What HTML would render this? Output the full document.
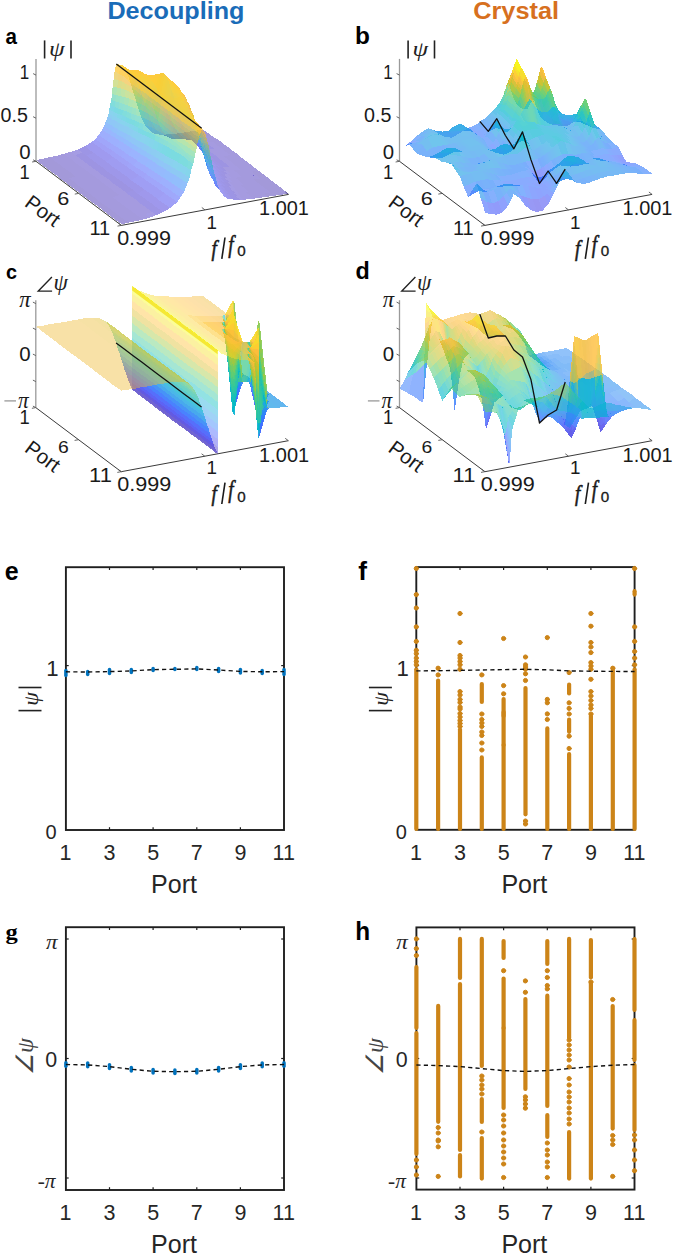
<!DOCTYPE html>
<html><head><meta charset="utf-8"><style>
html,body{margin:0;padding:0;background:#fff;}
svg{display:block;}
.c0{fill:#3e26a8}
.c1{fill:#3f29b0}
.c2{fill:#402bb8}
.c3{fill:#422ebf}
.c4{fill:#4331c7}
.c5{fill:#4434ce}
.c6{fill:#4537d5}
.c7{fill:#463adb}
.c8{fill:#463de0}
.c9{fill:#4741e5}
.c10{fill:#4745e9}
.c11{fill:#4849ed}
.c12{fill:#484cf0}
.c13{fill:#4850f3}
.c14{fill:#4854f5}
.c15{fill:#4758f8}
.c16{fill:#475bfa}
.c17{fill:#465ffb}
.c18{fill:#4563fc}
.c19{fill:#4367fd}
.c20{fill:#416bfe}
.c21{fill:#3f6fff}
.c22{fill:#3b73fe}
.c23{fill:#3777fe}
.c24{fill:#337bfc}
.c25{fill:#307ffb}
.c26{fill:#2e83f9}
.c27{fill:#2e86f7}
.c28{fill:#2d8af5}
.c29{fill:#2d8df2}
.c30{fill:#2b91ef}
.c31{fill:#2994ed}
.c32{fill:#2798ea}
.c33{fill:#259be8}
.c34{fill:#249ee6}
.c35{fill:#22a1e4}
.c36{fill:#20a4e3}
.c37{fill:#1ea7e1}
.c38{fill:#1caadf}
.c39{fill:#19addc}
.c40{fill:#15afd9}
.c41{fill:#10b2d5}
.c42{fill:#09b4d1}
.c43{fill:#04b6cd}
.c44{fill:#01b8c9}
.c45{fill:#02bac4}
.c46{fill:#06bcc0}
.c47{fill:#0dbdbb}
.c48{fill:#16bfb7}
.c49{fill:#1ec0b2}
.c50{fill:#25c2ad}
.c51{fill:#2ac3a8}
.c52{fill:#2fc5a3}
.c53{fill:#32c69e}
.c54{fill:#36c899}
.c55{fill:#3bc993}
.c56{fill:#41ca8d}
.c57{fill:#48cb86}
.c58{fill:#50cc80}
.c59{fill:#58cc79}
.c60{fill:#61cd71}
.c61{fill:#6acd6a}
.c62{fill:#73cd62}
.c63{fill:#7dcc5b}
.c64{fill:#87cb54}
.c65{fill:#91ca4c}
.c66{fill:#9ac945}
.c67{fill:#a3c83e}
.c68{fill:#adc638}
.c69{fill:#b5c533}
.c70{fill:#bec32e}
.c71{fill:#c6c22a}
.c72{fill:#cec028}
.c73{fill:#d6be28}
.c74{fill:#ddbd29}
.c75{fill:#e4bb2c}
.c76{fill:#eaba31}
.c77{fill:#f0ba36}
.c78{fill:#f6ba3b}
.c79{fill:#fabb3d}
.c80{fill:#febe3c}
.c81{fill:#fec239}
.c82{fill:#fec636}
.c83{fill:#feca34}
.c84{fill:#fdce31}
.c85{fill:#fbd22f}
.c86{fill:#f9d62d}
.c87{fill:#f8da2b}
.c88{fill:#f6df29}
.c89{fill:#f5e327}
.c90{fill:#f5e725}
.c91{fill:#f5eb23}
.c92{fill:#f6ef20}
.c93{fill:#f7f31d}
.c94{fill:#f8f719}
.c95{fill:#f9fb15}
.a11{fill-opacity:0.44}
.a12{fill-opacity:0.48}
.a13{fill-opacity:0.52}
.a14{fill-opacity:0.56}
.a15{fill-opacity:0.60}
.a16{fill-opacity:0.64}
.a17{fill-opacity:0.68}
.a18{fill-opacity:0.72}
.a19{fill-opacity:0.76}
.a20{fill-opacity:0.80}
.a21{fill-opacity:0.84}
.a22{fill-opacity:0.88}
</style></head><body>
<svg width="675" height="1255" viewBox="0 0 675 1255">
<rect width="675" height="1255" fill="#fff"/>
<text transform="translate(109.00,19.03) scale(1.085,1)" x="-1.51" y="0" style="font-family:'Liberation Sans';font-weight:bold;font-size:23.21px;fill:#1a6cb8;">Decoupling</text>
<text transform="translate(474.20,19.21) scale(1.067,1)" x="-0.95" y="0" style="font-family:'Liberation Sans';font-weight:bold;font-size:23.74px;fill:#d7701e;">Crystal</text>
<text transform="translate(6.20,43.77) scale(0.912,1)" x="-0.68" y="0" style="font-family:'Liberation Sans';font-weight:bold;font-size:22.55px;fill:#000;">a</text>
<text transform="translate(356.60,44.16) scale(1.011,1)" x="-1.57" y="0" style="font-family:'Liberation Sans';font-weight:bold;font-size:24.08px;fill:#000;">b</text>
<text transform="translate(6.70,279.20) scale(0.981,1)" x="-0.81" y="0" style="font-family:'Liberation Sans';font-weight:bold;font-size:20.18px;fill:#000;">c</text>
<text transform="translate(356.30,279.16) scale(0.970,1)" x="-0.96" y="0" style="font-family:'Liberation Sans';font-weight:bold;font-size:24.08px;fill:#000;">d</text>
<text transform="translate(5.80,580.05) scale(1.004,1)" x="-1.00" y="0" style="font-family:'Liberation Sans';font-weight:bold;font-size:24.91px;fill:#000;">e</text>
<text transform="translate(358.70,580.00) scale(1.023,1)" x="-0.38" y="0" style="font-family:'Liberation Sans';font-weight:bold;font-size:25.66px;fill:#000;">f</text>
<text transform="translate(6.20,939.20) scale(1.147,1)" x="-0.53" y="0" style="font-family:'Liberation Serif';font-weight:bold;font-size:21.37px;fill:#000;">g</text>
<text transform="translate(356.90,939.90) scale(0.971,1)" x="-1.76" y="0" style="font-family:'Liberation Sans';font-weight:bold;font-size:25.10px;fill:#000;">h</text>
<rect x="65.9" y="567.2" width="218.1" height="262.8" fill="none" stroke="#1f1f1f" stroke-width="1.9"/>
<line x1="109.5" y1="567.2" x2="109.5" y2="570.0" stroke="#1f1f1f" stroke-width="1.2"/>
<line x1="109.5" y1="830.0" x2="109.5" y2="827.2" stroke="#1f1f1f" stroke-width="1.2"/>
<line x1="153.1" y1="567.2" x2="153.1" y2="570.0" stroke="#1f1f1f" stroke-width="1.2"/>
<line x1="153.1" y1="830.0" x2="153.1" y2="827.2" stroke="#1f1f1f" stroke-width="1.2"/>
<line x1="196.8" y1="567.2" x2="196.8" y2="570.0" stroke="#1f1f1f" stroke-width="1.2"/>
<line x1="196.8" y1="830.0" x2="196.8" y2="827.2" stroke="#1f1f1f" stroke-width="1.2"/>
<line x1="240.4" y1="567.2" x2="240.4" y2="570.0" stroke="#1f1f1f" stroke-width="1.2"/>
<line x1="240.4" y1="830.0" x2="240.4" y2="827.2" stroke="#1f1f1f" stroke-width="1.2"/>
<line x1="65.9" y1="665.6" x2="68.7" y2="665.6" stroke="#1f1f1f" stroke-width="1.2"/>
<line x1="284.0" y1="665.6" x2="281.2" y2="665.6" stroke="#1f1f1f" stroke-width="1.2"/>
<g fill="#0072bd" stroke="#0072bd" stroke-linecap="round">
<line x1="65.9" y1="670.6" x2="65.9" y2="675.4" stroke-width="3.5"/>
<line x1="87.7" y1="671.6" x2="87.7" y2="674.4" stroke-width="3.5"/>
<line x1="109.5" y1="669.6" x2="109.5" y2="673.4" stroke-width="3.5"/>
<line x1="131.3" y1="669.6" x2="131.3" y2="672.4" stroke-width="3.5"/>
<line x1="153.1" y1="668.6" x2="153.1" y2="670.4" stroke-width="3.5"/>
<line x1="174.9" y1="668.6" x2="174.9" y2="669.4" stroke-width="3.5"/>
<line x1="196.8" y1="667.6" x2="196.8" y2="669.4" stroke-width="3.5"/>
<line x1="218.6" y1="668.6" x2="218.6" y2="671.4" stroke-width="3.5"/>
<line x1="240.4" y1="669.6" x2="240.4" y2="672.9" stroke-width="3.5"/>
<line x1="262.2" y1="670.6" x2="262.2" y2="673.4" stroke-width="3.5"/>
<line x1="284.0" y1="669.6" x2="284.0" y2="674.4" stroke-width="3.5"/>
</g>
<polyline points="65.9,671.8 87.7,672.0 109.5,671.6 131.3,670.9 153.1,669.6 174.9,669.3 196.8,668.9 218.6,670.0 240.4,671.4 262.2,671.8 284.0,671.6" fill="none" stroke="#111" stroke-width="1.4" stroke-dasharray="4.2,3.2"/>
<rect x="65.9" y="927.2" width="218.1" height="262.8" fill="none" stroke="#1f1f1f" stroke-width="1.9"/>
<line x1="109.5" y1="927.2" x2="109.5" y2="930.0" stroke="#1f1f1f" stroke-width="1.2"/>
<line x1="109.5" y1="1190.0" x2="109.5" y2="1187.2" stroke="#1f1f1f" stroke-width="1.2"/>
<line x1="153.1" y1="927.2" x2="153.1" y2="930.0" stroke="#1f1f1f" stroke-width="1.2"/>
<line x1="153.1" y1="1190.0" x2="153.1" y2="1187.2" stroke="#1f1f1f" stroke-width="1.2"/>
<line x1="196.8" y1="927.2" x2="196.8" y2="930.0" stroke="#1f1f1f" stroke-width="1.2"/>
<line x1="196.8" y1="1190.0" x2="196.8" y2="1187.2" stroke="#1f1f1f" stroke-width="1.2"/>
<line x1="240.4" y1="927.2" x2="240.4" y2="930.0" stroke="#1f1f1f" stroke-width="1.2"/>
<line x1="240.4" y1="1190.0" x2="240.4" y2="1187.2" stroke="#1f1f1f" stroke-width="1.2"/>
<line x1="65.9" y1="939.0" x2="68.7" y2="939.0" stroke="#1f1f1f" stroke-width="1.2"/>
<line x1="284.0" y1="939.0" x2="281.2" y2="939.0" stroke="#1f1f1f" stroke-width="1.2"/>
<line x1="65.9" y1="1058.5" x2="68.7" y2="1058.5" stroke="#1f1f1f" stroke-width="1.2"/>
<line x1="284.0" y1="1058.5" x2="281.2" y2="1058.5" stroke="#1f1f1f" stroke-width="1.2"/>
<line x1="65.9" y1="1178.0" x2="68.7" y2="1178.0" stroke="#1f1f1f" stroke-width="1.2"/>
<line x1="284.0" y1="1178.0" x2="281.2" y2="1178.0" stroke="#1f1f1f" stroke-width="1.2"/>
<g fill="#0072bd" stroke="#0072bd" stroke-linecap="round">
<line x1="65.9" y1="1062.7" x2="65.9" y2="1066.3" stroke-width="3.5"/>
<line x1="87.7" y1="1063.1" x2="87.7" y2="1066.7" stroke-width="3.5"/>
<line x1="109.5" y1="1064.8" x2="109.5" y2="1068.4" stroke-width="3.5"/>
<line x1="131.3" y1="1067.5" x2="131.3" y2="1071.1" stroke-width="3.5"/>
<line x1="153.1" y1="1069.5" x2="153.1" y2="1073.1" stroke-width="3.5"/>
<line x1="174.9" y1="1069.9" x2="174.9" y2="1073.5" stroke-width="3.5"/>
<line x1="196.8" y1="1069.5" x2="196.8" y2="1073.1" stroke-width="3.5"/>
<line x1="218.6" y1="1067.5" x2="218.6" y2="1071.1" stroke-width="3.5"/>
<line x1="240.4" y1="1064.8" x2="240.4" y2="1068.4" stroke-width="3.5"/>
<line x1="262.2" y1="1063.1" x2="262.2" y2="1066.7" stroke-width="3.5"/>
<line x1="284.0" y1="1062.7" x2="284.0" y2="1066.3" stroke-width="3.5"/>
</g>
<polyline points="65.9,1064.5 87.7,1064.9 109.5,1066.6 131.3,1069.3 153.1,1071.3 174.9,1071.7 196.8,1071.3 218.6,1069.3 240.4,1066.6 262.2,1064.9 284.0,1064.5" fill="none" stroke="#111" stroke-width="1.4" stroke-dasharray="4.2,3.2"/>
<rect x="416.3" y="567.1" width="218.3" height="262.7" fill="none" stroke="#1f1f1f" stroke-width="1.9"/>
<line x1="460.0" y1="567.1" x2="460.0" y2="569.9" stroke="#1f1f1f" stroke-width="1.2"/>
<line x1="460.0" y1="829.8" x2="460.0" y2="827.0" stroke="#1f1f1f" stroke-width="1.2"/>
<line x1="503.6" y1="567.1" x2="503.6" y2="569.9" stroke="#1f1f1f" stroke-width="1.2"/>
<line x1="503.6" y1="829.8" x2="503.6" y2="827.0" stroke="#1f1f1f" stroke-width="1.2"/>
<line x1="547.3" y1="567.1" x2="547.3" y2="569.9" stroke="#1f1f1f" stroke-width="1.2"/>
<line x1="547.3" y1="829.8" x2="547.3" y2="827.0" stroke="#1f1f1f" stroke-width="1.2"/>
<line x1="590.9" y1="567.1" x2="590.9" y2="569.9" stroke="#1f1f1f" stroke-width="1.2"/>
<line x1="590.9" y1="829.8" x2="590.9" y2="827.0" stroke="#1f1f1f" stroke-width="1.2"/>
<line x1="416.3" y1="665.6" x2="419.1" y2="665.6" stroke="#1f1f1f" stroke-width="1.2"/>
<line x1="634.6" y1="665.6" x2="631.8" y2="665.6" stroke="#1f1f1f" stroke-width="1.2"/>
<g fill="#cc8418" stroke="#cc8418" stroke-linecap="round">
<circle cx="416.3" cy="568.5" r="2.1"/>
<circle cx="416.3" cy="594.6" r="2.1"/>
<circle cx="416.3" cy="608.0" r="2.1"/>
<circle cx="416.3" cy="626.9" r="2.1"/>
<circle cx="416.3" cy="641.4" r="2.1"/>
<circle cx="416.3" cy="650.3" r="2.1"/>
<circle cx="416.3" cy="653.7" r="2.1"/>
<circle cx="416.3" cy="658.1" r="2.1"/>
<circle cx="416.3" cy="661.5" r="2.1"/>
<circle cx="416.3" cy="664.8" r="2.1"/>
<line x1="416.3" y1="669.3" x2="416.3" y2="829.0" stroke-width="4.2"/>
<circle cx="438.1" cy="668.2" r="2.1"/>
<circle cx="438.1" cy="674.9" r="2.1"/>
<line x1="438.1" y1="680.5" x2="438.1" y2="829.0" stroke-width="4.2"/>
<circle cx="460.0" cy="613.5" r="2.1"/>
<circle cx="460.0" cy="642.5" r="2.1"/>
<circle cx="460.0" cy="655.5" r="2.1"/>
<circle cx="460.0" cy="658.1" r="2.1"/>
<circle cx="460.0" cy="661.5" r="2.1"/>
<circle cx="460.0" cy="664.8" r="2.1"/>
<circle cx="460.0" cy="669.3" r="2.1"/>
<circle cx="460.0" cy="691.6" r="2.1"/>
<circle cx="460.0" cy="695.0" r="2.1"/>
<circle cx="460.0" cy="699.4" r="2.1"/>
<circle cx="460.0" cy="702.5" r="2.1"/>
<circle cx="460.0" cy="707.0" r="2.1"/>
<circle cx="460.0" cy="709.0" r="2.1"/>
<circle cx="460.0" cy="713.5" r="2.1"/>
<circle cx="460.0" cy="717.0" r="2.1"/>
<circle cx="460.0" cy="720.5" r="2.1"/>
<circle cx="460.0" cy="723.5" r="2.1"/>
<circle cx="460.0" cy="726.5" r="2.1"/>
<line x1="460.0" y1="729.5" x2="460.0" y2="829.0" stroke-width="4.2"/>
<circle cx="481.8" cy="674.9" r="2.1"/>
<line x1="481.8" y1="684.0" x2="481.8" y2="702.0" stroke-width="4.2"/>
<circle cx="481.8" cy="714.0" r="2.1"/>
<circle cx="481.8" cy="719.5" r="2.1"/>
<circle cx="481.8" cy="723.0" r="2.1"/>
<circle cx="481.8" cy="726.5" r="2.1"/>
<circle cx="481.8" cy="732.0" r="2.1"/>
<circle cx="481.8" cy="735.5" r="2.1"/>
<circle cx="481.8" cy="743.0" r="2.1"/>
<circle cx="481.8" cy="750.0" r="2.1"/>
<line x1="481.8" y1="757.4" x2="481.8" y2="829.0" stroke-width="4.2"/>
<circle cx="503.6" cy="638.5" r="2.1"/>
<circle cx="503.6" cy="685.6" r="2.1"/>
<circle cx="503.6" cy="693.8" r="2.1"/>
<line x1="503.6" y1="699.0" x2="503.6" y2="716.0" stroke-width="4.2"/>
<line x1="503.6" y1="712.0" x2="503.6" y2="745.0" stroke-width="4.2"/>
<line x1="503.6" y1="745.0" x2="503.6" y2="829.0" stroke-width="4.2"/>
<circle cx="525.5" cy="657.0" r="2.1"/>
<circle cx="525.5" cy="664.8" r="2.1"/>
<circle cx="525.5" cy="667.0" r="2.1"/>
<circle cx="525.5" cy="669.3" r="2.1"/>
<circle cx="525.5" cy="673.8" r="2.1"/>
<circle cx="525.5" cy="680.5" r="2.1"/>
<line x1="525.5" y1="688.0" x2="525.5" y2="814.3" stroke-width="4.2"/>
<circle cx="525.5" cy="821.0" r="2.1"/>
<circle cx="525.5" cy="824.0" r="2.1"/>
<circle cx="547.3" cy="637.6" r="2.1"/>
<circle cx="547.3" cy="699.4" r="2.1"/>
<circle cx="547.3" cy="702.8" r="2.1"/>
<circle cx="547.3" cy="713.9" r="2.1"/>
<circle cx="547.3" cy="719.5" r="2.1"/>
<line x1="547.3" y1="728.4" x2="547.3" y2="829.0" stroke-width="4.2"/>
<circle cx="569.1" cy="672.6" r="2.1"/>
<line x1="569.1" y1="684.5" x2="569.1" y2="693.5" stroke-width="4.2"/>
<circle cx="569.1" cy="702.8" r="2.1"/>
<circle cx="569.1" cy="708.4" r="2.1"/>
<circle cx="569.1" cy="714.0" r="2.1"/>
<line x1="569.1" y1="719.5" x2="569.1" y2="731.8" stroke-width="4.2"/>
<circle cx="569.1" cy="736.2" r="2.1"/>
<circle cx="569.1" cy="748.5" r="2.1"/>
<line x1="569.1" y1="754.0" x2="569.1" y2="829.0" stroke-width="4.2"/>
<circle cx="590.9" cy="613.5" r="2.1"/>
<circle cx="590.9" cy="626.2" r="2.1"/>
<circle cx="590.9" cy="642.5" r="2.1"/>
<circle cx="590.9" cy="647.0" r="2.1"/>
<circle cx="590.9" cy="652.6" r="2.1"/>
<circle cx="590.9" cy="662.6" r="2.1"/>
<circle cx="590.9" cy="666.0" r="2.1"/>
<circle cx="590.9" cy="669.3" r="2.1"/>
<circle cx="590.9" cy="679.3" r="2.1"/>
<circle cx="590.9" cy="691.6" r="2.1"/>
<circle cx="590.9" cy="696.0" r="2.1"/>
<circle cx="590.9" cy="700.5" r="2.1"/>
<circle cx="590.9" cy="705.0" r="2.1"/>
<circle cx="590.9" cy="708.4" r="2.1"/>
<circle cx="590.9" cy="714.0" r="2.1"/>
<line x1="590.9" y1="716.0" x2="590.9" y2="829.0" stroke-width="4.2"/>
<circle cx="612.8" cy="668.2" r="2.1"/>
<line x1="612.8" y1="670.4" x2="612.8" y2="829.0" stroke-width="4.2"/>
<circle cx="634.6" cy="568.5" r="2.1"/>
<line x1="634.6" y1="591.2" x2="634.6" y2="594.6" stroke-width="4.2"/>
<circle cx="634.6" cy="626.9" r="2.1"/>
<circle cx="634.6" cy="641.4" r="2.1"/>
<circle cx="634.6" cy="651.5" r="2.1"/>
<circle cx="634.6" cy="658.1" r="2.1"/>
<circle cx="634.6" cy="664.8" r="2.1"/>
<line x1="634.6" y1="669.3" x2="634.6" y2="829.0" stroke-width="4.2"/>
</g>
<polyline points="416.3,670.9 438.1,670.7 460.0,670.4 481.8,670.0 503.6,669.6 525.5,669.3 547.3,669.8 569.1,670.9 590.9,671.2 612.8,671.4 634.6,671.5" fill="none" stroke="#111" stroke-width="1.4" stroke-dasharray="4.2,3.2"/>
<rect x="416.4" y="927.4" width="218.1" height="262.2" fill="none" stroke="#1f1f1f" stroke-width="1.9"/>
<line x1="460.0" y1="927.4" x2="460.0" y2="930.2" stroke="#1f1f1f" stroke-width="1.2"/>
<line x1="460.0" y1="1189.6" x2="460.0" y2="1186.8" stroke="#1f1f1f" stroke-width="1.2"/>
<line x1="503.6" y1="927.4" x2="503.6" y2="930.2" stroke="#1f1f1f" stroke-width="1.2"/>
<line x1="503.6" y1="1189.6" x2="503.6" y2="1186.8" stroke="#1f1f1f" stroke-width="1.2"/>
<line x1="547.3" y1="927.4" x2="547.3" y2="930.2" stroke="#1f1f1f" stroke-width="1.2"/>
<line x1="547.3" y1="1189.6" x2="547.3" y2="1186.8" stroke="#1f1f1f" stroke-width="1.2"/>
<line x1="590.9" y1="927.4" x2="590.9" y2="930.2" stroke="#1f1f1f" stroke-width="1.2"/>
<line x1="590.9" y1="1189.6" x2="590.9" y2="1186.8" stroke="#1f1f1f" stroke-width="1.2"/>
<line x1="416.4" y1="939.0" x2="419.2" y2="939.0" stroke="#1f1f1f" stroke-width="1.2"/>
<line x1="634.5" y1="939.0" x2="631.7" y2="939.0" stroke="#1f1f1f" stroke-width="1.2"/>
<line x1="416.4" y1="1058.5" x2="419.2" y2="1058.5" stroke="#1f1f1f" stroke-width="1.2"/>
<line x1="634.5" y1="1058.5" x2="631.7" y2="1058.5" stroke="#1f1f1f" stroke-width="1.2"/>
<line x1="416.4" y1="1178.0" x2="419.2" y2="1178.0" stroke="#1f1f1f" stroke-width="1.2"/>
<line x1="634.5" y1="1178.0" x2="631.7" y2="1178.0" stroke="#1f1f1f" stroke-width="1.2"/>
<g fill="#cc8418" stroke="#cc8418" stroke-linecap="round">
<circle cx="416.4" cy="938.9" r="2.1"/>
<circle cx="416.4" cy="948.6" r="2.1"/>
<circle cx="416.4" cy="955.5" r="2.1"/>
<line x1="416.4" y1="967.0" x2="416.4" y2="1028.0" stroke-width="4.2"/>
<line x1="416.4" y1="1033.0" x2="416.4" y2="1154.0" stroke-width="4.2"/>
<circle cx="416.4" cy="1160.0" r="2.1"/>
<circle cx="416.4" cy="1167.0" r="2.1"/>
<circle cx="416.4" cy="1175.0" r="2.1"/>
<line x1="438.2" y1="1005.9" x2="438.2" y2="1121.8" stroke-width="4.2"/>
<circle cx="438.2" cy="1127.5" r="2.1"/>
<circle cx="438.2" cy="1133.0" r="2.1"/>
<circle cx="438.2" cy="1140.0" r="2.1"/>
<circle cx="438.2" cy="1141.0" r="2.1"/>
<circle cx="438.2" cy="1146.8" r="2.1"/>
<circle cx="438.2" cy="1176.4" r="2.1"/>
<line x1="460.0" y1="938.9" x2="460.0" y2="978.0" stroke-width="4.2"/>
<line x1="460.0" y1="984.0" x2="460.0" y2="1150.0" stroke-width="4.2"/>
<line x1="460.0" y1="1155.0" x2="460.0" y2="1176.4" stroke-width="4.2"/>
<line x1="481.8" y1="938.9" x2="481.8" y2="1066.0" stroke-width="4.2"/>
<circle cx="481.8" cy="1076.0" r="2.1"/>
<circle cx="481.8" cy="1080.0" r="2.1"/>
<circle cx="481.8" cy="1085.0" r="2.1"/>
<circle cx="481.8" cy="1089.0" r="2.1"/>
<circle cx="481.8" cy="1094.0" r="2.1"/>
<line x1="481.8" y1="1099.0" x2="481.8" y2="1122.0" stroke-width="4.2"/>
<circle cx="481.8" cy="1132.0" r="2.1"/>
<line x1="481.8" y1="1138.0" x2="481.8" y2="1178.6" stroke-width="4.2"/>
<line x1="503.6" y1="941.0" x2="503.6" y2="958.0" stroke-width="4.2"/>
<circle cx="503.6" cy="970.7" r="2.1"/>
<line x1="503.6" y1="978.6" x2="503.6" y2="1028.0" stroke-width="4.2"/>
<line x1="503.6" y1="1028.0" x2="503.6" y2="1108.0" stroke-width="4.2"/>
<circle cx="503.6" cy="1115.0" r="2.1"/>
<circle cx="503.6" cy="1120.0" r="2.1"/>
<circle cx="503.6" cy="1126.0" r="2.1"/>
<circle cx="503.6" cy="1133.0" r="2.1"/>
<circle cx="503.6" cy="1140.0" r="2.1"/>
<circle cx="503.6" cy="1146.0" r="2.1"/>
<circle cx="503.6" cy="1152.0" r="2.1"/>
<circle cx="503.6" cy="1158.0" r="2.1"/>
<circle cx="503.6" cy="1164.0" r="2.1"/>
<circle cx="503.6" cy="1177.5" r="2.1"/>
<circle cx="525.4" cy="980.9" r="2.1"/>
<circle cx="525.4" cy="992.3" r="2.1"/>
<line x1="525.4" y1="999.0" x2="525.4" y2="1088.9" stroke-width="4.2"/>
<circle cx="525.4" cy="1096.8" r="2.1"/>
<circle cx="525.4" cy="1100.0" r="2.1"/>
<circle cx="525.4" cy="1104.0" r="2.1"/>
<circle cx="525.4" cy="1108.2" r="2.1"/>
<line x1="547.3" y1="941.0" x2="547.3" y2="964.0" stroke-width="4.2"/>
<circle cx="547.3" cy="970.7" r="2.1"/>
<circle cx="547.3" cy="977.5" r="2.1"/>
<circle cx="547.3" cy="985.5" r="2.1"/>
<circle cx="547.3" cy="988.9" r="2.1"/>
<line x1="547.3" y1="995.7" x2="547.3" y2="1105.9" stroke-width="4.2"/>
<line x1="547.3" y1="1115.0" x2="547.3" y2="1137.0" stroke-width="4.2"/>
<circle cx="547.3" cy="1143.0" r="2.1"/>
<circle cx="547.3" cy="1150.0" r="2.1"/>
<circle cx="547.3" cy="1155.0" r="2.1"/>
<circle cx="547.3" cy="1162.0" r="2.1"/>
<circle cx="547.3" cy="1167.0" r="2.1"/>
<circle cx="547.3" cy="1177.5" r="2.1"/>
<line x1="569.1" y1="938.9" x2="569.1" y2="1037.7" stroke-width="4.2"/>
<circle cx="569.1" cy="1040.0" r="2.1"/>
<circle cx="569.1" cy="1045.0" r="2.1"/>
<circle cx="569.1" cy="1050.0" r="2.1"/>
<circle cx="569.1" cy="1055.0" r="2.1"/>
<circle cx="569.1" cy="1060.0" r="2.1"/>
<circle cx="569.1" cy="1067.0" r="2.1"/>
<circle cx="569.1" cy="1078.6" r="2.1"/>
<circle cx="569.1" cy="1085.0" r="2.1"/>
<circle cx="569.1" cy="1092.0" r="2.1"/>
<circle cx="569.1" cy="1097.0" r="2.1"/>
<circle cx="569.1" cy="1102.0" r="2.1"/>
<circle cx="569.1" cy="1108.0" r="2.1"/>
<circle cx="569.1" cy="1113.0" r="2.1"/>
<circle cx="569.1" cy="1119.0" r="2.1"/>
<circle cx="569.1" cy="1124.0" r="2.1"/>
<line x1="569.1" y1="1132.0" x2="569.1" y2="1178.6" stroke-width="4.2"/>
<line x1="590.9" y1="940.0" x2="590.9" y2="977.5" stroke-width="4.2"/>
<circle cx="590.9" cy="982.0" r="2.1"/>
<line x1="590.9" y1="983.0" x2="590.9" y2="1178.6" stroke-width="4.2"/>
<circle cx="612.7" cy="999.5" r="2.1"/>
<line x1="612.7" y1="1006.0" x2="612.7" y2="1128.6" stroke-width="4.2"/>
<circle cx="612.7" cy="1135.5" r="2.1"/>
<circle cx="612.7" cy="1140.0" r="2.1"/>
<circle cx="612.7" cy="1144.5" r="2.1"/>
<circle cx="612.7" cy="1176.4" r="2.1"/>
<line x1="634.5" y1="939.0" x2="634.5" y2="1010.0" stroke-width="4.2"/>
<line x1="634.5" y1="1020.0" x2="634.5" y2="1060.0" stroke-width="4.2"/>
<line x1="634.5" y1="1065.0" x2="634.5" y2="1130.0" stroke-width="4.2"/>
<circle cx="634.5" cy="1135.0" r="2.1"/>
<circle cx="634.5" cy="1140.0" r="2.1"/>
<circle cx="634.5" cy="1150.0" r="2.1"/>
<circle cx="634.5" cy="1160.0" r="2.1"/>
<circle cx="634.5" cy="1170.7" r="2.1"/>
</g>
<polyline points="416.4,1065.0 438.2,1065.6 460.0,1066.6 481.8,1068.6 503.6,1070.6 525.4,1071.4 547.3,1070.6 569.1,1068.6 590.9,1066.6 612.7,1065.2 634.5,1064.5" fill="none" stroke="#111" stroke-width="1.4" stroke-dasharray="4.2,3.2"/>
<text x="59.61" y="860.04" style="font-family:'Liberation Sans';font-size:21.5px;fill:#262626;">1</text>
<text x="103.55" y="860.25" style="font-family:'Liberation Sans';font-size:21.5px;fill:#262626;">3</text>
<text x="147.17" y="860.04" style="font-family:'Liberation Sans';font-size:21.5px;fill:#262626;">5</text>
<text x="190.79" y="860.04" style="font-family:'Liberation Sans';font-size:21.5px;fill:#262626;">7</text>
<text x="234.41" y="860.25" style="font-family:'Liberation Sans';font-size:21.5px;fill:#262626;">9</text>
<text x="272.55" y="860.04" style="font-family:'Liberation Sans';font-size:21.5px;fill:#262626;">11</text>
<text x="410.01" y="860.04" style="font-family:'Liberation Sans';font-size:21.5px;fill:#262626;">1</text>
<text x="453.99" y="860.25" style="font-family:'Liberation Sans';font-size:21.5px;fill:#262626;">3</text>
<text x="497.65" y="860.04" style="font-family:'Liberation Sans';font-size:21.5px;fill:#262626;">5</text>
<text x="541.31" y="860.04" style="font-family:'Liberation Sans';font-size:21.5px;fill:#262626;">7</text>
<text x="584.97" y="860.25" style="font-family:'Liberation Sans';font-size:21.5px;fill:#262626;">9</text>
<text x="623.15" y="860.04" style="font-family:'Liberation Sans';font-size:21.5px;fill:#262626;">11</text>
<text x="59.61" y="1219.84" style="font-family:'Liberation Sans';font-size:21.5px;fill:#262626;">1</text>
<text x="103.55" y="1220.05" style="font-family:'Liberation Sans';font-size:21.5px;fill:#262626;">3</text>
<text x="147.17" y="1219.84" style="font-family:'Liberation Sans';font-size:21.5px;fill:#262626;">5</text>
<text x="190.79" y="1219.84" style="font-family:'Liberation Sans';font-size:21.5px;fill:#262626;">7</text>
<text x="234.41" y="1220.05" style="font-family:'Liberation Sans';font-size:21.5px;fill:#262626;">9</text>
<text x="272.55" y="1219.84" style="font-family:'Liberation Sans';font-size:21.5px;fill:#262626;">11</text>
<text x="410.11" y="1219.84" style="font-family:'Liberation Sans';font-size:21.5px;fill:#262626;">1</text>
<text x="454.05" y="1220.05" style="font-family:'Liberation Sans';font-size:21.5px;fill:#262626;">3</text>
<text x="497.67" y="1219.84" style="font-family:'Liberation Sans';font-size:21.5px;fill:#262626;">5</text>
<text x="541.29" y="1219.84" style="font-family:'Liberation Sans';font-size:21.5px;fill:#262626;">7</text>
<text x="584.91" y="1220.05" style="font-family:'Liberation Sans';font-size:21.5px;fill:#262626;">9</text>
<text x="623.05" y="1219.84" style="font-family:'Liberation Sans';font-size:21.5px;fill:#262626;">11</text>
<text transform="translate(153.00,892.55) scale(0.985,1)" x="-2.03" y="0" style="font-family:'Liberation Sans';font-size:25.43px;fill:#262626;">Port</text>
<text transform="translate(503.40,892.55) scale(0.985,1)" x="-2.03" y="0" style="font-family:'Liberation Sans';font-size:25.43px;fill:#262626;">Port</text>
<text transform="translate(153.00,1253.05) scale(0.985,1)" x="-2.03" y="0" style="font-family:'Liberation Sans';font-size:25.43px;fill:#262626;">Port</text>
<text transform="translate(503.40,1253.05) scale(0.985,1)" x="-2.03" y="0" style="font-family:'Liberation Sans';font-size:25.43px;fill:#262626;">Port</text>
<text x="46.14" y="675.60" style="font-family:'Liberation Sans';font-size:22.17px;fill:#262626;">1</text>
<text x="45.40" y="838.90" style="font-family:'Liberation Sans';font-size:20.00px;fill:#262626;">0</text>
<text transform="translate(46.00,948.68) scale(1.063,1)" x="-0.11" y="0" style="font-family:'Liberation Serif';font-style:italic;font-size:21.70px;fill:#262626;">π</text>
<text x="45.34" y="1067.39" style="font-family:'Liberation Sans';font-size:21.41px;fill:#262626;">0</text>
<text transform="translate(38.40,1187.59) scale(1.023,1)" x="-0.73" y="0" style="font-family:'Liberation Serif';font-style:italic;font-size:20.85px;fill:#262626;">-π</text>
<text x="396.54" y="675.60" style="font-family:'Liberation Sans';font-size:22.17px;fill:#262626;">1</text>
<text x="395.80" y="838.90" style="font-family:'Liberation Sans';font-size:20.00px;fill:#262626;">0</text>
<text transform="translate(396.40,948.68) scale(1.063,1)" x="-0.11" y="0" style="font-family:'Liberation Serif';font-style:italic;font-size:21.70px;fill:#262626;">π</text>
<text x="395.74" y="1067.39" style="font-family:'Liberation Sans';font-size:21.41px;fill:#262626;">0</text>
<text transform="translate(388.80,1187.59) scale(1.023,1)" x="-0.73" y="0" style="font-family:'Liberation Serif';font-style:italic;font-size:20.85px;fill:#262626;">-π</text>
<g transform="translate(0,0)"><line x1="18.5" y1="687.5" x2="41.5" y2="687.5" stroke="#222" stroke-width="1.6"/><line x1="18.5" y1="710.6" x2="41.5" y2="710.6" stroke="#222" stroke-width="1.6"/><text transform="translate(37.5,699.0) rotate(-90)" text-anchor="middle" style="font-family:'Liberation Serif';font-style:italic;font-size:22px;fill:#222;">ψ</text></g>
<g transform="translate(0,0)"><text transform="translate(33.0,1056.5) rotate(-90)" text-anchor="middle" style="font-family:'Liberation Serif';font-style:italic;font-size:24px;fill:#444;">∠ψ</text></g>
<g transform="translate(350.4,0)"><line x1="18.5" y1="687.5" x2="41.5" y2="687.5" stroke="#222" stroke-width="1.6"/><line x1="18.5" y1="710.6" x2="41.5" y2="710.6" stroke="#222" stroke-width="1.6"/><text transform="translate(37.5,699.0) rotate(-90)" text-anchor="middle" style="font-family:'Liberation Serif';font-style:italic;font-size:22px;fill:#222;">ψ</text></g>
<g transform="translate(350.4,0)"><text transform="translate(33.0,1056.5) rotate(-90)" text-anchor="middle" style="font-family:'Liberation Serif';font-style:italic;font-size:24px;fill:#444;">∠ψ</text></g>
<line x1="44.6" y1="40.4" x2="44.6" y2="58.5" stroke="#222" stroke-width="1.6"/><line x1="71.0" y1="40.4" x2="71.0" y2="58.5" stroke="#222" stroke-width="1.6"/><text transform="translate(50.60,55.54) scale(1.208,1)" x="-1.24" y="0" style="font-family:'Liberation Serif';font-style:italic;font-size:20.74px;fill:#222;">ψ</text>
<text transform="translate(21.00,78.70) scale(0.876,1)" x="-1.46" y="0" style="font-family:'Liberation Sans';font-size:19.42px;fill:#1a1a1a;">1</text>
<text transform="translate(1.30,121.60) scale(0.999,1)" x="-0.79" y="0" style="font-family:'Liberation Sans';font-size:19.72px;fill:#1a1a1a;">0.5</text>
<text transform="translate(20.00,159.41) scale(1.050,1)" x="-0.78" y="0" style="font-family:'Liberation Sans';font-size:19.44px;fill:#1a1a1a;">0</text>
<text transform="translate(20.90,178.70) scale(0.947,1)" x="-1.46" y="0" style="font-family:'Liberation Sans';font-size:19.42px;fill:#1a1a1a;">1</text>
<text transform="translate(58.30,205.31) scale(1.134,1)" x="-0.96" y="0" style="font-family:'Liberation Sans';font-size:19.15px;fill:#1a1a1a;">6</text>
<text transform="translate(90.90,234.50) scale(1.015,1)" x="-1.48" y="0" style="font-family:'Liberation Sans';font-size:19.71px;fill:#1a1a1a;">11</text>
<text transform="translate(118.00,244.79) scale(1.019,1)" x="-0.85" y="0" style="font-family:'Liberation Sans';font-size:21.13px;fill:#1a1a1a;">0.999</text>
<text transform="translate(207.80,228.70) scale(0.993,1)" x="-1.42" y="0" style="font-family:'Liberation Sans';font-size:18.99px;fill:#1a1a1a;">1</text>
<text transform="translate(260.60,215.39) scale(0.969,1)" x="-1.54" y="0" style="font-family:'Liberation Sans';font-size:20.56px;fill:#1a1a1a;">1.001</text>
<text transform="translate(211.80,256.26) scale(0.804,1)" x="-0.24" y="0" style="font-family:'Liberation Serif';font-style:italic;font-size:23.91px;fill:#1a1a1a;stroke:#1a1a1a;stroke-width:0.6px;">f</text><line x1="225.0" y1="237.5" x2="221.8" y2="258.8" stroke="#1a1a1a" stroke-width="1.6"/><text transform="translate(228.50,253.15) scale(0.759,1)" x="-0.25" y="0" style="font-family:'Liberation Serif';font-style:italic;font-size:25.33px;fill:#1a1a1a;stroke:#1a1a1a;stroke-width:0.6px;">f</text><text transform="translate(237.90,256.36) scale(1.102,1)" x="-0.55" y="0" style="font-family:'Liberation Sans';font-size:13.80px;fill:#1a1a1a;stroke:#1a1a1a;stroke-width:0.3px;">0</text>
<text transform="translate(23.6,205.3) rotate(36.5)" style="font-family:'Liberation Sans';font-size:20.5px;fill:#1a1a1a;">Port</text>
<polyline points="51.9,277.0 38.3,291.1 52.1,291.1" fill="none" stroke="#222" stroke-width="1.4"/><text transform="translate(54.80,290.12) scale(1.019,1)" x="-1.36" y="0" style="font-family:'Liberation Serif';font-style:italic;font-size:22.70px;fill:#222;">ψ</text>
<text transform="translate(19.30,307.36) scale(0.961,1)" x="-0.12" y="0" style="font-family:'Liberation Serif';font-style:italic;font-size:23.62px;fill:#1a1a1a;">π</text>
<text transform="translate(20.00,361.10) scale(1.014,1)" x="-0.81" y="0" style="font-family:'Liberation Sans';font-size:20.14px;fill:#1a1a1a;">0</text>
<line x1="4.4" y1="400.9" x2="16.0" y2="400.9" stroke="#999" stroke-width="1.3"/>
<text transform="translate(18.20,408.17) scale(0.946,1)" x="-0.11" y="0" style="font-family:'Liberation Serif';font-style:italic;font-size:22.55px;fill:#1a1a1a;">π</text>
<text transform="translate(20.90,424.40) scale(0.947,1)" x="-1.46" y="0" style="font-family:'Liberation Sans';font-size:19.42px;fill:#1a1a1a;">1</text>
<text transform="translate(59.00,452.83) scale(1.117,1)" x="-0.87" y="0" style="font-family:'Liberation Sans';font-size:17.32px;fill:#1a1a1a;">6</text>
<text transform="translate(90.70,481.50) scale(1.098,1)" x="-1.50" y="0" style="font-family:'Liberation Sans';font-size:20.00px;fill:#1a1a1a;">11</text>
<text transform="translate(118.10,491.49) scale(1.044,1)" x="-0.83" y="0" style="font-family:'Liberation Sans';font-size:20.70px;fill:#1a1a1a;">0.999</text>
<text transform="translate(207.80,473.80) scale(0.993,1)" x="-1.42" y="0" style="font-family:'Liberation Sans';font-size:18.99px;fill:#1a1a1a;">1</text>
<text transform="translate(260.60,462.19) scale(0.966,1)" x="-1.55" y="0" style="font-family:'Liberation Sans';font-size:20.70px;fill:#1a1a1a;">1.001</text>
<text transform="translate(211.80,501.46) scale(0.804,1)" x="-0.24" y="0" style="font-family:'Liberation Serif';font-style:italic;font-size:23.91px;fill:#1a1a1a;stroke:#1a1a1a;stroke-width:0.6px;">f</text><line x1="225.0" y1="482.7" x2="221.8" y2="504.0" stroke="#1a1a1a" stroke-width="1.6"/><text transform="translate(228.50,498.35) scale(0.759,1)" x="-0.25" y="0" style="font-family:'Liberation Serif';font-style:italic;font-size:25.33px;fill:#1a1a1a;stroke:#1a1a1a;stroke-width:0.6px;">f</text><text transform="translate(237.90,501.56) scale(1.102,1)" x="-0.55" y="0" style="font-family:'Liberation Sans';font-size:13.80px;fill:#1a1a1a;stroke:#1a1a1a;stroke-width:0.3px;">0</text>
<text transform="translate(23.6,450.8) rotate(36.5)" style="font-family:'Liberation Sans';font-size:20.5px;fill:#1a1a1a;">Port</text>
<line x1="408.1" y1="40.4" x2="408.1" y2="58.5" stroke="#222" stroke-width="1.6"/><line x1="434.5" y1="40.4" x2="434.5" y2="58.5" stroke="#222" stroke-width="1.6"/><text transform="translate(414.10,55.54) scale(1.208,1)" x="-1.24" y="0" style="font-family:'Liberation Serif';font-style:italic;font-size:20.74px;fill:#222;">ψ</text>
<text transform="translate(384.50,78.70) scale(0.876,1)" x="-1.46" y="0" style="font-family:'Liberation Sans';font-size:19.42px;fill:#1a1a1a;">1</text>
<text transform="translate(364.80,121.60) scale(0.999,1)" x="-0.79" y="0" style="font-family:'Liberation Sans';font-size:19.72px;fill:#1a1a1a;">0.5</text>
<text transform="translate(383.50,159.41) scale(1.050,1)" x="-0.78" y="0" style="font-family:'Liberation Sans';font-size:19.44px;fill:#1a1a1a;">0</text>
<text transform="translate(384.40,178.70) scale(0.947,1)" x="-1.46" y="0" style="font-family:'Liberation Sans';font-size:19.42px;fill:#1a1a1a;">1</text>
<text transform="translate(421.80,205.31) scale(1.134,1)" x="-0.96" y="0" style="font-family:'Liberation Sans';font-size:19.15px;fill:#1a1a1a;">6</text>
<text transform="translate(454.40,234.50) scale(1.015,1)" x="-1.48" y="0" style="font-family:'Liberation Sans';font-size:19.71px;fill:#1a1a1a;">11</text>
<text transform="translate(481.50,244.79) scale(1.019,1)" x="-0.85" y="0" style="font-family:'Liberation Sans';font-size:21.13px;fill:#1a1a1a;">0.999</text>
<text transform="translate(571.30,228.70) scale(0.993,1)" x="-1.42" y="0" style="font-family:'Liberation Sans';font-size:18.99px;fill:#1a1a1a;">1</text>
<text transform="translate(624.10,215.39) scale(0.969,1)" x="-1.54" y="0" style="font-family:'Liberation Sans';font-size:20.56px;fill:#1a1a1a;">1.001</text>
<text transform="translate(575.30,256.26) scale(0.804,1)" x="-0.24" y="0" style="font-family:'Liberation Serif';font-style:italic;font-size:23.91px;fill:#1a1a1a;stroke:#1a1a1a;stroke-width:0.6px;">f</text><line x1="588.5" y1="237.5" x2="585.3" y2="258.8" stroke="#1a1a1a" stroke-width="1.6"/><text transform="translate(592.00,253.15) scale(0.759,1)" x="-0.25" y="0" style="font-family:'Liberation Serif';font-style:italic;font-size:25.33px;fill:#1a1a1a;stroke:#1a1a1a;stroke-width:0.6px;">f</text><text transform="translate(601.40,256.36) scale(1.102,1)" x="-0.55" y="0" style="font-family:'Liberation Sans';font-size:13.80px;fill:#1a1a1a;stroke:#1a1a1a;stroke-width:0.3px;">0</text>
<text transform="translate(387.1,205.3) rotate(36.5)" style="font-family:'Liberation Sans';font-size:20.5px;fill:#1a1a1a;">Port</text>
<polyline points="415.4,277.0 401.8,291.1 415.6,291.1" fill="none" stroke="#222" stroke-width="1.4"/><text transform="translate(418.30,290.12) scale(1.019,1)" x="-1.36" y="0" style="font-family:'Liberation Serif';font-style:italic;font-size:22.70px;fill:#222;">ψ</text>
<text transform="translate(382.80,307.36) scale(0.961,1)" x="-0.12" y="0" style="font-family:'Liberation Serif';font-style:italic;font-size:23.62px;fill:#1a1a1a;">π</text>
<text transform="translate(383.50,361.10) scale(1.014,1)" x="-0.81" y="0" style="font-family:'Liberation Sans';font-size:20.14px;fill:#1a1a1a;">0</text>
<line x1="367.9" y1="400.9" x2="379.5" y2="400.9" stroke="#999" stroke-width="1.3"/>
<text transform="translate(381.70,408.17) scale(0.946,1)" x="-0.11" y="0" style="font-family:'Liberation Serif';font-style:italic;font-size:22.55px;fill:#1a1a1a;">π</text>
<text transform="translate(384.40,424.40) scale(0.947,1)" x="-1.46" y="0" style="font-family:'Liberation Sans';font-size:19.42px;fill:#1a1a1a;">1</text>
<text transform="translate(422.50,452.83) scale(1.117,1)" x="-0.87" y="0" style="font-family:'Liberation Sans';font-size:17.32px;fill:#1a1a1a;">6</text>
<text transform="translate(454.20,481.50) scale(1.098,1)" x="-1.50" y="0" style="font-family:'Liberation Sans';font-size:20.00px;fill:#1a1a1a;">11</text>
<text transform="translate(481.60,491.49) scale(1.044,1)" x="-0.83" y="0" style="font-family:'Liberation Sans';font-size:20.70px;fill:#1a1a1a;">0.999</text>
<text transform="translate(571.30,473.80) scale(0.993,1)" x="-1.42" y="0" style="font-family:'Liberation Sans';font-size:18.99px;fill:#1a1a1a;">1</text>
<text transform="translate(624.10,462.19) scale(0.966,1)" x="-1.55" y="0" style="font-family:'Liberation Sans';font-size:20.70px;fill:#1a1a1a;">1.001</text>
<text transform="translate(575.30,501.46) scale(0.804,1)" x="-0.24" y="0" style="font-family:'Liberation Serif';font-style:italic;font-size:23.91px;fill:#1a1a1a;stroke:#1a1a1a;stroke-width:0.6px;">f</text><line x1="588.5" y1="482.7" x2="585.3" y2="504.0" stroke="#1a1a1a" stroke-width="1.6"/><text transform="translate(592.00,498.35) scale(0.759,1)" x="-0.25" y="0" style="font-family:'Liberation Serif';font-style:italic;font-size:25.33px;fill:#1a1a1a;stroke:#1a1a1a;stroke-width:0.6px;">f</text><text transform="translate(601.40,501.56) scale(1.102,1)" x="-0.55" y="0" style="font-family:'Liberation Sans';font-size:13.80px;fill:#1a1a1a;stroke:#1a1a1a;stroke-width:0.3px;">0</text>
<text transform="translate(387.1,450.8) rotate(36.5)" style="font-family:'Liberation Sans';font-size:20.5px;fill:#1a1a1a;">Port</text>
<line x1="36.0" y1="161.3" x2="36.0" y2="58.9" stroke="#9a9a9a" stroke-width="1.3"/>
<line x1="33.1" y1="159.8" x2="36.0" y2="161.3" stroke="#555" stroke-width="0.9"/>
<line x1="33.1" y1="116.7" x2="36.0" y2="118.2" stroke="#555" stroke-width="0.9"/>
<line x1="33.1" y1="73.6" x2="36.0" y2="75.1" stroke="#555" stroke-width="0.9"/>
<line x1="36.0" y1="161.3" x2="121.4" y2="225.4" stroke="#3a3a3a" stroke-width="1"/>
<line x1="121.4" y1="225.4" x2="288.6" y2="194.4" stroke="#3a3a3a" stroke-width="1"/>
<line x1="36.0" y1="161.3" x2="32.1" y2="162.0" stroke="#555" stroke-width="0.9"/>
<line x1="78.7" y1="193.4" x2="74.8" y2="194.1" stroke="#555" stroke-width="0.9"/>
<line x1="121.4" y1="225.4" x2="117.5" y2="226.1" stroke="#555" stroke-width="0.9"/>
<line x1="121.4" y1="225.4" x2="118.2" y2="223.0" stroke="#555" stroke-width="0.9"/>
<line x1="205.0" y1="209.9" x2="201.8" y2="207.5" stroke="#555" stroke-width="0.9"/>
<line x1="288.6" y1="194.4" x2="285.4" y2="192.0" stroke="#555" stroke-width="0.9"/>
<g shape-rendering="crispEdges" transform="matrix(.5 0 0 .5 .13 .13)"><path d="M379 263l13-2 14-2 9 6-14 2-14 2z" class="c1 a12"/><path d="M401 267l14-2 8 6-13 2z" class="c1 a12"/><path d="M344 268l7-1 14-2 14-2 8 6-14 2-14 1-7 1z" class="c2 a12"/><path d="M359 272l14-1 14-2 14-2 9 6-14 2-14 2-14 1z" class="c2 a12"/><path d="M337 268l7 0 8 5-7 0z" class="c3 a12"/><path d="M330 269l7-1 8 5-7 0z" class="c3 a13"/><path d="M382 277l14-2 14-2 13-2 9 6-14 2-14 1-14 1z" class="c2 a12"/><path d="M326 269l4 0 8 4-3 0z" class="c4 a13"/><path d="M323 269l3 0 9 4-4-1z" class="c4 a13"/><path d="M345 273l7 0 7-1 9 6-7 0-7 0z" class="c3 a12"/><path d="M319 269l4 0 8 3-3-1z" class="c5 a13"/><path d="M316 268l3 1 9 2-4-1z" class="c6 a13"/><path d="M404 280l14-1 14-2 9 5-14 2-14 1z" class="c2 a12"/><path d="M338 273l7 0 9 5-7 0z" class="c4 a13"/><path d="M312 268l4 0 8 2-3-3z" class="c7 a13"/><path d="M368 278l14-1 8 4-14-1z" class="c3 a13"/><path d="M335 273l3 0 9 5-4-1z" class="c5 a13"/><path d="M309 267l3 1 9-1-4-2z" class="c8 a13"/><path d="M427 284l14-2 8 7-14 2z" class="c2 a12"/><path d="M331 272l4 1 8 4-3-2z" class="c6 a13"/><path d="M390 281l14-1 9 5-14 0z" class="c3 a12"/><path d="M361 278l7 0 8 2-7-3z" class="c5 a13"/><path d="M305 265l4 2 8-2-3-4z" class="c9 a13"/><path d="M328 271l3 1 9 3-4-2z" class="c7 a13"/><path d="M413 285l14-1 8 7-14 1z" class="c3 a12"/><path d="M354 278l7 0 8-1-7-5z" class="c6 a13"/><path d="M324 270l4 1 8 2-3-2z" class="c8 a13"/><path d="M302 263l3 2 9-4-4-4z" class="c11 a13"/><path d="M376 280l14 1 9 4-14-4z" class="c5 a13"/><path d="M435 291l14-2 9 6-14 2z" class="c2 a12"/><path d="M321 267l3 3 9 1-4-4z" class="c10 a13"/><path d="M399 285l14 0 8 7-14 0z" class="c4 a13"/><path d="M298 260l4 3 8-6-3-6z" class="c13 a13"/><path d="M347 278l7 0 8-6-7-8z" class="c9 a13"/><path d="M421 292l14-1 9 6-14 1z" class="c3 a12"/><path d="M317 265l4 2 8 0-3-4z" class="c12 a13"/><path d="M369 277l7 3 9 1-7-6z" class="c8 a13"/><path d="M444 297l14-2 8 7-14 2z" class="c2 a12"/><path d="M295 256l3 4 9-9-4-7z" class="c16 a13"/><path d="M385 281l14 4 8 7-14-3z" class="c6 a13"/><path d="M343 277l4 1 8-14-3-5z" class="c11 a13"/><path d="M407 292l14 0 9 6-14 1z" class="c4 a13"/><path d="M314 261l3 4 9-2-4-6z" class="c14 a13"/><path d="M340 275l3 2 9-18-4-6z" class="c13 a13"/><path d="M416 299l14-1 14-1 8 7-14 1-14 1z" class="c3 a12"/><path d="M291 252l4 4 8-12-3-7z" class="c19 a13"/><path d="M362 272l7 5 9-2-7-10z" class="c12 a13"/><path d="M452 304l14-2 9 6-14 2z" class="c2 a12"/><path d="M393 289l14 3 9 7-14-2z" class="c6 a13"/><path d="M310 257l4 4 8-4-3-7z" class="c17 a13"/><path d="M378 275l7 6 8 8-7-5z" class="c9 a13"/><path d="M336 273l4 2 8-22-3-7z" class="c16 a13"/><path d="M288 246l3 6 9-15-3-9z" class="c23 a13"/><path d="M424 306l14-1 14-1 9 6-14 2-14 0z" class="c3 a12"/><path d="M307 251l3 6 9-7-4-8z" class="c21 a13"/><path d="M156 299l14-7 8 7-14 6z" class="c5 a13"/><path d="M386 284l7 5 9 8-7-4z" class="c8 a13"/><path d="M402 297l14 2 8 7-14-2z" class="c5 a13"/><path d="M333 271l3 2 9-27-4-8z" class="c19 a13"/><path d="M170 292l13-8 9 6-14 9z" class="c8 a13"/><path d="M142 303l14-4 8 6-14 5z" class="c4 a12"/><path d="M355 264l7 8 9-7-7-15z" class="c17 a13"/><path d="M447 312l14-2 14-2 8 7-14 2-14 1z" class="c2 a12"/><path d="M371 265l7 10 8 9-7-9z" class="c14 a13"/><path d="M128 307l14-4 8 7-14 4z" class="c3 a12"/><path d="M183 284l7-6 9 6-7 6z" class="c11 a13"/><path d="M190 278l7-8 9 6-7 8z" class="c14 a13"/><path d="M329 267l4 4 8-33-3-8z" class="c22 a13"/><path d="M100 314l14-3 14-4 8 7-14 3-14 4z" class="c2 a12"/><path d="M395 293l7 4 8 7-7-3z" class="c8 a13"/><path d="M284 239l4 7 9-18-4-9z" class="c27 a13"/><path d="M410 304l14 2 9 6-14-1z" class="c5 a13"/><path d="M303 244l4 7 8-9-3-9z" class="c25 a13"/><path d="M164 305l14-6 9 6-14 6z" class="c5 a13"/><path d="M379 275l7 9 9 9-7-8z" class="c12 a13"/><path d="M150 310l14-5 9 6-14 5z" class="c4 a13"/><path d="M178 299l14-9 9 6-14 9z" class="c8 a13"/><path d="M433 312l14 0 8 6-14 1z" class="c3 a12"/><path d="M455 318l14-1 14-2 9 7-14 1-14 2z" class="c2 a12"/><path d="M136 314l14-4 9 6-14 4z" class="c3 a12"/><path d="M192 290l7-6 9 6-7 6z" class="c11 a13"/><path d="M197 270l7-11 9 6-7 11z" class="c18 a13"/><path d="M72 320l14-3 14-3 8 7-14 3-13 3z" class="c1 a12"/><path d="M352 259l3 5 9-14-4-9z" class="c23 a13"/><path d="M326 263l3 4 9-37-4-8z" class="c25 a13"/><path d="M403 301l7 3 9 7-7-2z" class="c7 a13"/><path d="M388 285l7 8 8 8-6-6z" class="c11 a13"/><path d="M108 321l14-4 14-3 9 6-14 4-14 3z" class="c2 a12"/><path d="M199 284l7-8 8 5-6 9z" class="c14 a13"/><path d="M419 311l14 1 8 7-13 0z" class="c4 a13"/><path d="M281 230l3 9 9-20-3-11z" class="c32 a13"/><path d="M364 250l7 15 8 10-7-13z" class="c21 a13"/><path d="M173 311l14-6 8 6-14 6z" class="c6 a13"/><path d="M300 237l3 7 9-11-3-11z" class="c29 a13"/><path d="M441 319l14-1 9 7-14 1z" class="c3 a12"/><path d="M159 316l14-5 8 6-14 5z" class="c4 a13"/><path d="M204 259l4-7 8 5-3 8z" class="c22 a13"/><path d="M187 305l14-9 8 6-14 9z" class="c8 a13"/><path d="M464 325l14-2 14-1 8 6-14 2-14 2z" class="c2 a12"/><path d="M145 320l14-4 8 6-14 5z" class="c3 a12"/><path d="M201 296l7-6 8 6-7 6z" class="c11 a13"/><path d="M372 262l7 13 9 10-7-12z" class="c18 a13"/><path d="M397 295l6 6 9 8-7-5z" class="c10 a13"/><path d="M322 257l4 6 8-41-3-8z" class="c29 a13"/><path d="M81 327l13-3 14-3 9 6-14 3-14 3z" class="c1 a12"/><path d="M206 276l7-11 8 5-7 11z" class="c18 a13"/><path d="M412 309l7 2 9 8-7-2z" class="c6 a13"/><path d="M348 253l4 6 8-18-3-11z" class="c27 a13"/><path d="M428 319l13 0 9 7-14 0z" class="c4 a13"/><path d="M208 252l3-8 9 5-4 8z" class="c26 a13"/><path d="M117 327l14-3 14-4 8 7-14 3-14 4z" class="c2 a12"/><path d="M208 290l6-9 9 6-7 9z" class="c14 a13"/><path d="M181 317l14-6 9 6-14 7z" class="c6 a13"/><path d="M381 273l7 12 9 10-7-11z" class="c16 a13"/><path d="M450 326l14-1 8 7-13 1z" class="c3 a12"/><path d="M167 322l14-5 9 7-14 5z" class="c4 a13"/><path d="M278 221l3 9 9-22-4-10z" class="c38 a13"/><path d="M195 311l14-9 9 6-14 9z" class="c8 a13"/><path d="M405 304l7 5 9 8-7-3z" class="c8 a13"/><path d="M472 332l14-2 14-2 9 7-14 2-14 2z" class="c2 a12"/><path d="M213 265l3-8 9 6-4 7z" class="c22 a13"/><path d="M297 228l3 9 9-15-4-11z" class="c35 a13"/><path d="M153 327l14-5 9 7-14 4z" class="c3 a12"/><path d="M421 317l7 2 8 7-7 0z" class="c5 a13"/><path d="M319 250l3 7 9-43-3-8z" class="c33 a13"/><path d="M360 241l4 9 8 12-3-9z" class="c27 a13"/><path d="M89 333l14-3 14-3 8 7-13 3-14 3z" class="c1 a12"/><path d="M209 302l7-6 9 5-7 7z" class="c11 a13"/><path d="M214 281l7-11 9 5-7 12z" class="c19 a13"/><path d="M211 244l4-11 8 5-3 11z" class="c30 a13"/><path d="M436 326l14 0 9 7-14 1z" class="c4 a13"/><path d="M390 284l7 11 8 9-7-9z" class="c14 a13"/><path d="M345 246l3 7 9-23-4-12z" class="c32 a13"/><path d="M125 334l14-4 14-3 9 6-14 4-14 3z" class="c2 a12"/><path d="M369 253l3 9 9 11-3-8z" class="c24 a13"/><path d="M414 314l7 3 8 9-7-2z" class="c7 a13"/><path d="M216 257l4-8 8 5-3 9z" class="c26 a13"/><path d="M216 296l7-9 9 6-7 8z" class="c15 a13"/><path d="M190 324l14-7 8 6-14 7z" class="c6 a13"/><path d="M176 329l14-5 8 6-14 5z" class="c4 a13"/><path d="M204 317l14-9 8 6-14 9z" class="c8 a13"/><path d="M429 326l7 0 9 8-7-1z" class="c5 a13"/><path d="M398 295l7 9 9 10-7-7z" class="c12 a13"/><path d="M445 334l14-1 13-1 9 7-14 1-14 1z" class="c3 a12"/><path d="M162 333l14-4 8 6-14 4z" class="c3 a12"/><path d="M221 270l4-7 8 5-3 7z" class="c23 a13"/><path d="M378 265l3 8 9 11-4-8z" class="c22 a13"/><path d="M274 210l4 11 8-23-3-11z" class="c43 a13"/><path d="M315 242l4 8 9-44-4-8z" class="c37 a13"/><path d="M467 340l14-1 14-2 14-2 8 6-14 2-13 2-14 2z" class="c2 a12"/><path d="M215 233l2-6 8 4-2 7z" class="c35 a13"/><path d="M98 340l14-3 13-3 9 6-14 3-14 3z" class="c1 a12"/><path d="M293 219l4 9 8-17-3-12z" class="c40 a13"/><path d="M218 308l7-7 8 6-7 7z" class="c12 a13"/><path d="M422 324l7 2 9 7-7-1z" class="c6 a13"/><path d="M223 287l7-12 9 6-7 12z" class="c19 a13"/><path d="M357 230l3 11 9 12-4-10z" class="c33 a13"/><path d="M407 307l7 7 8 10-7-5z" class="c10 a13"/><path d="M134 340l14-3 14-4 8 6-14 4-13 3z" class="c2 a12"/><path d="M220 249l3-11 9 4-4 12z" class="c31 a13"/><path d="M386 276l4 8 8 11-3-7z" class="c19 a13"/><path d="M341 238l4 8 8-28-3-12z" class="c37 a13"/><path d="M503 343l14-2 9 7-14 2z" class="c1 a12"/><path d="M225 301l7-8 8 5-7 9z" class="c15 a13"/><path d="M225 263l3-9 9 5-4 9z" class="c27 a13"/><path d="M365 243l4 10 9 12-4-10z" class="c29 a13"/><path d="M198 330l14-7 9 7-14 6z" class="c6 a13"/><path d="M438 333l7 1 8 7-7 0z" class="c4 a13"/><path d="M184 335l14-5 9 6-14 5z" class="c4 a13"/><path d="M217 227l1-8 9 4-2 8z" class="c38 a13"/><path d="M212 323l14-9 9 6-14 10z" class="c9 a13"/><path d="M395 288l3 7 9 12-4-5z" class="c16 a13"/><path d="M415 319l7 5 9 8-7-3z" class="c8 a13"/><path d="M170 339l14-4 9 6-14 5z" class="c3 a12"/><path d="M374 255l4 10 8 11-3-9z" class="c27 a13"/><path d="M230 275l3-7 9 5-3 8z" class="c24 a13"/><path d="M431 332l7 1 8 8-7 0z" class="c5 a13"/><path d="M106 346l14-3 14-3 9 6-14 3-14 3z" class="c1 a12"/><path d="M312 233l3 9 9-44-3-7z" class="c42 a14"/><path d="M453 341l14-1 9 7-14 1z" class="c3 a12"/><path d="M403 302l4 5 8 12-3-4z" class="c13 a13"/><path d="M226 314l7-7 9 6-7 7z" class="c12 a13"/><path d="M476 347l14-2 13-2 9 7-14 2-14 2z" class="c2 a12"/><path d="M223 238l2-7 9 4-2 7z" class="c36 a13"/><path d="M271 199l3 11 9-23-4-10z" class="c49 a13"/><path d="M232 293l7-12 8 5-7 12z" class="c20 a13"/><path d="M143 346l13-3 14-4 9 7-14 3-14 4z" class="c2 a12"/><path d="M383 267l3 9 9 12-4-8z" class="c24 a13"/><path d="M290 208l3 11 9-20-4-12z" class="c46 a13"/><path d="M512 350l14-2 8 6-13 3z" class="c1 a12"/><path d="M412 315l3 4 9 10-4-2z" class="c10 a13"/><path d="M424 329l7 3 8 9-7-1z" class="c6 a13"/><path d="M218 219l2-9 9 4-2 9z" class="c42 a13"/><path d="M446 341l7 0 9 7-7 0z" class="c4 a12"/><path d="M228 254l4-12 8 5-3 12z" class="c32 a13"/><path d="M353 218l4 12 8 13-3-12z" class="c39 a13"/><path d="M233 307l7-9 9 6-7 9z" class="c15 a13"/><path d="M207 336l14-6 8 6-14 7z" class="c6 a13"/><path d="M391 280l4 8 8 14-3-7z" class="c20 a13"/><path d="M193 341l14-5 8 7-14 5z" class="c4 a13"/><path d="M338 230l3 8 9-32-3-13z" class="c43 a13"/><path d="M233 268l4-9 8 4-3 10z" class="c28 a13"/><path d="M221 330l14-10 8 6-14 10z" class="c9 a13"/><path d="M400 295l3 7 9 13-4-5z" class="c16 a13"/><path d="M439 341l7 0 9 7-7 1z" class="c4 a13"/><path d="M179 346l14-5 8 7-13 4z" class="c3 a12"/><path d="M362 231l3 12 9 12-3-11z" class="c35 a13"/><path d="M225 231l2-8 8 4-1 8z" class="c39 a13"/><path d="M420 327l4 2 8 11-3-1z" class="c8 a13"/><path d="M115 352l14-3 14-3 8 7-14 3-14 3z" class="c1 a12"/><path d="M408 310l4 5 8 12-3-3z" class="c12 a13"/><path d="M239 281l3-8 9 5-4 8z" class="c24 a13"/><path d="M309 222l3 11 9-42-4-7z" class="c46 a14"/><path d="M235 320l7-7 8 6-7 7z" class="c12 a13"/><path d="M455 348l7 0 14-1 8 7-14 1-7 1z" class="c3 a12"/><path d="M371 244l3 11 9 12-4-10z" class="c32 a13"/><path d="M432 340l7 1 9 8-7-1z" class="c5 a13"/><path d="M417 324l3 3 9 12-4-2z" class="c9 a13"/><path d="M240 298l7-12 9 6-7 12z" class="c20 a13"/><path d="M470 355l14-1 14-2 14-2 9 7-14 2-14 2-14 1z" class="c2 a12"/><path d="M232 242l2-7 8 4-2 8z" class="c37 a13"/><path d="M220 210l2-10 8 2-1 12z" class="c47 a13"/><path d="M137 356l14-3 14-4 14-3 9 6-14 4-14 3-14 3z" class="c2 a12"/><path d="M379 257l4 10 8 13-3-10z" class="c29 a13"/><path d="M429 339l3 1 9 8-4 0z" class="c6 a13"/><path d="M267 187l4 12 8-22-3-9z" class="c55 a13"/><path d="M215 343l14-7 9 6-14 7z" class="c6 a13"/><path d="M507 359l14-2 13-3 9 7-14 2-14 2z" class="c1 a12"/><path d="M242 313l7-9 8 6-7 9z" class="c16 a13"/><path d="M396 287l4 8 8 15-3-6z" class="c20 a13"/><path d="M201 348l14-5 9 6-14 5z" class="c4 a13"/><path d="M405 304l3 6 9 14-4-5z" class="c15 a13"/><path d="M388 270l3 10 9 15-4-8z" class="c25 a13"/><path d="M237 259l3-12 9 4-4 12z" class="c33 a13"/><path d="M448 349l7-1 8 8-7 0z" class="c4 a12"/><path d="M286 198l4 10 8-21-3-12z" class="c52 a13"/><path d="M227 223l2-9 8 3-2 10z" class="c44 a13"/><path d="M229 336l14-10 9 6-14 10z" class="c9 a13"/><path d="M413 319l4 5 8 13-3-2z" class="c11 a13"/><path d="M425 337l4 2 8 9-3-1z" class="c7 a13"/><path d="M242 273l3-10 9 5-3 10z" class="c28 a13"/><path d="M188 352l13-4 9 6-14 4z" class="c3 a12"/><path d="M334 222l4 8 9-37-4-12z" class="c48 a13"/><path d="M350 206l3 12 9 13-3-12z" class="c45 a13"/><path d="M441 348l7 1 8 7-7 0z" class="c4 a13"/><path d="M234 235l1-8 9 3-2 9z" class="c41 a13"/><path d="M305 211l4 11 8-38-3-6z" class="c51 a15"/><path d="M123 359l14-3 9 6-14 3z" class="c1 a12"/><path d="M243 326l7-7 9 6-7 7z" class="c12 a13"/><path d="M422 335l3 2 9 10-4-2z" class="c8 a13"/><path d="M247 286l4-8 8 5-3 9z" class="c25 a13"/><path d="M359 219l3 12 9 13-4-12z" class="c42 a13"/><path d="M437 348l4 0 8 8-3 0z" class="c5 a13"/><path d="M410 314l3 5 9 16-4-3z" class="c13 a13"/><path d="M249 304l7-12 8 5-7 13z" class="c20 a13"/><path d="M146 362l14-3 14-3 14-4 8 6-14 4-14 3-14 4z" class="c2 a12"/><path d="M456 356l7 0 7-1 9 7-7 1-7 0z" class="c3 a12"/><path d="M401 296l4 8 8 15-3-5z" class="c19 a13"/><path d="M434 347l3 1 9 8-4 0z" class="c6 a13"/><path d="M367 232l4 12 8 13-3-12z" class="c38 a13"/><path d="M515 365l14-2 14-2 9 7-14 2-14 2z" class="c1 a12"/><path d="M479 362l14-1 14-2 8 6-14 2-14 2z" class="c2 a12"/><path d="M418 332l4 3 8 10-3-2z" class="c9 a13"/><path d="M224 349l14-7 8 6-14 7z" class="c6 a13"/><path d="M222 200l2-13 8 3-2 12z" class="c53 a13"/><path d="M240 247l2-8 9 4-2 8z" class="c38 a13"/><path d="M210 354l14-5 8 6-13 5z" class="c4 a13"/><path d="M393 277l3 10 9 17-4-8z" class="c24 a13"/><path d="M250 319l7-9 9 5-7 10z" class="c16 a13"/><path d="M229 214l1-12 9 3-2 12z" class="c49 a13"/><path d="M238 342l14-10 8 6-14 10z" class="c9 a13"/><path d="M430 345l4 2 8 9-3-1z" class="c6 a13"/><path d="M264 176l3 11 9-19-4-9z" class="c61 a14"/><path d="M196 358l14-4 9 6-14 5z" class="c3 a12"/><path d="M376 245l3 12 9 13-4-11z" class="c35 a13"/><path d="M245 263l4-12 9 4-4 13z" class="c34 a13"/><path d="M384 259l4 11 8 17-3-10z" class="c30 a13"/><path d="M449 356l7 0 9 7-7 0z" class="c4 a12"/><path d="M251 278l3-10 9 5-4 10z" class="c29 a13"/><path d="M235 227l2-10 9 3-2 10z" class="c45 a13"/><path d="M283 187l3 11 9-23-4-11z" class="c58 a13"/><path d="M415 327l3 5 9 11-4-3z" class="c11 a13"/><path d="M427 343l3 2 9 10-4 0z" class="c7 a13"/><path d="M406 307l4 7 8 18-3-5z" class="c16 a13"/><path d="M132 365l14-3 8 7-14 3z" class="c1 a12"/><path d="M331 214l3 8 9-41-3-11z" class="c54 a13"/><path d="M446 356l3 0 9 7-4 1z" class="c4 a13"/><path d="M252 332l7-7 8 6-7 7z" class="c13 a13"/><path d="M302 199l3 12 9-33-4-5z" class="c56 a15"/><path d="M256 292l3-9 9 6-4 8z" class="c25 a13"/><path d="M242 239l2-9 8 4-1 9z" class="c42 a13"/><path d="M154 369l14-4 14-3 14-4 9 7-14 3-14 4-14 3z" class="c2 a12"/><path d="M439 355l3 1 4 0 8 8-3-1-4 0z" class="c5 a13"/><path d="M423 340l4 3 8 12-3-2z" class="c8 a13"/><path d="M398 286l3 10 9 18-4-7z" class="c23 a13"/><path d="M347 193l3 13 9 13-4-13z" class="c52 a13"/><path d="M458 363l7 0 7 0 7-1 8 7-7 1-7 0-7 1z" class="c3 a12"/><path d="M257 310l7-13 9 5-7 13z" class="c21 a13"/><path d="M524 372l14-2 14-2 8 6-14 2-14 2z" class="c1 a12"/><path d="M232 355l14-7 9 6-14 7z" class="c6 a13"/><path d="M219 360l13-5 9 6-14 6z" class="c4 a13"/><path d="M411 321l4 6 8 13-3-4z" class="c14 a13"/><path d="M259 325l7-10 8 6-7 10z" class="c16 a13"/><path d="M480 370l7-1 14-2 14-2 9 7-14 2-14 2-7 0z" class="c2 a12"/><path d="M355 206l4 13 8 13-3-13z" class="c48 a13"/><path d="M246 348l14-10 9 6-14 10z" class="c9 a13"/><path d="M205 365l14-5 8 7-14 4z" class="c3 a12"/><path d="M249 251l2-8 8 4-1 8z" class="c39 a13"/><path d="M389 266l4 11 8 19-3-10z" class="c30 a13"/><path d="M420 336l3 4 9 13-4-1z" class="c10 a13"/><path d="M432 353l3 2 4 0 8 8-3 0-4-1z" class="c6 a13"/><path d="M224 187l1-14 9 2-2 15z" class="c60 a13"/><path d="M403 298l3 9 9 20-4-6z" class="c20 a13"/><path d="M230 202l2-12 9 2-2 13z" class="c55 a13"/><path d="M260 164l4 12 8-17-3-7z" class="c66 a14"/><path d="M364 219l3 13 9 13-4-12z" class="c45 a13"/><path d="M254 268l4-13 8 5-3 13z" class="c35 a13"/><path d="M454 364l4-1 8 8-3 0z" class="c4 a12"/><path d="M237 217l2-12 8 3-1 12z" class="c51 a13"/><path d="M259 283l4-10 8 5-3 11z" class="c30 a13"/><path d="M140 372l14-3 9 6-14 3z" class="c1 a12"/><path d="M260 338l7-7 9 6-7 7z" class="c13 a13"/><path d="M381 246l3 13 9 18-4-11z" class="c36 a13"/><path d="M372 233l4 12 8 14-3-13z" class="c41 a13"/><path d="M447 363l4 0 3 1 9 7-4 0-3 0z" class="c4 a13"/><path d="M328 206l3 8 9-44-4-9z" class="c59 a14"/><path d="M279 177l4 10 8-23-3-9z" class="c64 a14"/><path d="M428 352l4 1 8 9-3-1z" class="c7 a13"/><path d="M244 230l2-10 8 3-2 11z" class="c47 a13"/><path d="M298 187l4 12 8-26-3-6z" class="c61 a15"/><path d="M264 297l4-8 8 5-3 8z" class="c26 a13"/><path d="M163 375l14-3 14-4 14-3 8 6-14 4-14 3-14 3z" class="c2 a12"/><path d="M416 331l4 5 8 16-3-3z" class="c12 a13"/><path d="M408 313l3 8 9 15-4-5z" class="c17 a13"/><path d="M532 378l14-2 14-2 9 7-14 2-14 2z" class="c1 a12"/><path d="M241 361l14-7 8 7-13 7z" class="c6 a13"/><path d="M266 315l7-13 8 6-7 13z" class="c21 a13"/><path d="M394 275l4 11 8 21-3-9z" class="c28 a13"/><path d="M227 367l14-6 9 7-14 5z" class="c4 a13"/><path d="M251 243l1-9 9 4-2 9z" class="c43 a13"/><path d="M440 362l4 1 3 0 9 8-4 0-3 0z" class="c5 a13"/><path d="M425 349l3 3 9 9-4-1z" class="c9 a13"/><path d="M489 376l7 0 14-2 14-2 8 6-14 2-14 2-7 1z" class="c2 a12"/><path d="M463 371l3 0 7-1 7 0 9 6-7 1-7 1-4 0z" class="c3 a12"/><path d="M267 331l7-10 9 6-7 10z" class="c17 a13"/><path d="M213 371l14-4 9 6-14 4z" class="c3 a12"/><path d="M255 354l14-10 8 6-14 11z" class="c9 a13"/><path d="M343 181l4 12 8 13-3-12z" class="c58 a13"/><path d="M437 361l3 1 9 9-3 0z" class="c6 a13"/><path d="M399 288l4 10 8 23-3-8z" class="c25 a13"/><path d="M258 255l1-8 9 4-2 9z" class="c40 a13"/><path d="M413 324l3 7 9 18-4-4z" class="c15 a13"/><path d="M257 154l3 10 9-12-4-5z" class="c71 a15"/><path d="M149 378l14-3 8 6-14 3z" class="c1 a12"/><path d="M421 345l4 4 8 11-3-3z" class="c10 a13"/><path d="M456 371l3 0 4 0 8 7-3 0-4 0z" class="c4 a12"/><path d="M386 254l3 12 9 20-4-11z" class="c36 a13"/><path d="M263 273l3-13 9 4-4 14z" class="c36 a13"/><path d="M268 289l3-11 9 5-4 11z" class="c31 a13"/><path d="M269 344l7-7 8 5-7 8z" class="c13 a13"/><path d="M433 360l4 1 9 10-4-1z" class="c7 a13"/><path d="M352 194l3 12 9 13-4-12z" class="c55 a13"/><path d="M324 198l4 8 8-45-3-7z" class="c63 a15"/><path d="M239 205l2-13 8 2-2 14z" class="c57 a13"/><path d="M232 190l2-15 8 2-1 15z" class="c62 a13"/><path d="M171 381l14-3 14-3 14-4 9 6-14 4-14 4-14 3z" class="c2 a12"/><path d="M452 371l4 0 8 7-3 0z" class="c4 a13"/><path d="M276 168l3 9 9-22-4-7z" class="c69 a15"/><path d="M404 304l4 9 8 18-3-7z" class="c21 a13"/><path d="M295 175l3 12 9-20-4-5z" class="c66 a15"/><path d="M225 173l2-16 9 3-2 15z" class="c68 a13"/><path d="M246 220l1-12 9 3-2 12z" class="c52 a13"/><path d="M273 302l3-8 9 5-4 9z" class="c27 a13"/><path d="M360 207l4 12 8 14-3-13z" class="c52 a13"/><path d="M430 357l3 3 9 10-3-1z" class="c8 a13"/><path d="M250 368l13-7 9 6-14 7z" class="c6 a13"/><path d="M236 373l14-5 8 6-14 5z" class="c4 a13"/><path d="M252 234l2-11 9 4-2 11z" class="c48 a13"/><path d="M418 340l3 5 9 12-3-3z" class="c12 a13"/><path d="M274 321l7-13 9 5-7 14z" class="c22 a13"/><path d="M377 233l4 13 8 20-3-12z" class="c43 a13"/><path d="M527 387l14-2 14-2 14-2 8 6-14 2-14 2-14 2z" class="c1 a12"/><path d="M468 378l3 0 4 0 7-1 7-1 8 7-7 1-7 0-3 1-3 0z" class="c3 a12"/><path d="M442 370l4 1 3 0 3 0 9 7-3 0-4 0-3 0z" class="c5 a13"/><path d="M222 377l14-4 8 6-14 5z" class="c3 a12"/><path d="M369 220l3 13 9 13-4-13z" class="c48 a13"/><path d="M490 384l7-1 7-1 14-2 14-2 9 7-14 2-14 2-7 1-7 0z" class="c2 a12"/><path d="M276 337l7-10 8 5-7 10z" class="c17 a13"/><path d="M263 361l14-11 9 6-14 11z" class="c10 a13"/><path d="M409 316l4 8 8 21-3-5z" class="c18 a13"/><path d="M259 247l2-9 9 3-2 10z" class="c45 a13"/><path d="M391 262l3 13 9 23-4-10z" class="c34 a13"/><path d="M427 354l3 3 9 12-4-1z" class="c9 a13"/><path d="M253 145l4 9 8-7-3-5z" class="c75 a16"/><path d="M157 384l14-3 9 7-14 3z" class="c1 a12"/><path d="M396 276l3 12 9 25-4-9z" class="c30 a13"/><path d="M439 369l3 1 9 8-4-1z" class="c6 a13"/><path d="M321 191l3 7 9-44-4-5z" class="c67 a16"/><path d="M461 378l3 0 4 0 9 7-4 0-3 0z" class="c4 a12"/><path d="M266 260l2-9 8 4-1 9z" class="c41 a13"/><path d="M277 350l7-8 9 6-7 8z" class="c13 a13"/><path d="M414 333l4 7 9 14-4-4z" class="c15 a13"/><path d="M340 170l3 11 9 13-4-12z" class="c65 a13"/><path d="M180 388l14-3 14-4 14-4 8 7-14 4-14 3-14 3z" class="c2 a12"/><path d="M276 294l4-11 8 4-3 12z" class="c31 a13"/><path d="M271 278l4-14 8 4-3 15z" class="c37 a13"/><path d="M423 350l4 4 8 14-3-2z" class="c11 a13"/><path d="M272 159l4 9 8-20-3-6z" class="c73 a16"/><path d="M291 164l4 11 8-13-3-5z" class="c70 a15"/><path d="M435 368l4 1 8 8-3-1z" class="c7 a13"/><path d="M458 378l3 0 9 7-4 0z" class="c4 a13"/><path d="M401 293l3 11 9 20-4-8z" class="c26 a13"/><path d="M258 374l14-7 9 6-14 7z" class="c6 a13"/><path d="M244 379l14-5 9 6-14 6z" class="c4 a13"/><path d="M281 308l4-9 8 5-3 9z" class="c27 a13"/><path d="M382 241l4 13 8 21-3-13z" class="c42 a13"/><path d="M251 141l2 4 9-3-2-1z" class="c77 a16"/><path d="M247 208l2-14 9 3-2 14z" class="c59 a13"/><path d="M348 182l4 12 8 13-3-13z" class="c62 a13"/><path d="M241 192l1-15 9 3-2 14z" class="c64 a13"/><path d="M283 327l7-14 8 5-7 14z" class="c22 a13"/><path d="M230 384l14-5 9 7-14 4z" class="c3 a12"/><path d="M254 223l2-12 8 3-1 13z" class="c54 a13"/><path d="M432 366l3 2 9 8-4-1z" class="c8 a13"/><path d="M234 175l2-15 8 3-2 14z" class="c70 a14"/><path d="M406 306l3 10 9 24-4-7z" class="c22 a13"/><path d="M272 367l14-11 8 6-13 11z" class="c10 a13"/><path d="M447 377l4 1 3 0 4 0 8 7-3 0-4 0-3 0z" class="c5 a13"/><path d="M473 385l4 0 3 0 3-1 7 0 9 6-7 1-3 0-4 1-3 0z" class="c3 a12"/><path d="M284 342l7-10 9 6-7 10z" class="c17 a13"/><path d="M227 157l2-15 8 5-1 13z" class="c75 a15"/><path d="M261 238l2-11 8 3-1 11z" class="c50 a13"/><path d="M317 184l4 7 8-42-3-3z" class="c70 a18"/><path d="M420 344l3 6 9 16-4-3z" class="c13 a13"/><path d="M499 390l7 0 7-1 14-2 8 6-14 2-7 1-6 1z" class="c2 a12"/><path d="M250 138l1 3 9 0-2-2z" class="c79 a17"/><path d="M166 391l14-3 8 6-14 3z" class="c1 a12"/><path d="M357 194l3 13 9 13-4-13z" class="c59 a13"/><path d="M268 251l2-10 8 4-2 10z" class="c46 a13"/><path d="M428 363l4 3 8 9-3-2z" class="c9 a13"/><path d="M269 152l3 7 9-17-4-2z" class="c77 a18"/><path d="M411 324l3 9 9 17-3-6z" class="c19 a13"/><path d="M374 220l3 13 9 21-4-13z" class="c50 a13"/><path d="M444 376l3 1 9 8-4 0z" class="c6 a13"/><path d="M286 356l7-8 8 6-7 8z" class="c14 a13"/><path d="M466 385l4 0 3 0 9 7-4 0-3 0z" class="c4 a12"/><path d="M188 394l14-3 14-3 14-4 9 6-14 4-14 3-14 4z" class="c2 a12"/><path d="M365 207l4 13 8 13-3-13z" class="c55 a13"/><path d="M387 248l4 14 8 26-3-12z" class="c40 a13"/><path d="M248 135l2 3 8 1-2-1z" class="c80 a18"/><path d="M288 155l3 9 9-7-4-5z" class="c74 a16"/><path d="M275 264l1-9 9 4-2 9z" class="c43 a13"/><path d="M314 178l3 6 9-38-4 0z" class="c73 a19"/><path d="M285 299l3-12 9 5-4 12z" class="c32 a13"/><path d="M440 375l4 1 8 9-3-1z" class="c7 a13"/><path d="M392 264l4 12 8 28-3-11z" class="c36 a13"/><path d="M463 385l3 0 9 7-4 0z" class="c4 a13"/><path d="M267 380l14-7 8 6-14 8z" class="c6 a13"/><path d="M280 283l3-15 9 4-4 15z" class="c38 a13"/><path d="M253 386l14-6 8 7-14 5z" class="c5 a13"/><path d="M246 132l2 3 8 3-1-1z" class="c81 a19"/><path d="M336 161l4 9 8 12-3-10z" class="c71 a14"/><path d="M425 359l3 4 9 10-4-3z" class="c11 a13"/><path d="M416 336l4 8 8 19-3-4z" class="c16 a13"/><path d="M290 313l3-9 9 5-4 9z" class="c28 a13"/><path d="M265 147l4 5 8-12-3-1z" class="c79 a19"/><path d="M437 373l3 2 9 9-4-1z" class="c8 a13"/><path d="M397 280l4 13 8 23-3-10z" class="c32 a13"/><path d="M291 332l7-14 9 5-7 15z" class="c23 a13"/><path d="M281 373l13-11 9 6-14 11z" class="c10 a13"/><path d="M225 394l14-4 14-4 8 6-14 5-14 3z" class="c3 a12"/><path d="M478 392l4 0 3 0 4-1 3 0 7-1 9 7-7 1-4 0-3 0-4 1-3 0z" class="c3 a12"/><path d="M452 385l4 0 3 0 4 0 8 7-3 0-4 0-3 0z" class="c5 a13"/><path d="M293 348l7-10 8 5-7 11z" class="c18 a13"/><path d="M310 173l4 5 8-32-3 1z" class="c74 a19"/><path d="M402 295l4 11 8 27-3-9z" class="c27 a13"/><path d="M243 129l3 3 9 5-4-2z" class="c83 a20"/><path d="M174 397l14-3 9 7-14 3z" class="c1 a12"/><path d="M256 211l2-14 8 3-2 14z" class="c61 a13"/><path d="M249 194l2-14 8 3-1 14z" class="c66 a13"/><path d="M263 227l1-13 9 3-2 13z" class="c56 a13"/><path d="M345 172l3 10 9 12-4-11z" class="c68 a13"/><path d="M242 177l2-14 9 5-2 12z" class="c71 a14"/><path d="M236 160l1-13 9 5-2 11z" class="c76 a16"/><path d="M229 142l3-14 9 7-4 12z" class="c82 a19"/><path d="M433 370l4 3 8 10-3-1z" class="c9 a13"/><path d="M262 142l3 5 9-8-4 1z" class="c80 a19"/><path d="M379 228l3 13 9 21-4-14z" class="c49 a13"/><path d="M270 241l1-11 9 3-2 12z" class="c51 a13"/><path d="M284 148l4 7 8-3-3-3z" class="c78 a17"/><path d="M408 314l3 10 9 20-4-8z" class="c24 a13"/><path d="M421 353l4 6 8 11-3-4z" class="c14 a13"/><path d="M239 129l4 0 8 6-3 0z" class="c84 a21"/><path d="M449 384l3 1 9 7-4-1z" class="c6 a13"/><path d="M294 362l7-8 9 6-7 8z" class="c14 a13"/><path d="M307 167l3 6 9-26-4 1z" class="c76 a19"/><path d="M276 255l2-10 9 3-2 11z" class="c47 a13"/><path d="M471 392l4 0 3 0 9 7-4 0-3 0z" class="c4 a12"/><path d="M260 141l2 1 8-2-2 0z" class="c81 a19"/><path d="M197 401l14-4 14-3 8 6-14 4-14 3z" class="c2 a12"/><path d="M353 183l4 11 8 13-3-12z" class="c65 a13"/><path d="M413 327l3 9 9 23-4-6z" class="c20 a13"/><path d="M232 128l7 1 9 6-7 0z" class="c84 a22"/><path d="M275 387l14-8 9 6-14 8z" class="c7 a13"/><path d="M261 392l14-5 9 6-14 5z" class="c5 a13"/><path d="M258 139l2 2 8-1-1 0z" class="c82 a20"/><path d="M430 366l3 4 9 12-4-2z" class="c11 a13"/><path d="M293 304l4-12 8 5-3 12z" class="c33 a13"/><path d="M468 392l3 0 9 7-4 0z" class="c4 a13"/><path d="M442 382l3 1 4 1 8 7-3 0-4-1z" class="c7 a13"/><path d="M283 268l2-9 8 4-1 9z" class="c44 a13"/><path d="M370 207l4 13 8 21-3-13z" class="c57 a13"/><path d="M333 154l3 7 9 11-4-9z" class="c76 a15"/><path d="M288 287l4-15 8 4-3 16z" class="c39 a13"/><path d="M256 138l2 1 9 1-2 1z" class="c82 a20"/><path d="M303 162l4 5 8-19-3 0z" class="c77 a19"/><path d="M298 318l4-9 8 5-3 9z" class="c29 a13"/><path d="M362 195l3 12 9 13-4-13z" class="c62 a13"/><path d="M233 400l14-3 14-5 9 6-14 5-14 4z" class="c3 a12"/><path d="M384 235l3 13 9 28-4-12z" class="c47 a13"/><path d="M289 379l14-11 9 6-14 11z" class="c10 a13"/><path d="M281 142l3 6 9 1-4-2z" class="c81 a18"/><path d="M300 338l7-15 8 6-7 14z" class="c23 a13"/><path d="M255 137l1 1 9 3-2 0z" class="c83 a20"/><path d="M301 354l7-11 9 6-7 11z" class="c18 a13"/><path d="M183 404l14-3 8 6-13 3z" class="c1 a12"/><path d="M389 251l3 13 9 29-4-13z" class="c43 a13"/><path d="M457 391l4 1 3 0 4 0 8 7-3 0-4 0-3 0z" class="c5 a13"/><path d="M418 345l3 8 9 13-4-5z" class="c17 a13"/><path d="M251 135l4 2 8 4-3 0z" class="c83 a21"/><path d="M426 361l4 5 8 14-3-4z" class="c13 a13"/><path d="M438 380l4 2 8 8-3-2z" class="c9 a13"/><path d="M237 147l4-12 8 6-3 11z" class="c82 a20"/><path d="M300 157l3 5 9-14-4 1z" class="c79 a19"/><path d="M244 163l2-11 8 8-1 8z" class="c77 a16"/><path d="M394 266l3 14 9 26-4-11z" class="c39 a13"/><path d="M399 283l3 12 9 29-3-10z" class="c33 a13"/><path d="M248 135l3 0 9 6-4 0z" class="c84 a21"/><path d="M341 163l4 9 8 11-3-10z" class="c74 a15"/><path d="M277 140l4 2 8 5-3-2z" class="c82 a20"/><path d="M251 180l2-12 8 4-2 11z" class="c72 a14"/><path d="M303 368l7-8 9 6-7 8z" class="c14 a13"/><path d="M258 197l1-14 9 5-2 12z" class="c67 a13"/><path d="M264 214l2-14 9 4-2 13z" class="c62 a13"/><path d="M271 230l2-13 9 3-2 13z" class="c58 a13"/><path d="M454 391l3 0 9 8-4-1z" class="c6 a13"/><path d="M404 301l4 13 8 22-3-9z" class="c29 a13"/><path d="M205 407l14-3 14-4 9 7-14 3-14 3z" class="c2 a12"/><path d="M278 245l2-12 8 3-1 12z" class="c53 a13"/><path d="M241 135l7 0 8 6-7 0z" class="c84 a22"/><path d="M270 398l14-5 8 6-14 6z" class="c5 a13"/><path d="M284 393l14-8 8 6-14 8z" class="c7 a13"/><path d="M409 316l4 11 8 26-3-8z" class="c24 a13"/><path d="M435 376l3 4 9 8-4-2z" class="c10 a13"/><path d="M296 152l4 5 8-8-3 0z" class="c80 a19"/><path d="M274 139l3 1 9 5-4 1z" class="c83 a20"/><path d="M329 149l4 5 8 9-3-6z" class="c79 a17"/><path d="M285 259l2-11 8 4-2 11z" class="c49 a13"/><path d="M450 390l4 1 8 7-3 0z" class="c7 a13"/><path d="M375 215l4 13 8 20-3-13z" class="c57 a13"/><path d="M302 309l3-12 9 4-4 13z" class="c34 a13"/><path d="M350 173l3 10 9 12-4-11z" class="c71 a14"/><path d="M267 140l1 0 2 0 4-1 8 7-3 0-2 0-2 1z" class="c83 a21"/><path d="M242 407l14-4 14-5 8 7-14 4-14 4z" class="c3 a12"/><path d="M298 385l14-11 8 6-14 11z" class="c10 a13"/><path d="M423 354l3 7 9 15-4-4z" class="c16 a13"/><path d="M307 323l3-9 9 5-4 10z" class="c29 a13"/><path d="M293 149l3 3 9-3-4 1z" class="c82 a19"/><path d="M297 292l3-16 9 4-4 17z" class="c40 a13"/><path d="M292 272l1-9 9 3-2 10z" class="c45 a13"/><path d="M447 388l3 2 9 8-4-1z" class="c8 a13"/><path d="M308 343l7-14 9 5-7 15z" class="c24 a13"/><path d="M192 410l13-3 9 6-14 3z" class="c1 a12"/><path d="M414 336l4 9 8 16-3-7z" class="c21 a13"/><path d="M310 360l7-11 9 6-7 11z" class="c18 a13"/><path d="M256 141l4 0 3 0 2 0 2-1 8 7-1 0-2 0-4 0-3 1z" class="c84 a21"/><path d="M431 372l4 4 8 10-3-4z" class="c12 a13"/><path d="M246 152l3-11 9 7-4 12z" class="c82 a20"/><path d="M253 168l1-8 9 8-2 4z" class="c77 a16"/><path d="M289 147l4 2 8 1-3 1z" class="c82 a20"/><path d="M367 195l3 12 9 21-4-13z" class="c64 a13"/><path d="M358 184l4 11 8 12-3-12z" class="c69 a13"/><path d="M326 146l3 3 9 8-4-3z" class="c82 a19"/><path d="M443 386l4 2 8 9-3-2z" class="c9 a13"/><path d="M338 157l3 6 9 10-4-7z" class="c78 a16"/><path d="M312 374l7-8 8 5-7 9z" class="c14 a13"/><path d="M380 221l4 14 8 29-3-13z" class="c54 a13"/><path d="M214 413l14-3 14-3 8 6-13 4-14 3z" class="c2 a12"/><path d="M286 145l3 2 9 4-4 0z" class="c83 a20"/><path d="M259 183l2-11 9 8-2 8z" class="c73 a14"/><path d="M249 141l7 0 9 7-7 0z" class="c84 a22"/><path d="M278 405l14-6 9 6-14 6z" class="c5 a13"/><path d="M292 399l14-8 9 7-14 7z" class="c7 a13"/><path d="M385 237l4 14 8 29-3-14z" class="c50 a13"/><path d="M266 200l2-12 9 5-2 11z" class="c69 a13"/><path d="M322 146l4 0 8 8-3-1z" class="c83 a20"/><path d="M273 217l2-13 8 4-1 12z" class="c64 a13"/><path d="M279 146l3 0 4-1 8 6-3 1-4 0z" class="c83 a21"/><path d="M280 233l2-13 8 4-2 12z" class="c59 a13"/><path d="M396 269l3 14 9 31-4-13z" class="c40 a13"/><path d="M440 382l3 4 9 9-4-2z" class="c10 a13"/><path d="M419 345l4 9 8 18-3-7z" class="c20 a13"/><path d="M390 252l4 14 8 29-3-12z" class="c46 a13"/><path d="M287 248l1-12 9 4-2 12z" class="c54 a13"/><path d="M428 365l3 7 9 10-4-5z" class="c15 a13"/><path d="M250 413l14-4 14-4 9 6-14 5-14 3z" class="c3 a12"/><path d="M406 304l3 12 9 29-4-9z" class="c30 a13"/><path d="M401 287l3 14 9 26-4-11z" class="c35 a13"/><path d="M306 391l14-11 9 6-14 12z" class="c10 a13"/><path d="M310 314l4-13 8 5-3 13z" class="c35 a13"/><path d="M293 263l2-11 9 3-2 11z" class="c50 a13"/><path d="M346 166l4 7 8 11-3-8z" class="c76 a16"/><path d="M200 416l14-3 9 7-14 3z" class="c1 a12"/><path d="M265 148l3-1 4 0 2 0 1 0 2-1 2 0 8 6-1 1-2 0-2 0-2 0-3 1-4 0z" class="c84 a21"/><path d="M315 329l4-10 8 5-3 10z" class="c30 a13"/><path d="M317 349l7-15 8 5-6 16z" class="c24 a13"/><path d="M334 154l4 3 8 9-3-5z" class="c81 a18"/><path d="M319 366l7-11 8 5-7 11z" class="c19 a13"/><path d="M254 160l4-12 8 6-3 14z" class="c82 a19"/><path d="M305 297l4-17 8 4-3 17z" class="c41 a13"/><path d="M294 151l4 0 3-1 4-1 3 0 4-1 3 0 4-1 3-1 9 7-4 0-3 1-4 0-3 1-4 1-3 0-4 1-3 1z" class="c83 a21"/><path d="M411 324l3 12 9 18-4-9z" class="c26 a13"/><path d="M300 276l2-10 8 4-1 10z" class="c46 a13"/><path d="M261 172l2-4 8 5-1 7z" class="c77 a16"/><path d="M372 203l3 12 9 20-4-14z" class="c64 a13"/><path d="M436 377l4 5 8 11-3-4z" class="c13 a13"/><path d="M223 420l14-3 13-4 9 6-14 4-14 3z" class="c2 a12"/><path d="M320 380l7-9 9 6-7 9z" class="c15 a13"/><path d="M268 188l2-8 8 7-1 6z" class="c73 a14"/><path d="M258 148l7 0 8 6-7 0z" class="c84 a22"/><path d="M355 176l3 8 9 11-4-10z" class="c74 a15"/><path d="M287 411l14-6 8 7-14 5z" class="c5 a13"/><path d="M331 153l3 1 9 7-4-2z" class="c83 a20"/><path d="M301 405l14-7 8 6-14 8z" class="c7 a13"/><path d="M363 185l4 10 8 20-3-12z" class="c70 a14"/><path d="M424 357l4 8 8 12-3-7z" class="c19 a13"/><path d="M275 204l2-11 8 7-2 8z" class="c69 a13"/><path d="M327 153l4 0 8 6-3 0z" class="c83 a21"/><path d="M259 419l14-3 14-5 8 6-14 5-13 4z" class="c3 a12"/><path d="M343 161l3 5 9 10-4-7z" class="c80 a18"/><path d="M282 220l1-12 9 5-2 11z" class="c65 a13"/><path d="M416 334l3 11 9 20-4-8z" class="c24 a13"/><path d="M315 398l14-12 8 6-14 12z" class="c11 a13"/><path d="M273 154l4 0 3-1 2 0 2 0 2 0 1-1 4 0 3-1 9 7-4 0-3 1-2 0-2 0-1 0-2 1-4 0-3 0z" class="c84 a21"/><path d="M209 423l14-3 8 6-14 3z" class="c1 a12"/><path d="M288 236l2-12 9 5-2 11z" class="c60 a13"/><path d="M377 209l3 12 9 30-4-14z" class="c61 a13"/><path d="M433 370l3 7 9 12-4-5z" class="c16 a13"/><path d="M295 252l2-12 8 4-1 11z" class="c56 a13"/><path d="M263 168l3-14 9 6-4 13z" class="c81 a19"/><path d="M319 319l3-13 9 5-4 13z" class="c35 a13"/><path d="M270 180l1-7 9 6-2 8z" class="c77 a16"/><path d="M326 355l6-16 9 6-7 15z" class="c25 a13"/><path d="M327 371l7-11 9 6-7 11z" class="c19 a13"/><path d="M324 334l3-10 9 5-4 10z" class="c30 a13"/><path d="M382 225l3 12 9 29-4-14z" class="c57 a13"/><path d="M302 266l2-11 8 5-2 10z" class="c52 a13"/><path d="M402 291l4 13 8 32-3-12z" class="c36 a13"/><path d="M392 256l4 13 8 32-3-14z" class="c47 a13"/><path d="M314 301l3-17 9 5-4 17z" class="c42 a13"/><path d="M397 272l4 15 8 29-3-12z" class="c42 a13"/><path d="M387 237l3 15 9 31-3-14z" class="c53 a13"/><path d="M231 426l14-3 14-4 9 7-14 3-14 4z" class="c2 a12"/><path d="M309 280l1-10 9 4-2 10z" class="c48 a13"/><path d="M339 159l4 2 8 8-3-3z" class="c82 a20"/><path d="M277 193l1-6 9 7-2 6z" class="c73 a14"/><path d="M329 386l7-9 8 6-7 9z" class="c15 a13"/><path d="M266 154l7 0 9 6-7 0z" class="c84 a22"/><path d="M351 169l4 7 8 9-3-7z" class="c79 a17"/><path d="M295 417l14-5 9 6-14 6z" class="c5 a13"/><path d="M407 310l4 14 8 21-3-11z" class="c32 a13"/><path d="M309 412l14-8 9 6-14 8z" class="c7 a13"/><path d="M282 160l3 0 4 0 2-1 1 0 2 0 2 0 3-1 4 0 3-1 4-1 3 0 4-1 3-1 4 0 3-1 9 6-4 1-3 1-4 0-3 1-4 1-3 0-4 1-3 0-4 1-1 0-2 0-2 1-2 0-3 0-4 1z" class="c84 a21"/><path d="M368 193l4 10 8 18-3-12z" class="c70 a14"/><path d="M283 208l2-8 9 7-2 6z" class="c70 a13"/><path d="M336 159l3 0 9 7-4 0z" class="c83 a21"/><path d="M421 346l3 11 9 13-4-9z" class="c24 a13"/><path d="M268 426l13-4 14-5 9 7-14 4-14 4z" class="c3 a12"/><path d="M360 178l3 7 9 18-4-10z" class="c75 a16"/><path d="M217 429l14-3 9 7-14 3z" class="c1 a12"/><path d="M429 361l4 9 8 14-3-7z" class="c20 a13"/><path d="M323 404l14-12 9 6-14 12z" class="c11 a13"/><path d="M290 224l2-11 8 7-1 9z" class="c66 a13"/><path d="M271 173l4-13 8 7-3 12z" class="c82 a19"/><path d="M278 187l2-8 9 6-2 9z" class="c77 a16"/><path d="M297 240l2-11 8 5-2 10z" class="c61 a13"/><path d="M412 321l4 13 8 23-3-11z" class="c30 a13"/><path d="M336 377l7-11 8 5-7 12z" class="c19 a13"/><path d="M334 360l7-15 9 5-7 16z" class="c25 a13"/><path d="M327 324l4-13 8 4-3 14z" class="c36 a13"/><path d="M332 339l4-10 8 5-3 11z" class="c31 a13"/><path d="M348 166l3 3 9 9-4-5z" class="c82 a19"/><path d="M304 255l1-11 9 5-2 11z" class="c57 a13"/><path d="M240 433l14-4 14-3 8 6-14 4-14 3z" class="c2 a12"/><path d="M373 199l4 10 8 28-3-12z" class="c68 a14"/><path d="M285 200l2-6 8 6-1 7z" class="c73 a14"/><path d="M310 270l2-10 9 4-2 10z" class="c53 a13"/><path d="M275 160l7 0 8 7-7 0z" class="c84 a22"/><path d="M322 306l4-17 8 4-3 18z" class="c43 a13"/><path d="M337 392l7-9 9 6-7 9z" class="c15 a13"/><path d="M304 424l14-6 8 6-14 6z" class="c5 a13"/><path d="M294 166l3 0 2 0 2-1 2 0 1 0 4-1 3 0 4-1 3 0 4-1 3-1 4 0 3-1 4-1 8 7-3 0-4 1-3 1-4 0-3 1-4 0-3 1-4 1-3 0-2 0-2 1-1 0-2 0-4 1z" class="c84 a21"/><path d="M318 418l14-8 8 6-14 8z" class="c7 a13"/><path d="M317 284l2-10 9 5-2 10z" class="c49 a13"/><path d="M290 428l14-4 8 6-13 5z" class="c4 a12"/><path d="M378 214l4 11 8 27-3-15z" class="c64 a14"/><path d="M344 166l4 0 8 7-3-1z" class="c83 a21"/><path d="M292 213l2-6 8 7-2 6z" class="c70 a13"/><path d="M356 173l4 5 8 15-3-7z" class="c79 a18"/><path d="M399 277l3 14 9 33-4-14z" class="c43 a13"/><path d="M276 432l14-4 9 7-14 4z" class="c3 a12"/><path d="M226 436l14-3 8 6-14 3z" class="c1 a12"/><path d="M389 243l3 13 9 31-4-15z" class="c55 a13"/><path d="M365 186l3 7 9 16-4-10z" class="c75 a15"/><path d="M332 410l14-12 8 6-14 12z" class="c11 a13"/><path d="M383 225l4 12 9 32-4-13z" class="c60 a13"/><path d="M394 257l3 15 9 32-4-13z" class="c50 a13"/><path d="M299 229l1-9 9 7-2 7z" class="c66 a13"/><path d="M426 350l3 11 9 16-4-10z" class="c25 a13"/><path d="M280 179l3-12 9 6-3 12z" class="c82 a20"/><path d="M404 295l3 15 9 24-4-13z" class="c40 a13"/><path d="M417 333l4 13 8 15-3-11z" class="c30 a13"/><path d="M287 194l2-9 8 7-2 8z" class="c77 a16"/><path d="M305 244l2-10 9 7-2 8z" class="c62 a13"/><path d="M344 383l7-12 9 6-7 12z" class="c20 a13"/><path d="M343 366l7-16 8 5-7 16z" class="c26 a13"/><path d="M283 167l7 0 4-1 8 7-3 0-7 0z" class="c84 a22"/><path d="M248 439l14-3 14-4 9 7-14 3-14 3z" class="c2 a12"/><path d="M341 345l3-11 9 5-3 11z" class="c32 a13"/><path d="M336 329l3-14 9 5-4 14z" class="c37 a13"/><path d="M294 207l1-7 9 6-2 8z" class="c73 a14"/><path d="M353 172l3 1 9 13-4-4z" class="c82 a19"/><path d="M312 260l2-11 9 5-2 10z" class="c58 a13"/><path d="M302 173l4-1 2 0 1 0 2-1 2 0 3 0 4-1 3-1 4 0 3-1 4 0 3-1 4-1 3 0 9 6-4 1-3 0-4 1-3 0-4 1-3 1-4 0-3 1-4 0-1 1-2 0-2 0-2 1-3 0z" class="c84 a21"/><path d="M346 398l7-9 8 5-7 10z" class="c16 a13"/><path d="M319 274l2-10 8 5-1 10z" class="c54 a13"/><path d="M370 191l3 8 9 26-4-11z" class="c74 a16"/><path d="M300 220l2-6 9 6-2 7z" class="c69 a13"/><path d="M331 311l3-18 9 5-4 17z" class="c44 a13"/><path d="M409 306l3 15 9 25-4-13z" class="c37 a13"/><path d="M349 173l4-1 8 10-3-2z" class="c83 a21"/><path d="M326 289l2-10 8 4-2 10z" class="c50 a13"/><path d="M361 182l4 4 8 13-3-8z" class="c79 a18"/><path d="M234 442l14-3 9 6-14 3z" class="c1 a12"/><path d="M307 234l2-7 8 7-1 7z" class="c66 a13"/><path d="M289 185l3-12 9 7-4 12z" class="c82 a20"/><path d="M375 206l3 8 9 23-4-12z" class="c70 a15"/><path d="M295 200l2-8 9 6-2 8z" class="c77 a16"/><path d="M314 249l2-8 8 6-1 7z" class="c62 a13"/><path d="M353 389l7-12 8 6-7 11z" class="c20 a13"/><path d="M292 173l7 0 3 0 9 6-3 0-7 1z" class="c84 a22"/><path d="M351 371l7-16 9 6-7 16z" class="c26 a13"/><path d="M302 214l2-8 8 6-1 8z" class="c73 a14"/><path d="M395 263l4 14 8 33-3-15z" class="c51 a13"/><path d="M422 337l4 13 8 17-3-12z" class="c31 a13"/><path d="M380 214l3 11 9 31-3-13z" class="c67 a14"/><path d="M350 350l3-11 9 5-4 11z" class="c32 a13"/><path d="M344 334l4-14 9 5-4 14z" class="c38 a13"/><path d="M385 232l4 11 8 29-3-15z" class="c62 a14"/><path d="M321 264l2-10 8 7-2 8z" class="c59 a13"/><path d="M314 179l2-1 2 0 2 0 1-1 4 0 3-1 4 0 3-1 4-1 3 0 4-1 3 0 9 7-4-1-3 1-4 1-3 0-4 1-3 1-4 0-3 1-2 0-1 0-2 1-2 0z" class="c84 a21"/><path d="M358 180l3 2 9 9-4-4z" class="c82 a20"/><path d="M309 227l2-7 8 6-2 8z" class="c69 a13"/><path d="M366 187l4 4 8 23-3-8z" class="c78 a18"/><path d="M390 243l4 14 8 34-3-14z" class="c57 a13"/><path d="M414 318l3 15 9 17-4-13z" class="c37 a13"/><path d="M328 279l1-10 9 5-2 9z" class="c55 a13"/><path d="M400 280l4 15 8 26-3-15z" class="c47 a13"/><path d="M339 315l4-17 8 5-3 17z" class="c45 a13"/><path d="M316 241l1-7 9 7-2 6z" class="c66 a13"/><path d="M334 293l2-10 9 6-2 9z" class="c51 a13"/><path d="M297 192l4-12 8 6-3 12z" class="c82 a20"/><path d="M304 206l2-8 8 6-2 8z" class="c77 a16"/><path d="M308 179l3 0 3 0 9 6-3 0-4 1z" class="c84 a22"/><path d="M323 254l1-7 9 8-2 6z" class="c62 a13"/><path d="M371 200l4 6 8 19-3-11z" class="c76 a16"/><path d="M363 186l3 1 9 19-4-6z" class="c81 a19"/><path d="M405 291l4 15 8 27-3-15z" class="c45 a13"/><path d="M311 220l1-8 9 6-2 8z" class="c73 a14"/><path d="M301 180l7-1 8 7-7 0z" class="c85 a22"/><path d="M360 377l7-16 8 5-7 17z" class="c27 a13"/><path d="M325 185l2-1 1 0 2 0 3-1 4 0 3-1 4-1 3 0 4-1 3-1 4 1 8 7-3-1-4 0-3 1-4 1-3 0-3 1-4 0-3 1-2 0-2 1-2 0z" class="c84 a21"/><path d="M329 269l2-8 9 7-2 6z" class="c59 a13"/><path d="M358 355l4-11 8 5-3 12z" class="c33 a13"/><path d="M353 339l4-14 8 5-3 14z" class="c39 a13"/><path d="M317 234l2-8 9 6-2 9z" class="c69 a13"/><path d="M377 206l3 8 9 29-4-11z" class="c73 a16"/><path d="M359 186l4 0 8 14-3-4z" class="c83 a20"/><path d="M336 283l2-9 8 7-1 8z" class="c55 a13"/><path d="M324 247l2-6 9 6-2 8z" class="c66 a13"/><path d="M348 320l3-17 9 5-3 17z" class="c45 a13"/><path d="M382 222l3 10 9 25-4-14z" class="c69 a15"/><path d="M306 198l3-12 9 6-4 12z" class="c82 a20"/><path d="M419 322l3 15 9 18-4-14z" class="c38 a13"/><path d="M356 187l3-1 9 10-4-2z" class="c83 a21"/><path d="M316 186l4-1 3 0 2 0 8 6-1 0-4 1-3 0z" class="c84 a22"/><path d="M343 298l2-9 8 5-2 9z" class="c51 a13"/><path d="M392 251l3 12 9 32-4-15z" class="c59 a13"/><path d="M312 212l2-8 9 7-2 7z" class="c77 a16"/><path d="M331 261l2-6 8 7-1 6z" class="c62 a13"/><path d="M368 196l3 4 9 14-3-8z" class="c80 a18"/><path d="M387 231l3 12 9 34-4-14z" class="c65 a14"/><path d="M319 226l2-8 8 6-1 8z" class="c74 a14"/><path d="M410 302l4 16 8 19-3-15z" class="c45 a13"/><path d="M309 186l7 0 9 6-7 0z" class="c85 a22"/><path d="M339 190l3-1 4 0 3-1 3 0 4-1 8 7-3 0-3 0-4 1-3 1-4 0z" class="c84 a21"/><path d="M338 274l2-6 8 7-2 6z" class="c59 a13"/><path d="M397 264l3 16 9 26-4-15z" class="c55 a13"/><path d="M326 241l2-9 8 6-1 9z" class="c70 a13"/><path d="M367 361l3-12 9 6-4 11z" class="c34 a13"/><path d="M362 344l3-14 9 5-4 14z" class="c39 a13"/><path d="M373 201l4 5 8 26-3-10z" class="c77 a18"/><path d="M345 289l1-8 9 7-2 6z" class="c55 a13"/><path d="M333 255l2-8 8 5-2 10z" class="c66 a13"/><path d="M364 194l4 2 9 10-4-5z" class="c82 a20"/><path d="M325 192l3 0 4-1 1 0 2 0 2-1 2 0 8 6-2 1-1 0-2 0-2 0-3 1-4 0z" class="c84 a22"/><path d="M314 204l4-12 8 7-3 12z" class="c82 a20"/><path d="M357 325l3-17 9 6-4 16z" class="c46 a13"/><path d="M340 268l1-6 9 5-2 8z" class="c62 a13"/><path d="M321 218l2-7 8 6-2 7z" class="c77 a16"/><path d="M351 303l2-9 9 7-2 7z" class="c52 a13"/><path d="M402 277l3 14 9 27-4-16z" class="c53 a13"/><path d="M361 194l3 0 9 7-3-1z" class="c84 a21"/><path d="M378 216l4 6 8 21-3-12z" class="c74 a16"/><path d="M346 281l2-6 9 8-2 5z" class="c58 a13"/><path d="M318 192l7 0 8 6-7 1z" class="c85 a22"/><path d="M328 232l1-8 9 6-2 8z" class="c74 a14"/><path d="M370 200l3 1 9 21-4-6z" class="c81 a19"/><path d="M383 222l4 9 8 32-3-12z" class="c71 a15"/><path d="M335 247l1-9 9 6-2 8z" class="c70 a14"/><path d="M388 240l4 11 8 29-3-16z" class="c66 a14"/><path d="M353 294l2-6 8 8-1 5z" class="c55 a13"/><path d="M333 198l4 0 3-1 2 0 2 0 1 0 2-1 4 0 3-1 4-1 3 0 9 6-4 1-3 0-4 1-3 1-2 0-2 0-2 0-1 1-4 0-3 1z" class="c84 a22"/><path d="M370 349l4-14 8 6-3 14z" class="c40 a13"/><path d="M341 262l2-10 9 6-2 9z" class="c66 a13"/><path d="M415 305l4 17 8 19-3-16z" class="c47 a13"/><path d="M323 211l3-12 9 6-4 12z" class="c82 a20"/><path d="M366 201l4-1 8 16-3-5z" class="c82 a20"/><path d="M348 275l2-8 8 6-1 10z" class="c62 a13"/><path d="M329 224l2-7 9 6-2 7z" class="c77 a16"/><path d="M365 330l4-16 8 7-3 14z" class="c46 a13"/><path d="M360 308l2-7 8 7-1 6z" class="c52 a13"/><path d="M393 251l4 13 8 27-3-14z" class="c63 a13"/><path d="M407 286l3 16 9 20-4-17z" class="c53 a13"/><path d="M355 288l2-5 8 5-2 8z" class="c58 a13"/><path d="M375 211l3 5 9 15-4-9z" class="c79 a17"/><path d="M363 201l3 0 9 10-4-2z" class="c83 a21"/><path d="M326 199l7-1 9 7-7 0z" class="c85 a22"/><path d="M336 238l2-8 9 7-2 7z" class="c74 a14"/><path d="M359 202l4-1 8 8-3-1z" class="c84 a21"/><path d="M362 301l1-5 9 9-2 3z" class="c54 a13"/><path d="M343 252l2-8 8 6-1 8z" class="c70 a14"/><path d="M380 216l3 6 9 29-4-11z" class="c76 a17"/><path d="M350 267l2-9 8 6-2 9z" class="c66 a13"/><path d="M398 263l4 14 8 25-3-16z" class="c61 a13"/><path d="M342 205l3-1 4 0 1-1 2 0 2 0 2 0 3-1 9 6-4 1-2 0-1 0-2 1-2 0-3 0-4 1z" class="c84 a22"/><path d="M331 217l4-12 8 7-3 11z" class="c82 a20"/><path d="M371 209l4 2 8 11-3-6z" class="c82 a19"/><path d="M369 314l1-6 9 8-2 5z" class="c51 a13"/><path d="M357 283l1-10 9 6-2 9z" class="c62 a13"/><path d="M338 230l2-7 8 7-1 7z" class="c77 a16"/><path d="M385 233l3 7 9 24-4-13z" class="c72 a15"/><path d="M374 335l3-14 9 7-4 13z" class="c47 a13"/><path d="M363 296l2-8 9 5-2 12z" class="c58 a13"/><path d="M414 297l1 8 9 20-2-8z" class="c53 a13"/><path d="M335 205l7 0 8 6-7 1z" class="c85 a22"/><path d="M345 244l2-7 8 6-2 7z" class="c74 a14"/><path d="M370 308l2-3 9 5-2 6z" class="c54 a13"/><path d="M368 208l3 1 9 7-4-2z" class="c84 a21"/><path d="M405 278l2 8 8 19-1-8z" class="c60 a13"/><path d="M376 214l4 2 8 24-3-7z" class="c80 a19"/><path d="M352 258l1-8 9 7-2 7z" class="c70 a14"/><path d="M390 240l3 11 9 26-4-14z" class="c71 a14"/><path d="M377 321l2-5 8 9-1 3z" class="c51 a13"/><path d="M350 211l4-1 3 0 2 0 2-1 1 0 2 0 4-1 8 6-3 1-2 0-2 1-2 0-1 0-4 1-3 0z" class="c84 a22"/><path d="M358 273l2-9 9 7-2 8z" class="c66 a13"/><path d="M340 223l3-11 9 6-4 12z" class="c82 a20"/><path d="M347 237l1-7 9 6-2 7z" class="c77 a16"/><path d="M365 288l2-9 9 6-2 8z" class="c62 a13"/><path d="M397 257l1 6 9 23-2-8z" class="c67 a14"/><path d="M373 215l3-1 9 19-4-6z" class="c82 a20"/><path d="M372 305l2-12 8 6-1 11z" class="c58 a13"/><path d="M412 289l2 8 8 20-2-9z" class="c58 a13"/><path d="M381 227l4 6 8 18-3-11z" class="c77 a17"/><path d="M343 212l7-1 9 6-7 1z" class="c85 a22"/><path d="M353 250l2-7 9 6-2 8z" class="c74 a14"/><path d="M379 316l2-6 8 4-2 11z" class="c54 a13"/><path d="M371 215l2 0 8 12-2-2z" class="c83 a21"/><path d="M403 271l2 7 9 19-2-8z" class="c64 a13"/><path d="M369 216l2-1 8 10-1-1z" class="c84 a21"/><path d="M360 264l2-7 8 6-1 8z" class="c70 a14"/><path d="M367 216l2 0 9 8-2-1z" class="c84 a21"/><path d="M388 236l2 4 8 23-1-6z" class="c75 a16"/><path d="M348 230l4-12 8 6-3 12z" class="c82 a20"/><path d="M367 279l2-8 8 6-1 8z" class="c67 a13"/><path d="M362 217l4-1 1 0 9 7-2 0-3 0z" class="c84 a22"/><path d="M395 252l2 5 8 21-2-7z" class="c71 a15"/><path d="M379 225l2 2 9 13-2-4z" class="c81 a18"/><path d="M355 243l2-7 8 7-1 6z" class="c77 a16"/><path d="M410 282l2 7 8 19-1-8z" class="c62 a13"/><path d="M374 293l2-8 8 6-2 8z" class="c63 a13"/><path d="M352 218l7-1 3 0 9 6-4 1-7 0z" class="c85 a22"/><path d="M381 310l1-11 9 6-2 9z" class="c58 a13"/><path d="M378 224l1 1 9 11-2-4z" class="c82 a20"/><path d="M362 257l2-8 8 7-2 7z" class="c74 a15"/><path d="M402 264l1 7 9 18-2-7z" class="c68 a13"/><path d="M386 232l2 4 9 21-2-5z" class="c78 a17"/><path d="M376 223l2 1 8 8-1-2z" class="c83 a21"/><path d="M369 271l1-8 9 6-2 8z" class="c70 a14"/><path d="M393 247l2 5 8 19-1-7z" class="c74 a15"/><path d="M357 236l3-12 9 7-4 12z" class="c82 a20"/><path d="M371 223l3 0 2 0 9 7-2-1-4 0z" class="c84 a22"/><path d="M385 230l1 2 9 20-2-5z" class="c80 a19"/><path d="M376 285l1-8 9 6-2 8z" class="c67 a13"/><path d="M364 249l1-6 9 6-2 7z" class="c77 a16"/><path d="M408 275l2 7 9 18-2-9z" class="c66 a13"/><path d="M382 299l2-8 9 6-2 8z" class="c63 a13"/><path d="M360 224l7 0 4-1 8 6-3 1-7 1z" class="c85 a22"/><path d="M400 258l2 6 8 18-2-7z" class="c72 a14"/><path d="M383 229l2 1 8 17-2-4z" class="c82 a20"/><path d="M391 243l2 4 9 17-2-6z" class="c77 a16"/><path d="M370 263l2-7 9 6-2 7z" class="c74 a15"/><path d="M377 277l2-8 9 7-2 7z" class="c70 a14"/><path d="M379 229l4 0 8 14-3-4z" class="c83 a21"/><path d="M365 243l4-12 8 6-3 12z" class="c82 a20"/><path d="M384 291l2-8 8 6-1 8z" class="c67 a13"/><path d="M372 256l2-7 8 6-1 7z" class="c77 a16"/><path d="M376 230l3-1 9 10-4-2z" class="c84 a22"/><path d="M388 239l3 4 9 15-4-10z" class="c80 a18"/><path d="M369 231l7-1 8 7-7 0z" class="c85 a22"/><path d="M396 248l4 10 8 17-3-12z" class="c76 a16"/><path d="M405 263l3 12 9 16-4-14z" class="c72 a14"/><path d="M379 269l2-7 8 7-1 7z" class="c74 a15"/><path d="M386 283l2-7 8 6-2 7z" class="c71 a14"/><path d="M384 237l4 2 8 9-3-4z" class="c83 a21"/><path d="M374 249l3-12 9 7-4 11z" class="c82 a20"/><path d="M381 262l1-7 9 7-2 7z" class="c77 a16"/><path d="M377 237l7 0 9 7-7 0z" class="c85 a22"/><path d="M388 276l1-7 9 6-2 7z" class="c74 a15"/><path d="M393 244l3 4 9 15-4-9z" class="c81 a19"/><path d="M401 254l4 9 8 14-3-12z" class="c78 a17"/><path d="M382 255l4-11 8 6-3 12z" class="c82 a20"/><path d="M389 269l2-7 9 6-2 7z" class="c77 a16"/><path d="M386 244l7 0 8 10-7-4z" class="c84 a22"/><path d="M391 262l3-12 9 6-3 12z" class="c82 a20"/><path d="M394 250l7 4 9 11-7-9z" class="c83 a20"/></g>
<polyline points="116.3,64.1 201.7,128.2" fill="none" stroke="#111" stroke-width="1.3" stroke-linejoin="round"/>
<line x1="35.8" y1="407.6" x2="35.8" y2="300.2" stroke="#9a9a9a" stroke-width="1.3"/>
<line x1="32.9" y1="406.1" x2="35.8" y2="407.6" stroke="#555" stroke-width="0.9"/>
<line x1="32.9" y1="380.1" x2="35.8" y2="381.6" stroke="#555" stroke-width="0.9"/>
<line x1="32.9" y1="354.1" x2="35.8" y2="355.6" stroke="#555" stroke-width="0.9"/>
<line x1="32.9" y1="328.1" x2="35.8" y2="329.6" stroke="#555" stroke-width="0.9"/>
<line x1="32.9" y1="302.1" x2="35.8" y2="303.6" stroke="#555" stroke-width="0.9"/>
<line x1="35.8" y1="407.6" x2="121.2" y2="471.7" stroke="#3a3a3a" stroke-width="1"/>
<line x1="121.2" y1="471.7" x2="288.4" y2="440.7" stroke="#3a3a3a" stroke-width="1"/>
<line x1="35.8" y1="407.6" x2="31.9" y2="408.3" stroke="#555" stroke-width="0.9"/>
<line x1="78.5" y1="439.7" x2="74.6" y2="440.4" stroke="#555" stroke-width="0.9"/>
<line x1="121.2" y1="471.7" x2="117.3" y2="472.4" stroke="#555" stroke-width="0.9"/>
<line x1="121.2" y1="471.7" x2="118.0" y2="469.3" stroke="#555" stroke-width="0.9"/>
<line x1="204.8" y1="456.2" x2="201.6" y2="453.8" stroke="#555" stroke-width="0.9"/>
<line x1="288.4" y1="440.7" x2="285.2" y2="438.3" stroke="#555" stroke-width="0.9"/>
<g shape-rendering="crispEdges" transform="matrix(.5 0 0 .5 .13 .13)"><path d="M264 779l17 13 0-1z" class="c0 a11"/><path d="M281 791l0 1 17 13 0-1z" class="c0 a11"/><path d="M263 777l0 1 1 1 17 12-1-1z" class="c1 a11"/><path d="M298 804l0 1 17 13 0-1z" class="c0 a11"/><path d="M280 790l1 1 17 13-1-1z" class="c1 a11"/><path d="M315 817l0 1 17 13 0-1z" class="c0 a11"/><path d="M297 803l1 1 17 13-1-1 0-1z" class="c1 a11"/><path d="M332 830l0 1 17 13 0-1z" class="c0 a11"/><path d="M314 815l0 1 1 1 17 13 0-1-1-1z" class="c1 a11"/><path d="M349 843l0 1 17 12z" class="c0 a11"/><path d="M331 828l1 1 0 1 17 13 0-1-1-1z" class="c1 a11"/><path d="M366 856l17 13 0-1z" class="c0 a11"/><path d="M348 841l1 1 0 1 17 13 0-1-1-1z" class="c1 a11"/><path d="M383 868l0 1 18 13-1 0 0-1z" class="c0 a11"/><path d="M365 854l1 1 0 1 17 12 0-1-1 0z" class="c1 a11"/><path d="M400 881l0 1 1 0 17 13-1-1z" class="c0 a11"/><path d="M382 867l1 0 0 1 17 13 0-1 0-1z" class="c1 a11"/><path d="M417 894l1 1 17 13 0-1-1 0z" class="c0 a11"/><path d="M260 769l3 8 17 13-3-9z" class="c3 a14"/><path d="M400 879l0 1 0 1 17 13 0-1 0-1z" class="c1 a11"/><path d="M264 779l0-14 17 12 0 15z" class="c4 a11"/><path d="M277 781l3 9 17 13-3-9z" class="c3 a14"/><path d="M417 892l0 1 0 1 17 13 0-1 0-1z" class="c1 a11"/><path d="M281 792l0-15 17 13 0 15z" class="c4 a11"/><path d="M294 794l3 9 17 12-3-8z" class="c3 a14"/><path d="M298 805l0-15 17 13 0 15z" class="c4 a11"/><path d="M311 807l3 8 17 13-3-8z" class="c3 a14"/><path d="M315 818l0-15 17 13 0 15z" class="c4 a11"/><path d="M328 820l3 8 17 13-3-8z" class="c3 a14"/><path d="M332 831l0-15 17 13 0 15z" class="c4 a11"/><path d="M345 833l3 8 17 13-3-9z" class="c3 a14"/><path d="M349 844l0-15 17 13 0 14z" class="c4 a11"/><path d="M362 845l3 9 17 13-3-9z" class="c3 a14"/><path d="M366 856l0-14 17 12 0 15z" class="c4 a11"/><path d="M379 858l3 9 18 12-4-8z" class="c3 a14"/><path d="M383 869l0-15 18 13 0 15z" class="c4 a11"/><path d="M396 871l4 8 17 13-4-8z" class="c3 a14"/><path d="M401 882l0-15 17 13 0 15z" class="c4 a11"/><path d="M413 884l4 8 17 13-4-8z" class="c3 a14"/><path d="M418 895l0-15 17 13 0 15z" class="c4 a11"/><path d="M256 759l4 10 17 12-4-9z" class="c8 a18"/><path d="M273 772l4 9 17 13-4-9z" class="c8 a18"/><path d="M290 785l4 9 17 13-4-9z" class="c8 a18"/><path d="M307 798l4 9 17 13-3-9z" class="c8 a18"/><path d="M325 811l3 9 17 13-3-9z" class="c8 a18"/><path d="M342 824l3 9 17 12-3-9z" class="c8 a18"/><path d="M359 836l3 9 17 13-3-9z" class="c8 a18"/><path d="M376 849l3 9 17 13-3-9z" class="c8 a18"/><path d="M393 862l3 9 17 13-3-9z" class="c8 a18"/><path d="M264 765l0-15 17 13 0 14z" class="c11 a11"/><path d="M410 875l3 9 17 13-3-9z" class="c8 a18"/><path d="M281 777l0-14 17 12 0 15z" class="c11 a11"/><path d="M298 790l0-15 17 13 0 15z" class="c11 a11"/><path d="M315 803l0-15 17 13 0 15z" class="c11 a11"/><path d="M332 816l0-15 17 13 0 15z" class="c11 a11"/><path d="M349 829l0-15 17 13 0 15z" class="c11 a11"/><path d="M366 842l0-15 17 13 0 14z" class="c11 a11"/><path d="M253 750l3 9 17 13-3-9z" class="c13 a20"/><path d="M383 854l0-14 18 12 0 15z" class="c11 a11"/><path d="M270 763l3 9 17 13-3-9z" class="c13 a20"/><path d="M401 867l0-15 17 13 0 15z" class="c11 a11"/><path d="M287 776l3 9 17 13-3-9z" class="c13 a20"/><path d="M418 880l0-15 17 13 0 15z" class="c11 a11"/><path d="M304 789l3 9 18 13-4-9z" class="c13 a20"/><path d="M321 802l4 9 17 13-4-10z" class="c13 a20"/><path d="M338 814l4 10 17 12-4-9z" class="c13 a20"/><path d="M355 827l4 9 17 13-4-9z" class="c13 a20"/><path d="M372 840l4 9 17 13-4-9z" class="c13 a20"/><path d="M389 853l4 9 17 13-4-9z" class="c13 a20"/><path d="M406 866l4 9 17 13-3-9z" class="c13 a20"/><path d="M249 740l4 10 17 13-4-10z" class="c18 a21"/><path d="M264 750l0-15 17 13 0 15z" class="c18 a11"/><path d="M266 753l4 10 17 13-4-11z" class="c18 a21"/><path d="M281 763l0-15 17 13 0 14z" class="c18 a11"/><path d="M283 765l4 11 17 13-4-11z" class="c18 a21"/><path d="M298 775l0-14 17 12 0 15z" class="c18 a11"/><path d="M469 802l0-6 17-46z" class="c18 a18"/><path d="M498 763l1 0 17 81 0-6z" class="c17 a18"/><path d="M300 778l4 11 17 13-3-11z" class="c18 a21"/><path d="M315 788l0-15 17 13 0 15z" class="c18 a11"/><path d="M516 838l0 6 17-55z" class="c17 a18"/><path d="M318 791l3 11 17 12-3-10z" class="c18 a21"/><path d="M332 801l0-15 17 13 0 15z" class="c18 a11"/><path d="M468 819l1-5 17-51-1 1z" class="c18 a18"/><path d="M465 793l1 8 17-51-1 0z" class="c19 a18"/><path d="M335 804l3 10 17 13-3-10z" class="c18 a21"/><path d="M349 814l0-15 17 13 0 15z" class="c18 a11"/><path d="M469 787l0 15 17-52z" class="c19 a18"/><path d="M499 763l17 67 0 14z" class="c18 a18"/><path d="M352 817l3 10 17 13-3-10z" class="c18 a21"/><path d="M366 827l0-15 17 13 0 15z" class="c18 a11"/><path d="M465 809l1 12 17-57-1 0z" class="c19 a18"/><path d="M502 763l17 66 0 12z" class="c18 a18"/><path d="M516 844l0-14 17-41z" class="c18 a18"/><path d="M369 830l3 10 17 13-3-11z" class="c18 a21"/><path d="M466 821l0-14 17-43z" class="c19 a18"/><path d="M383 840l0-15 18 13 0 14z" class="c18 a11"/><path d="M466 801l0-15 17-36z" class="c19 a18"/><path d="M519 841l0-12 18-41-1 0z" class="c18 a18"/><path d="M501 763l1 0 17 78 0-14z" class="c19 a18"/><path d="M516 853l0 6 17-57z" class="c18 a18"/><path d="M468 805l0 14 17-55z" class="c19 a18"/><path d="M386 842l3 11 17 13-3-11z" class="c18 a21"/><path d="M465 792l0 1 17-43z" class="c20 a18"/><path d="M498 763l18 75-1-8z" class="c19 a18"/><path d="M401 852l0-14 17 12 0 15z" class="c18 a11"/><path d="M465 792l17-42z" class="c20 a18"/><path d="M519 827l0 14 17-53z" class="c19 a18"/><path d="M403 855l3 11 18 13-4-11z" class="c18 a21"/><path d="M516 873l1 3 17-61-1 0z" class="c18 a18"/><path d="M465 791l0 1 17-42z" class="c20 a18"/><path d="M515 830l1 8 17-49-1 0z" class="c19 a18"/><path d="M418 865l0-15 17 13 0 15z" class="c18 a11"/><path d="M518 858l1-10 17-46-1 0z" class="c19 a18"/><path d="M469 796l1-13 17-33-1 0z" class="c20 a18"/><path d="M465 790l0 1 17-41z" class="c20 a18"/><path d="M465 790l17-40z" class="c20 a18"/><path d="M465 789l0 1 17-40z" class="c20 a18"/><path d="M469 814l1-12 17-39-1 0z" class="c20 a18"/><path d="M518 844l0 14 17-56z" class="c19 a18"/><path d="M516 859l0-15 17-42z" class="c19 a18"/><path d="M465 788l0 1 17-39z" class="c21 a18"/><path d="M502 763l17 66z" class="c20 a18"/><path d="M502 763l18 65-1 1z" class="c20 a18"/><path d="M465 808l0 1 17-45z" class="c20 a18"/><path d="M465 788l17-38z" class="c21 a18"/><path d="M502 763l18 65z" class="c20 a18"/><path d="M465 807l0 1 17-44z" class="c20 a18"/><path d="M518 875l1-10 17-50-1 0z" class="c19 a18"/><path d="M465 787l0 1 17-38z" class="c21 a18"/><path d="M519 829l18-41z" class="c20 a18"/><path d="M502 763l1 0 17 64 0 1z" class="c20 a18"/><path d="M516 868l0 5 17-58z" class="c19 a18"/><path d="M465 807l17-43z" class="c21 a18"/><path d="M519 829l1-1 17-40z" class="c20 a18"/><path d="M503 763l17 64z" class="c20 a18"/><path d="M465 787l17-37z" class="c21 a18"/><path d="M515 846l1 7 17-51-1 0z" class="c20 a18"/><path d="M520 828l17-40z" class="c20 a18"/><path d="M503 763l17 63 0 1z" class="c20 a18"/><path d="M465 806l0 1 17-43z" class="c21 a18"/><path d="M465 786l0 1 17-37z" class="c21 a18"/><path d="M520 828l0-1 17-39z" class="c20 a18"/><path d="M503 763l17 63z" class="c21 a18"/><path d="M517 876l0-14 17-47z" class="c19 a18"/><path d="M519 848l0-1 17-45z" class="c20 a18"/><path d="M465 805l0 1 17-42z" class="c21 a18"/><path d="M520 827l17-39z" class="c20 a18"/><path d="M503 763l17 62 0 1z" class="c21 a18"/><path d="M465 785l0 1 17-36z" class="c21 a18"/><path d="M519 847l17-45z" class="c20 a18"/><path d="M520 827l0-1 17-38z" class="c20 a18"/><path d="M503 763l17 62z" class="c21 a18"/><path d="M465 805l17-41z" class="c21 a18"/><path d="M519 847l0-1 17-44z" class="c20 a18"/><path d="M465 785l17-35z" class="c21 a18"/><path d="M520 826l17-38z" class="c21 a18"/><path d="M503 763l17 61 0 1z" class="c21 a18"/><path d="M518 860l0 15 17-60z" class="c20 a18"/><path d="M519 846l17-44z" class="c20 a18"/><path d="M465 804l0 1 17-41z" class="c21 a18"/><path d="M520 826l0-1 17-37z" class="c21 a18"/><path d="M503 763l17 61z" class="c21 a18"/><path d="M465 784l0 1 17-35z" class="c22 a18"/><path d="M519 846l0-1 17-43z" class="c20 a18"/><path d="M498 763l17 67 0-9z" class="c21 a18"/><path d="M465 804l17-40z" class="c21 a18"/><path d="M520 825l17-37z" class="c21 a18"/><path d="M503 763l17 60 0 1z" class="c21 a18"/><path d="M519 845l17-43z" class="c20 a18"/><path d="M520 825l0-1 17-36z" class="c21 a18"/><path d="M503 763l17 60z" class="c21 a18"/><path d="M465 803l0 1 17-40z" class="c21 a18"/><path d="M519 845l0-1 17-42z" class="c21 a18"/><path d="M519 865l17-50z" class="c20 a18"/><path d="M520 824l17-36z" class="c21 a18"/><path d="M503 763l17 59 0 1z" class="c21 a18"/><path d="M519 844l17-42z" class="c21 a18"/><path d="M515 821l0 9 17-41z" class="c21 a18"/><path d="M519 865l17-50z" class="c20 a18"/><path d="M465 802l0 1 17-39z" class="c22 a18"/><path d="M520 824l0-1 17-35z" class="c21 a18"/><path d="M519 844l17-42z" class="c21 a18"/><path d="M519 865l0-1 17-49z" class="c20 a18"/><path d="M520 823l17-35z" class="c21 a18"/><path d="M465 802l17-38z" class="c22 a18"/><path d="M519 844l0-1 18-41-1 0z" class="c21 a18"/><path d="M519 864l17-49z" class="c20 a18"/><path d="M520 823l0-1 17-34z" class="c21 a18"/><path d="M519 843l18-41z" class="c21 a18"/><path d="M469 773l0 14 17-37z" class="c22 a18"/><path d="M519 864l0-1 17-48z" class="c21 a18"/><path d="M499 763l17 52 0 15z" class="c22 a18"/><path d="M465 801l0 1 17-38z" class="c22 a18"/><path d="M246 729l3 11 17 13-3-11z" class="c23 a21"/><path d="M519 863l17-48z" class="c21 a18"/><path d="M519 843l1-1 17-40z" class="c21 a18"/><path d="M515 861l1 7 17-53-1 0z" class="c21 a18"/><path d="M465 800l0 1 17-37z" class="c22 a18"/><path d="M519 863l0-1 17-47z" class="c21 a18"/><path d="M520 842l17-40z" class="c21 a18"/><path d="M519 862l17-47z" class="c21 a18"/><path d="M520 842l0-1 17-39z" class="c21 a18"/><path d="M465 800l17-36z" class="c22 a18"/><path d="M516 830l0-15 17-26z" class="c22 a18"/><path d="M263 742l3 11 17 12-3-10z" class="c23 a21"/><path d="M466 807l0-15 17-28z" class="c22 a18"/><path d="M519 862l17-47z" class="c21 a18"/><path d="M466 786l0-14 17-22z" class="c23 a18"/><path d="M503 763l17 53 0 6z" class="c22 a18"/><path d="M519 862l0-1 17-46z" class="c21 a18"/><path d="M501 763l18 64 0-15z" class="c22 a18"/><path d="M519 861l17-46z" class="c21 a18"/><path d="M464 773l1 11 17-34-1 0z" class="c23 a18"/><path d="M468 790l0 15 17-41z" class="c23 a18"/><path d="M280 755l3 10 17 13-3-11z" class="c23 a21"/><path d="M519 861l0-1 17-45z" class="c21 a18"/><path d="M470 783l1-13 17-20-1 0z" class="c23 a18"/><path d="M515 837l0 9 17-44z" class="c22 a18"/><path d="M519 860l17-45z" class="c21 a18"/><path d="M520 822l0-6 17-28z" class="c22 a18"/><path d="M519 812l0 15 17-39z" class="c22 a18"/><path d="M519 860l0-1 17-44z" class="c21 a18"/><path d="M297 767l3 11 18 13-4-11z" class="c23 a21"/><path d="M470 802l0-14 18-25-1 0z" class="c23 a18"/><path d="M520 841l0-6 17-33z" class="c22 a18"/><path d="M314 780l4 11 17 13-4-11z" class="c23 a21"/><path d="M518 829l0 15 17-42z" class="c23 a18"/><path d="M516 844l0-14 17-28z" class="c23 a18"/><path d="M464 789l1 11 17-36-1 0z" class="c24 a18"/><path d="M331 793l4 11 17 13-4-11z" class="c23 a21"/><path d="M519 859l1-6 17-38-1 0z" class="c22 a18"/><path d="M264 735l0-15 17 13 0 15z" class="c25 a11"/><path d="M497 763l1 0 17 58-1-11z" class="c23 a18"/><path d="M348 806l4 11 17 13-4-11z" class="c23 a21"/><path d="M281 748l0-15 17 13 0 15z" class="c25 a11"/><path d="M515 852l0 9 17-46z" class="c23 a18"/><path d="M514 810l1 11 17-32-1 0z" class="c23 a18"/><path d="M365 819l4 11 17 12-4-11z" class="c23 a21"/><path d="M298 761l0-15 17 13 0 14z" class="c25 a11"/><path d="M517 862l0-15 17-32z" class="c23 a18"/><path d="M382 831l4 11 17 13-4-11z" class="c23 a21"/><path d="M503 763l1 0 17 40-1 13z" class="c24 a18"/><path d="M518 845l0 15 17-45z" class="c23 a18"/><path d="M315 773l0-14 17 12 0 15z" class="c25 a11"/><path d="M399 844l4 11 17 13-3-11z" class="c23 a21"/><path d="M520 816l1-13 17-15-1 0z" class="c24 a18"/><path d="M332 786l0-15 17 13 0 15z" class="c25 a11"/><path d="M514 826l1 11 17-35-1 0z" class="c24 a18"/><path d="M464 762l0 11 17-23z" class="c26 a18"/><path d="M349 799l0-15 17 13 0 15z" class="c25 a11"/><path d="M520 835l1-13 17-20-1 0z" class="c24 a18"/><path d="M469 758l0 15 17-23z" class="c26 a18"/><path d="M499 763l17 38 0 14z" class="c25 a18"/><path d="M471 770l1-11 17-9-1 0z" class="c26 a18"/><path d="M366 812l0-15 17 13 0 15z" class="c25 a11"/><path d="M516 815l0-14 17-12z" class="c25 a18"/><path d="M466 792l0-15 17-13z" class="c26 a18"/><path d="M466 772l0-15 17-7z" class="c26 a18"/><path d="M520 853l1-13 17-25-1 0z" class="c24 a18"/><path d="M501 763l18 49 0-14z" class="c26 a18"/><path d="M470 788l1-12 17-13z" class="c26 a18"/><path d="M383 825l0-15 18 13 0 15z" class="c25 a11"/><path d="M468 776l0 14 17-26z" class="c26 a18"/><path d="M464 778l0 11 17-25z" class="c26 a18"/><path d="M519 798l0 14 17-24z" class="c26 a18"/><path d="M401 838l0-15 17 12 0 15z" class="c25 a11"/><path d="M514 842l1 10 17-37z" class="c25 a18"/><path d="M497 763l17 47 0-11z" class="c26 a18"/><path d="M418 850l0-15 17 13 0 15z" class="c25 a11"/><path d="M514 799l0 11 17-21z" class="c26 a18"/><path d="M518 815l0 14 17-27z" class="c26 a18"/><path d="M516 830l0-15 17-13z" class="c26 a18"/><path d="M504 763l1 0 17 30-1 10z" class="c27 a18"/><path d="M242 718l4 11 17 13-4-11z" class="c28 a20"/><path d="M521 803l1-10 17-5-1 0z" class="c27 a18"/><path d="M514 815l0 11 17-24z" class="c27 a18"/><path d="M472 759l1-9 17 0-1 0z" class="c28 a18"/><path d="M259 731l4 11 17 13-4-11z" class="c28 a20"/><path d="M517 847l0-15 17-17z" class="c26 a18"/><path d="M463 750l1 12 17-12z" class="c28 a18"/><path d="M276 744l4 11 17 12-3-10z" class="c28 a20"/><path d="M521 822l1-11 17-9-1 0z" class="c27 a18"/><path d="M518 830l0 15 17-30z" class="c27 a18"/><path d="M294 757l3 10 17 13-3-11z" class="c28 a20"/><path d="M471 776l1-9 17-4-1 0z" class="c28 a18"/><path d="M311 769l3 11 17 13-3-11z" class="c28 a20"/><path d="M521 840l0-12 17-13z" class="c27 a18"/><path d="M469 744l0 14 17-8z" class="c29 a18"/><path d="M499 763l17 23 0 15z" class="c29 a18"/><path d="M514 831l0 11 18-27-1 0z" class="c27 a18"/><path d="M464 766l0 12 17-14z" class="c29 a18"/><path d="M328 782l3 11 17 13-3-11z" class="c28 a20"/><path d="M516 801l0-15 17 3z" class="c29 a18"/><path d="M496 763l1 0 17 36-1-12z" class="c29 a18"/><path d="M505 763l1 0 17 23-1 7z" class="c29 a18"/><path d="M466 777l0-14 17 1z" class="c29 a18"/><path d="M466 757l0-14 17 7z" class="c30 a18"/><path d="M501 763l18 35-1-15z" class="c29 a18"/><path d="M345 795l3 11 17 13-3-11z" class="c28 a20"/><path d="M468 761l0 15 17-12z" class="c30 a18"/><path d="M513 787l1 12 17-10-1 0z" class="c29 a18"/><path d="M522 793l1-7 17 2-1 0z" class="c29 a18"/><path d="M518 783l1 15 17-10z" class="c29 a18"/><path d="M362 808l3 11 17 12-3-10z" class="c28 a20"/><path d="M473 750l1-9 17 9-1 0z" class="c30 a18"/><path d="M379 821l3 10 17 13-3-11z" class="c28 a20"/><path d="M396 833l3 11 18 13-4-11z" class="c28 a20"/><path d="M522 811l1-9 17 0-1 0z" class="c29 a18"/><path d="M513 803l1 12 17-13z" class="c29 a18"/><path d="M518 800l0 15 17-13z" class="c29 a18"/><path d="M516 815l0-14 17 1z" class="c29 a18"/><path d="M506 763l1 0 17 18-1 5z" class="c30 a18"/><path d="M264 720l0-15 17 13 0 15z" class="c32 a11"/><path d="M472 767l2-12 17 8-2 0z" class="c31 a18"/><path d="M463 738l0 12 18 0-1 0z" class="c31 a18"/><path d="M523 786l1-5 17 7-1 0z" class="c30 a18"/><path d="M281 733l0-15 17 13 0 15z" class="c32 a11"/><path d="M521 828l1-10 17-3-1 0z" class="c30 a18"/><path d="M517 832l0-15 17-2z" class="c30 a18"/><path d="M298 746l0-15 17 13 0 15z" class="c32 a11"/><path d="M518 816l0 14 17-15z" class="c30 a18"/><path d="M507 763l1-1 18 14-2 5z" class="c31 a18"/><path d="M514 819l0 12 17-16z" class="c30 a18"/><path d="M315 759l0-15 17 13 0 14z" class="c32 a11"/><path d="M463 754l1 12 17-2-1 0z" class="c32 a18"/><path d="M524 781l2-5 17 12-2 0z" class="c31 a18"/><path d="M523 802l0-6 18 6-1 0z" class="c31 a18"/><path d="M332 771l0-14 17 12 0 15z" class="c32 a11"/><path d="M496 763l17 24 0-12z" class="c32 a18"/><path d="M486 750l1 0 1 0 1 0 1 0 1 0 17 12-1 1-1 0-1 0-1 0-1 0z" class="c32 a18"/><path d="M469 729l0 15 17 6z" class="c33 a18"/><path d="M499 763l17 9 0 14z" class="c32 a18"/><path d="M349 784l0-15 17 13 0 15z" class="c32 a11"/><path d="M474 755l1-2 17 10-1 0z" class="c32 a18"/><path d="M513 775l0 12 17 2z" class="c32 a18"/><path d="M483 750l1 0 1 0 1 0 17 13-1 0-1 0-1 0z" class="c33 a18"/><path d="M516 786l0-14 17 17z" class="c32 a18"/><path d="M466 743l0-14 17 21z" class="c33 a18"/><path d="M366 797l0-15 17 13 0 15z" class="c32 a11"/><path d="M466 763l0-15 17 16z" class="c33 a18"/><path d="M475 753l1-2 1 0 0-1 1 0 1 0 1 0 1 0 1 0 1 0 17 13-1 0-1 0-1 0-1 0-1 0-1 0-1 0-1 0z" class="c33 a18"/><path d="M501 763l17 20 0-15z" class="c33 a18"/><path d="M239 707l3 11 17 13-3-11z" class="c34 a18"/><path d="M468 746l0 15 17 3z" class="c33 a18"/><path d="M383 810l0-15 18 13 0 15z" class="c32 a11"/><path d="M522 818l1-6 17 3-1 0z" class="c32 a18"/><path d="M518 768l0 15 18 5z" class="c33 a18"/><path d="M537 788l1 0 1 0 1 0 1 0 2 0 17 13-2 0-1 0-1 0-1 0-1 0z" class="c32 a18"/><path d="M523 796l2-5 17 11-1 0z" class="c32 a18"/><path d="M256 720l3 11 17 13-3-11z" class="c34 a18"/><path d="M513 791l0 12 18-1-1 0z" class="c32 a18"/><path d="M401 823l0-15 17 13 0 14z" class="c32 a11"/><path d="M534 788l1 0 1 0 1 0 17 13-1 0-1 0-1 0z" class="c33 a18"/><path d="M554 801l1 0 1 0 1 0 1 0 2 0 17 13-2 0-1 0-1 0-1 0z" class="c32 a18"/><path d="M273 733l3 11 18 13-4-12z" class="c34 a18"/><path d="M418 835l0-14 17 12 0 15z" class="c32 a11"/><path d="M525 791l1-2 1 0 1 0 1 0 1 0 1 0 1 0 1 0 0-1 1 0 17 13-1 0-1 0-1 0-1 0 0 1-1 0-1 0-1 0-1 0-1 0z" class="c33 a18"/><path d="M463 726l0 12 17 12z" class="c34 a18"/><path d="M551 801l1 0 1 0 1 0 18 13-1 0-1 0-1 0-1 0z" class="c33 a18"/><path d="M518 785l0 15 17 2z" class="c33 a18"/><path d="M516 801l0-15 17 16z" class="c33 a18"/><path d="M290 745l4 12 17 12-4-11z" class="c34 a18"/><path d="M540 802l1 0 1 0 1 0 1 0 1 0 1 0 1 0 0-1 1 0 1 0 1 0 1 0 17 13-1 0-1 0-1 0-1 0-1 0-1 0-1 0-1 0-1 1-1 0-1 0z" class="c33 a18"/><path d="M307 758l4 11 17 13-4-11z" class="c34 a18"/><path d="M513 807l1 12 17-4-1 0z" class="c33 a18"/><path d="M523 812l2-7 17 10-2 0z" class="c33 a18"/><path d="M324 771l4 11 17 13-4-11z" class="c34 a18"/><path d="M463 742l0 12 17 10z" class="c35 a18"/><path d="M517 817l0-14 17 12z" class="c33 a18"/><path d="M341 784l4 11 17 13-4-11z" class="c34 a18"/><path d="M495 763l1 0 17 12-1-12z" class="c35 a18"/><path d="M535 802l1 0 1 0 1 0 1 0 1 0 17 13-1 0-1 0-1 0-1 0-1 0z" class="c34 a18"/><path d="M518 801l0 15 17-1z" class="c34 a18"/><path d="M358 797l4 11 17 13-4-11z" class="c34 a18"/><path d="M525 805l2-2 0-1 1 0 1 0 1 0 1 0 1 0 1 0 1 0 1 0 17 13-1 0-1 0-1 0-1 0-1 0-1 0-1 0-1 0-2 0z" class="c34 a18"/><path d="M512 763l1 12 17 14z" class="c35 a18"/><path d="M375 810l4 11 17 12-3-11z" class="c34 a18"/><path d="M468 715l1 14 17 21z" class="c36 a18"/><path d="M499 763l17-6 0 15z" class="c35 a18"/><path d="M393 822l3 11 17 13-3-11z" class="c34 a18"/><path d="M516 772l0-15 17 32z" class="c35 a18"/><path d="M466 729l0-15 17 36z" class="c36 a18"/><path d="M466 748l0-14 17 30z" class="c36 a18"/><path d="M513 779l0 12 17 11z" class="c35 a18"/><path d="M501 763l17 5 0-14z" class="c36 a18"/><path d="M468 732l0 14 17 18z" class="c36 a18"/><path d="M518 754l0 14 18 20-1 0z" class="c36 a18"/><path d="M462 715l1 11 17 24-1 0z" class="c37 a18"/><path d="M516 786l0-14 17 30z" class="c36 a18"/><path d="M518 771l0 14 17 17z" class="c36 a18"/><path d="M513 795l0 12 17 8z" class="c36 a18"/><path d="M462 731l1 11 17 22-1 0z" class="c38 a18"/><path d="M264 705l0-15 17 13 0 15z" class="c39 a11"/><path d="M495 763l17 0 0-12z" class="c37 a18"/><path d="M281 718l0-15 17 13 0 15z" class="c39 a11"/><path d="M512 751l0 12 18 26-1 0z" class="c38 a18"/><path d="M517 803l0-15 17 27z" class="c37 a18"/><path d="M298 731l0-15 17 13 0 15z" class="c39 a11"/><path d="M235 696l4 11 17 13-4-11z" class="c39 a16"/><path d="M518 786l0 15 17 14z" class="c37 a18"/><path d="M315 744l0-15 17 13 0 15z" class="c39 a11"/><path d="M252 709l4 11 17 13-4-11z" class="c39 a16"/><path d="M512 768l1 11 17 23-1 0z" class="c38 a18"/><path d="M332 757l0-15 17 13 0 14z" class="c39 a11"/><path d="M468 700l0 15 18 35z" class="c40 a18"/><path d="M269 722l4 11 17 12-3-11z" class="c39 a16"/><path d="M499 763l17-21 0 15z" class="c39 a18"/><path d="M462 704l0 11 17 35z" class="c40 a18"/><path d="M349 769l0-14 17 12 0 15z" class="c39 a11"/><path d="M452 630l17 166 0 6z" class="c40 a14"/><path d="M466 714l0-14 17 50z" class="c40 a18"/><path d="M287 734l3 11 17 13-3-11z" class="c39 a16"/><path d="M516 757l0-15 17 46 0 1z" class="c39 a18"/><path d="M466 734l0-15 17 45z" class="c40 a18"/><path d="M366 782l0-15 18 13-1 15z" class="c39 a11"/><path d="M501 763l17-9 0-15z" class="c39 a18"/><path d="M304 747l3 11 17 13-3-11z" class="c39 a16"/><path d="M468 717l0 15 17 32z" class="c40 a18"/><path d="M451 644l1 0 17 170-1 5z" class="c40 a18"/><path d="M383 795l1-15 17 13 0 15z" class="c39 a11"/><path d="M518 739l0 15 17 34z" class="c39 a18"/><path d="M448 630l1 0 17 171-1-8z" class="c41 a14"/><path d="M321 760l3 11 17 13-3-11z" class="c39 a16"/><path d="M462 720l0 11 17 33z" class="c40 a18"/><path d="M512 783l1 12 17 20-1 0z" class="c39 a18"/><path d="M401 808l0-15 17 13 0 15z" class="c39 a11"/><path d="M495 763l17-12 0-10z" class="c40 a18"/><path d="M452 630l17 172 0-15z" class="c41 a14"/><path d="M338 773l3 11 17 13-3-11z" class="c39 a16"/><path d="M448 644l1 0 17 177-1-12z" class="c41 a18"/><path d="M418 821l0-15 17 13 0 14z" class="c39 a11"/><path d="M512 741l0 10 17 38z" class="c40 a18"/><path d="M355 786l3 11 17 13-3-11z" class="c39 a16"/><path d="M449 644l17 163 0 14z" class="c41 a18"/><path d="M516 772l0-15 17 45z" class="c40 a18"/><path d="M518 756l0 15 17 31z" class="c40 a18"/><path d="M451 657l17 174 0 5z" class="c41 a18"/><path d="M449 630l17 156 0 15z" class="c42 a14"/><path d="M499 683l17 176 0-6z" class="c40 a18"/><path d="M451 644l17 175 0-14z" class="c41 a18"/><path d="M372 799l3 11 18 12-4-11z" class="c39 a16"/><path d="M448 630l17 163 0-1z" class="c42 a14"/><path d="M468 836l0-5 18-148-1 0z" class="c41 a18"/><path d="M449 657l17 178 0-5z" class="c41 a18"/><path d="M448 630l17 162z" class="c42 a14"/><path d="M389 811l4 11 17 13-4-11z" class="c39 a16"/><path d="M499 696l1 0 17 180-1-3z" class="c40 a18"/><path d="M448 630l17 162 0-1z" class="c42 a14"/><path d="M501 682l1 0 17 166-1 10z" class="c41 a18"/><path d="M466 830l0 5 17-152z" class="c41 a18"/><path d="M452 630l1 0 17 153-1 13z" class="c42 a14"/><path d="M448 630l17 161 0-1z" class="c42 a14"/><path d="M512 757l0 11 17 34z" class="c41 a18"/><path d="M461 694l1 10 17 46-1 0z" class="c42 a18"/><path d="M448 630l17 160z" class="c43 a14"/><path d="M517 788l0-15 17 42z" class="c40 a18"/><path d="M449 657l17 173z" class="c42 a18"/><path d="M448 630l17 160 0-1z" class="c43 a14"/><path d="M452 644l1 0 17 158-1 12z" class="c42 a18"/><path d="M501 682l17 176 0-14z" class="c41 a18"/><path d="M449 657l17 173 0-1z" class="c42 a18"/><path d="M499 683l17 161 0 15z" class="c41 a18"/><path d="M518 772l0 14 17 29z" class="c41 a18"/><path d="M448 630l17 159 0-1z" class="c43 a14"/><path d="M451 657l17 179 0-15z" class="c42 a18"/><path d="M449 657l17 172z" class="c42 a18"/><path d="M448 644l17 165 0-1z" class="c43 a18"/><path d="M466 830l17-147z" class="c42 a18"/><path d="M448 630l17 158z" class="c43 a14"/><path d="M449 657l17 172 0-1z" class="c42 a18"/><path d="M466 829l0 1 17-147z" class="c42 a18"/><path d="M449 657l17 164 0 14z" class="c42 a18"/><path d="M448 644l17 164 0-1z" class="c43 a18"/><path d="M449 657l17 171z" class="c42 a18"/><path d="M501 696l1 0 17 169-1 10z" class="c41 a18"/><path d="M448 630l17 158 0-1z" class="c43 a14"/><path d="M468 821l0 15 17-153z" class="c42 a18"/><path d="M466 829l17-146z" class="c42 a18"/><path d="M449 657l17 171 0-1z" class="c42 a18"/><path d="M499 696l17 177 0-5z" class="c41 a18"/><path d="M448 644l17 163z" class="c43 a18"/><path d="M448 630l17 157z" class="c43 a14"/><path d="M468 686l0 14 18 50-1 0z" class="c43 a18"/><path d="M466 828l0 1 17-146z" class="c42 a18"/><path d="M498 683l1 0 17 170-1-7z" class="c42 a18"/><path d="M449 657l17 170z" class="c43 a18"/><path d="M451 657l1 0 17 163-1 11z" class="c43 a18"/><path d="M499 763l17-35 0 14z" class="c42 a18"/><path d="M448 644l17 163 0-1z" class="c43 a18"/><path d="M466 835l0-14 17-138z" class="c42 a18"/><path d="M466 828l17-145z" class="c42 a18"/><path d="M448 630l17 157 0-1z" class="c43 a14"/><path d="M448 657l1 0 17 170 0-1z" class="c43 a18"/><path d="M461 710l1 10 17 44-1 0z" class="c43 a18"/><path d="M502 682l17 165 0 1z" class="c42 a18"/><path d="M500 696l17 166 0 14z" class="c42 a18"/><path d="M466 827l0 1 17-145z" class="c42 a18"/><path d="M448 644l17 162 0-1z" class="c43 a18"/><path d="M448 657l18 169z" class="c43 a18"/><path d="M494 763l1 0 17-22-1-10z" class="c43 a18"/><path d="M448 630l17 156 0-1z" class="c44 a14"/><path d="M502 682l17 165z" class="c42 a18"/><path d="M466 700l0-15 17 65z" class="c43 a18"/><path d="M466 827l17-144z" class="c43 a18"/><path d="M516 742l0-14 17 60z" class="c42 a18"/><path d="M468 831l1-11 17-137z" class="c43 a18"/><path d="M448 657l18 169-1-1z" class="c43 a18"/><path d="M448 644l17 161z" class="c43 a18"/><path d="M502 682l17 164 0 1z" class="c42 a18"/><path d="M512 772l0 11 17 32z" class="c42 a18"/><path d="M448 630l17 155z" class="c44 a14"/><path d="M466 826l0 1 17-144z" class="c43 a18"/><path d="M466 719l0-15 17 60z" class="c43 a18"/><path d="M448 657l17 168z" class="c43 a18"/><path d="M501 696l17 179 0-15z" class="c42 a18"/><path d="M502 682l17 164z" class="c42 a18"/><path d="M448 644l17 161 0-1z" class="c43 a18"/><path d="M501 763l17-24 0-14z" class="c43 a18"/><path d="M466 826l17-143z" class="c43 a18"/><path d="M511 731l1 10 17 48-1 0z" class="c43 a18"/><path d="M448 630l17 155 0-1z" class="c44 a14"/><path d="M448 657l17 168 0-1z" class="c43 a18"/><path d="M502 682l17 163 0 1z" class="c43 a18"/><path d="M448 644l17 160z" class="c44 a18"/><path d="M465 825l1 1 17-143z" class="c43 a18"/><path d="M502 682l17 163z" class="c43 a18"/><path d="M448 657l17 167z" class="c43 a18"/><path d="M468 703l0 14 17 47z" class="c43 a18"/><path d="M465 825l18-142z" class="c43 a18"/><path d="M502 682l17 162 0 1z" class="c43 a18"/><path d="M448 644l17 160 0-1z" class="c44 a18"/><path d="M448 657l17 167 0-1z" class="c43 a18"/><path d="M502 696l17 169z" class="c42 a18"/><path d="M518 725l0 14 17 49z" class="c43 a18"/><path d="M502 682l17 162z" class="c43 a18"/><path d="M465 824l0 1 18-142z" class="c43 a18"/><path d="M502 696l17 169z" class="c43 a18"/><path d="M448 644l17 159 0-1z" class="c44 a18"/><path d="M502 682l17 162z" class="c43 a18"/><path d="M465 824l18-141-1 0z" class="c43 a18"/><path d="M502 696l17 168 0 1z" class="c43 a18"/><path d="M502 682l17 161 0 1z" class="c43 a18"/><path d="M448 644l17 158z" class="c44 a18"/><path d="M502 696l17 168z" class="c43 a18"/><path d="M465 823l0 1 17-141z" class="c43 a18"/><path d="M502 682l17 161z" class="c43 a18"/><path d="M502 696l17 167 0 1z" class="c43 a18"/><path d="M452 630l17 157 0-14z" class="c45 a14"/><path d="M448 644l17 158 0-1z" class="c44 a18"/><path d="M502 682l18 160-1 1z" class="c43 a18"/><path d="M502 696l17 167z" class="c43 a18"/><path d="M498 696l1 0 17 172-1-7z" class="c43 a18"/><path d="M461 685l0 9 17 56z" class="c44 a18"/><path d="M448 644l17 157 0-1z" class="c44 a18"/><path d="M502 682l18 160z" class="c43 a18"/><path d="M502 696l17 166 0 1z" class="c43 a18"/><path d="M232 685l3 11 17 13-3-11z" class="c45 a14"/><path d="M502 696l17 166z" class="c43 a18"/><path d="M502 682l18 159 0 1z" class="c44 a18"/><path d="M511 747l1 10 17 45-1 0z" class="c43 a18"/><path d="M448 644l17 156z" class="c45 a18"/><path d="M502 696l17 166z" class="c43 a18"/><path d="M449 644l17 148 0 15z" class="c45 a18"/><path d="M516 757l0-15 17 60z" class="c43 a18"/><path d="M518 742l0 14 17 46z" class="c43 a18"/><path d="M449 630l17 142 0 14z" class="c45 a14"/><path d="M502 696l17 165 0 1z" class="c43 a18"/><path d="M249 698l3 11 17 13-3-11z" class="c45 a14"/><path d="M502 696l17 165z" class="c43 a18"/><path d="M451 644l17 161 0-15z" class="c45 a18"/><path d="M447 630l1 0 17 154-1-11z" class="c45 a14"/><path d="M448 657l17 166 0-8z" class="c44 a18"/><path d="M502 696l17 164 0 1z" class="c44 a18"/><path d="M453 630l1 0 17 140-1 13z" class="c45 a14"/><path d="M498 683l17 163 0-9z" class="c44 a18"/><path d="M502 696l17 164z" class="c44 a18"/><path d="M266 711l3 11 18 12-4-11z" class="c45 a14"/><path d="M502 696l17 163 0 1z" class="c44 a18"/><path d="M264 690l0-14 17 12 0 15z" class="c46 a11"/><path d="M465 815l0 8 17-140z" class="c44 a18"/><path d="M453 644l17 144 0 14z" class="c45 a18"/><path d="M502 682l1 1 17 152 0 6z" class="c44 a18"/><path d="M283 723l4 11 17 13-4-11z" class="c45 a14"/><path d="M461 701l0 9 17 54z" class="c45 a18"/><path d="M494 763l17-32 0-9z" class="c45 a18"/><path d="M281 703l0-15 17 13 0 15z" class="c46 a11"/><path d="M517 773l0-15 17 57z" class="c44 a18"/><path d="M300 736l4 11 17 13-4-11z" class="c45 a14"/><path d="M511 722l0 9 17 58z" class="c45 a18"/><path d="M452 657l1 0 17 150-1 13z" class="c45 a18"/><path d="M298 716l0-15 17 13 0 15z" class="c46 a11"/><path d="M501 682l17 162 0-15z" class="c45 a18"/><path d="M499 683l17 147 0 14z" class="c45 a18"/><path d="M447 644l1 0 17 156-1-11z" class="c46 a18"/><path d="M518 757l0 15 17 43z" class="c44 a18"/><path d="M502 696l1 0 17 157-1 6z" class="c45 a18"/><path d="M511 762l1 10 17 43-1 0z" class="c44 a18"/><path d="M451 657l17 164 0-15z" class="c46 a18"/><path d="M317 749l4 11 17 13-4-11z" class="c45 a14"/><path d="M315 729l0-15 17 13 0 15z" class="c46 a11"/><path d="M469 820l1-13 17-124-1 0z" class="c45 a18"/><path d="M449 657l17 149 0 15z" class="c46 a18"/><path d="M468 806l0 15 17-138z" class="c46 a18"/><path d="M498 696l17 165 0-9z" class="c45 a18"/><path d="M334 762l4 11 17 13-4-11z" class="c45 a14"/><path d="M468 671l0 15 17 64z" class="c46 a18"/><path d="M460 677l1 8 17 65-1 0z" class="c46 a18"/><path d="M499 763l17-50 0 15z" class="c46 a18"/><path d="M332 742l0-15 17 13 0 15z" class="c46 a11"/><path d="M466 821l0-15 17-123z" class="c46 a18"/><path d="M500 696l17 151 0 15z" class="c45 a18"/><path d="M466 685l0-14 17 79z" class="c47 a18"/><path d="M351 775l4 11 17 13-4-11z" class="c45 a14"/><path d="M516 728l0-15 17 75z" class="c46 a18"/><path d="M349 755l0-15 17 13 0 14z" class="c46 a11"/><path d="M511 738l0 9 17 55z" class="c45 a18"/><path d="M466 704l0-14 18 74-1 0z" class="c47 a18"/><path d="M501 696l17 164 0-15z" class="c46 a18"/><path d="M501 763l17-38 0-15z" class="c46 a18"/><path d="M368 788l4 11 17 12-3-11z" class="c45 a14"/><path d="M366 767l0-14 18 12 0 15z" class="c46 a11"/><path d="M447 657l1 0 17 158 0-10z" class="c47 a18"/><path d="M468 688l0 15 17 61z" class="c47 a18"/><path d="M518 710l0 15 17 63z" class="c46 a18"/><path d="M497 683l1 0 17 154-1-11z" class="c46 a18"/><path d="M386 800l3 11 17 13-3-11z" class="c45 a14"/><path d="M384 780l0-15 17 13 0 15z" class="c46 a11"/><path d="M465 805l0 10 17-132z" class="c47 a18"/><path d="M460 692l1 9 17 63z" class="c47 a18"/><path d="M447 630l17 143 0-11z" class="c48 a14"/><path d="M503 683l1 0 17 139-1 13z" class="c47 a18"/><path d="M451 630l1 0 17 143 0-15z" class="c48 a14"/><path d="M454 630l1 0 17 129-1 11z" class="c48 a14"/><path d="M401 793l0-15 17 13 0 15z" class="c46 a11"/><path d="M418 806l0-15 17 13 0 15z" class="c46 a11"/><path d="M449 644l17 133 0 15z" class="c48 a18"/><path d="M516 742l0-14 17 74z" class="c47 a18"/><path d="M518 727l0 15 17 60z" class="c47 a18"/><path d="M449 630l17 127 0 15z" class="c49 a14"/><path d="M460 670l0 7 17 73z" class="c48 a18"/><path d="M503 696l18 144-1 13z" class="c47 a18"/><path d="M453 644l1 0 17 132-1 12z" class="c48 a18"/><path d="M493 763l1 0 17-41-1-14z" class="c48 a18"/><path d="M511 752l0 10 17 53z" class="c47 a18"/><path d="M451 644l17 146 0-14z" class="c48 a18"/><path d="M447 644l17 145 0-11z" class="c48 a18"/><path d="M510 708l1 14 17 67-1 0z" class="c48 a18"/><path d="M497 695l1 1 17 156-1-10z" class="c47 a18"/><path d="M453 657l1 1 17 136-1 13z" class="c48 a18"/><path d="M510 730l1 8 17 64-1 0z" class="c48 a18"/><path d="M470 807l1-13 17-111-1 0z" class="c48 a18"/><path d="M517 758l0-14 17 71z" class="c47 a18"/><path d="M501 682l17 147 0-14z" class="c48 a18"/><path d="M460 685l0 7 18 72-1 0z" class="c49 a18"/><path d="M499 683l17 132 0 15z" class="c48 a18"/><path d="M518 742l0 15 17 58z" class="c48 a18"/><path d="M451 657l17 149 0-14z" class="c49 a18"/><path d="M228 676l4 9 17 13-4-10z" class="c50 a13"/><path d="M460 665l0 5 17 80 0 1z" class="c50 a18"/><path d="M449 657l17 134 0 15z" class="c49 a18"/><path d="M447 657l18 148-1-11z" class="c49 a18"/><path d="M468 792l0 14 17-123z" class="c49 a18"/><path d="M468 657l0 14 17 79z" class="c50 a18"/><path d="M499 763l17-64 0 14z" class="c49 a18"/><path d="M245 688l4 10 17 13-3-10z" class="c50 a13"/><path d="M497 683l17 143 0-11z" class="c49 a18"/><path d="M466 806l0-15 17-108z" class="c49 a18"/><path d="M464 794l1 11 17-122-1 0z" class="c49 a18"/><path d="M455 630l18 120-1 9z" class="c50 a14"/><path d="M466 671l0-15 17 94z" class="c50 a18"/><path d="M500 696l17 136 0 15z" class="c49 a18"/><path d="M516 713l0-14 17 89z" class="c49 a18"/><path d="M263 701l3 10 17 12-3-9z" class="c50 a13"/><path d="M504 683l1 0 17 128-1 11z" class="c49 a18"/><path d="M511 745l0 7 17 63z" class="c49 a18"/><path d="M446 630l1 0 17 132-1-12z" class="c51 a14"/><path d="M466 690l0-15 18 89z" class="c50 a18"/><path d="M501 763l17-53 0-14z" class="c50 a18"/><path d="M501 696l17 149 0-15z" class="c49 a18"/><path d="M454 644l1 1 17 122-1 9z" class="c51 a18"/><path d="M280 714l3 9 17 13-3-9z" class="c50 a13"/><path d="M468 673l0 15 17 76z" class="c50 a18"/><path d="M518 696l0 14 17 78z" class="c50 a18"/><path d="M460 680l0 5 17 79z" class="c50 a18"/><path d="M297 727l3 9 17 13-3-9z" class="c50 a13"/><path d="M503 696l1 0 17 132 0 12z" class="c50 a18"/><path d="M451 630l18 128 0-14z" class="c52 a14"/><path d="M492 763l1 0 17-55-1-10z" class="c51 a18"/><path d="M497 695l17 147 0-11z" class="c50 a18"/><path d="M446 644l1 0 17 134 0-12z" class="c51 a18"/><path d="M314 740l3 9 17 13-3-10z" class="c50 a13"/><path d="M459 656l1 9 17 86-1 0z" class="c51 a18"/><path d="M510 717l0 13 17 72 0 1z" class="c50 a18"/><path d="M454 658l1 0 17 126-1 10z" class="c51 a18"/><path d="M509 698l1 10 17 81-1 0z" class="c50 a18"/><path d="M331 752l3 10 17 13-3-10z" class="c50 a13"/><path d="M449 644l17 119 0 14z" class="c52 a18"/><path d="M516 728l0-15 17 89z" class="c50 a18"/><path d="M449 630l17 113 0 14z" class="c52 a14"/><path d="M518 712l0 15 17 75z" class="c50 a18"/><path d="M471 794l1-10 17-101-1 0z" class="c51 a18"/><path d="M451 644l17 132 0-15z" class="c52 a18"/><path d="M348 765l3 10 17 13-3-10z" class="c50 a13"/><path d="M455 630l2 0 17 111-1 9z" class="c53 a14"/><path d="M459 675l1 5 17 84-1 0z" class="c52 a18"/><path d="M510 737l1 8 17 70-1 0z" class="c50 a18"/><path d="M264 676l0-15 17 13 0 14z" class="c53 a11"/><path d="M365 778l3 10 18 12-4-9z" class="c50 a13"/><path d="M447 657l17 137 0-12z" class="c52 a18"/><path d="M505 683l1 1 17 118-1 9z" class="c51 a18"/><path d="M281 688l0-14 17 12 0 15z" class="c53 a11"/><path d="M382 791l4 9 17 13-4-9z" class="c50 a13"/><path d="M455 645l2 2 17 108-2 12z" class="c53 a18"/><path d="M517 744l0-15 17 86z" class="c51 a18"/><path d="M496 683l1 0 17 132-1-12z" class="c52 a18"/><path d="M501 682l17 133 0-15z" class="c52 a18"/><path d="M458 651l1 5 17 95-1 2z" class="c53 a18"/><path d="M464 782l0 12 17-111z" class="c52 a18"/><path d="M499 683l17 118 0 14z" class="c52 a18"/><path d="M298 701l0-15 17 13 0 15z" class="c53 a11"/><path d="M518 728l0 14 17 73z" class="c51 a18"/><path d="M451 657l17 135 0-15z" class="c53 a18"/><path d="M449 657l17 120 0 14z" class="c53 a18"/><path d="M315 714l0-15 17 13 0 15z" class="c53 a11"/><path d="M446 631l0-1 17 120 0-12z" class="c54 a14"/><path d="M491 763l1 0 17-65-1-7z" class="c53 a18"/><path d="M468 777l0 15 17-109z" class="c53 a18"/><path d="M468 642l0 15 17 93z" class="c53 a18"/><path d="M508 691l1 7 17 91-1 2z" class="c52 a18"/><path d="M499 763l17-79 0 15z" class="c53 a18"/><path d="M504 696l1 1 17 121-1 10z" class="c52 a18"/><path d="M457 647l1 4 17 102-1 2z" class="c53 a18"/><path d="M466 791l0-14 17-94z" class="c53 a18"/><path d="M458 667l1 8 17 89-1 1z" class="c53 a18"/><path d="M332 727l0-15 17 13 0 15z" class="c53 a11"/><path d="M466 656l0-14 17 108z" class="c54 a18"/><path d="M497 708l7 1 17 136-7 1z" class="c52 a18"/><path d="M500 696l17 121 0 15z" class="c52 a18"/><path d="M516 699l0-15 17 104z" class="c53 a18"/><path d="M455 658l2 2 17 110-2 14z" class="c53 a18"/><path d="M349 740l0-15 17 13 0 15z" class="c53 a11"/><path d="M506 684l0 1 17 111 0 6z" class="c53 a18"/><path d="M466 675l0-14 18 103z" class="c54 a18"/><path d="M501 763l17-67 0-15z" class="c53 a18"/><path d="M501 696l17 134 0-14z" class="c53 a18"/><path d="M496 695l1 0 17 136 0-12z" class="c53 a18"/><path d="M468 659l0 14 17 91z" class="c54 a18"/><path d="M446 644l18 122-1-12z" class="c54 a18"/><path d="M366 753l0-15 18 12 0 15z" class="c53 a11"/><path d="M506 685l2 6 17 100-2 5z" class="c53 a18"/><path d="M518 681l0 15 17 92z" class="c53 a18"/><path d="M508 703l2 14 17 86-2 2z" class="c53 a18"/><path d="M509 726l1 11 17 78-1 1z" class="c53 a18"/><path d="M225 666l3 10 17 12-3-9z" class="c55 a12"/><path d="M384 765l0-15 17 13 0 15z" class="c53 a11"/><path d="M472 784l2-14 17-87-2 0z" class="c54 a18"/><path d="M504 709l1 0 17 125-1 11z" class="c53 a18"/><path d="M451 630l18 114 0-15z" class="c55 a14"/><path d="M457 660l1 7 17 98-1 5z" class="c54 a18"/><path d="M242 679l3 9 18 13-4-9z" class="c55 a12"/><path d="M401 778l0-15 17 13 0 15z" class="c53 a11"/><path d="M489 763l2 0 17-72-2-6z" class="c54 a18"/><path d="M449 630l17 99 0 14z" class="c55 a14"/><path d="M516 713l0-14 18 103-1 0z" class="c54 a18"/><path d="M449 644l17 104 0 15z" class="c55 a18"/><path d="M505 697l1 1 17 114-1 6z" class="c54 a18"/><path d="M518 698l0 14 17 90z" class="c54 a18"/><path d="M259 692l4 9 17 13-4-9z" class="c55 a12"/><path d="M418 791l0-15 17 13 0 15z" class="c53 a11"/><path d="M451 644l17 117 0-15z" class="c55 a18"/><path d="M446 657l1 0 17 125-1-12z" class="c55 a18"/><path d="M497 708l17 138 0-12z" class="c54 a18"/><path d="M276 705l4 9 17 13-4-10z" class="c55 a12"/><path d="M496 683l17 120 0-12z" class="c55 a18"/><path d="M463 770l1 12 17-99-1 0z" class="c55 a18"/><path d="M293 717l4 10 17 13-4-10z" class="c55 a12"/><path d="M506 698l2 5 17 102-2 7z" class="c54 a18"/><path d="M488 763l1 0 17-78 0-1z" class="c55 a18"/><path d="M310 730l4 10 17 12-4-9z" class="c55 a12"/><path d="M445 631l1 0 17 107 0-12z" class="c57 a14"/><path d="M517 729l0-15 17 101z" class="c54 a18"/><path d="M488 763l18-79-1-1z" class="c56 a18"/><path d="M501 682l17 118 0-15z" class="c55 a18"/><path d="M499 683l17 103 0 15z" class="c55 a18"/><path d="M518 713l0 15 17 87z" class="c55 a18"/><path d="M327 743l4 9 17 13-4-9z" class="c55 a12"/><path d="M487 763l1 0 17-80-1 0z" class="c56 a18"/><path d="M451 657l17 120 0-15z" class="c56 a18"/><path d="M505 709l1 1 17 117-1 7z" class="c55 a18"/><path d="M474 770l1-5 17-82-1 0z" class="c56 a18"/><path d="M486 763l1 0 17-80-1 0z" class="c56 a18"/><path d="M485 764l1-1 17-80-1-1z" class="c56 a18"/><path d="M449 657l17 105 0 15z" class="c56 a18"/><path d="M485 764l17-82z" class="c56 a18"/><path d="M485 764l17-82z" class="c56 a18"/><path d="M485 764l17-82z" class="c56 a18"/><path d="M485 764l17-82z" class="c56 a18"/><path d="M485 764l17-82z" class="c56 a18"/><path d="M485 764l17-82z" class="c56 a18"/><path d="M485 764l17-82z" class="c56 a18"/><path d="M485 764l17-82z" class="c56 a18"/><path d="M485 764l17-82z" class="c56 a18"/><path d="M485 764l17-82z" class="c56 a18"/><path d="M485 764l17-82z" class="c56 a18"/><path d="M485 764l17-82z" class="c56 a18"/><path d="M485 764l17-82z" class="c56 a18"/><path d="M485 764l17-82z" class="c56 a18"/><path d="M484 764l1 0 17-82-1 0z" class="c56 a18"/><path d="M344 756l4 9 17 13-3-9z" class="c55 a12"/><path d="M468 628l0 14 17 108z" class="c57 a18"/><path d="M484 764l17-82z" class="c56 a18"/><path d="M484 764l17-82z" class="c56 a18"/><path d="M484 764l17-82z" class="c56 a18"/><path d="M484 764l17-82z" class="c56 a18"/><path d="M484 764l17-82z" class="c56 a18"/><path d="M484 764l17-82z" class="c56 a18"/><path d="M484 764l17-82z" class="c56 a18"/><path d="M484 764l17-82z" class="c56 a18"/><path d="M468 762l0 15 17-94z" class="c56 a18"/><path d="M484 764l17-82z" class="c56 a18"/><path d="M484 764l17-82z" class="c56 a18"/><path d="M484 764l17-82z" class="c56 a18"/><path d="M484 764l17-82z" class="c56 a18"/><path d="M484 764l17-82z" class="c56 a18"/><path d="M484 764l17-82z" class="c56 a18"/><path d="M484 764l17-82z" class="c56 a18"/><path d="M484 764l17-82z" class="c56 a18"/><path d="M484 764l17-82z" class="c56 a18"/><path d="M484 764l17-82z" class="c56 a18"/><path d="M484 764l17-82z" class="c56 a18"/><path d="M483 764l1 0 17-82z" class="c56 a18"/><path d="M483 764l18-82z" class="c56 a18"/><path d="M483 764l18-82-1 0z" class="c56 a18"/><path d="M483 764l17-82z" class="c56 a18"/><path d="M483 764l17-82z" class="c56 a18"/><path d="M483 764l17-82z" class="c56 a18"/><path d="M483 764l17-82z" class="c56 a18"/><path d="M483 764l17-82z" class="c56 a18"/><path d="M483 764l17-82z" class="c56 a18"/><path d="M499 763l17-93 0 14z" class="c56 a18"/><path d="M482 764l1 0 17-82-1 1z" class="c56 a18"/><path d="M496 695l18 124-1-12z" class="c55 a18"/><path d="M482 764l17-81z" class="c56 a18"/><path d="M482 764l17-81z" class="c56 a18"/><path d="M482 764l17-81z" class="c56 a18"/><path d="M482 764l17-81z" class="c56 a18"/><path d="M482 764l17-81z" class="c56 a18"/><path d="M482 764l17-81z" class="c56 a18"/><path d="M482 764l17-81z" class="c56 a18"/><path d="M482 764l17-81z" class="c56 a18"/><path d="M482 764l17-81z" class="c56 a18"/><path d="M482 764l17-81z" class="c56 a18"/><path d="M482 764l17-81z" class="c56 a18"/><path d="M482 764l17-81z" class="c56 a18"/><path d="M482 764l17-81z" class="c56 a18"/><path d="M482 764l17-81z" class="c56 a18"/><path d="M507 714l2 12 17 90-1 2z" class="c55 a18"/><path d="M481 764l1 0 17-81z" class="c56 a18"/><path d="M466 777l0-15 17-79z" class="c56 a18"/><path d="M481 764l18-81-1 0z" class="c56 a18"/><path d="M466 642l0-15 17 123z" class="c57 a18"/><path d="M481 764l17-81z" class="c56 a18"/><path d="M446 644l17 110 0-12z" class="c57 a18"/><path d="M480 764l1 0 17-81-1 0z" class="c56 a18"/><path d="M362 769l3 9 17 13-3-10z" class="c55 a12"/><path d="M480 764l17-81z" class="c56 a18"/><path d="M479 764l1 0 17-81-1 0z" class="c56 a18"/><path d="M475 765l1-1 17-81-1 0z" class="c56 a18"/><path d="M479 764l17-81z" class="c56 a18"/><path d="M516 684l0-14 17 118z" class="c56 a18"/><path d="M478 764l1 0 17-81z" class="c56 a18"/><path d="M500 696l17 107 0 14z" class="c56 a18"/><path d="M478 764l18-81-1 0z" class="c56 a18"/><path d="M476 764l1 0 17-81-1 0z" class="c57 a18"/><path d="M478 764l17-81z" class="c57 a18"/><path d="M477 764l1 0 17-81-1 0z" class="c57 a18"/><path d="M477 764l17-81z" class="c57 a18"/><path d="M466 661l1-15 17 118z" class="c57 a18"/><path d="M501 763l17-82 0-14z" class="c57 a18"/><path d="M379 781l3 10 17 13-3-10z" class="c55 a12"/><path d="M501 696l17 120 0-15z" class="c56 a18"/><path d="M468 644l0 15 17 105z" class="c57 a18"/><path d="M518 667l0 14 17 107z" class="c57 a18"/><path d="M506 710l1 4 18 104-2 9z" class="c56 a18"/><path d="M451 630l18 99-1-14z" class="c58 a14"/><path d="M496 708l1 0 17 126-1-12z" class="c56 a18"/><path d="M446 657l17 113 0-12z" class="c58 a18"/><path d="M449 630l17 84 0 15z" class="c59 a14"/><path d="M516 699l0-15 18 118z" class="c57 a18"/><path d="M449 644l17 90 0 14z" class="c58 a18"/><path d="M496 683l17 108 0-12z" class="c57 a18"/><path d="M518 683l0 15 17 104z" class="c57 a18"/><path d="M463 758l0 12 17-87z" class="c58 a18"/><path d="M221 659l4 7 17 13-4-7z" class="c59 a12"/><path d="M451 644l17 102 0-14z" class="c59 a18"/><path d="M445 631l18 95-1-11z" class="c59 a14"/><path d="M238 672l4 7 17 13-3-7z" class="c59 a12"/><path d="M264 661l0-15 17 13 0 15z" class="c60 a11"/><path d="M256 685l3 7 17 13-3-8z" class="c59 a12"/><path d="M281 674l0-15 17 13 0 14z" class="c60 a11"/><path d="M273 697l3 8 17 12-3-7z" class="c59 a12"/><path d="M501 682l17 103 0-14z" class="c59 a18"/><path d="M499 683l17 89 0 14z" class="c59 a18"/><path d="M517 714l0-15 17 116z" class="c58 a18"/><path d="M496 695l17 112 0-12z" class="c58 a18"/><path d="M445 644l1 0 17 98-1-11z" class="c60 a18"/><path d="M518 698l0 15 17 102z" class="c58 a18"/><path d="M451 657l17 105 0-14z" class="c59 a18"/><path d="M298 686l0-14 17 12 0 15z" class="c60 a11"/><path d="M290 710l3 7 17 13-3-7z" class="c59 a12"/><path d="M449 657l17 90 0 15z" class="c60 a18"/><path d="M468 613l0 15 17 122z" class="c60 a18"/><path d="M315 699l0-15 17 13 0 15z" class="c60 a11"/><path d="M468 748l0 14 17-79z" class="c59 a18"/><path d="M499 763l17-108 0 15z" class="c60 a18"/><path d="M307 723l3 7 17 13-3-7z" class="c59 a12"/><path d="M466 627l0-14 17 137z" class="c60 a18"/><path d="M466 762l0-15 18-64-1 0z" class="c60 a18"/><path d="M332 712l0-15 17 13 0 15z" class="c60 a11"/><path d="M516 670l0-15 17 133z" class="c60 a18"/><path d="M324 736l3 7 17 13-3-7z" class="c59 a12"/><path d="M500 696l17 92 0 15z" class="c59 a18"/><path d="M501 763l17-96 0-15z" class="c60 a18"/><path d="M467 646l0-15 17 133z" class="c60 a18"/><path d="M349 725l0-15 17 13 0 15z" class="c60 a11"/><path d="M501 696l17 105 0-15z" class="c60 a18"/><path d="M341 749l3 7 18 13-4-8z" class="c59 a12"/><path d="M468 630l0 14 17 120z" class="c61 a18"/><path d="M518 652l0 15 17 121z" class="c60 a18"/><path d="M445 657l1 0 17 101-1-12z" class="c61 a18"/><path d="M496 708l17 114 0-12z" class="c59 a18"/><path d="M366 738l0-15 18 13 0 14z" class="c60 a11"/><path d="M358 761l4 8 17 12-4-7z" class="c59 a12"/><path d="M495 683l1 0 17 96-1-11z" class="c60 a18"/><path d="M462 746l1 12 17-75-1 0z" class="c61 a18"/><path d="M451 630l17 85 0-15z" class="c62 a14"/><path d="M384 750l0-14 17 12 0 15z" class="c60 a11"/><path d="M445 631l17 84 0-11z" class="c62 a14"/><path d="M375 774l4 7 17 13-4-7z" class="c59 a12"/><path d="M449 630l17 70 0 14z" class="c62 a14"/><path d="M401 763l0-15 17 13 0 15z" class="c60 a11"/><path d="M516 684l0-15 18 133z" class="c61 a18"/><path d="M449 644l17 75 0 15z" class="c62 a18"/><path d="M518 669l0 14 17 119z" class="c61 a18"/><path d="M418 776l0-15 17 13 0 15z" class="c60 a11"/><path d="M451 644l17 88 0-15z" class="c62 a18"/><path d="M218 652l3 7 17 13-3-8z" class="c63 a11"/><path d="M445 644l17 87 0-11z" class="c63 a18"/><path d="M495 695l1 0 17 100-1-12z" class="c61 a18"/><path d="M235 664l3 8 18 13-4-8z" class="c63 a11"/><path d="M252 677l4 8 17 12-4-7z" class="c63 a11"/><path d="M499 683l17 74 0 15z" class="c62 a18"/><path d="M501 682l17 89 0-15z" class="c62 a18"/><path d="M517 699l0-15 17 131z" class="c61 a18"/><path d="M518 684l0 14 17 117z" class="c62 a18"/><path d="M451 657l17 91 0-15z" class="c63 a18"/><path d="M269 690l4 7 17 13-4-7z" class="c63 a11"/><path d="M449 657l17 76 0 14z" class="c63 a18"/><path d="M468 599l0 14 17 137z" class="c64 a18"/><path d="M499 763l17-122 0 14z" class="c63 a18"/><path d="M468 733l0 15 17-65z" class="c63 a18"/><path d="M286 703l4 7 17 13-4-7z" class="c63 a11"/><path d="M466 613l0-14 17 151z" class="c64 a18"/><path d="M445 657l17 89 0-11z" class="c63 a18"/><path d="M466 747l0-14 18-50z" class="c63 a18"/><path d="M495 708l1 0 17 102-1-12z" class="c62 a18"/><path d="M495 683l17 85 0-11z" class="c63 a18"/><path d="M516 655l0-14 17 147z" class="c63 a18"/><path d="M303 716l4 7 17 13-4-7z" class="c63 a11"/><path d="M467 604l17 146z" class="c64 a18"/><path d="M467 604l17 146z" class="c64 a18"/><path d="M444 631l1 0 17 73-1-10z" class="c64 a14"/><path d="M467 604l17 146z" class="c64 a18"/><path d="M467 604l17 146z" class="c64 a18"/><path d="M467 604l17 146z" class="c64 a18"/><path d="M467 604l17 146z" class="c64 a18"/><path d="M467 604l17 146z" class="c64 a18"/><path d="M467 604l17 146z" class="c64 a18"/><path d="M467 604l17 146z" class="c64 a18"/><path d="M467 604l17 146z" class="c64 a18"/><path d="M467 604l17 146z" class="c64 a18"/><path d="M467 604l17 146z" class="c64 a18"/><path d="M467 604l17 146z" class="c64 a18"/><path d="M467 604l17 146z" class="c64 a18"/><path d="M500 696l17 77 0 15z" class="c63 a18"/><path d="M462 735l0 11 17-63z" class="c63 a18"/><path d="M501 763l17-111 0-14z" class="c64 a18"/><path d="M467 631l0-14 17 147z" class="c64 a18"/><path d="M466 602l1 2 17 146z" class="c64 a18"/><path d="M320 729l4 7 17 13-4-8z" class="c63 a11"/><path d="M501 696l17 90 0-14z" class="c63 a18"/><path d="M468 615l0 15 17 134z" class="c64 a18"/><path d="M518 638l0 14 17 136z" class="c64 a18"/><path d="M337 741l4 8 17 12-3-7z" class="c63 a11"/><path d="M467 604l1-5 17 151-1 0z" class="c65 a18"/><path d="M500 763l17-120z" class="c64 a18"/><path d="M500 763l17-120z" class="c64 a18"/><path d="M500 763l17-120z" class="c64 a18"/><path d="M500 763l17-120z" class="c64 a18"/><path d="M500 763l17-120z" class="c64 a18"/><path d="M500 763l17-120z" class="c64 a18"/><path d="M500 763l17-120z" class="c64 a18"/><path d="M500 763l17-120z" class="c64 a18"/><path d="M500 763l17-120z" class="c64 a18"/><path d="M500 763l17-120z" class="c64 a18"/><path d="M500 763l17-120z" class="c64 a18"/><path d="M500 763l17-120z" class="c64 a18"/><path d="M500 763l17-120z" class="c64 a18"/><path d="M500 763l17-120z" class="c64 a18"/><path d="M451 630l17 70 0-14z" class="c65 a14"/><path d="M500 763l1 0 17-122-1 2z" class="c64 a18"/><path d="M355 754l3 7 17 13-3-7z" class="c63 a11"/><path d="M466 599l0 3 18 148-1 0z" class="c65 a18"/><path d="M444 644l1 0 17 76-1-10z" class="c65 a18"/><path d="M517 643l17 145z" class="c64 a18"/><path d="M517 643l17 145z" class="c64 a18"/><path d="M517 643l17 145z" class="c64 a18"/><path d="M499 763l1 0 17-120-1-2z" class="c65 a18"/><path d="M517 643l17 145z" class="c64 a18"/><path d="M517 643l17 145z" class="c64 a18"/><path d="M517 643l17 145z" class="c64 a18"/><path d="M517 643l17 145z" class="c64 a18"/><path d="M517 643l17 145z" class="c64 a18"/><path d="M517 643l17 145z" class="c64 a18"/><path d="M517 643l17 145z" class="c64 a18"/><path d="M517 643l17 145z" class="c64 a18"/><path d="M517 643l17 145z" class="c64 a18"/><path d="M517 643l17 145z" class="c64 a18"/><path d="M517 643l17 145z" class="c64 a18"/><path d="M449 630l17 55 0 15z" class="c66 a14"/><path d="M517 643l1-2 17 147-1 0z" class="c64 a18"/><path d="M495 695l17 88 0-11z" class="c64 a18"/><path d="M372 767l3 7 17 13-3-7z" class="c63 a11"/><path d="M516 669l1-14 17 147z" class="c64 a18"/><path d="M449 644l17 60 0 15z" class="c65 a18"/><path d="M518 654l0 15 17 133z" class="c64 a18"/><path d="M516 641l1 2 17 145-1 0z" class="c65 a18"/><path d="M501 763l17-125 0 3z" class="c65 a18"/><path d="M467 618l17 146z" class="c65 a18"/><path d="M467 618l17 146z" class="c65 a18"/><path d="M467 618l17 146z" class="c65 a18"/><path d="M451 644l17 73 0-14z" class="c66 a18"/><path d="M467 618l17 146z" class="c65 a18"/><path d="M467 618l17 146z" class="c65 a18"/><path d="M467 617l0 1 17 146z" class="c65 a18"/><path d="M467 617l17 147z" class="c65 a18"/><path d="M467 617l17 147z" class="c65 a18"/><path d="M467 617l17 147z" class="c66 a18"/><path d="M467 617l17 147z" class="c66 a18"/><path d="M467 617l17 147z" class="c66 a18"/><path d="M518 641l0-3 17 150z" class="c65 a18"/><path d="M467 617l17 147z" class="c66 a18"/><path d="M467 618l1-3 17 149-1 0z" class="c66 a18"/><path d="M467 617l17 147z" class="c66 a18"/><path d="M467 617l17 147z" class="c66 a18"/><path d="M264 646l0-15 17 13 0 15z" class="c67 a11"/><path d="M444 631l17 63 0-9z" class="c67 a14"/><path d="M444 657l1 0 17 78-1-10z" class="c66 a18"/><path d="M494 683l1 0 17 74-1-10z" class="c66 a18"/><path d="M499 683l17 59 0 15z" class="c66 a18"/><path d="M281 659l0-15 17 13 0 15z" class="c67 a11"/><path d="M501 682l17 74 0-14z" class="c66 a18"/><path d="M517 684l0-14 17 145z" class="c65 a18"/><path d="M517 656l17 146z" class="c65 a18"/><path d="M495 708l17 90 0-11z" class="c65 a18"/><path d="M517 656l18 146-1 0z" class="c65 a18"/><path d="M461 725l1 10 17-52z" class="c66 a18"/><path d="M517 656l18 146z" class="c66 a18"/><path d="M517 669l1 15 17 131z" class="c65 a18"/><path d="M517 656l1 0 17 146z" class="c66 a18"/><path d="M451 657l17 76 0-15z" class="c66 a18"/><path d="M518 656l0-1 17 147z" class="c66 a18"/><path d="M518 655l17 147z" class="c66 a18"/><path d="M517 655l0 1 17 146z" class="c66 a18"/><path d="M518 655l17 147z" class="c66 a18"/><path d="M298 672l0-15 17 13 0 14z" class="c67 a11"/><path d="M518 655l17 147z" class="c66 a18"/><path d="M518 655l17 147z" class="c66 a18"/><path d="M449 657l17 61 0 15z" class="c67 a18"/><path d="M518 655l17 147z" class="c66 a18"/><path d="M211 642l7 10 17 12-7-10z" class="c68 a11"/><path d="M518 655l17 147z" class="c66 a18"/><path d="M518 655l0-1 17 148z" class="c66 a18"/><path d="M518 654l17 148z" class="c66 a18"/><path d="M518 654l17 148z" class="c66 a18"/><path d="M468 718l0 15 17-50z" class="c66 a18"/><path d="M315 684l0-14 17 12 0 15z" class="c67 a11"/><path d="M466 733l0-15 18-35z" class="c67 a18"/><path d="M228 654l7 10 17 13-7-10z" class="c68 a11"/><path d="M444 644l17 66 0-9z" class="c67 a18"/><path d="M332 697l0-15 17 13 0 15z" class="c67 a11"/><path d="M500 696l17 62 0 15z" class="c66 a18"/><path d="M245 667l7 10 17 13-7-10z" class="c68 a11"/><path d="M501 696l17 76 0-15z" class="c66 a18"/><path d="M349 710l0-15 17 13 0 15z" class="c67 a11"/><path d="M494 695l1 0 17 77-1-10z" class="c67 a18"/><path d="M262 680l7 10 17 13-7-10z" class="c68 a11"/><path d="M366 723l0-15 18 13 0 15z" class="c67 a11"/><path d="M279 693l7 10 17 13-7-10z" class="c68 a11"/><path d="M451 630l17 56 0-15z" class="c69 a14"/><path d="M443 631l1 0 17 54-1-8z" class="c69 a14"/><path d="M517 670l0-1 18 146-1 0z" class="c67 a18"/><path d="M384 736l0-15 17 13 0 14z" class="c67 a11"/><path d="M296 706l7 10 17 13-7-11z" class="c68 a11"/><path d="M449 630l17 41 0 14z" class="c69 a14"/><path d="M494 683l17 64 0-9z" class="c68 a18"/><path d="M444 657l17 68 0-10z" class="c68 a18"/><path d="M449 644l17 46 0 14z" class="c69 a18"/><path d="M401 748l0-14 17 12 0 15z" class="c67 a11"/><path d="M313 718l7 11 17 12-7-10z" class="c68 a11"/><path d="M451 644l17 59 0-15z" class="c69 a18"/><path d="M461 715l0 10 18-42-1 0z" class="c68 a18"/><path d="M418 761l0-15 17 13 0 15z" class="c67 a11"/><path d="M330 731l7 10 18 13-7-10z" class="c68 a11"/><path d="M494 708l1 0 17 79-1-11z" class="c68 a18"/><path d="M443 644l1 0 17 57-1-9z" class="c69 a18"/><path d="M348 744l7 10 17 13-7-10z" class="c68 a11"/><path d="M365 757l7 10 17 13-7-10z" class="c68 a11"/><path d="M499 683l17 45 0 14z" class="c69 a18"/><path d="M501 682l17 60 0-15z" class="c69 a18"/><path d="M443 631l17 46 0-7z" class="c71 a14"/><path d="M494 695l17 67 0-10z" class="c69 a18"/><path d="M451 657l17 61 0-14z" class="c70 a18"/><path d="M449 657l18 47-1 14z" class="c70 a18"/><path d="M468 704l0 14 17-35z" class="c70 a18"/><path d="M466 718l1-14 17-21z" class="c70 a18"/><path d="M493 683l1 0 17 55-1-8z" class="c70 a18"/><path d="M444 657l17 58 0-8z" class="c71 a18"/><path d="M500 696l17 48 0 14z" class="c70 a18"/><path d="M461 707l0 8 17-32z" class="c71 a18"/><path d="M443 644l17 48 0-7z" class="c71 a18"/><path d="M501 696l17 61 0-15z" class="c70 a18"/><path d="M442 631l1 0 17 39 0-5z" class="c72 a14"/><path d="M494 708l17 68 0-9z" class="c70 a18"/><path d="M451 630l17 41 0-14z" class="c72 a14"/><path d="M197 635l14 7 17 12-14-6z" class="c72 a11"/><path d="M449 630l17 26 0 15z" class="c73 a14"/><path d="M493 695l1 0 17 57 0-7z" class="c71 a18"/><path d="M449 644l17 31 0 15z" class="c72 a18"/><path d="M214 648l14 6 17 13-14-7z" class="c72 a11"/><path d="M451 644l17 44 0-15z" class="c73 a18"/><path d="M231 660l14 7 17 13-14-7z" class="c72 a11"/><path d="M443 657l1 0 17 50-1-7z" class="c72 a18"/><path d="M443 644l17 41 0-5z" class="c73 a18"/><path d="M248 673l14 7 17 13-14-7z" class="c72 a11"/><path d="M460 700l1 7 17-24-1 0z" class="c72 a18"/><path d="M492 683l1 0 17 47 0-13z" class="c72 a18"/><path d="M265 686l14 7 17 13-14-7z" class="c72 a11"/><path d="M264 631l0-15 17 13 0 15z" class="c74 a11"/><path d="M442 631l18 34-1-9z" class="c74 a14"/><path d="M499 683l17 30 0 15z" class="c73 a18"/><path d="M501 682l17 45 0-15z" class="c73 a18"/><path d="M282 699l14 7 17 12-14-6z" class="c72 a11"/><path d="M281 644l0-15 17 13 0 15z" class="c74 a11"/><path d="M451 657l17 47 0-15z" class="c73 a18"/><path d="M494 708l17 59 0-8z" class="c72 a18"/><path d="M449 657l18 32 0 15z" class="c74 a18"/><path d="M299 712l14 6 17 13-13-7z" class="c72 a11"/><path d="M298 657l0-15 17 13 0 15z" class="c74 a11"/><path d="M468 689l0 15 17-21z" class="c73 a18"/><path d="M493 695l18 50-1-8z" class="c73 a18"/><path d="M442 644l1 0 17 36-1-5z" class="c74 a18"/><path d="M467 704l0-15 17-6z" class="c74 a18"/><path d="M317 724l13 7 18 13-14-7z" class="c72 a11"/><path d="M315 670l0-15 17 12 0 15z" class="c74 a11"/><path d="M443 657l17 43 0-6z" class="c74 a18"/><path d="M334 737l14 7 17 13-14-7z" class="c72 a11"/><path d="M332 682l0-15 17 13 0 15z" class="c74 a11"/><path d="M500 696l17 33 0 15z" class="c73 a18"/><path d="M183 635l14 0 17 13-14 0z" class="c75 a11"/><path d="M460 694l0 6 17-17z" class="c74 a18"/><path d="M501 696l17 46 0-14z" class="c73 a18"/><path d="M351 750l14 7 17 13-14-7z" class="c72 a11"/><path d="M349 695l0-15 17 13 0 15z" class="c74 a11"/><path d="M200 648l14 0 17 12-14 1z" class="c75 a11"/><path d="M441 631l1 0 17 25-1-5z" class="c76 a14"/><path d="M451 630l17 27 0-15z" class="c76 a14"/><path d="M366 708l0-15 18 13 0 15z" class="c74 a11"/><path d="M217 661l14-1 17 13-14 1z" class="c75 a11"/><path d="M449 630l17 12 0 14z" class="c76 a14"/><path d="M384 721l0-15 17 13 0 15z" class="c74 a11"/><path d="M441 644l1 0 17 31-1-8z" class="c76 a18"/><path d="M399 592l1 0 1 0 1 0 1 0 1 0 2 0 17 12-2 0-1 0-1 1-1 0-1 0-1 0z" class="c77 a11"/><path d="M234 674l14-1 17 13-14 1z" class="c75 a11"/><path d="M449 644l17 17 0 14z" class="c76 a18"/><path d="M442 657l1 0 17 37-1-5z" class="c75 a18"/><path d="M401 734l0-15 17 13 0 14z" class="c74 a11"/><path d="M396 592l1 0 1 0 1 0 17 13-1 0-1 0-1 0z" class="c77 a11"/><path d="M155 639l14-3 14-1 17 13-14 1-14 2z" class="c76 a11"/><path d="M451 644l17 29 0-14z" class="c76 a18"/><path d="M416 605l1 0 1 0 1 0 1-1 1 0 2 0 17 13-2 0-1 0-1 0-1 0-1 0-1 0z" class="c77 a11"/><path d="M251 687l14-1 17 13-14 0z" class="c75 a11"/><path d="M459 689l1 5 17-11-1 0z" class="c75 a18"/><path d="M440 631l1 0 17 20-1-4z" class="c77 a14"/><path d="M418 746l0-14 17 12 0 15z" class="c74 a11"/><path d="M413 605l1 0 1 0 1 0 17 12 0 1-1 0-1 0-1 0z" class="c77 a11"/><path d="M172 651l14-2 14-1 17 13-14 1-14 2z" class="c76 a11"/><path d="M433 617l1 0 1 0 1 0 1 0 1 0 2 0 17 13-2 0-1 0-1 0-1 0-1 0-1 0z" class="c77 a11"/><path d="M268 699l14 0 17 13-13 0z" class="c75 a11"/><path d="M492 695l1 0 17 42-1-11z" class="c75 a18"/><path d="M383 593l1 0 1-1 1 0 1 0 2 0 1 0 1 0 1 0 1 0 1 0 1 0 1 0 17 13-1 0-1 0-1 0-1 0-1 0-1 0-1 0-2 0-1 0-1 0-1 0-1 0z" class="c78 a11"/><path d="M493 708l1 0 17 51-1-14z" class="c75 a18"/><path d="M430 618l1 0 1 0 1 0 0-1 17 13-1 0-1 0-1 0z" class="c77 a11"/><path d="M491 683l1 0 18 34-2-14z" class="c76 a18"/><path d="M189 664l14-2 14-1 17 13-14 1-14 2z" class="c76 a11"/><path d="M72 653l14-2 13-3 14-2 14-2 14-3 14-2 17 12-14 3-14 2-14 3-13 2-14 3-14 2z" class="c77 a11"/><path d="M286 712l13 0 18 12-14 1z" class="c75 a11"/><path d="M400 605l1 0 1 0 1 0 1 0 2 0 1 0 1 0 1 0 1 0 1 0 1 0 1 0 17 13-1 0-1 0-1 0-1 0-1 0-1 0-1 0-2 0-1 0-1 0-1 0-1 0z" class="c78 a11"/><path d="M206 677l14-2 14-1 17 13-14 0-13 3z" class="c76 a11"/><path d="M499 683l17 16 0 14z" class="c76 a18"/><path d="M442 657l17 32 0-5z" class="c77 a18"/><path d="M501 682l17 30 0-14z" class="c76 a18"/><path d="M438 631l2 0 17 16-2-2z" class="c77 a14"/><path d="M89 666l14-2 14-3 13-2 14-3 14-2 14-3 17 13-14 3-14 2-13 3-14 2-14 2-14 3z" class="c77 a11"/><path d="M303 725l14-1 17 13-14 1z" class="c75 a11"/><path d="M381 593l1 0 1 0 17 12-1 0-1 0 0 1z" class="c78 a11"/><path d="M417 618l1 0 1 0 1 0 1 0 2 0 1 0 1 0 1 0 1 0 1 0 1 0 1 0 17 12-1 0 0 1-1 0-1 0-1 0-1 0-1 0-1 0-2 0-1 0-1 0-1 0-1 0z" class="c78 a11"/><path d="M451 657l17 32 0-15z" class="c77 a18"/><path d="M224 690l13-3 14 0 17 12-13 1-14 3z" class="c76 a11"/><path d="M459 684l0 5 17-6z" class="c77 a18"/><path d="M106 679l14-3 14-2 14-2 13-3 14-2 14-3 17 13-13 3-14 2-14 2-14 3-14 2-14 3z" class="c77 a11"/><path d="M320 738l14-1 17 13-14 1z" class="c75 a11"/><path d="M398 606l0-1 1 0 1 0 17 13-1 0-1 0z" class="c78 a11"/><path d="M368 593l1 0 2 0 2 0 1 0 1 0 1 0 1 0 1 0 1 0 1 0 1 0 17 13-1 0-1 0-1 0-1 0-1 0-1 0-1 0-1 0-2 0-1 0-1 0-1 0z" class="c79 a11"/><path d="M449 657l1 0 17 17 0 15z" class="c77 a18"/><path d="M439 644l2 0 17 23-1-7z" class="c77 a18"/><path d="M241 703l14-3 13-1 18 13-14 1-14 3z" class="c76 a11"/><path d="M468 674l0 15 17-6z" class="c77 a18"/><path d="M123 692l14-3 14-2 14-3 14-2 14-2 13-3 18 13-14 2-14 3-14 2-14 3-14 2-14 3z" class="c77 a11"/><path d="M337 751l14-1 17 13-14 0z" class="c75 a11"/><path d="M415 618l1 0 1 0 17 13-1 0-1 0z" class="c78 a11"/><path d="M385 606l1 0 1 0 1 0 2 0 1 0 1 0 1 0 1 0 1 0 1 0 1 0 1 0 17 12-1 0-1 0-1 0-1 0 0 1-1 0-1 0-1 0-1 0-2 0-1 0-1 0-1 0z" class="c79 a11"/><path d="M467 689l0-15 17 9z" class="c77 a18"/><path d="M434 631l1 0 1 0 1 0 1 0 17 14-1-1-1 0-1 0-1 0z" class="c78 a14"/><path d="M258 716l14-3 14-1 17 13-14 1-14 2z" class="c76 a11"/><path d="M140 705l14-3 14-2 14-3 14-2 14-3 14-2 17 13-14 2-14 3-14 2-14 2-14 3-14 2z" class="c77 a11"/><path d="M431 631l1 0 1 0 1 0 17 13-1 0-1 0-1 0z" class="c78 a14"/><path d="M402 619l1 0 1 0 1 0 2 0 1 0 1 0 1 0 1 0 0-1 1 0 1 0 1 0 1 0 17 13-1 0-1 0-1 0-1 0-1 0-1 0-1 0-1 1-2 0-1 0-1-1-1 0z" class="c79 a11"/><path d="M500 696l17 18 0 15z" class="c77 a18"/><path d="M275 728l14-2 14-1 17 13-14 1-14 2z" class="c76 a11"/><path d="M500 696l1 0 17 32 0-15z" class="c77 a18"/><path d="M441 657l1 0 17 27-1-6z" class="c78 a18"/><path d="M157 717l14-2 14-3 14-2 14-2 14-3 14-2 17 13-14 2-14 2-14 3-14 2-14 3-14 2z" class="c77 a11"/><path d="M419 631l1 0 1 1 1 0 2 0 1-1 1 0 1 0 1 0 1 0 1 0 1 0 17 13-1 0-1 0-1 0-1 0-1 0-1 0-1 0-2 0-1 0-1 0-1 0z" class="c79 a14"/><path d="M364 593l1 0 1 0 1 0 1 0 17 13-1 0-1 0-1 0-1 0z" class="c80 a11"/><path d="M292 741l14-2 14-1 17 13-14 1-14 2z" class="c76 a11"/><path d="M458 678l1 6 17-1-1 0z" class="c78 a18"/><path d="M174 730l14-2 14-3 14-2 14-3 14-2 14-2 17 12-14 3-14 2-14 3-14 2-14 3-14 2z" class="c77 a11"/><path d="M451 630l17 12 0-14z" class="c79 a14"/><path d="M357 593l1 0 1 0 1 0 1 0 1 0 1 0 1 0 17 13-1 0-1 0-1 0-1 0-1 0-1 0-1 0z" class="c80 a11"/><path d="M381 606l1 0 1 0 1 0 1 0 17 13-1 0-1 0-1 0-1 0z" class="c80 a11"/><path d="M309 754l14-2 14-1 17 12-14 1-14 3z" class="c76 a11"/><path d="M449 630l17-3 0 15z" class="c79 a14"/><path d="M191 743l14-2 14-3 14-2 14-3 14-2 14-3 17 13-14 3-14 2-14 3-14 2-14 2-14 3z" class="c77 a11"/><path d="M374 606l1 0 1 0 1 0 1 0 1 0 1 0 1 0 17 13-1 0-1 0-1 0-1 0-1 0-1 0-1 0z" class="c80 a11"/><path d="M398 619l1 0 1 0 1 0 1 0 17 12-1 0-1 0-1 0-1 0z" class="c80 a11"/><path d="M489 683l2 0 17 20-2-5z" class="c78 a18"/><path d="M435 644l1 0 1 0 1 0 1 0 18 16-2-2-1 0-1-1-1 0z" class="c79 a18"/><path d="M449 644l18 2-1 15z" class="c79 a18"/><path d="M490 695l2 0 17 31-2-12z" class="c78 a18"/><path d="M208 756l14-3 14-2 14-2 14-3 14-2 14-3 17 13-14 2-14 3-14 2-14 3-14 2-14 3z" class="c77 a11"/><path d="M391 619l1 0 1 0 1 0 1 0 1 0 1 0 1 0 17 12-1 0-1 0-1 0-1 0-1 0-1 0-1 0z" class="c80 a11"/><path d="M415 631l1 0 1 0 1 0 1 0 17 13-1 0-1 0-1 0-1 0z" class="c80 a14"/><path d="M492 708l1 0 17 37-1-10z" class="c78 a18"/><path d="M451 644l17 15 0-15z" class="c80 a18"/><path d="M225 769l14-3 14-2 14-3 14-2 14-3 14-2 17 13-14 2-14 3-14 2-14 3-14 2-14 2z" class="c77 a11"/><path d="M343 593l7 0 1 0 1 0 2 0 1 0 1 0 1 0 17 13-1 0-2 0-2 0-1 0-1 0-7 0z" class="c81 a11"/><path d="M408 631l1 0 1 0 1 0 1 0 1 0 1 0 1 0 17 13-1 0-1 0-1 0-1 0-1 0-1 0-1 0z" class="c80 a14"/><path d="M432 644l1 0 1 0 1 0 17 13-1 0-1 0z" class="c80 a18"/><path d="M439 657l2 0 17 21-2-6z" class="c79 a18"/><path d="M360 606l7 0 1 0 1 0 2 0 2 0 1 0 17 13-1 0-2-1-2 0-1 0-1 0-7 0z" class="c81 a11"/><path d="M425 644l1 0 1 0 1 0 1 0 1 0 1 0 1 0 18 13-1 0-1 0-1 0-1 0-1 0-1 0-1 0-1 0z" class="c80 a18"/><path d="M456 672l2 6 17 5-2 0z" class="c79 a18"/><path d="M486 683l1 0 1 0 1 0 17 15-1-1-1-1-1 0z" class="c79 a18"/><path d="M377 618l7 0 1 0 1 0 2 0 2 1 1 0 17 12-1 0-2 0-2 0-1 0-7 0z" class="c81 a11"/><path d="M264 616l0-15 17 13 0 15z" class="c81 a11"/><path d="M499 683l17 1 0 15z" class="c79 a18"/><path d="M501 682l17 16 0-15z" class="c80 a18"/><path d="M395 631l7 0 1 0 2 0 2 0 1 0 17 13-1 0-2 0-2 0-1 0-7 0z" class="c81 a14"/><path d="M281 629l0-15 17 13 0 15z" class="c81 a11"/><path d="M484 683l1 0 1 0 17 13-1 0-1 0z" class="c80 a18"/><path d="M451 657l17 17 0-14z" class="c80 a18"/><path d="M336 592l2 1 1 0 1 0 1 0 1 0 1 0 17 13-1 0-1 0 0-1-1 0-1 0-1 0-2 0z" class="c82 a11"/><path d="M450 657l17 3 0 14z" class="c81 a18"/><path d="M412 644l7 0 1 0 2 0 2 0 1 0 17 13-1 0-2 0-2 0-1 0-7 0z" class="c81 a18"/><path d="M298 642l0-15 17 13 0 15z" class="c81 a11"/><path d="M476 683l1 0 1 0 1 0 1 0 1 0 1 0 1 0 1 0 17 13-1 0-1 0-1 0-1-1-1 0-1 0-1 0-1 0z" class="c80 a18"/><path d="M468 660l0 14 17 9z" class="c80 a18"/><path d="M353 605l2 0 1 0 1 0 1 0 0 1 1 0 1 0 17 12-1 0-1 0-1 0-1 0-1 0-2 0z" class="c82 a11"/><path d="M467 674l0-14 17 23z" class="c81 a18"/><path d="M315 655l0-15 17 13 0 14z" class="c81 a11"/><path d="M489 695l1 0 17 19-1-4z" class="c80 a18"/><path d="M429 657l7 0 1 0 2 0 17 15-2-2-1 0-7 0z" class="c81 a18"/><path d="M370 618l2 0 1 0 1 0 1 0 1 0 1 0 18 13-1 0-1 0-1 0-1 0-1 0-1 0-1 0z" class="c82 a11"/><path d="M500 696l17 3 0 15z" class="c80 a18"/><path d="M332 667l0-14 17 12 0 15z" class="c81 a11"/><path d="M446 670l7 0 1 0 2 2 17 11-1 0-1 0-1 0-7-1z" class="c81 a18"/><path d="M500 696l18 17 0-15z" class="c80 a18"/><path d="M388 631l1 0 1 0 1 0 1 0 1 0 1 0 1 0 17 13-1 0-1 0-1 0-1 0-1 0-1 0-1 0z" class="c82 a14"/><path d="M490 708l2 0 17 27-2-10z" class="c80 a18"/><path d="M463 682l7 1 1 0 1 0 1 0 2 0 1 0 17 12-1 0-2 0-1 0-1 0-1 0-7 0z" class="c81 a18"/><path d="M349 680l0-15 18 13-1 15z" class="c81 a11"/><path d="M451 630l17-2 0-15z" class="c83 a14"/><path d="M405 644l1 0 1 0 1 0 1 0 1 0 1 0 1 0 17 13-1 0-1 0-1 0-1 0-1 0-1 0-1 0z" class="c82 a18"/><path d="M322 592l14 0 17 13-14 0z" class="c83 a11"/><path d="M366 693l1-15 17 13 0 15z" class="c81 a11"/><path d="M449 630l17-17 0 14z" class="c83 a14"/><path d="M480 695l7 0 1 0 1 0 17 15-1-1-1 0-7-1z" class="c81 a18"/><path d="M422 657l1 0 1 0 1 0 1 0 1 0 1 0 1 0 17 13-1 0-1 0-1 0-1 0-1 0-2-1z" class="c82 a18"/><path d="M339 605l14 0 17 13-13-1z" class="c83 a11"/><path d="M384 706l0-15 17 13 0 15z" class="c81 a11"/><path d="M449 644l18-13 0 15z" class="c83 a18"/><path d="M439 669l2 1 1 0 1 0 1 0 1 0 1 0 17 12-1 0-1 0-1 0-1 0-1 0-2 0z" class="c82 a18"/><path d="M357 617l13 1 18 13-14-1z" class="c83 a11"/><path d="M401 719l0-15 17 13 0 15z" class="c81 a11"/><path d="M451 644l17 0 0-14z" class="c83 a18"/><path d="M456 682l2 0 1 0 1 0 1 0 1 0 1 0 17 13-1 0-1 0-1 0-1 0-1 0-2 0z" class="c82 a18"/><path d="M374 630l14 1 17 13-14-1z" class="c83 a13"/><path d="M418 732l0-15 17 13 0 14z" class="c81 a11"/><path d="M473 695l2 0 1 0 1 0 1 0 1 0 1 0 17 13-1 0-1 0-1 0-1 0-1 0-2 0z" class="c82 a18"/><path d="M391 643l14 1 17 13-14-1z" class="c83 a14"/><path d="M408 656l14 1 17 12-14 0z" class="c83 a14"/><path d="M308 591l14 1 17 13-13-1z" class="c85 a11"/><path d="M499 683l17-14 0 15z" class="c83 a18"/><path d="M501 682l17 1 0-14z" class="c83 a18"/><path d="M425 669l14 0 17 13-14-1z" class="c83 a14"/><path d="M326 604l13 1 18 12-14 0z" class="c85 a11"/><path d="M451 657l17 3 0-15z" class="c84 a18"/><path d="M450 657l17-12 0 15z" class="c84 a18"/><path d="M442 681l14 1 17 13-14-1z" class="c83 a14"/><path d="M343 617l14 0 17 13-14-1z" class="c85 a11"/><path d="M476 707l14 1 17 17-14-5z" class="c83 a14"/><path d="M468 645l0 15 17 23z" class="c84 a18"/><path d="M467 660l0-15 17 38z" class="c84 a18"/><path d="M459 694l14 1 17 13-14-1z" class="c83 a14"/><path d="M360 629l14 1 17 13-14-1z" class="c85 a11"/><path d="M500 696l17-12 0 15z" class="c84 a18"/><path d="M377 642l14 1 17 13-14-1z" class="c85 a11"/><path d="M500 696l18 2 0-14z" class="c84 a18"/><path d="M394 655l14 1 17 13-14-1z" class="c85 a11"/><path d="M451 630l17-17 0-14z" class="c86 a14"/><path d="M449 630l17-31 0 14z" class="c86 a14"/><path d="M411 668l14 1 17 12-14 0z" class="c85 a11"/><path d="M450 630l17-26z" class="c87 a14"/><path d="M450 630l17-26z" class="c87 a14"/><path d="M450 630l17-26z" class="c87 a14"/><path d="M450 630l17-26z" class="c87 a14"/><path d="M450 630l17-26z" class="c87 a14"/><path d="M450 630l17-26z" class="c87 a14"/><path d="M450 630l17-26z" class="c87 a14"/><path d="M450 630l17-26z" class="c87 a14"/><path d="M450 630l17-26z" class="c87 a14"/><path d="M450 630l17-26z" class="c87 a14"/><path d="M450 630l17-26z" class="c87 a14"/><path d="M450 630l17-26z" class="c87 a14"/><path d="M450 630l17-26z" class="c87 a14"/><path d="M450 630l17-26z" class="c87 a14"/><path d="M428 681l14 0 17 13-14-1z" class="c85 a11"/><path d="M295 587l13 4 18 13-14-4z" class="c87 a11"/><path d="M449 644l1 0 17-27 0 14z" class="c86 a18"/><path d="M449 630l1 0 17-26-1-2z" class="c87 a14"/><path d="M451 644l17-14 0-15z" class="c86 a18"/><path d="M445 693l14 1 17 13-14-1z" class="c85 a11"/><path d="M312 600l14 4 17 13-14-4z" class="c87 a11"/><path d="M450 630l1 0 17-31-1 5z" class="c87 a14"/><path d="M462 706l14 1 17 13-14-1z" class="c85 a11"/><path d="M329 613l14 4 17 12-14-3z" class="c87 a11"/><path d="M449 630l17-28 0-3z" class="c87 a14"/><path d="M346 626l14 3 17 13-14-3z" class="c87 a11"/><path d="M499 683l18-28-1 14z" class="c86 a18"/><path d="M501 682l17-13 0-15z" class="c86 a18"/><path d="M264 601l0-14 17 12 0 15z" class="c88 a11"/><path d="M363 639l14 3 17 13-14-3z" class="c87 a11"/><path d="M450 644l17-26z" class="c88 a18"/><path d="M450 644l17-26z" class="c88 a18"/><path d="M450 644l17-26z" class="c88 a18"/><path d="M450 644l17-26z" class="c88 a18"/><path d="M450 644l17-26z" class="c88 a18"/><path d="M450 644l17-26 0-1z" class="c88 a18"/><path d="M450 644l17-27z" class="c88 a18"/><path d="M281 614l0-15 17 13 0 15z" class="c88 a11"/><path d="M450 657l1 0 17-12 0-15z" class="c87 a18"/><path d="M450 644l17-27z" class="c88 a18"/><path d="M450 644l17-27z" class="c88 a18"/><path d="M450 644l17-27z" class="c88 a18"/><path d="M380 652l14 3 17 13-14-4z" class="c87 a11"/><path d="M450 657l17-27 0 15z" class="c87 a18"/><path d="M450 644l17-27z" class="c88 a18"/><path d="M450 644l17-27z" class="c88 a18"/><path d="M450 644l1 0 17-29-1 3z" class="c88 a18"/><path d="M450 644l17-27z" class="c88 a18"/><path d="M450 644l17-27z" class="c88 a18"/><path d="M298 627l0-15 17 13 0 15z" class="c88 a11"/><path d="M468 630l0 15 17 38z" class="c87 a18"/><path d="M397 664l14 4 17 13-14-4z" class="c87 a11"/><path d="M467 645l0-15 17 53z" class="c87 a18"/><path d="M315 640l0-15 17 13 0 15z" class="c88 a11"/><path d="M414 677l14 4 17 12-14-3z" class="c87 a11"/><path d="M500 696l17-26 0 14z" class="c87 a18"/><path d="M500 682l17-26z" class="c88 a18"/><path d="M332 653l0-15 17 13 0 14z" class="c88 a11"/><path d="M500 682l17-26z" class="c88 a18"/><path d="M500 682l17-26z" class="c88 a18"/><path d="M500 696l18-12-1-15z" class="c87 a18"/><path d="M431 690l14 3 17 13-14-3z" class="c87 a11"/><path d="M500 682l18-26-1 0z" class="c88 a18"/><path d="M500 682l18-27 0 1z" class="c88 a18"/><path d="M500 682l18-27z" class="c88 a18"/><path d="M499 683l1-1 17-26 0-1z" class="c88 a18"/><path d="M500 682l1 0 17-27z" class="c88 a18"/><path d="M501 682l17-27z" class="c88 a18"/><path d="M501 682l17-27z" class="c88 a18"/><path d="M501 682l17-27z" class="c88 a18"/><path d="M501 682l17-27z" class="c88 a18"/><path d="M349 665l0-14 18 12 0 15z" class="c88 a11"/><path d="M501 682l17-28 0 1z" class="c88 a18"/><path d="M501 682l17-28z" class="c88 a18"/><path d="M448 703l14 3 17 13-14-3z" class="c87 a11"/><path d="M501 682l17-28z" class="c88 a18"/><path d="M367 678l0-15 17 13 0 15z" class="c88 a11"/><path d="M450 657l18-27-1 0z" class="c89 a18"/><path d="M281 582l14 5 17 13-14-5z" class="c90 a11"/><path d="M384 691l0-15 17 13 0 15z" class="c88 a11"/><path d="M467 630l1 0 17 53-1 0z" class="c89 a18"/><path d="M298 595l14 5 17 13-14-5z" class="c90 a11"/><path d="M401 704l0-15 17 13 0 15z" class="c88 a11"/><path d="M315 608l14 5 17 13-14-6z" class="c90 a11"/><path d="M418 717l0-15 17 13 0 15z" class="c88 a11"/><path d="M500 696l17-27 0 1z" class="c89 a18"/><path d="M332 620l14 6 17 13-14-6z" class="c90 a11"/><path d="M349 633l14 6 17 13-14-6z" class="c90 a11"/><path d="M366 646l14 6 17 12-14-5z" class="c90 a11"/><path d="M383 659l14 5 17 13-14-5z" class="c90 a11"/><path d="M400 672l14 5 17 13-14-6z" class="c90 a11"/><path d="M417 684l14 6 17 13-14-6z" class="c90 a11"/><path d="M434 697l14 6 17 13-14-6z" class="c90 a11"/><path d="M272 579l9 3 17 13-9-4z" class="c94 a11"/><path d="M289 591l9 4 17 13-9-4z" class="c94 a11"/><path d="M306 604l9 4 17 12-9-3z" class="c94 a11"/><path d="M323 617l9 3 17 13-8-3z" class="c94 a11"/><path d="M341 630l8 3 17 13-8-3z" class="c94 a11"/><path d="M358 643l8 3 17 13-8-4z" class="c94 a11"/><path d="M264 587l0-15 17 12 0 15z" class="c95 a11"/><path d="M270 576l2 3 17 12-2-2z" class="c95 a16"/><path d="M375 655l8 4 17 13-8-4z" class="c94 a11"/><path d="M281 599l0-15 17 13 0 15z" class="c95 a11"/><path d="M287 589l2 2 17 13-2-2z" class="c95 a16"/><path d="M392 668l8 4 17 12-8-3z" class="c94 a11"/><path d="M298 612l0-15 17 13 0 15z" class="c95 a11"/><path d="M304 602l2 2 17 13-2-2z" class="c95 a16"/><path d="M409 681l8 3 17 13-8-3z" class="c94 a11"/><path d="M315 625l0-15 17 13 0 15z" class="c95 a11"/><path d="M321 615l2 2 18 13-3-2z" class="c95 a16"/><path d="M426 694l8 3 17 13-8-3z" class="c94 a11"/><path d="M332 638l0-15 17 13 0 15z" class="c95 a11"/><path d="M338 628l3 2 17 13-3-3z" class="c95 a16"/><path d="M349 651l0-15 18 13 0 14z" class="c95 a11"/><path d="M355 640l3 3 17 12-3-2z" class="c95 a16"/><path d="M367 663l0-14 17 12 0 15z" class="c95 a11"/><path d="M372 653l3 2 17 13-3-2z" class="c95 a16"/><path d="M384 676l0-15 17 13 0 15z" class="c95 a11"/><path d="M265 572l2 2 3 2 17 13-3-2-2-2z" class="c95 a21"/><path d="M389 666l3 2 17 13-3-2z" class="c95 a16"/><path d="M401 689l0-15 17 13 0 15z" class="c95 a11"/><path d="M282 585l2 2 3 2 17 13-3-2-2-2z" class="c95 a21"/><path d="M406 679l3 2 17 13-3-2z" class="c95 a16"/><path d="M418 702l0-15 17 13 0 15z" class="c95 a11"/><path d="M299 598l2 2 3 2 17 13-3-2 0-1-2-1z" class="c95 a21"/><path d="M423 692l3 2 17 13-3-2z" class="c95 a16"/><path d="M316 611l2 1 0 1 3 2 17 13-2-2-1-1-2-1 0-1z" class="c95 a21"/><path d="M264 572l1 0 17 13-1-1z" class="c95 a16"/><path d="M264 572l17 12z" class="c95 a11"/><path d="M333 623l0 1 2 1 1 1 2 2 17 12-2-2-1 0-2-1 0-1z" class="c95 a21"/><path d="M281 584l1 1 17 13-1-1z" class="c95 a16"/><path d="M281 584l17 13z" class="c95 a11"/><path d="M350 636l0 1 2 1 1 0 2 2 17 13-2-2-1 0-2-2z" class="c95 a21"/><path d="M298 597l1 1 17 13-1-1z" class="c95 a16"/><path d="M298 597l17 13z" class="c95 a11"/><path d="M367 649l2 2 1 0 2 2 17 13-2-2-1 0-2-2z" class="c95 a21"/><path d="M315 610l1 1 17 12-1 0z" class="c95 a16"/><path d="M315 610l17 13z" class="c95 a11"/><path d="M384 662l2 2 1 0 2 2 17 13-2-2-1-1-1-1-1 0z" class="c95 a21"/><path d="M332 623l1 0 17 13-1 0z" class="c95 a16"/><path d="M332 623l17 13z" class="c95 a11"/><path d="M401 675l1 0 1 1 1 1 2 2 17 13-2-2-1-1-1-1-1-1z" class="c95 a21"/><path d="M349 636l1 0 17 13z" class="c95 a16"/><path d="M349 636l18 13z" class="c95 a11"/><path d="M418 687l1 1 1 1 1 1 2 2 17 13-2-2-1-1-1-1-1-1z" class="c95 a21"/><path d="M367 649l17 13 0-1z" class="c95 a16"/><path d="M367 649l17 12z" class="c95 a11"/><path d="M384 661l0 1 17 13 0-1z" class="c95 a16"/><path d="M384 661l17 13z" class="c95 a11"/><path d="M401 674l0 1 17 12z" class="c95 a16"/><path d="M401 674l17 13z" class="c95 a11"/><path d="M418 687l17 13z" class="c95 a16"/><path d="M418 687l17 13z" class="c95 a11"/></g>
<polyline points="116.1,342.9 124.6,349.3 133.1,355.7 141.7,362.1 150.2,368.5 158.8,374.9 167.3,381.3 175.8,387.7 184.4,394.2 192.9,400.6 201.5,407.0" fill="none" stroke="#111" stroke-width="1.3" stroke-linejoin="round"/>
<polygon points="132.2,286.1 217.6,350.2 217.6,354.2 132.2,290.6" fill="#f2e21c" fill-opacity=".8"/>
<line x1="399.5" y1="161.3" x2="399.5" y2="58.9" stroke="#9a9a9a" stroke-width="1.3"/>
<line x1="396.6" y1="159.8" x2="399.5" y2="161.3" stroke="#555" stroke-width="0.9"/>
<line x1="396.6" y1="116.7" x2="399.5" y2="118.2" stroke="#555" stroke-width="0.9"/>
<line x1="396.6" y1="73.6" x2="399.5" y2="75.1" stroke="#555" stroke-width="0.9"/>
<line x1="399.5" y1="161.3" x2="484.9" y2="225.4" stroke="#3a3a3a" stroke-width="1"/>
<line x1="484.9" y1="225.4" x2="652.1" y2="194.4" stroke="#3a3a3a" stroke-width="1"/>
<line x1="399.5" y1="161.3" x2="395.6" y2="162.0" stroke="#555" stroke-width="0.9"/>
<line x1="442.2" y1="193.4" x2="438.3" y2="194.1" stroke="#555" stroke-width="0.9"/>
<line x1="484.9" y1="225.4" x2="481.0" y2="226.1" stroke="#555" stroke-width="0.9"/>
<line x1="484.9" y1="225.4" x2="481.7" y2="223.0" stroke="#555" stroke-width="0.9"/>
<line x1="568.5" y1="209.9" x2="565.3" y2="207.5" stroke="#555" stroke-width="0.9"/>
<line x1="652.1" y1="194.4" x2="648.9" y2="192.0" stroke="#555" stroke-width="0.9"/>
<g shape-rendering="crispEdges" transform="matrix(.5 0 0 .5 .13 .13)"><path d="M1122 252l11 0 9-5-12 0z" class="c9 a14"/><path d="M1117 251l5 1 8-5-5 0z" class="c10 a14"/><path d="M1116 251l1 0 8-4z" class="c10 a14"/><path d="M1112 250l4 1 9-4-5-2z" class="c11 a14"/><path d="M1110 250l2 0 8-5-1 0z" class="c11 a14"/><path d="M1107 249l3 1 9-5-3-1z" class="c12 a14"/><path d="M1107 249l9-5-1-1z" class="c13 a15"/><path d="M1105 249l2 0 8-6-2-1z" class="c13 a15"/><path d="M1102 248l3 1 8-7-3-1z" class="c14 a15"/><path d="M1099 247l3 1 8-7-3-2z" class="c15 a15"/><path d="M1130 247l12 0 8-4-11 0z" class="c15 a15"/><path d="M1097 246l2 1 8-8-2-1z" class="c16 a15"/><path d="M1096 246l1 0 8-8-1 0z" class="c16 a15"/><path d="M1093 244l3 2 8-8-2-2z" class="c17 a15"/><path d="M1125 247l5 0 9-4-5-1z" class="c16 a15"/><path d="M1125 247l9-5-1 0z" class="c16 a15"/><path d="M1092 243l1 1 9-8-2-1z" class="c18 a15"/><path d="M1120 245l5 2 8-5-4-2z" class="c17 a15"/><path d="M1087 241l5 2 8-8-4-4z" class="c19 a15"/><path d="M1119 245l1 0 9-5-2-1z" class="c18 a15"/><path d="M1116 244l3 1 8-6-2-1z" class="c19 a15"/><path d="M1087 240l0 1 9-10-1-1z" class="c21 a15"/><path d="M1115 243l1 1 9-6-1-1z" class="c19 a15"/><path d="M1113 242l2 1 9-6-2-1z" class="c20 a15"/><path d="M1139 243l11 0 9 0-12 0z" class="c20 a15"/><path d="M1082 235l5 5 8-10-5-7z" class="c23 a15"/><path d="M1110 241l3 1 9-6-3-2z" class="c21 a15"/><path d="M1107 239l3 2 9-7-3-2z" class="c22 a15"/><path d="M1134 242l5 1 8 0-5-1z" class="c21 a15"/><path d="M1082 235l8-12z" class="c25 a16"/><path d="M1133 242l1 0 8 0z" class="c21 a15"/><path d="M1105 238l2 1 9-7-2-1z" class="c23 a15"/><path d="M1104 238l1 0 9-7-1-1z" class="c24 a15"/><path d="M1079 230l3 5 8-12-3-8z" class="c27 a16"/><path d="M1129 240l4 2 9 0-5-3z" class="c22 a15"/><path d="M1102 236l2 2 9-8-3-2z" class="c25 a15"/><path d="M1127 239l2 1 8-1-1-1z" class="c23 a15"/><path d="M1100 235l2 1 8-8-1-2z" class="c26 a16"/><path d="M1125 238l2 1 9-1-3-1z" class="c24 a15"/><path d="M1077 226l2 4 8-15-2-7z" class="c31 a16"/><path d="M1124 237l1 1 8-1-1-1z" class="c25 a15"/><path d="M1147 243l12 0 9 0-12-1z" class="c23 a15"/><path d="M1096 231l4 4 9-9-5-5z" class="c28 a16"/><path d="M1122 236l2 1 8-1-2-2z" class="c26 a16"/><path d="M1076 223l1 3 8-18-1-3z" class="c33 a16"/><path d="M1119 234l3 2 8-2-3-2z" class="c27 a16"/><path d="M1142 242l5 1 9-1-5 0z" class="c24 a15"/><path d="M1095 230l1 1 8-10 0-1z" class="c30 a16"/><path d="M1142 242l9 0-1-1z" class="c25 a15"/><path d="M1116 232l3 2 8-2-3-1z" class="c28 a16"/><path d="M1074 219l2 4 8-18-1-6z" class="c35 a16"/><path d="M1137 239l5 3 8-1-4-3z" class="c26 a16"/><path d="M1114 231l2 1 8-1-2-1z" class="c29 a16"/><path d="M1090 223l5 7 9-10-5-10z" class="c33 a16"/><path d="M1113 230l1 1 8-1z" class="c30 a16"/><path d="M1136 238l1 1 9-1-2 0z" class="c27 a16"/><path d="M1156 242l12 1 8 6-11-3z" class="c26 a16"/><path d="M1110 228l3 2 9 0-3-2z" class="c31 a16"/><path d="M1133 237l3 1 8 0-2-3z" class="c28 a16"/><path d="M1073 215l1 4 9-20-2-7z" class="c39 a17"/><path d="M1109 226l1 2 9 0-2-1z" class="c32 a16"/><path d="M1090 223l9-13z" class="c36 a16"/><path d="M1132 236l1 1 9-2-1 0z" class="c29 a16"/><path d="M1130 234l2 2 9-1-2-2z" class="c30 a16"/><path d="M1151 242l5 0 9 4-6-2z" class="c27 a16"/><path d="M1104 221l5 5 8 1-4-4z" class="c34 a16"/><path d="M1150 241l1 1 8 2z" class="c28 a16"/><path d="M1072 210l1 5 8-23-1-7z" class="c42 a17"/><path d="M1087 215l3 8 9-13-3-9z" class="c38 a17"/><path d="M1127 232l3 2 9-1-3-2z" class="c31 a16"/><path d="M1051 218l2 0 8-19-1 1z" class="c39 a17"/><path d="M1046 218l5 0 9-18-5 3z" class="c39 a17"/><path d="M1053 218l3-2 8-22-3 5z" class="c40 a17"/><path d="M1165 246l11 3 9 6-12-5z" class="c26 a16"/><path d="M1146 238l4 3 9 3-5-4z" class="c29 a16"/><path d="M943 253l6-3 8 10-5 2z" class="c24 a15"/><path d="M1104 220l0 1 9 2-1-1z" class="c36 a16"/><path d="M1124 231l3 1 9-1-3-1z" class="c33 a16"/><path d="M949 250l6-3 8 10-6 3z" class="c25 a15"/><path d="M1071 210l1 0 8-25 0-1z" class="c44 a17"/><path d="M1056 216l0-1 9-23-1 2z" class="c42 a17"/><path d="M1041 215l5 3 9-15-5-1z" class="c40 a17"/><path d="M955 247l5-5 9 10-6 5z" class="c26 a16"/><path d="M932 258l5-3 6-2 9 9-6 1-6-1z" class="c23 a15"/><path d="M1122 230l2 1 9-1-2-1z" class="c33 a16"/><path d="M960 242l6-3 9 11-6 2z" class="c28 a16"/><path d="M1056 215l2-3 9-26-2 6z" class="c43 a17"/><path d="M1041 215l9-13z" class="c40 a17"/><path d="M1144 238l2 0 8 2-1-1z" class="c31 a16"/><path d="M966 239l5-4 9 11-5 4z" class="c29 a16"/><path d="M1122 230l9-1-1 0z" class="c34 a16"/><path d="M926 262l6-4 8 4-6-1z" class="c23 a15"/><path d="M1070 205l1 5 9-26-1-7z" class="c46 a17"/><path d="M971 235l1 0 9 10-1 1z" class="c30 a16"/><path d="M1119 228l3 2 8-1-3-1z" class="c35 a16"/><path d="M914 269l12-7 8-1-11 0z" class="c23 a15"/><path d="M972 235l4-4 9 10-4 4z" class="c31 a16"/><path d="M1036 211l5 4 9-13-5-3z" class="c42 a17"/><path d="M957 260l6-3 9 10-6 3z" class="c23 a15"/><path d="M1099 210l5 10 8 2-5-7z" class="c39 a17"/><path d="M952 262l5-2 9 10-6 2z" class="c22 a15"/><path d="M1142 235l2 3 9 1-3-4z" class="c32 a16"/><path d="M1085 208l2 7 9-14-2-10z" class="c43 a17"/><path d="M1159 244l6 2 8 4-5-4z" class="c29 a16"/><path d="M963 257l6-5 9 10-6 5z" class="c24 a15"/><path d="M1117 227l2 1 8 0-1 0z" class="c35 a16"/><path d="M903 275l11-6 9-8-12 0z" class="c22 a15"/><path d="M1058 212l3-6 9-29-3 9z" class="c46 a17"/><path d="M969 252l6-2 8 10-5 2z" class="c26 a16"/><path d="M976 231l5-6 9 10-5 6z" class="c33 a16"/><path d="M946 263l6-1 8 10-6-2z" class="c22 a15"/><path d="M975 250l5-4 8 10-5 4z" class="c27 a16"/><path d="M1141 235l1 0 8 0-1-2z" class="c34 a16"/><path d="M980 246l1-1 8 11-1 0z" class="c28 a16"/><path d="M1159 244l9 2-1 0z" class="c30 a16"/><path d="M981 245l4-4 8 11-4 4z" class="c29 a16"/><path d="M1113 223l4 4 9 1-5-3z" class="c37 a16"/><path d="M981 225l2-2 9 8-2 4z" class="c36 a16"/><path d="M1061 206l1 0 8-30 0 1z" class="c48 a18"/><path d="M891 274l12 1 8-14-11 2z" class="c22 a15"/><path d="M1139 233l2 2 8-2-2-2z" class="c35 a16"/><path d="M1099 210l8 5 0-1z" class="c42 a17"/><path d="M1173 250l12 5 8 2-11-7z" class="c28 a16"/><path d="M1067 199l3 6 9-28-4-11z" class="c50 a18"/><path d="M940 262l6 1 8 7-5-5z" class="c24 a15"/><path d="M983 223l3-3 9 6-3 5z" class="c37 a17"/><path d="M1154 240l5 4 8 2-4-4z" class="c32 a16"/><path d="M1031 205l5 6 9-12-5-7z" class="c45 a17"/><path d="M1084 205l1 3 9-17-1-5z" class="c47 a17"/><path d="M985 241l5-6 8 9-5 8z" class="c31 a16"/><path d="M1112 222l1 1 8 2 0-1z" class="c38 a17"/><path d="M1062 206l2-6 9-32-3 8z" class="c50 a18"/><path d="M1136 231l3 2 8-2-3-2z" class="c36 a16"/><path d="M986 220l3-3 9 4-3 5z" class="c39 a17"/><path d="M1133 230l3 1 8-2-2 2z" class="c37 a16"/><path d="M1096 201l3 9 8 4-3-7z" class="c44 a17"/><path d="M1131 229l2 1 9 1-3 3z" class="c37 a16"/><path d="M1127 228l3 1 1 0 8 5-3 3z" class="c36 a16"/><path d="M880 269l11 5 9-11-12 2z" class="c24 a15"/><path d="M1064 200l3-1 8-33-2 2z" class="c53 a18"/><path d="M1153 239l1 1 9 2-1-2z" class="c34 a16"/><path d="M960 272l6-2 9-4-6 7z" class="c23 a15"/><path d="M990 235l2-4 9 8-3 5z" class="c34 a16"/><path d="M954 270l6 2 9 1-6 2z" class="c22 a15"/><path d="M1126 228l1 0 9 9-2 1z" class="c36 a16"/><path d="M989 217l2-2 9 2-2 4z" class="c41 a17"/><path d="M934 261l6 1 9 3-6-5z" class="c26 a16"/><path d="M1107 215l5 7 9 2-5-5z" class="c41 a17"/><path d="M989 256l4-4 9 6-4-1z" class="c28 a16"/><path d="M988 256l1 0 9 1-1 0z" class="c28 a16"/><path d="M1083 199l1 6 9-19-2-8z" class="c50 a18"/><path d="M1121 225l5 3 8 10-4 1z" class="c37 a16"/><path d="M966 270l6-3 8-9-5 8z" class="c25 a16"/><path d="M1030 202l1 3 9-13-2-4z" class="c48 a18"/><path d="M983 260l5-4 9 1-5-2z" class="c28 a16"/><path d="M993 252l5-8 9 10-5 4z" class="c30 a16"/><path d="M991 215l4-5 9 0-4 7z" class="c43 a17"/><path d="M1121 224l0 1 9 14-1 0z" class="c37 a17"/><path d="M992 231l3-5 8 6-2 7z" class="c37 a16"/><path d="M1168 246l5 4 9 0-6-6z" class="c32 a16"/><path d="M1150 235l3 4 9 1-3-6z" class="c36 a16"/><path d="M978 262l5-2 9-5-6-4z" class="c29 a16"/><path d="M1129 239l1 0 9 14-1 0z" class="c33 a16"/><path d="M949 265l5 5 9 5-6-4z" class="c24 a15"/><path d="M972 267l6-5 8-11-6 7z" class="c28 a16"/><path d="M874 265l6 4 8-4-6-1z" class="c26 a16"/><path d="M1130 239l4-1 9 10-4 5z" class="c33 a16"/><path d="M1107 214l0 1 9 4 0-1z" class="c43 a17"/><path d="M1124 237l5 2 9 14-5 3z" class="c33 a16"/><path d="M1134 238l2-1 8 9-1 2z" class="c34 a16"/><path d="M995 210l1-2 9-1-1 3z" class="c45 a17"/><path d="M998 244l3-5 8 9-2 6z" class="c33 a16"/><path d="M1116 219l5 5 8 15-5-2z" class="c39 a17"/><path d="M1124 237l9 19z" class="c33 a16"/><path d="M923 261l11 0 9-1-12-7z" class="c29 a16"/><path d="M1149 233l1 2 9-1-1-2z" class="c38 a17"/><path d="M1167 246l1 0 8-2 0-1z" class="c34 a16"/><path d="M1136 237l3-3 8 6-3 6z" class="c36 a16"/><path d="M1121 235l3 2 9 19-3 0z" class="c34 a16"/><path d="M995 226l3-5 8 4-3 7z" class="c40 a17"/><path d="M996 208l2-2 8-3-1 4z" class="c47 a17"/><path d="M1027 196l3 6 8-14-3-8z" class="c52 a18"/><path d="M1094 191l2 10 8 6-2-8z" class="c49 a18"/><path d="M1104 207l3 7 9 4-3-5z" class="c45 a17"/><path d="M1182 250l11 7 9 1-12-8z" class="c32 a16"/><path d="M1116 218l0 1 8 18z" class="c40 a17"/><path d="M1139 234l9 4-1 2z" class="c37 a17"/><path d="M1081 192l2 7 8-21-1-10z" class="c55 a18"/><path d="M1002 258l5-4 8 9-5 1z" class="c29 a16"/><path d="M1147 231l2 2 9-1-2-3z" class="c39 a17"/><path d="M868 261l6 4 8-1-5-2z" class="c28 a16"/><path d="M1119 231l2 4 9 21-2-1z" class="c35 a16"/><path d="M1001 239l2-7 9 9-3 7z" class="c36 a16"/><path d="M799 300l12-9 8-3-11 5z" class="c18 a15"/><path d="M998 206l3-4 8-6-3 7z" class="c49 a18"/><path d="M1139 234l3-3 8 2-2 5z" class="c39 a17"/><path d="M1163 242l4 4 9-3-5-7z" class="c36 a16"/><path d="M963 275l6-2 8 2-5 6z" class="c24 a15"/><path d="M1133 256l8 2z" class="c31 a16"/><path d="M943 260l6 5 8 6-6-4z" class="c28 a16"/><path d="M1050 202l5 1 9-15-5 1z" class="c51 a18"/><path d="M1113 213l3 5 8 19-3-2z" class="c41 a17"/><path d="M1055 203l5-3 9-18-5 6z" class="c52 a18"/><path d="M998 221l2-4 8 3-2 5z" class="c43 a17"/><path d="M1130 256l3 0 8 2-3 0z" class="c31 a16"/><path d="M1007 254l2-6 9 9-3 6z" class="c31 a16"/><path d="M1133 256l5-3 8 0-5 5z" class="c32 a16"/><path d="M1026 195l1 1 8-16 0-1z" class="c54 a18"/><path d="M1118 230l1 1 9 24-1-1z" class="c36 a16"/><path d="M998 257l4 1 8 6-4-6z" class="c30 a16"/><path d="M1050 202l9-13-1 0z" class="c51 a18"/><path d="M811 291l11-9 9 0-12 6z" class="c21 a15"/><path d="M1138 253l1 0 8-1-1 1z" class="c33 a16"/><path d="M1144 229l3 2 9-2-3-1z" class="c41 a17"/><path d="M1060 200l1-1 9-19-1 2z" class="c53 a18"/><path d="M1128 255l2 1 8 2-2 0z" class="c31 a16"/><path d="M1142 231l2-2 9-1-3 5z" class="c40 a17"/><path d="M1001 202l0-1 9-6-1 1z" class="c51 a18"/><path d="M957 271l6 4 9 6-6-4z" class="c25 a15"/><path d="M1117 227l1 3 9 24-1-1z" class="c37 a17"/><path d="M1127 254l1 1 8 3z" class="c32 a16"/><path d="M1093 186l1 5 8 8-1-3z" class="c53 a18"/><path d="M1045 199l5 3 8-13-4-2z" class="c52 a18"/><path d="M911 261l12 0 8-8-11-6z" class="c32 a16"/><path d="M1139 253l4-5 8-4-4 8z" class="c34 a16"/><path d="M969 273l6-7 8-3-6 12z" class="c27 a16"/><path d="M997 257l1 0 8 1-1-1z" class="c31 a16"/><path d="M1126 253l1 1 9 4-2-1z" class="c32 a16"/><path d="M1102 199l2 8 9 6-2-5z" class="c49 a18"/><path d="M1001 201l3-5 8-8-2 7z" class="c52 a18"/><path d="M822 282l12-11 8 1-11 10z" class="c25 a15"/><path d="M1061 199l3-5 9-22-3 8z" class="c56 a18"/><path d="M1003 232l3-7 9 8-3 8z" class="c40 a17"/><path d="M1111 208l2 5 8 22-2-4z" class="c44 a17"/><path d="M1116 224l1 3 9 26-2-1z" class="c38 a17"/><path d="M1124 252l2 1 8 4-1 0z" class="c33 a16"/><path d="M1162 240l1 2 8-6-1-4z" class="c39 a17"/><path d="M1000 217l4-7 8-1-4 11z" class="c46 a17"/><path d="M857 256l11 5 9 1-12-2z" class="c31 a16"/><path d="M1009 248l3-7 8 8-2 8z" class="c35 a16"/><path d="M1024 188l2 7 9-16-3-9z" class="c57 a18"/><path d="M1080 185l1 7 9-24-1-9z" class="c59 a19"/><path d="M1190 250l12 8 8 10-11-6z" class="c32 a16"/><path d="M1123 251l1 1 9 5-2-1z" class="c33 a16"/><path d="M1143 248l1-2 9-6-2 4z" class="c37 a16"/><path d="M1114 221l2 3 8 28-1-1z" class="c39 a17"/><path d="M992 255l5 2 8 0-5-8z" class="c33 a16"/><path d="M1121 250l2 1 8 5-1-1z" class="c34 a16"/><path d="M1176 244l6 6 8 0-5-9z" class="c37 a16"/><path d="M1064 194l1-2 9-23-1 3z" class="c58 a18"/><path d="M834 271l11-8 9 1-12 8z" class="c29 a16"/><path d="M972 281l5-6 9 11-6 5z" class="c24 a15"/><path d="M900 263l11-2 9-14-12 5z" class="c33 a16"/><path d="M1110 206l1 2 8 23-1-1z" class="c46 a17"/><path d="M931 253l12 7 8 7-11-6z" class="c31 a16"/><path d="M1114 221l9 30z" class="c40 a17"/><path d="M1091 178l2 8 8 10-1-7z" class="c56 a18"/><path d="M951 267l6 4 9 6-6-4z" class="c28 a16"/><path d="M845 263l6-4 8 3-5 2z" class="c31 a16"/><path d="M1101 196l1 3 9 9-1-2z" class="c51 a18"/><path d="M851 259l6-3 8 4-6 2z" class="c32 a16"/><path d="M888 265l12-2 8-11-11 9z" class="c32 a16"/><path d="M1006 225l2-5 9 8-2 5z" class="c43 a17"/><path d="M1004 196l2-6 9-12-3 10z" class="c56 a18"/><path d="M966 277l6 4 8 10-6-4z" class="c24 a15"/><path d="M1004 210l1-3 8-1-1 3z" class="c49 a18"/><path d="M1113 218l1 3 9 30-2-1z" class="c41 a17"/><path d="M1199 262l11 6 9 11-12-4z" class="c29 a16"/><path d="M1118 248l3 2 9 5-4-1z" class="c35 a16"/><path d="M975 266l5-8 9-8-6 13z" class="c32 a16"/><path d="M1040 192l5 7 9-12-6-8z" class="c56 a18"/><path d="M882 264l6 1 9-4-6 1z" class="c31 a16"/><path d="M1080 184l0 1 9-26 0-1z" class="c62 a19"/><path d="M1159 234l3 6 8-8-3-9z" class="c42 a17"/><path d="M1144 246l3-6 9-10-3 10z" class="c40 a17"/><path d="M1108 201l2 5 8 24-1-3z" class="c47 a17"/><path d="M1012 241l3-8 8 8-3 8z" class="c39 a17"/><path d="M1065 192l2-6 9-26-2 9z" class="c60 a19"/><path d="M980 291l6-5 8 12-5 3z" class="c21 a15"/><path d="M1010 264l5-1 9-8-5 3z" class="c33 a16"/><path d="M1115 247l3 1 8 6-2-1z" class="c36 a16"/><path d="M1176 243l0 1 9-3-1 0z" class="c39 a17"/><path d="M1005 207l1-4 9-3-2 6z" class="c51 a18"/><path d="M977 275l6-12 9 13-6 10z" class="c28 a16"/><path d="M1138 258l3 0 9 1-3 2z" class="c33 a16"/><path d="M1141 258l9 1z" class="c34 a16"/><path d="M1006 190l1 0 8-13 0 1z" class="c58 a19"/><path d="M877 262l5 2 9-2-6 1z" class="c32 a16"/><path d="M1136 258l2 0 9 3-2 0z" class="c33 a16"/><path d="M1100 189l1 7 9 10-2-5z" class="c54 a18"/><path d="M1109 213l4 5 8 32-3-2z" class="c43 a17"/><path d="M1015 263l3-6 8-6-2 4z" class="c34 a16"/><path d="M1136 258l9 3-1 0z" class="c34 a16"/><path d="M1113 247l2 0 9 6-3-1z" class="c37 a16"/><path d="M974 287l6 4 9 10-6-3z" class="c22 a15"/><path d="M1147 240l1-2 8-10 0 2z" class="c42 a17"/><path d="M1141 258l5-5 9-1-5 7z" class="c35 a16"/><path d="M1134 257l2 1 8 3-1 0z" class="c34 a16"/><path d="M1021 180l3 8 8-18-2-11z" class="c62 a19"/><path d="M1207 275l12 4 8 7-11 0z" class="c27 a16"/><path d="M1006 258l4 6 9-6-4 0z" class="c34 a16"/><path d="M986 251l6 4 8-6-5-10z" class="c37 a17"/><path d="M1079 177l1 7 9-26-2-10z" class="c65 a19"/><path d="M1007 190l1-5 9-14-2 6z" class="c60 a19"/><path d="M1008 220l4-11 9 8-4 11z" class="c47 a17"/><path d="M1107 196l1 5 9 26-1-3z" class="c50 a18"/><path d="M960 273l6 4 8 10-5-3z" class="c27 a16"/><path d="M1158 232l1 2 8-11-1-3z" class="c45 a17"/><path d="M1133 257l1 0 9 4-2 0z" class="c34 a16"/><path d="M986 286l6-10 8 13-6 9z" class="c24 a15"/><path d="M940 261l11 6 9 6-12-3z" class="c31 a16"/><path d="M1185 241l5 9 9 12-5-5z" class="c37 a16"/><path d="M1015 233l2-5 8 7-2 6z" class="c42 a17"/><path d="M819 288l12-6 8 0-11 4z" class="c25 a15"/><path d="M1090 168l1 10 9 11-2-7z" class="c61 a19"/><path d="M980 258l6-7 9-12-6 11z" class="c37 a17"/><path d="M1107 213l2 0 9 35-3-1z" class="c44 a17"/><path d="M1146 253l1-1 9-2-1 2z" class="c37 a17"/><path d="M1098 221l1-1 9 28-1 0z" class="c43 a17"/><path d="M1095 223l3-2 9 27-3 1z" class="c42 a17"/><path d="M1094 223l1 0 9 26-1 1z" class="c42 a17"/><path d="M865 260l12 2 8 1-11 2z" class="c33 a16"/><path d="M1099 220l2-2 9 30-2 0z" class="c43 a17"/><path d="M1038 188l2 4 8-13-1-4z" class="c60 a19"/><path d="M1130 255l1 1 2 1 8 4-1-1-2 0z" class="c35 a16"/><path d="M1092 251l1 0 5 0 5-1 1-1 3-1 1 0 2 0 3-1 8 5-3 0-2 1-1 0-3 0-1 0-5 1-5 1z" class="c37 a17"/><path d="M1101 218l3-3 9 32-3 1z" class="c44 a17"/><path d="M1104 215l3-2 8 34-2 0z" class="c44 a17"/><path d="M1104 215l9 32z" class="c44 a17"/><path d="M1089 224l5-1 9 27-5 1z" class="c42 a17"/><path d="M1005 257l1 1 9 0-1 0z" class="c35 a16"/><path d="M1006 203l3-7 9-6-3 10z" class="c55 a18"/><path d="M1018 257l2-8 9-2-3 4z" class="c37 a17"/><path d="M808 293l11-5 9-2-12 1z" class="c24 a15"/><path d="M1194 257l5 5 8 13-5-3z" class="c32 a16"/><path d="M1148 238l2-5 9-14-3 9z" class="c45 a17"/><path d="M920 247l11 6 9 8-12-2z" class="c36 a16"/><path d="M1171 236l5 7 8-2-4-11z" class="c42 a17"/><path d="M831 282l11-10 9 0-12 10z" class="c28 a16"/><path d="M1059 189l5-1 8 5-5 0z" class="c57 a18"/><path d="M1067 186l3-9 8-30-2 13z" class="c65 a19"/><path d="M1064 188l5-6 8 8-5 3z" class="c59 a19"/><path d="M1084 224l5 0 9 27-5 0z" class="c42 a17"/><path d="M1098 182l2 7 8 12-1-5z" class="c57 a18"/><path d="M989 301l5-3 9 5-6 2z" class="c20 a15"/><path d="M1058 189l1 0 8 4z" class="c58 a18"/><path d="M1008 185l1-4 9-17-1 7z" class="c63 a19"/><path d="M1156 229l2 3 8-12-2-6z" class="c47 a17"/><path d="M1106 191l1 5 9 28-2-3z" class="c52 a18"/><path d="M1126 254l4 1 8 5-3-1z" class="c36 a16"/><path d="M859 262l6-2 9 5-6 0z" class="c33 a16"/><path d="M1084 224l9 27-1 0z" class="c42 a17"/><path d="M969 284l5 3 9 11-6-4z" class="c24 a15"/><path d="M1202 272l5 3 9 11-5-1z" class="c29 a16"/><path d="M1147 261l3-2 8 13-3 1z" class="c33 a16"/><path d="M1021 178l0 2 9-21 0-2z" class="c65 a19"/><path d="M1147 252l4-8 9-5-4 11z" class="c40 a17"/><path d="M1150 259l8 13z" class="c33 a16"/><path d="M1069 182l1-2 8 8-1 2z" class="c60 a19"/><path d="M983 263l6-13 8 15-5 11z" class="c34 a16"/><path d="M1012 209l1-3 9 7-1 4z" class="c51 a18"/><path d="M1145 261l2 0 8 12-2 0z" class="c33 a16"/><path d="M1000 249l5 8 9 1-5-1z" class="c36 a16"/><path d="M1216 286l11 0 9 7-12 4z" class="c25 a15"/><path d="M1184 241l1 0 9 16-1-1z" class="c39 a17"/><path d="M854 264l5-2 9 3-6 1z" class="c33 a16"/><path d="M842 272l12-8 8 2-11 6z" class="c32 a16"/><path d="M994 298l6-9 9 8-6 6z" class="c23 a15"/><path d="M1193 256l1 1 8 15 0-1z" class="c34 a16"/><path d="M1009 196l1-1 8-7 0 2z" class="c58 a18"/><path d="M1144 261l1 0 8 12z" class="c33 a16"/><path d="M1088 251l4 0 9 4-5 0z" class="c38 a17"/><path d="M1079 222l5 2 8 27-4 0z" class="c43 a17"/><path d="M1106 191l8 30z" class="c53 a18"/><path d="M1124 253l2 1 9 5-2-1z" class="c37 a16"/><path d="M1054 187l4 2 9 4-5-3z" class="c59 a19"/><path d="M983 298l6 3 8 4-6-3z" class="c21 a15"/><path d="M1020 249l3-8 9 1-3 5z" class="c40 a17"/><path d="M992 276l5-11 9 15-6 9z" class="c29 a16"/><path d="M1143 261l1 0 9 12-2-1z" class="c33 a16"/><path d="M948 270l12 3 9 11-12-5z" class="c29 a16"/><path d="M1150 259l5-7 8 14-5 6z" class="c35 a16"/><path d="M1017 228l4-11 8 8-4 10z" class="c47 a17"/><path d="M1202 271l0 1 9 13-1 0z" class="c30 a16"/><path d="M1150 233l3-5 8-16-2 7z" class="c48 a18"/><path d="M897 261l11-9 9 10-12 6z" class="c35 a16"/><path d="M908 252l12-5 8 12-11 3z" class="c37 a16"/><path d="M1141 261l2 0 8 11-1 0z" class="c34 a16"/><path d="M928 259l12 2 8 9-11 1z" class="c33 a16"/><path d="M1158 272l9 12z" class="c30 a16"/><path d="M1211 285l5 1 8 11-5 1z" class="c25 a16"/><path d="M1121 252l3 1 9 5-3-1z" class="c37 a17"/><path d="M1153 228l3 1 8-15-3-2z" class="c49 a18"/><path d="M1155 273l3-1 9 12-3 1z" class="c30 a16"/><path d="M1070 180l3-8 8 11-3 5z" class="c62 a19"/><path d="M885 263l6-1 6-1 8 7-5 1-6 0z" class="c33 a16"/><path d="M1035 180l3 8 9-13-3-10z" class="c63 a19"/><path d="M1140 260l1 1 9 11-2 0z" class="c34 a16"/><path d="M1070 177l0-1 9-30-1 1z" class="c69 a20"/><path d="M1009 181l2-4 8-20-1 7z" class="c66 a19"/><path d="M1083 250l5 1 8 4-5-1z" class="c38 a17"/><path d="M1104 186l2 5 8 30-1-3z" class="c55 a18"/><path d="M1013 206l2-6 9 8-2 5z" class="c53 a18"/><path d="M1140 260l8 12z" class="c34 a16"/><path d="M1153 273l2 0 9 12-2-1z" class="c30 a16"/><path d="M1158 272l5-6 9 15-5 3z" class="c31 a16"/><path d="M1089 159l1 9 8 14-1-7z" class="c66 a19"/><path d="M1210 285l1 0 8 13z" class="c26 a16"/><path d="M1155 252l1-2 8 15-1 1z" class="c37 a16"/><path d="M1224 297l12-4 8 16-11 0z" class="c22 a15"/><path d="M1138 260l2 0 8 12-1-1z" class="c34 a16"/><path d="M1153 273l9 11-1 0z" class="c30 a16"/><path d="M1010 195l2-7 9-9-3 9z" class="c60 a19"/><path d="M1097 175l1 7 9 14-1-5z" class="c61 a19"/><path d="M1197 267l5 4 8 14-4-3z" class="c31 a16"/><path d="M1170 232l1 4 9-6-1-5z" class="c46 a17"/><path d="M1189 248l4 8 9 15-5-4z" class="c36 a16"/><path d="M1074 218l5 4 9 29-5-1z" class="c44 a17"/><path d="M1000 289l6-9 8 11-5 6z" class="c26 a16"/><path d="M1151 244l2-4 8-6-1 5z" class="c43 a17"/><path d="M1075 166l4 11 8-29-3-15z" class="c71 a20"/><path d="M1163 266l1-1 9 15-1 1z" class="c32 a16"/><path d="M1023 241l2-6 9 4-2 3z" class="c43 a17"/><path d="M1151 272l2 1 8 11-1 0z" class="c30 a16"/><path d="M1018 170l3 8 9-21-3-11z" class="c69 a20"/><path d="M1086 197l1 0 8 26-1 0z" class="c53 a18"/><path d="M1111 253l1 0 3 0 1 0 2-1 3 0 9 5-3 0-2 0-1 0-3 0-1 0z" class="c38 a17"/><path d="M1233 309l11 0 9 15-12-2z" class="c18 a15"/><path d="M1206 282l4 3 9 13-5 0z" class="c26 a16"/><path d="M1135 259l3 1 9 11-4-1z" class="c35 a16"/><path d="M1180 230l4 11 9 15-4-8z" class="c42 a17"/><path d="M1078 249l3 0 2 1 8 4-2 0-2 0z" class="c39 a17"/><path d="M1087 197l3-3 8 27-3 2z" class="c54 a18"/><path d="M1081 198l5-1 8 26-5 1z" class="c53 a18"/><path d="M1150 272l1 0 9 12-2-1z" class="c31 a16"/><path d="M1219 298l5-1 9 12-5 0z" class="c22 a15"/><path d="M1073 172l1-3 8 12-1 2z" class="c65 a19"/><path d="M1011 177l0-2 9-20-1 2z" class="c68 a19"/><path d="M917 262l11-3 9 12-12 2z" class="c34 a16"/><path d="M977 294l6 4 8 4-5-2z" class="c23 a15"/><path d="M874 265l11-2 9 6-12 1z" class="c34 a16"/><path d="M1090 194l1-1 8 27-1 1z" class="c54 a18"/><path d="M1072 193l5-3 9 7-5 1z" class="c58 a19"/><path d="M957 279l12 5 8 10-11-6z" class="c28 a16"/><path d="M1077 190l1-2 9 9-1 0z" class="c59 a19"/><path d="M995 239l5 10 9 8-6-2z" class="c40 a17"/><path d="M1070 176l3-8 8-33-2 11z" class="c71 a20"/><path d="M1219 298l9 11-1 0z" class="c23 a15"/><path d="M1148 272l2 0 8 11-1 0z" class="c31 a16"/><path d="M1021 217l1-4 8 8-1 4z" class="c50 a18"/><path d="M1164 265l4-8 9 17-4 6z" class="c34 a16"/><path d="M989 250l6-11 8 16-6 10z" class="c39 a17"/><path d="M1091 193l2-4 8 29-2 2z" class="c55 a18"/><path d="M1148 272l9 11z" class="c31 a16"/><path d="M1167 284l5-3 9 9-5 3z" class="c28 a16"/><path d="M1097 174l0 1 9 16z" class="c63 a19"/><path d="M1072 216l2 2 9 32-2-1z" class="c46 a17"/><path d="M1133 258l2 1 8 11-2-1z" class="c36 a16"/><path d="M1204 281l2 1 8 16-1 0z" class="c27 a16"/><path d="M1048 179l6 8 8 3-5-7z" class="c62 a19"/><path d="M1075 248l3 1 9 5-1 0-2 0z" class="c40 a17"/><path d="M1156 250l4-11 8 18-4 8z" class="c40 a17"/><path d="M997 265l6-10 9 15-6 10z" class="c34 a16"/><path d="M1172 281l1-1 8 10z" class="c29 a16"/><path d="M1076 197l5 1 8 26-5 0z" class="c53 a18"/><path d="M1196 265l1 2 9 15-2-1z" class="c33 a16"/><path d="M1035 179l0 1 9-15-1-1z" class="c66 a19"/><path d="M1147 271l1 1 9 11-2-1z" class="c32 a16"/><path d="M1089 158l0 1 8 16 0-1z" class="c68 a20"/><path d="M1078 188l3-5 9 11-3 3z" class="c60 a19"/><path d="M905 268l12-6 8 11-11 2z" class="c33 a16"/><path d="M1011 175l1-3 9-22-1 5z" class="c69 a20"/><path d="M1214 298l5 0 8 11-4 0z" class="c23 a15"/><path d="M997 305l6-2 8 5-5 1z" class="c21 a15"/><path d="M1161 284l1 0 2 1 3-1 9 9-1 0-2 0-3-1z" class="c28 a16"/><path d="M937 271l11-1 9 9-12-3z" class="c32 a16"/><path d="M1067 193l5 0 9 5-5-1-1 0z" class="c59 a19"/><path d="M1003 303l6-6 8 8-6 3z" class="c22 a15"/><path d="M1101 178l3 8 9 32-4-5z" class="c58 a19"/><path d="M1173 280l4-6 9 13-5 3z" class="c30 a16"/><path d="M1015 200l3-10 8 9-2 9z" class="c57 a18"/><path d="M1075 197l1 0 8 27z" class="c54 a18"/><path d="M1101 255l5-1 5-1 9 4-5 1-5 0-1 0z" class="c39 a17"/><path d="M1025 235l4-10 9 9-4 5z" class="c46 a17"/><path d="M1130 257l3 1 8 11-3-1z" class="c36 a16"/><path d="M868 265l6 0 8 5-5-1z" class="c35 a16"/><path d="M1228 309l5 0 8 13-5-2z" class="c19 a15"/><path d="M1187 245l2 3 8 19-1-2z" class="c39 a17"/><path d="M1093 189l2-6 9 32-3 3z" class="c57 a18"/><path d="M1006 280l6-10 8 13-6 8z" class="c30 a16"/><path d="M1213 298l1 0 9 11-2 0z" class="c23 a15"/><path d="M1201 278l3 3 9 17-3-1z" class="c28 a16"/><path d="M1081 183l1-2 9 12-1 1z" class="c62 a19"/><path d="M1143 270l4 1 8 11-3-1z" class="c32 a16"/><path d="M1074 169l2-9 8 15-2 6z" class="c67 a19"/><path d="M1069 213l3 3 9 33-3 0z" class="c47 a17"/><path d="M1072 247l1 0 2 1 9 6-3 0z" class="c41 a17"/><path d="M1009 297l5-6 9 11-6 3z" class="c24 a15"/><path d="M1022 213l2-5 8 8-2 5z" class="c53 a18"/><path d="M1009 257l5 1 8 0-5 6z" class="c38 a17"/><path d="M816 287l12-1 8 1-11 10z" class="c27 a16"/><path d="M1130 257l8 11z" class="c37 a16"/><path d="M1003 255l6 2 8 7-5 6z" class="c37 a17"/><path d="M1014 258l1 0 8-1-1 1z" class="c38 a17"/><path d="M828 286l11-4 9-4-12 9z" class="c29 a16"/><path d="M894 269l6 0 5-1 9 7-6 0-6 1z" class="c33 a16"/><path d="M1168 257l2-4 8 19-1 2z" class="c37 a16"/><path d="M1177 274l1-2 9 13-1 2z" class="c32 a16"/><path d="M1073 168l2-2 9-33-3 2z" class="c74 a20"/><path d="M1153 240l3-10 8-9-3 13z" class="c48 a17"/><path d="M1210 297l3 1 8 11-3-1z" class="c24 a15"/><path d="M1096 167l1 7 9 17-2-5z" class="c65 a19"/><path d="M991 302l6 3 9 4-6-2z" class="c22 a15"/><path d="M1015 258l4 0 8-6-4 5z" class="c39 a17"/><path d="M1227 309l1 0 8 11z" class="c20 a15"/><path d="M1095 183l1 0 8 32z" class="c58 a19"/><path d="M1096 255l5 0 8 3-4 1z" class="c39 a17"/><path d="M1157 283l1 0 2 1 1 0 9 8-2 0-1-1-2 0z" class="c29 a16"/><path d="M1012 172l4-4 9-26-4 8z" class="c72 a20"/><path d="M1127 257l3 0 8 11-3-1z" class="c37 a17"/><path d="M1193 259l3 6 8 16-3-3z" class="c35 a16"/><path d="M1201 277l0 1 9 19-1 0z" class="c29 a16"/><path d="M1071 193l4 4 9 27-5-2z" class="c55 a18"/><path d="M1062 190l5 3 8 4-4-4z" class="c60 a19"/><path d="M1016 168l2 2 9-24-2-4z" class="c72 a20"/><path d="M1069 212l0 1 9 36z" class="c48 a18"/><path d="M1141 269l2 1 9 11-2-1z" class="c33 a16"/><path d="M1082 181l2-6 9 14-2 4z" class="c63 a19"/><path d="M1012 188l3-10 8-12-2 13z" class="c65 a19"/><path d="M1167 223l3 9 9-7-3-13z" class="c51 a18"/><path d="M1209 297l1 0 8 11z" class="c24 a15"/><path d="M862 266l6-1 9 4-6-1z" class="c35 a16"/><path d="M1241 322l12 2 9 1-12 0z" class="c17 a15"/><path d="M1019 258l5-3 8-9-5 6z" class="c40 a17"/><path d="M1096 183l2-5 9 35-3 2z" class="c59 a19"/><path d="M1223 309l4 0 9 11-5 0z" class="c20 a15"/><path d="M1087 148l2 10 8 16-1-7z" class="c71 a20"/><path d="M839 282l12-10 8-1-11 7z" class="c32 a16"/><path d="M1125 257l2 0 8 10-2 0z" class="c38 a17"/><path d="M1068 244l1 1 3 2 9 7-3-1-2-1z" class="c42 a17"/><path d="M1179 225l1 5 9 18-2-3z" class="c46 a17"/><path d="M1181 290l5-3 8 12-4 1z" class="c27 a16"/><path d="M1181 290l9 10-1 0z" class="c27 a16"/><path d="M1207 296l2 1 9 11-2-1z" class="c25 a15"/><path d="M1160 239l1-5 9 19-2 4z" class="c43 a17"/><path d="M1098 178l3 0 8 35-2 0z" class="c60 a19"/><path d="M1014 291l6-8 9 13-6 6z" class="c27 a16"/><path d="M1186 287l1-2 9 14-2 0z" class="c28 a16"/><path d="M1178 272l3-7 9 16-3 4z" class="c33 a16"/><path d="M1199 275l2 2 8 20-2-1z" class="c30 a16"/><path d="M1029 225l1-4 9 11-1 2z" class="c49 a18"/><path d="M1155 282l2 1 8 8-1-1z" class="c30 a16"/><path d="M1176 293l5-3 8 10-5 1z" class="c27 a16"/><path d="M1024 255l2-4 9-6-3 1z" class="c42 a17"/><path d="M1018 190l0-2 9 9-1 2z" class="c60 a19"/><path d="M1124 257l1 0 8 10-1 0z" class="c38 a17"/><path d="M966 288l11 6 9 6-12-5z" class="c27 a16"/><path d="M1187 285l3-4 8 17-2 1z" class="c28 a16"/><path d="M1067 208l2 4 9 37-3-1z" class="c49 a18"/><path d="M851 272l11-6 9 2-12 3z" class="c35 a16"/><path d="M1032 170l3 9 8-15-2-12z" class="c70 a20"/><path d="M1138 268l3 1 9 11-3-1z" class="c34 a16"/><path d="M1221 309l2 0 8 11-1-1z" class="c21 a15"/><path d="M1012 270l5-6 9 12-6 7z" class="c34 a16"/><path d="M1190 281l1-1 8 18-1 0z" class="c29 a16"/><path d="M1204 296l3 0 9 11-3 0z" class="c25 a15"/><path d="M1047 175l1 4 9 4-2-4z" class="c66 a19"/><path d="M1121 257l3 0 8 10-2-1z" class="c38 a17"/><path d="M1026 251l3-4 9-2-3 0z" class="c43 a17"/><path d="M1191 280l2-3 8 20-2 1z" class="c30 a16"/><path d="M1192 257l1 2 8 19 0-1z" class="c37 a16"/><path d="M1196 274l3 1 8 21-3 0z" class="c31 a16"/><path d="M1170 253l3-10 8 22-3 7z" class="c40 a17"/><path d="M1138 268l9 11z" class="c35 a16"/><path d="M1184 236l3 9 9 20-3-6z" class="c42 a17"/><path d="M1170 292l3 1 2 0 1 0 8 8-3 0-2-1-1 0z" class="c27 a16"/><path d="M1218 308l3 1 9 10-3 0z" class="c21 a15"/><path d="M1120 257l1 0 9 9-2 0z" class="c38 a17"/><path d="M1181 265l1-2 9 17-1 1z" class="c35 a16"/><path d="M882 270l12-1 8 7-11-1z" class="c34 a16"/><path d="M1201 297l3-1 9 11-3 1z" class="c25 a15"/><path d="M1152 281l3 1 9 8-4-1z" class="c31 a16"/><path d="M1084 254l2 0 1 0 2 0 2 0 5 1 9 4-5 0-2 0-3 1-3 0z" class="c40 a17"/><path d="M986 300l5 2 9 5-6-1z" class="c24 a15"/><path d="M1193 277l3-3 8 22-3 1z" class="c31 a16"/><path d="M1030 221l2-5 9 13-2 3z" class="c51 a18"/><path d="M1029 247l3-5 9 2-3 1z" class="c44 a17"/><path d="M1024 208l2-9 9 8-3 9z" class="c56 a18"/><path d="M945 276l12 3 9 9-12-6z" class="c31 a16"/><path d="M1199 298l2-1 9 11-2 0z" class="c25 a15"/><path d="M1064 243l4 1 8 8-4-1z" class="c43 a17"/><path d="M1198 298l1 0 9 10-1 0z" class="c25 a15"/><path d="M1135 267l3 1 9 11-3-1z" class="c35 a16"/><path d="M1218 308l9 11-1 0z" class="c22 a15"/><path d="M902 276l6-1 6 0 11-2 12-2 8 5-11 2-12 3-5 2-6 2z" class="c33 a16"/><path d="M1196 299l2-1 9 10-3 1z" class="c25 a15"/><path d="M1236 320l5 2 9 3-5 0z" class="c19 a15"/><path d="M1084 175l3-10 8 18-2 6z" class="c67 a19"/><path d="M1032 242l2-3 9 4-2 1z" class="c45 a17"/><path d="M1156 230l0-2 9-11-1 4z" class="c52 a18"/><path d="M1194 299l2 0 8 10-1 0z" class="c25 a15"/><path d="M1064 204l3 4 8 40-2-1z" class="c51 a18"/><path d="M1216 307l2 1 8 11-2 0z" class="c22 a15"/><path d="M1015 178l0-1 9-13-1 2z" class="c69 a20"/><path d="M1076 160l2-13 9 18-3 10z" class="c72 a20"/><path d="M1020 283l6-7 9 11-6 9z" class="c31 a16"/><path d="M1182 263l2-6 9 20-2 3z" class="c37 a16"/><path d="M1190 300l4-1 9 10-5 1z" class="c25 a15"/><path d="M1190 253l2 4 9 20-2-2z" class="c38 a17"/><path d="M1034 239l4-5 8 9-3 0z" class="c46 a17"/><path d="M1066 186l5 7 8 29-5-4z" class="c58 a18"/><path d="M1018 188l3-9 8 10-2 8z" class="c63 a19"/><path d="M1110 258l5 0 5-1 8 9-5-1-5 0z" class="c39 a17"/><path d="M1133 267l2 0 9 11-2-1z" class="c36 a16"/><path d="M1017 264l5-6 9 10-5 8z" class="c37 a17"/><path d="M1167 291l1 1 2 0 8 8-1-1-2 0z" class="c28 a16"/><path d="M1236 320l9 5-1 0z" class="c19 a15"/><path d="M1189 300l1 0 8 10z" class="c25 a15"/><path d="M1059 243l2 0 1 0 1 0 1 0 8 8-1 0-2-1-1 0z" class="c44 a17"/><path d="M1038 234l1-2 9 11-2 0z" class="c47 a17"/><path d="M1213 307l3 0 8 12-3-1z" class="c22 a15"/><path d="M1147 279l3 1 2 1 8 8-2-1-3-1z" class="c32 a16"/><path d="M1057 183l5 7 9 3-5-7z" class="c64 a19"/><path d="M1078 253l3 1 3 0 8 6-2 0-1 0-3 0z" class="c41 a17"/><path d="M1039 232l2-3 8 14-1 0z" class="c48 a17"/><path d="M1132 267l1 0 9 10-1-1z" class="c36 a16"/><path d="M1173 243l0-3 9 23-1 2z" class="c43 a17"/><path d="M1184 301l5-1 9 10-5 1z" class="c25 a15"/><path d="M1064 203l0 1 9 43-1 0z" class="c52 a18"/><path d="M1166 220l1 3 9-11-1-4z" class="c55 a18"/><path d="M1092 155l4 12 8 19-3-8z" class="c70 a20"/><path d="M1032 216l3-9 8 18-2 4z" class="c53 a18"/><path d="M1161 234l3-13 9 22-3 10z" class="c48 a17"/><path d="M825 297l11-10 9 2-12 18z" class="c28 a16"/><path d="M1041 229l2-4 9 17-3 1z" class="c48 a18"/><path d="M1087 165l9 18-1 0z" class="c69 a20"/><path d="M1210 308l3-1 8 11-3 0z" class="c23 a15"/><path d="M1184 301l9 10z" class="c25 a15"/><path d="M1026 199l1-2 8 9 0 1z" class="c59 a19"/><path d="M877 269l5 1 9 5-6-3z" class="c36 a16"/><path d="M1043 225l1-1 9 19-1-1z" class="c49 a18"/><path d="M1164 290l1 1 2 0 8 8-1-1-2 0z" class="c29 a16"/><path d="M1130 266l2 1 9 9-3-1z" class="c37 a16"/><path d="M1184 257l3-5 9 22-3 3z" class="c39 a17"/><path d="M1022 258l1-1 9 10-1 1z" class="c39 a17"/><path d="M1184 233l0 3 9 23-1-2z" class="c45 a17"/><path d="M1187 252l3 1 9 22-3-1z" class="c39 a17"/><path d="M1044 224l2-4 9 23-2 0z" class="c49 a18"/><path d="M1230 319l1 1 5 0 8 5-4-1-2 0z" class="c20 a15"/><path d="M1181 301l3 0 9 10-3 0z" class="c25 a15"/><path d="M1176 212l3 13 8 20-3-9z" class="c51 a18"/><path d="M1208 308l2 0 8 10-2 0z" class="c23 a15"/><path d="M1015 177l2-6 8-15-1 8z" class="c71 a20"/><path d="M1147 279l8 8z" class="c33 a16"/><path d="M1207 308l1 0 8 10-1 1z" class="c23 a15"/><path d="M1044 165l3 10 8 4-3-8z" class="c70 a20"/><path d="M1046 220l3-5 9 28-3 0z" class="c50 a18"/><path d="M1061 199l3 4 8 44-3-2z" class="c53 a18"/><path d="M1100 259l5 0 4-1 1 0 8 7-5 0-5 0z" class="c40 a17"/><path d="M1204 309l3-1 8 11-2 0z" class="c23 a15"/><path d="M1049 243l3-1 1 1 2 0 3 0 1 0 9 7-2 0-3 0-2 0-3 0z" class="c45 a17"/><path d="M1128 266l2 0 8 9-1 0z" class="c37 a17"/><path d="M891 275l11 1 9 9-12 3z" class="c33 a16"/><path d="M1049 215l9 28z" class="c51 a18"/><path d="M1144 278l3 1 8 8-3-1z" class="c33 a16"/><path d="M1156 228l3-9 8-13-2 11z" class="c55 a18"/><path d="M1203 309l1 0 9 10-2 0z" class="c23 a15"/><path d="M1179 300l2 1 9 10-2-1z" class="c26 a16"/><path d="M1072 251l4 1 2 1 8 7-1 0-4-1z" class="c42 a17"/><path d="M974 295l12 5 8 6-11-4z" class="c27 a16"/><path d="M1035 207l0-1 9 18-1 1z" class="c55 a18"/><path d="M1078 147l1-1 8 19z" class="c76 a20"/><path d="M1087 165l3-8 8 21-2 5z" class="c71 a20"/><path d="M1049 215l2-3 8 31-1 0z" class="c51 a18"/><path d="M1160 289l4 1 8 8-3-1z" class="c30 a16"/><path d="M1026 276l5-8 9 10-5 9z" class="c35 a16"/><path d="M1023 257l4-5 9 8-4 7z" class="c41 a17"/><path d="M1173 240l3-8 8 25-2 6z" class="c45 a17"/><path d="M1064 183l2 3 8 32-2-2z" class="c60 a19"/><path d="M1198 310l5-1 8 10-4 1z" class="c23 a15"/><path d="M1178 300l1 0 9 10-1 0z" class="c26 a16"/><path d="M1051 212l1-3 9 34-2 0z" class="c52 a18"/><path d="M1084 133l3 15 9 19-4-12z" class="c77 a20"/><path d="M1224 319l2 0 1 0 3 0 8 5-2-1-1 0-2 0z" class="c21 a15"/><path d="M1198 310l9 10-1 0z" class="c23 a15"/><path d="M1123 265l5 1 9 9-5-2z" class="c38 a17"/><path d="M954 282l12 6 8 7-11-6z" class="c31 a16"/><path d="M922 281l12-3 11-2 9 6-12 1-11 4z" class="c34 a16"/><path d="M1027 197l2-8 9 9-3 8z" class="c62 a19"/><path d="M1142 277l2 1 8 8-2-1z" class="c34 a16"/><path d="M1177 299l1 1 9 10-2-1z" class="c26 a16"/><path d="M1052 209l2-3 8 37-1 0z" class="c53 a18"/><path d="M1059 198l2 1 8 46-1-1z" class="c54 a18"/><path d="M871 268l6 1 8 3-6-3z" class="c37 a17"/><path d="M1181 227l3 6 8 24-2-4z" class="c47 a17"/><path d="M1193 311l5-1 8 10-5 1z" class="c23 a15"/><path d="M1054 206l0-1 9 38-1 0z" class="c53 a18"/><path d="M1090 157l2-2 9 23-3 0z" class="c72 a20"/><path d="M1250 325l12 0 8 1-11 3z" class="c20 a15"/><path d="M1035 206l3-8 8 22-2 4z" class="c57 a18"/><path d="M1164 214l2 6 9-12-2-8z" class="c58 a18"/><path d="M1054 205l1-2 9 40-1 0z" class="c54 a18"/><path d="M1175 299l2 0 8 10-1 0z" class="c27 a16"/><path d="M1055 203l4-5 9 46-4-1z" class="c54 a18"/><path d="M1141 276l1 1 8 8z" class="c35 a16"/><path d="M1006 309l5-1 9-11-6 3z" class="c27 a16"/><path d="M1055 179l2 4 9 3-2-3z" class="c67 a19"/><path d="M1011 308l6-3 9-13-6 5z" class="c28 a16"/><path d="M1069 250l2 1 1 0 9 8-1 0-1 0-1-1z" class="c43 a17"/><path d="M1164 221l1-4 8 23 0 3z" class="c52 a18"/><path d="M1193 311l8 10z" class="c23 a15"/><path d="M885 272l6 3 8 13-5 1z" class="c34 a16"/><path d="M1038 245l3-1 2-1 3 0 2 0 1 0 9 7-2 0-1 0-4 1-2 0-3 1z" class="c46 a17"/><path d="M899 288l12-3 8 9-11 8z" class="c30 a16"/><path d="M1155 287l3 1 2 1 9 8-2-1-3-1z" class="c31 a16"/><path d="M894 289l5-1 9 14-6 4z" class="c29 a16"/><path d="M1030 159l2 11 9-18-3-14z" class="c77 a20"/><path d="M1031 268l1-1 8 10 0 1z" class="c37 a17"/><path d="M911 285l6-2 8 7-6 4z" class="c32 a16"/><path d="M836 287l12-9 8-3-11 14z" class="c33 a16"/><path d="M888 290l6-1 8 17-6 4z" class="c28 a16"/><path d="M1174 298l1 1 9 10-1-1z" class="c27 a16"/><path d="M1190 311l3 0 8 10-3-1z" class="c23 a15"/><path d="M917 283l5-2 9 6-6 3z" class="c33 a16"/><path d="M1221 318l3 1 9 4-3-1z" class="c22 a15"/><path d="M1027 252l5-6 9 8-5 6z" class="c44 a17"/><path d="M1079 146l2-11 9 22-3 8z" class="c78 a21"/><path d="M1021 179l2-13 9 11-3 12z" class="c69 a20"/><path d="M1138 275l3 1 9 9-3-1z" class="c35 a16"/><path d="M1174 298l9 10-1 0z" class="c27 a16"/><path d="M1043 164l1 1 8 6 0-1z" class="c73 a20"/><path d="M1017 305l6-3 9-16-6 6z" class="c29 a16"/><path d="M1118 265l5 0 9 8-5-2z" class="c39 a17"/><path d="M1081 259l4 1 1 0 3 0 1 0 2 0 3 0 3-1 2 0 8 6-2 0-2 0-1 0-2 1-3 0-3 1-2 0-4 1z" class="c41 a17"/><path d="M876 292l12-2 8 20-11 5z" class="c27 a16"/><path d="M1172 298l2 0 8 10-1 0z" class="c28 a16"/><path d="M1061 177l3 6 8 33-3-3z" class="c63 a19"/><path d="M1017 171l1-7 9-18-2 10z" class="c75 a20"/><path d="M1032 246l3-1 3 0 8 7-3 1-2 1z" class="c45 a17"/><path d="M1063 250l3 0 2 0 1 0 9 8-2 0-1 0-3 0z" class="c44 a17"/><path d="M1244 325l1 0 5 0 9 4-6 1z" class="c20 a15"/><path d="M1188 310l2 1 8 9-2 0z" class="c24 a15"/><path d="M833 307l12-18 8 13-11 8z" class="c27 a16"/><path d="M1155 287l9 8z" class="c32 a16"/><path d="M1000 307l6 2 8-9-6-2z" class="c27 a16"/><path d="M1218 318l3 0 9 4-3 0z" class="c22 a15"/><path d="M1176 232l2-8 9 28-3 5z" class="c49 a18"/><path d="M1137 275l1 0 9 9-2 0z" class="c36 a16"/><path d="M1175 208l1 4 8 24 0-3z" class="c55 a18"/><path d="M859 271l12-3 8 1-11 0z" class="c38 a17"/><path d="M1187 310l1 0 8 10-1-1z" class="c24 a15"/><path d="M1178 224l3 3 9 26-3-1z" class="c49 a18"/><path d="M1032 267l4-7 9 9-5 8z" class="c39 a17"/><path d="M1152 286l3 1 9 8-3-1z" class="c32 a16"/><path d="M1216 318l2 0 9 4-2 0z" class="c23 a15"/><path d="M879 269l6 3 9 17-6 1z" class="c35 a16"/><path d="M1169 297l3 1 9 10-3-1z" class="c28 a16"/><path d="M1023 302l6-6 8-15-5 5z" class="c32 a16"/><path d="M1113 265l5 0 9 6-5 0z" class="c40 a17"/><path d="M1215 319l1-1 9 4-1 0z" class="c23 a15"/><path d="M1159 219l2-7 9-16-3 10z" class="c60 a19"/><path d="M1185 309l2 1 8 9-1 0z" class="c25 a15"/><path d="M848 278l11-7 9-2-12 6z" class="c37 a17"/><path d="M865 295l11-3 9 23-12 1z" class="c27 a16"/><path d="M1038 198l2-10 9 27-3 5z" class="c61 a19"/><path d="M1240 324l4 1 9 5-5-1z" class="c20 a15"/><path d="M1213 319l2 0 9 3-3 0z" class="c23 a15"/><path d="M1081 135l3-2 8 22-2 2z" class="c81 a21"/><path d="M1132 273l5 2 8 9-5-2z" class="c37 a16"/><path d="M1184 309l1 0 9 10-2 0z" class="c25 a15"/><path d="M1061 176l0 1 8 36 0-1z" class="c65 a19"/><path d="M1161 212l3 2 9-14-3-4z" class="c61 a19"/><path d="M1165 217l2-11 9 26-3 8z" class="c55 a18"/><path d="M1211 319l2 0 8 3-1 0z" class="c23 a15"/><path d="M1029 296l6-9 8-5-6-1z" class="c34 a16"/><path d="M1167 296l2 1 9 10-3-1z" class="c29 a16"/><path d="M1052 171l3 8 9 4-3-6z" class="c70 a20"/><path d="M1080 259l1 0 8 9-1 0z" class="c42 a17"/><path d="M1150 285l2 1 9 8-2 0-1-1z" class="c33 a16"/><path d="M1029 189l3-12 8 11-2 10z" class="c67 a19"/><path d="M1079 259l1 0 8 9 0 1z" class="c42 a17"/><path d="M1183 308l1 1 8 10-1-1z" class="c25 a16"/><path d="M1238 324l2 0 8 5-1-1z" class="c21 a15"/><path d="M1078 258l1 1 9 10-2 0z" class="c42 a17"/><path d="M963 289l11 6 9 7-12-6z" class="c31 a16"/><path d="M1207 320l4-1 9 3-5 0z" class="c23 a15"/><path d="M994 306l6 1 8-9-5-2z" class="c29 a16"/><path d="M1182 308l1 0 8 10z" class="c26 a16"/><path d="M1023 166l1-2 8 12 0 1z" class="c73 a20"/><path d="M1035 287l5-9 8 5-5-1z" class="c35 a16"/><path d="M1076 258l2 0 8 11-1 1z" class="c42 a17"/><path d="M853 302l12-7 8 21-11-1z" class="c27 a16"/><path d="M931 287l11-4 12-1 9 7-12 1-12 4z" class="c34 a16"/><path d="M868 269l11 0 9 21-12 2z" class="c36 a16"/><path d="M1181 308l1 0 9 10-1 0z" class="c26 a16"/><path d="M1041 254l2-1 3-1 3-1 2 0 4-1 1 0 2 0 3 0 2 0 9 8-2-1-1 0-3 0-1 1-2 0-3 1-2 0-3 1-3 1-2 1z" class="c45 a17"/><path d="M1040 188l1-1 8 28z" class="c63 a19"/><path d="M1041 152l2 12 9 6-3-10z" class="c76 a20"/><path d="M1075 258l1 0 9 12-2 0z" class="c42 a17"/><path d="M1164 295l3 1 8 10-2-1z" class="c30 a16"/><path d="M1206 320l1 0 8 2z" class="c23 a15"/><path d="M1075 258l8 12z" class="c42 a17"/><path d="M1030 157l0 2 8-21 0-3z" class="c81 a21"/><path d="M1147 284l3 1 8 8-3-1z" class="c34 a16"/><path d="M1036 260l5-6 9 8-5 7z" class="c43 a17"/><path d="M845 289l11-14 9 20-12 7z" class="c33 a16"/><path d="M1040 278l0-1 9 6-1 0z" class="c37 a16"/><path d="M1072 258l3 0 8 12-2 1z" class="c42 a17"/><path d="M1173 200l2 8 9 25-3-6z" class="c58 a19"/><path d="M902 306l6-4 8 1-5 0z" class="c28 a16"/><path d="M1058 281l2-1 9 19-2 2z" class="c33 a16"/><path d="M1235 323l1 0 2 1 9 4-3 0-1-1z" class="c22 a15"/><path d="M908 302l11-8 9 5-12 4z" class="c30 a16"/><path d="M1164 295l9 10-1 0z" class="c30 a16"/><path d="M1201 321l5-1 9 2-5 0z" class="c23 a15"/><path d="M896 310l6-4 9-3-6 1z" class="c28 a16"/><path d="M1127 271l5 2 8 9-5-2z" class="c38 a17"/><path d="M1060 280l3-2 9 19-3 2z" class="c34 a16"/><path d="M919 294l6-4 9 6-6 3z" class="c31 a16"/><path d="M1058 168l3 8 8 36-2-4z" class="c67 a19"/><path d="M1070 257l2 1 9 13-3 1z" class="c42 a17"/><path d="M1018 164l1-7 9-20-1 9z" class="c80 a21"/><path d="M1178 307l3 1 9 10-4-1z" class="c26 a16"/><path d="M1040 277l5-8 8 14-4 0z" class="c38 a17"/><path d="M925 290l6-3 8 7-5 2z" class="c33 a16"/><path d="M1063 278l3-1 9 18-3 2z" class="c35 a16"/><path d="M1069 257l1 0 8 15z" class="c42 a17"/><path d="M1145 284l2 0 8 8-1 0z" class="c35 a16"/><path d="M1041 187l1-6 9 31-2 3z" class="c64 a19"/><path d="M1161 294l3 1 8 10-3 0z" class="c31 a16"/><path d="M842 310l11-8 9 13-12-2z" class="c27 a16"/><path d="M1201 321l9 1z" class="c24 a15"/><path d="M1066 277l2-1 9 17-2 2z" class="c35 a16"/><path d="M1066 257l3 0 9 15-3 1z" class="c42 a17"/><path d="M1068 276l4-2 8 17-3 2z" class="c36 a16"/><path d="M856 275l12-6 8 23-11 3z" class="c36 a16"/><path d="M1073 274l2-1 8 16-1 1z" class="c37 a16"/><path d="M1072 274l1 0 9 16-2 1z" class="c36 a16"/><path d="M1075 273l3-1 8 15-3 2z" class="c37 a17"/><path d="M1093 267l2 0 3-1 3 0 2-1 1 0 2 0 2 0 5 0 9 6-5 0-2 0-3 0-3 0-2 0-1 1-3 1-1 1z" class="c41 a17"/><path d="M1233 323l2 0 8 4-2 0z" class="c23 a15"/><path d="M1078 272l9 15-1 0z" class="c37 a17"/><path d="M885 315l11-5 9-6-12 1z" class="c27 a16"/><path d="M1053 283l5-2 9 20-5-5z" class="c34 a16"/><path d="M1065 258l1-1 9 16-2 1z" class="c42 a17"/><path d="M1052 170l0 1 9 6 0-1z" class="c73 a20"/><path d="M1078 272l3-1 8 14-2 2z" class="c38 a17"/><path d="M1198 320l3 1 9 1-3-1z" class="c24 a15"/><path d="M1063 258l2 0 8 16-1 0z" class="c42 a17"/><path d="M1024 164l1-8 9 13-2 7z" class="c75 a20"/><path d="M1081 271l2-1 9 12-3 3z" class="c38 a17"/><path d="M1127 271l8 9z" class="c39 a17"/><path d="M1159 294l2 0 8 11-1 0z" class="c31 a16"/><path d="M1032 177l0-1 9 11-1 1z" class="c70 a20"/><path d="M1045 269l5-7 8 19-5 2z" class="c39 a17"/><path d="M1083 270l9 12z" class="c39 a17"/><path d="M1060 259l3-1 9 16-4 2z" class="c42 a17"/><path d="M1083 270l2 0 8 11-1 1z" class="c39 a17"/><path d="M1067 301l2-2 8 6-2 2z" class="c30 a16"/><path d="M1175 306l3 1 8 10-2-1z" class="c27 a16"/><path d="M1259 329l11-3 9 4-12 1z" class="c22 a15"/><path d="M1085 270l1-1 9 11-2 1z" class="c39 a17"/><path d="M1086 269l2 0 8 10-1 1z" class="c40 a17"/><path d="M1058 259l2 0 8 17-2 1z" class="c42 a17"/><path d="M1158 293l1 1 9 11-1 1z" class="c31 a16"/><path d="M1088 269l0-1 9 10-1 1z" class="c40 a17"/><path d="M1088 268l1 0 9 9-1 1z" class="c40 a17"/><path d="M1140 282l5 2 9 8-5-1z" class="c35 a16"/><path d="M1055 260l3-1 8 18-3 1z" class="c41 a17"/><path d="M1050 262l2-1 8 19-2 1z" class="c41 a17"/><path d="M1052 261l3-1 8 18-3 2z" class="c41 a17"/><path d="M1089 268l4-1 9 7-4 3z" class="c40 a17"/><path d="M1230 322l3 1 8 4-3-1z" class="c23 a15"/><path d="M1196 320l2 0 9 1-2 0z" class="c24 a15"/><path d="M983 302l11 4 9-10-12 1z" class="c31 a16"/><path d="M1122 271l5 0 8 9-5-1z" class="c39 a17"/><path d="M1069 299l3-2 3-2 8 6-3 2-3 2z" class="c31 a16"/><path d="M1155 292l3 1 9 13-3 0z" class="c31 a16"/><path d="M1195 319l1 1 9 1-1-1z" class="c25 a15"/><path d="M1167 206l3-10 8 28-2 8z" class="c60 a19"/><path d="M1173 305l2 1 9 10-3-1z" class="c28 a16"/><path d="M1042 181l2-6 8 34-1 3z" class="c66 a19"/><path d="M1062 296l5 5 8 6-5-1z" class="c30 a16"/><path d="M1253 330l6-1 8 2-5 1z" class="c21 a15"/><path d="M873 316l12-1 8-10-11 1z" class="c27 a16"/><path d="M1075 295l2-2 8 6-2 2z" class="c32 a16"/><path d="M1154 292l1 0 9 14-2 1z" class="c32 a16"/><path d="M1019 157l1-2 8-21 0 3z" class="c83 a21"/><path d="M1227 322l3 0 8 4-3-1z" class="c24 a15"/><path d="M1194 319l1 0 9 1-2 0z" class="c25 a15"/><path d="M1077 293l3-2 9 6-4 2z" class="c33 a16"/><path d="M1172 305l1 0 8 10z" class="c28 a16"/><path d="M1032 176l2-7 8 12-1 6z" class="c72 a20"/><path d="M1152 309l9 20 0 1z" class="c25 a16"/><path d="M1253 330l9 2-1 0z" class="c22 a15"/><path d="M1170 196l3 4 8 27-3-3z" class="c61 a19"/><path d="M1152 309l5-1 9 17-5 4z" class="c26 a16"/><path d="M1080 291l2-1 1-1 9 6-2 1-1 1z" class="c34 a16"/><path d="M1169 305l3 0 9 10-3 1z" class="c28 a16"/><path d="M1157 308l5-1 9 14-5 4z" class="c27 a16"/><path d="M1049 283l4 0 9 13-5-8z" class="c36 a16"/><path d="M1149 291l5 1 8 15-5 1z" class="c32 a16"/><path d="M1162 307l2-1 8 14-1 1z" class="c27 a16"/><path d="M1147 309l5 0 9 21-5 1z" class="c25 a16"/><path d="M1192 319l2 0 8 1-1-1z" class="c26 a16"/><path d="M1164 306l3 0 8 12-3 2z" class="c28 a16"/><path d="M1167 306l1-1 8 12-1 1z" class="c28 a16"/><path d="M1117 271l5 0 8 8-5-1z" class="c40 a17"/><path d="M1168 305l1 0 9 11-2 1z" class="c28 a16"/><path d="M1225 322l2 0 8 3-2 0z" class="c24 a15"/><path d="M1083 289l3-2 1 0 8 5-3 3z" class="c35 a16"/><path d="M1135 280l5 2 9 9-5-2z" class="c37 a16"/><path d="M1049 160l3 10 9 6-3-8z" class="c76 a20"/><path d="M1027 146l3 11 8-22-3-14z" class="c85 a21"/><path d="M1056 160l2 8 9 40-3-4z" class="c70 a20"/><path d="M1248 329l5 1 8 2-4-1z" class="c22 a15"/><path d="M1224 322l1 0 8 3z" class="c25 a15"/><path d="M1191 318l1 1 9 0-1 0z" class="c26 a16"/><path d="M1087 287l2-2 9 5-3 2z" class="c36 a16"/><path d="M934 296l5-2 12-4 12-1 8 7-11 1-12 4-6 1z" class="c33 a16"/><path d="M1191 318l9 1z" class="c26 a16"/><path d="M1221 322l3 0 9 3-3-1z" class="c25 a15"/><path d="M1142 308l5 1 9 22-5 0z" class="c26 a16"/><path d="M1020 155l1-5 8-22-1 6z" class="c85 a21"/><path d="M1190 318l1 0 9 1-2-1z" class="c26 a16"/><path d="M1044 175l1-6 9 37-2 3z" class="c69 a20"/><path d="M1144 289l5 2 8 17-5 1z" class="c33 a16"/><path d="M1089 285l3-3 8 5-2 3z" class="c37 a16"/><path d="M1135 280l9 9z" class="c37 a17"/><path d="M862 315l11 1 9-10-12 3z" class="c28 a16"/><path d="M1092 282l8 5z" class="c37 a17"/><path d="M1071 343l6-4 9 21-6 6z" class="c15 a15"/><path d="M1247 328l1 1 9 2-1 0z" class="c23 a15"/><path d="M1220 322l1 0 9 2-2 0z" class="c25 a15"/><path d="M1025 156l2-10 8 15-1 8z" class="c80 a21"/><path d="M1112 271l3 0 2 0 8 7-1 0-3-1-1 0z" class="c41 a17"/><path d="M1048 283l1 0 8 5 0-1z" class="c37 a17"/><path d="M971 296l12 6 8-5-11 3z" class="c33 a16"/><path d="M1092 282l1-1 2-1 8 5-1 1-2 1z" class="c38 a17"/><path d="M1144 289l8 20z" class="c33 a16"/><path d="M1141 308l1 0 9 23-2 1z" class="c26 a16"/><path d="M1186 317l4 1 8 0-3-1z" class="c27 a16"/><path d="M928 299l6-3 8 6-5 1z" class="c32 a16"/><path d="M1130 279l5 1 9 9-5-2z" class="c38 a17"/><path d="M1244 328l3 0 9 3-3 0z" class="c23 a15"/><path d="M1057 288l5 8 8 10-4-3z" class="c33 a16"/><path d="M1215 322l5 0 8 2-4-1z" class="c26 a16"/><path d="M1095 280l1-1 1-1 1-1 8 5-1 1 0 1-2 1z" class="c39 a17"/><path d="M1138 308l3 0 8 24-3 0z" class="c26 a16"/><path d="M1038 138l3 14 8 8-2-11z" class="c83 a21"/><path d="M1045 169l1-2 8 38 0 1z" class="c71 a20"/><path d="M1077 339l5-3 9 19-5 5z" class="c17 a15"/><path d="M1066 341l5 2 9 23-6-5z" class="c15 a15"/><path d="M1139 287l5 2 8 20-5 0z" class="c33 a16"/><path d="M1055 159l1 1 8 44 0-1z" class="c72 a20"/><path d="M1034 169l1-8 9 14-2 6z" class="c76 a20"/><path d="M1075 307l2-2 9 6-2 2z" class="c30 a16"/><path d="M1161 330l0-1 9-1-1 0z" class="c24 a15"/><path d="M1137 308l1 0 8 24z" class="c27 a16"/><path d="M1070 306l5 1 9 6-5 3z" class="c29 a16"/><path d="M1098 277l4-3 8 5-4 3z" class="c40 a17"/><path d="M1243 327l1 1 9 3-1-1z" class="c24 a15"/><path d="M1215 322l9 1-1 0z" class="c26 a16"/><path d="M1082 336l1 0 9 18-1 1z" class="c18 a15"/><path d="M1103 273l3-1 1-1 2 0 3 0 8 6-2 0-3 0-3 1z" class="c42 a17"/><path d="M1156 331l5-1 8-2-4 0z" class="c24 a15"/><path d="M1161 329l5-4 9-1-5 4z" class="c24 a15"/><path d="M1135 307l2 1 9 24-3 0z" class="c27 a16"/><path d="M1077 305l3-2 9 6-3 2z" class="c31 a16"/><path d="M1184 316l2 1 9 0-3 0z" class="c28 a16"/><path d="M916 303l12-4 9 4-12 0z" class="c32 a16"/><path d="M1102 274l1-1 9 5-2 1z" class="c41 a17"/><path d="M1241 327l2 0 9 3-2 0z" class="c24 a15"/><path d="M1046 167l0-4 9 40-1 2z" class="c72 a20"/><path d="M850 313l12 2 8-6-11 4z" class="c29 a16"/><path d="M1083 336l4-3 9 16-4 5z" class="c19 a15"/><path d="M1043 282l5 1 9 4-5-9z" class="c39 a17"/><path d="M1080 303l3-2 9 6-3 2z" class="c32 a16"/><path d="M960 297l11-1 9 4-12 7z" class="c33 a16"/><path d="M1132 307l3 0 8 25-2 0z" class="c27 a16"/><path d="M1210 322l5 0 8 1-5 0z" class="c26 a16"/><path d="M1166 325l5-4 9 0-5 3z" class="c26 a16"/><path d="M1125 278l5 1 9 8-5-2z" class="c40 a17"/><path d="M1066 303l4 3 9 10-5 1z" class="c30 a16"/><path d="M1132 307l9 25 0 1z" class="c27 a16"/><path d="M1021 150l4-8 8-25-4 11z" class="c89 a22"/><path d="M1083 301l2-2 9 6-2 2z" class="c33 a16"/><path d="M1267 331l12-1 8 4-11 0z" class="c23 a15"/><path d="M1181 315l3 1 8 1-2-1z" class="c29 a16"/><path d="M948 301l12-4 8 10-11 7z" class="c32 a16"/><path d="M1151 331l5 0 9-3-5-1z" class="c24 a15"/><path d="M1171 321l1-1 9 0-1 1z" class="c27 a16"/><path d="M1238 326l3 1 9 3-3-1z" class="c25 a15"/><path d="M1134 285l5 2 8 22-5-1z" class="c35 a16"/><path d="M1129 307l3 0 9 26-3-1z" class="c27 a16"/><path d="M1074 318l0-1 9 19-1 0z" class="c25 a15"/><path d="M1210 322l8 1z" class="c27 a16"/><path d="M1069 319l5-1 8 18-5 3z" class="c24 a15"/><path d="M1074 317l5-1 8 17-4 3z" class="c25 a16"/><path d="M1057 287l0 1 9 15-1-1z" class="c35 a16"/><path d="M1052 153l3 6 9 44-3-4z" class="c74 a20"/><path d="M1172 320l3-2 9 0-3 2z" class="c28 a16"/><path d="M1063 320l6-1 8 20-6 4z" class="c24 a15"/><path d="M1087 333l5-4 9 15-5 5z" class="c21 a15"/><path d="M942 302l6-1 9 13-6 1z" class="c31 a16"/><path d="M1085 299l4-2 1-1 9 5-1 1-4 3z" class="c34 a16"/><path d="M1079 316l5-3 8 16-5 4z" class="c26 a16"/><path d="M1181 315l9 1-1 0z" class="c29 a16"/><path d="M1014 300l6-3 9-10-6 3z" class="c36 a16"/><path d="M1175 318l1-1 9 0-1 1z" class="c28 a16"/><path d="M1127 308l2-1 9 25-2 0z" class="c27 a16"/><path d="M1025 142l2 4 8-25-2-4z" class="c90 a22"/><path d="M1065 302l1 1 8 14 0 1z" class="c31 a16"/><path d="M1207 321l3 1 8 1-3-1z" class="c27 a16"/><path d="M1178 316l3-1 8 1-2 0z" class="c29 a16"/><path d="M911 303l5 0 9 0-6-3z" class="c33 a16"/><path d="M1176 317l2-1 9 0-2 1z" class="c29 a16"/><path d="M1084 313l2-2 9 16-3 2z" class="c27 a16"/><path d="M1090 296l2-1 3-3 8 5-3 3-1 1z" class="c35 a16"/><path d="M1149 332l2-1 9-4-2-1z" class="c25 a15"/><path d="M1235 325l3 1 9 3-3 0z" class="c25 a16"/><path d="M1124 278l1 0 9 7-2 0z" class="c40 a17"/><path d="M1092 329l3-2 8 15-2 2z" class="c22 a15"/><path d="M1057 322l6-2 8 23-5-2z" class="c24 a15"/><path d="M1046 163l5-10 8 45-4 5z" class="c74 a20"/><path d="M1047 149l2 11 9 8-2-8z" class="c81 a21"/><path d="M1123 309l4-1 9 24-4 0z" class="c27 a16"/><path d="M1027 146l1-9 9 16-2 8z" class="c84 a21"/><path d="M1132 285l2 0 8 23-1 0z" class="c36 a16"/><path d="M937 303l5-1 9 13-6 0z" class="c31 a16"/><path d="M1095 292l9 5-1 0z" class="c36 a16"/><path d="M1086 311l3-2 8 16-2 2z" class="c28 a16"/><path d="M1020 297l6-5 8-13-5 8z" class="c38 a17"/><path d="M1095 327l2-2 9 15-3 2z" class="c23 a15"/><path d="M1205 321l2 0 8 1-2-1z" class="c28 a16"/><path d="M1008 298l6 2 9-10-6-1z" class="c36 a16"/><path d="M1146 332l3 0 9-6-3-1z" class="c25 a15"/><path d="M1122 310l1-1 9 23-1 0z" class="c28 a16"/><path d="M1035 161l2-8 8 16-1 6z" class="c80 a21"/><path d="M1262 332l5-1 9 3-6 0z" class="c24 a15"/><path d="M1095 292l3-2 8 5-2 2z" class="c37 a16"/><path d="M1060 298l5 4 9 16-5 1z" class="c31 a16"/><path d="M1122 310l9 22-1-1z" class="c28 a16"/><path d="M1060 338l6 3 8 20-6-8z" class="c18 a15"/><path d="M1120 310l2 0 8 21-1 0z" class="c28 a16"/><path d="M1089 309l3-2 8 15-3 3z" class="c29 a16"/><path d="M951 315l6-1 8 12-6 1z" class="c27 a16"/><path d="M1097 325l3-3 9 16-3 2z" class="c24 a15"/><path d="M1146 332l9-7-1 0z" class="c25 a16"/><path d="M1204 320l1 1 8 0-1 0z" class="c28 a16"/><path d="M1119 311l1-1 9 21-1 0z" class="c28 a16"/><path d="M1051 153l1 0 9 46-2-1z" class="c76 a20"/><path d="M1038 135l0 3 9 11 0-2z" class="c87 a21"/><path d="M1129 284l3 1 9 23-3 0z" class="c36 a16"/><path d="M1120 277l1 0 3 1 8 7-3-1 0-1z" class="c41 a17"/><path d="M1230 324l3 1 2 0 9 4-2 0-1 0-3 0z" class="c26 a16"/><path d="M1261 332l1 0 8 2z" class="c24 a15"/><path d="M957 314l11-7 9 9-12 10z" class="c29 a16"/><path d="M1092 307l2-2 8 16-2 1z" class="c30 a16"/><path d="M1100 322l2-1 9 15-2 2z" class="c25 a15"/><path d="M1118 312l1-1 9 20-2 0z" class="c28 a16"/><path d="M1098 290l2-3 9 5-3 3z" class="c38 a17"/><path d="M1143 332l3 0 8-7-2-1z" class="c25 a16"/><path d="M1117 312l1 0 8 19z" class="c28 a16"/><path d="M1080 366l6-6 8-11-5 5z" class="c16 a15"/><path d="M1051 323l6-1 9 19-6-3z" class="c24 a15"/><path d="M1202 320l2 0 8 1-1 0z" class="c28 a16"/><path d="M905 304l6-1 8-3-6-3z" class="c34 a16"/><path d="M1115 313l2-1 9 19-3 0z" class="c28 a16"/><path d="M1102 321l4-3 9 16-4 2z" class="c26 a16"/><path d="M1129 283l0 1 9 24-1 0z" class="c37 a16"/><path d="M1094 305l4-3 8 16-4 3z" class="c31 a16"/><path d="M1052 278l5 9 8 15-5-4z" class="c38 a17"/><path d="M1100 287l2-1 1-1 9 5-2 1-1 1z" class="c39 a17"/><path d="M1257 331l4 1 9 2-5 0z" class="c25 a15"/><path d="M945 315l6 0 8 12-5 0z" class="c28 a16"/><path d="M1106 318l1-1 9 16-1 1z" class="c27 a16"/><path d="M1074 361l6 5 9-12-6 0z" class="c15 a15"/><path d="M1141 332l2 0 9-8-3 0z" class="c26 a16"/><path d="M1112 314l3-1 8 18-2-1z" class="c28 a16"/><path d="M1201 319l1 1 9 1-1-1z" class="c29 a16"/><path d="M1098 302l1-1 8 16-1 1z" class="c32 a16"/><path d="M925 303l12 0 8 12-11 0z" class="c32 a16"/><path d="M1107 317l2-1 8 16-1 1z" class="c27 a16"/><path d="M1126 283l3 0 8 25-2-1z" class="c37 a17"/><path d="M1099 301l1-1 9 16-2 1z" class="c32 a16"/><path d="M1112 314l9 16-1 0z" class="c28 a16"/><path d="M1109 316l3-2 8 16-3 2z" class="c28 a16"/><path d="M1026 292l6-6 8-15-6 8z" class="c41 a17"/><path d="M1103 285l2-1 0-1 1-1 9 5-1 1-1 0-1 2z" class="c40 a17"/><path d="M1115 277l3 0 2 0 9 6-3 0-2-1z" class="c42 a17"/><path d="M1141 333l0-1 8-8z" class="c26 a16"/><path d="M1037 281l6 1 9-4-6-12z" class="c43 a17"/><path d="M1100 300l3-3 9 17-3 2z" class="c33 a16"/><path d="M1200 319l1 0 9 1-2 0z" class="c29 a16"/><path d="M1037 153l0-3 9 17-1 2z" class="c82 a21"/><path d="M1003 296l5 2 9-9-6-2z" class="c38 a17"/><path d="M1224 323l4 1 2 0 8 5-1 0-5-1z" class="c27 a16"/><path d="M1103 297l1 0 8 17z" class="c34 a16"/><path d="M1256 331l1 0 8 3-1 0z" class="c25 a15"/><path d="M1054 293l6 5 9 21-6 1z" class="c33 a16"/><path d="M1086 360l5-5 8-11-5 5z" class="c18 a15"/><path d="M1028 137l0-3 9 16 0 3z" class="c88 a22"/><path d="M1104 297l2-2 9 18-3 1z" class="c34 a16"/><path d="M1200 319l8 1z" class="c29 a16"/><path d="M968 307l12-7 8 5-11 11z" class="c33 a16"/><path d="M1138 332l3 1 8-9-3-1z" class="c26 a16"/><path d="M1106 282l4-3 9 5-4 3z" class="c41 a17"/><path d="M1124 282l2 1 9 24-3 0z" class="c37 a17"/><path d="M1106 295l3-3 8 20-2 1z" class="c35 a16"/><path d="M1047 147l0 2 9 11-1-1z" class="c84 a21"/><path d="M1198 318l2 1 8 1-1-1z" class="c30 a16"/><path d="M1109 292l9 20-1 0z" class="c35 a16"/><path d="M1046 325l5-2 9 15-6-3z" class="c25 a16"/><path d="M1109 292l1-1 9 20-1 1z" class="c35 a16"/><path d="M1253 331l3 0 8 3-3-1z" class="c25 a16"/><path d="M1110 291l2-1 8 20-1 1z" class="c36 a16"/><path d="M1112 278l3-1 9 5-1 0-2 0z" class="c43 a17"/><path d="M1110 279l2-1 9 4-2 2z" class="c42 a17"/><path d="M1112 290l1-2 9 22-2 0z" class="c36 a16"/><path d="M1123 282l1 0 8 25z" class="c38 a17"/><path d="M1113 288l1 0 8 22z" class="c36 a16"/><path d="M1091 355l1-1 8-11-1 1z" class="c19 a15"/><path d="M1136 332l2 0 8-9-2 0z" class="c27 a16"/><path d="M1114 288l1-1 8 22-1 1z" class="c36 a16"/><path d="M1037 306l6-5 8 22-5 2z" class="c31 a16"/><path d="M1115 287l4-3 8 24-4 1z" class="c37 a17"/><path d="M1031 308l6-2 9 19-6 1z" class="c30 a16"/><path d="M1043 301l6-5 8 26-6 1z" class="c32 a16"/><path d="M1121 282l2 0 9 25-3 0z" class="c38 a17"/><path d="M934 315l11 0 9 12-12 0z" class="c28 a16"/><path d="M1252 330l1 1 8 2-1 0z" class="c26 a16"/><path d="M893 305l12-1 8-7-11-2z" class="c35 a16"/><path d="M1119 284l2-2 8 25-2 1z" class="c38 a17"/><path d="M1049 296l5-3 9 27-6 2z" class="c33 a16"/><path d="M1032 286l5-5 9-15-6 5z" class="c44 a17"/><path d="M1037 150l1-5 8 18 0 4z" class="c84 a21"/><path d="M1195 317l3 1 9 1-4-1z" class="c30 a16"/><path d="M1276 334l11 0 9 7-12 0z" class="c24 a15"/><path d="M1218 323l5 0 1 0 8 5-5 0z" class="c28 a16"/><path d="M1092 354l4-5 8-10-4 4z" class="c21 a15"/><path d="M1250 330l2 0 8 3-2 0z" class="c26 a16"/><path d="M1026 308l5 0 9 18-6 2z" class="c30 a16"/><path d="M1132 332l4 0 8-9-4-1z" class="c27 a16"/><path d="M980 300l11-3 9-6-12 14z" class="c37 a16"/><path d="M991 297l12-1 8-9-11 4z" class="c38 a17"/><path d="M919 300l6 3 9 12-6-2z" class="c33 a16"/><path d="M1028 134l1-6 9 17-1 5z" class="c90 a22"/><path d="M1054 335l6 3 8 15-5-8z" class="c22 a15"/><path d="M1040 326l6-1 8 10-6-2z" class="c26 a16"/><path d="M1068 353l6 8 9-7-6 0z" class="c18 a15"/><path d="M1247 329l3 1 8 3-3 0z" class="c26 a16"/><path d="M1035 121l3 14 9 12-3-10z" class="c91 a22"/><path d="M1023 290l6-3 8 19-6 2z" class="c37 a17"/><path d="M1131 332l1 0 8-10-1 0z" class="c28 a16"/><path d="M1020 308l6 0 8 20-6 2z" class="c30 a16"/><path d="M1192 317l3 0 8 1-2-1z" class="c31 a16"/><path d="M1130 331l1 1 8-10z" class="c28 a16"/><path d="M1096 349l5-5 8-9-5 4z" class="c23 a15"/><path d="M1129 331l1 0 9-9-1 0z" class="c28 a16"/><path d="M1034 328l6-2 8 7-5 1z" class="c27 a16"/><path d="M1017 289l6 1 8 18-5 0z" class="c37 a17"/><path d="M1213 321l2 1 3 1 9 5-3-1-2 0z" class="c29 a16"/><path d="M1169 328l1 0 8-2 0 1z" class="c28 a16"/><path d="M1044 137l3 10 8 12-3-6z" class="c87 a21"/><path d="M1029 287l5-8 9 22-6 5z" class="c39 a17"/><path d="M1128 331l1 0 9-9-2-1z" class="c28 a16"/><path d="M928 313l6 2 8 12-6-1z" class="c30 a16"/><path d="M1170 328l5-4 8-1-5 3z" class="c29 a16"/><path d="M1270 334l6 0 8 7-5-1z" class="c25 a15"/><path d="M1190 316l2 1 9 0-3-1z" class="c32 a16"/><path d="M1101 344l2-2 9-9-3 2z" class="c24 a15"/><path d="M959 327l6-1 9-3-6 1z" class="c28 a16"/><path d="M965 326l12-10 8 3-11 4z" class="c30 a16"/><path d="M1241 329l1 0 2 0 3 0 8 4-2 0-3 0z" class="c27 a16"/><path d="M882 306l11-1 9-10-12 2z" class="c36 a16"/><path d="M1126 331l2 0 8-10-1 0z" class="c29 a16"/><path d="M1175 324l5-3 8 0-5 2z" class="c30 a16"/><path d="M1008 311l12-3 8 22-11 0z" class="c30 a16"/><path d="M1165 328l4 0 9-1-5-2z" class="c28 a16"/><path d="M1103 342l3-2 8-9-2 2z" class="c25 a15"/><path d="M1046 266l6 12 8 20-6-5z" class="c43 a17"/><path d="M1126 331l9-10-1 0z" class="c29 a16"/><path d="M1189 316l1 0 8 0z" class="c32 a16"/><path d="M1180 321l1-1 8 0-1 1z" class="c31 a16"/><path d="M1270 334l9 6-1 0z" class="c25 a16"/><path d="M1181 320l3-2 8 0-3 2z" class="c31 a16"/><path d="M1017 330l11 0 6-2 9 6-6 2-12 2z" class="c26 a16"/><path d="M1187 316l2 0 9 0-3 1z" class="c32 a16"/><path d="M954 327l5 0 9-3-6 2z" class="c28 a16"/><path d="M913 297l6 3 9 13-6-1z" class="c35 a16"/><path d="M1106 340l3-2 8-10-3 3z" class="c26 a16"/><path d="M1184 318l1-1 8 1-1 0z" class="c32 a16"/><path d="M859 313l11-4 9-5-12 10z" class="c33 a16"/><path d="M1038 145l4-10 9 18-5 10z" class="c88 a21"/><path d="M1123 331l3 0 8-10-2 0z" class="c29 a16"/><path d="M1185 317l2-1 8 1-2 1z" class="c32 a16"/><path d="M977 316l11-11 9 10-12 4z" class="c33 a16"/><path d="M870 309l12-3 8-9-11 7z" class="c36 a16"/><path d="M1109 338l2-2 8-9-2 1z" class="c27 a16"/><path d="M1210 320l1 1 1 0 1 0 9 6-1 0-2 0-1-1z" class="c30 a16"/><path d="M1011 287l6 2 9 19-6 0z" class="c38 a17"/><path d="M1034 279l6-8 9 25-6 5z" class="c42 a17"/><path d="M1232 328l5 1 1 0 3 0 9 4-3 0-2 0-4 0z" class="c28 a16"/><path d="M1111 336l4-2 8-10-4 3z" class="c28 a16"/><path d="M1121 330l2 1 9-10-3 0z" class="c29 a16"/><path d="M1029 128l4-11 9 18-4 10z" class="c94 a22"/><path d="M922 312l6 1 8 13-5 0z" class="c31 a16"/><path d="M1261 333l3 1 1 0 5 0 8 6-4 0-1 0-3 0z" class="c26 a16"/><path d="M1115 334l1-1 8-10-1 1z" class="c29 a16"/><path d="M1048 333l6 2 9 10-6-5z" class="c25 a15"/><path d="M1120 330l1 0 8-9z" class="c30 a16"/><path d="M1063 345l5 8 9 1-6-1z" class="c21 a15"/><path d="M1116 333l1-1 9-10-2 1z" class="c29 a16"/><path d="M942 327l12 0 8-1-11 4z" class="c28 a16"/><path d="M1117 332l3-2 9-9-3 1z" class="c29 a16"/><path d="M1160 327l5 1 8-3-5-3z" class="c30 a16"/><path d="M988 305l12-14 8 20-11 4z" class="c36 a16"/><path d="M1284 341l12 0 8 6-11 0z" class="c24 a15"/><path d="M1042 135l2 2 8 16-1 0z" class="c90 a22"/><path d="M1207 319l1 1 2 0 8 6-1 0-2 0z" class="c31 a16"/><path d="M1000 291l11-4 9 21-12 3z" class="c38 a17"/><path d="M997 315l11-4 9 19-12-4z" class="c31 a16"/><path d="M1040 271l6-5 8 27-5 3z" class="c44 a17"/><path d="M1033 117l2 4 9 16-2-2z" class="c95 a22"/><path d="M936 326l6 1 9 3-6 1z" class="c29 a16"/><path d="M1253 333l2 0 3 0 2 0 1 0 9 7-1 0-2 0-3 0-3 0z" class="c27 a16"/><path d="M1224 327l3 1 5 0 9 5-1 0-5 0-3 0z" class="c29 a16"/><path d="M902 295l11 2 9 15-12-2z" class="c37 a17"/><path d="M1158 326l2 1 8-5-2-2z" class="c31 a16"/><path d="M1201 317l2 1 4 1 8 7-3-1-3 0z" class="c32 a16"/><path d="M1005 326l12 4 8 8-11-1z" class="c28 a16"/><path d="M1279 340l5 1 9 6-6 0z" class="c25 a15"/><path d="M910 310l12 2 9 14-12-2z" class="c33 a16"/><path d="M931 326l5 0 9 5-6 2z" class="c29 a16"/><path d="M1025 338l12-2 6-2 5-1 9 7-6 1-6 1-11 3z" class="c26 a16"/><path d="M1155 325l3 1 8-6-3-2z" class="c32 a16"/><path d="M1057 340l6 5 8 8-6 0z" class="c23 a15"/><path d="M1278 340l1 0 8 7z" class="c25 a16"/><path d="M985 319l12-4 8 11-11-4z" class="c32 a16"/><path d="M1154 325l1 0 8-7z" class="c33 a16"/><path d="M1245 333l2 0 3 0 3 0 8 7-2 0-1 0-3 0-1 0z" class="c28 a16"/><path d="M1218 326l1 1 2 0 1 0 2 0 8 6-2 0-1 0-1 0-1 0z" class="c30 a16"/><path d="M1188 321l1-1 3-2 1 0 2-1 3-1 3 1 8 8-2 0 0-1-3 1-2 0-1 1-3 1-1 0z" class="c33 a16"/><path d="M1152 324l2 1 9-7-3-1z" class="c33 a16"/><path d="M1270 340l3 0 1 0 4 0 9 7-5 0-1 0-3 0z" class="c26 a16"/><path d="M1183 323l5-2 9 6-5 2z" class="c32 a16"/><path d="M919 324l12 2 8 7-11 1z" class="c30 a16"/><path d="M1178 327l0-1 5-3 9 6-5 1-1 0z" class="c31 a16"/><path d="M890 297l12-2 8 15-11 0z" class="c39 a17"/><path d="M1051 341l6-1 8 13-5 0z" class="c24 a15"/><path d="M1212 325l3 1 2 0 1 0 9 7-2 0-1 0-4 0z" class="c31 a16"/><path d="M867 314l12-10 8 10-11 5z" class="c36 a16"/><path d="M1014 337l11 1 9 7-12 4z" class="c26 a16"/><path d="M1149 324l3 0 8-7-2-2z" class="c34 a16"/><path d="M1173 325l5 2 8 3-4 0z" class="c31 a16"/><path d="M1071 353l6 1 9 0-6 7z" class="c22 a15"/><path d="M1235 333l5 0 1 0 4 0 9 7-4 0-1 0-5 0z" class="c29 a16"/><path d="M1065 353l6 0 9 8-6 4z" class="c21 a15"/><path d="M1077 354l6 0 8-6-5 6z" class="c23 a15"/><path d="M899 310l11 0 9 14-12-1z" class="c35 a16"/><path d="M1045 342l6-1 9 12-6 1z" class="c25 a15"/><path d="M879 304l11-7 9 13-12 4z" class="c38 a17"/><path d="M974 323l11-4 9 3-12-3z" class="c34 a16"/><path d="M1083 354l6 0 8-13-6 7z" class="c24 a15"/><path d="M1261 340l3 0 3 0 2 0 1 0 8 7-1 0-2 0-3-1-2 0z" class="c27 a16"/><path d="M1149 324l9-9z" class="c35 a16"/><path d="M994 322l11 4 9 11-12 0z" class="c30 a16"/><path d="M1060 353l5 0 9 12-6 1z" class="c21 a15"/><path d="M1089 354l5-5 9-12-6 4z" class="c26 a16"/><path d="M1146 323l3 1 9-9-3-1z" class="c35 a16"/><path d="M1034 345l11-3 9 12-12 2z" class="c25 a15"/><path d="M968 324l6-1 8-4-6 3z" class="c34 a16"/><path d="M1168 322l5 3 9 5-5-1z" class="c33 a16"/><path d="M1002 337l12 0 8 12-11 2z" class="c27 a16"/><path d="M962 326l6-2 8-2-5 3z" class="c33 a16"/><path d="M1204 325l3-1 0 1 2 0 3 0 8 8-2 0-3 0-3 0z" class="c32 a16"/><path d="M951 330l11-4 9-1-12 7z" class="c32 a16"/><path d="M945 331l6-1 8 2-6 4z" class="c30 a16"/><path d="M1054 354l6-1 8 13-6 0z" class="c21 a15"/><path d="M1144 323l2 0 9-9-2-1z" class="c36 a16"/><path d="M1094 349l5-5 9-11-5 4z" class="c28 a16"/><path d="M907 323l12 1 9 10-12-2z" class="c32 a16"/><path d="M928 334l11-1 6-2 8 5-5 4-12 3z" class="c29 a16"/><path d="M1022 349l12-4 8 11-11 4z" class="c24 a15"/><path d="M887 314l12-4 8 13-11 0z" class="c35 a16"/><path d="M1099 344l1-1 9-10-1 0z" class="c29 a16"/><path d="M1224 333l1 0 2 0 1 0 1 0 1 0 2 0 3 0 9 7-3 0-2 0-1 0-1 0-2 0-1 0-2 0z" class="c30 a16"/><path d="M1250 340l4 0 1 0 3 0 1 0 2 0 9 6-3 0-3 0-2 0-4 0z" class="c28 a16"/><path d="M1140 322l4 1 9-10-4 0z" class="c36 a16"/><path d="M1100 343l4-4 9-9-4 3z" class="c30 a16"/><path d="M1166 320l2 2 9 7-2 0z" class="c34 a16"/><path d="M1192 329l5-2 1 0 3-1 1-1 2 0 8 8-2 0-1 0-3 0-1 0-5 1z" class="c33 a16"/><path d="M1042 356l12-2 8 12-11 1z" class="c22 a15"/><path d="M1139 322l1 0 9-9-1-1z" class="c37 a16"/><path d="M1011 351l11-2 9 11-12 1z" class="c24 a15"/><path d="M876 319l11-5 9 9-12 1z" class="c35 a16"/><path d="M1104 339l5-4 9-9-5 4z" class="c32 a16"/><path d="M1139 322l9-10z" class="c37 a17"/><path d="M1138 322l1 0 9-10-2 0z" class="c37 a17"/><path d="M982 319l12 3 8 15-11-2z" class="c33 a16"/><path d="M1163 318l3 2 9 9-3-1z" class="c35 a16"/><path d="M991 335l11 2 9 14-12 1z" class="c28 a16"/><path d="M1062 366l6 0 6-1 6-4 8 7-5 3-6 0-6 0z" class="c20 a15"/><path d="M1109 335l3-2 8-9-2 2z" class="c33 a16"/><path d="M1136 321l2 1 8-10-1 0z" class="c37 a17"/><path d="M1080 361l6-7 8 9-6 5z" class="c22 a15"/><path d="M1186 330l1 0 5-1 8 5-5 0z" class="c32 a16"/><path d="M1031 360l11-4 9 11-12 3z" class="c22 a15"/><path d="M1112 333l2-2 9-10-3 3z" class="c34 a16"/><path d="M1163 318l9 10z" class="c35 a16"/><path d="M1135 321l1 0 9-9-2 0z" class="c38 a17"/><path d="M916 332l12 2 8 9-11-1z" class="c30 a16"/><path d="M1212 333l3 0 3 0 2 0 4 0 8 7-3 1-3 0-2 0-3 0z" class="c31 a16"/><path d="M1134 321l1 0 8-9z" class="c38 a17"/><path d="M1241 340l3 0 5 0 1 0 8 6-1 0-5 0-3 1z" class="c29 a16"/><path d="M1114 331l3-3 9-9-3 2z" class="c35 a16"/><path d="M896 323l11 0 9 9-12-3z" class="c34 a16"/><path d="M1160 317l3 1 9 10-3 0z" class="c36 a16"/><path d="M1132 321l2 0 9-9-3-1z" class="c38 a17"/><path d="M999 352l12-1 8 10-11 1z" class="c24 a15"/><path d="M1117 328l2-1 9-10-2 2z" class="c36 a16"/><path d="M1086 354l5-6 9 11-6 4z" class="c25 a15"/><path d="M1119 327l4-3 9-10-4 3z" class="c37 a17"/><path d="M976 322l6-3 9 16-6 1z" class="c34 a16"/><path d="M1019 361l12-1 8 10-11 1z" class="c22 a15"/><path d="M1129 321l3 0 8-10-2 0z" class="c38 a17"/><path d="M985 336l6-1 8 17-5-2z" class="c29 a16"/><path d="M1172 328l3 1 2 0 5 1 4 0 9 4-5 1-5 1-2 1-3 1z" class="c33 a16"/><path d="M1123 324l1-1 9-10-1 1z" class="c38 a17"/><path d="M1158 315l2 2 9 11-2-1z" class="c37 a16"/><path d="M971 325l5-3 9 14-6 1z" class="c34 a16"/><path d="M1129 321l9-10-1 0z" class="c39 a17"/><path d="M1124 323l2-1 9-10-2 1z" class="c38 a17"/><path d="M1126 322l3-1 8-10-2 1z" class="c39 a17"/><path d="M1200 334l5-1 1 0 3 0 1 0 2 0 9 8-2 1-1 0-3 0-1 0-5 1z" class="c32 a16"/><path d="M1051 367l11-1 9 5-12 0z" class="c21 a15"/><path d="M959 332l12-7 8 12-11 1z" class="c33 a16"/><path d="M1158 315l9 12-1 0z" class="c37 a17"/><path d="M953 336l6-4 9 6-6 2z" class="c32 a16"/><path d="M948 340l5-4 9 4-6 1z" class="c31 a16"/><path d="M1091 348l6-7 9 13-6 5z" class="c27 a16"/><path d="M994 350l5 2 9 10-6-1z" class="c25 a15"/><path d="M1155 314l3 1 8 12-3 0z" class="c38 a17"/><path d="M1172 328l8 10z" class="c34 a16"/><path d="M979 337l6-1 9 14-6-2z" class="c30 a16"/><path d="M936 343l12-3 8 1-11 2z" class="c30 a16"/><path d="M1169 328l3 0 8 10-2 1z" class="c34 a16"/><path d="M1008 362l11-1 9 10-12 1z" class="c22 a15"/><path d="M1088 368l6-5 9 9-6 3z" class="c21 a15"/><path d="M1097 341l6-4 8 13-5 4z" class="c29 a16"/><path d="M1153 313l2 1 8 13-1 0z" class="c38 a17"/><path d="M1077 371l6 0 5-3 9 7-6 2-6-1z" class="c20 a15"/><path d="M1167 327l2 1 9 11-3 0z" class="c34 a16"/><path d="M1195 334l5 0 9 9-5 1z" class="c32 a16"/><path d="M884 324l12-1 8 6-11-4z" class="c36 a16"/><path d="M1203 344l1 0 5-1 5-1 1 0 3 0 1 0 2-1 3 0 2 0 3 0 3-1 2 0 1 0 2 0 1 0 1 0 2 0 8 7-2 0-2 0-1 1-2 0-1 0-4 1-2 0-3 1-3 0-2 1-1 0-3 0-1 0-5 1-5 1z" class="c30 a16"/><path d="M1094 363l6-4 8 10-5 3z" class="c23 a15"/><path d="M1166 327l1 0 8 12z" class="c34 a16"/><path d="M1103 337l5-4 8 14-5 3z" class="c31 a16"/><path d="M1195 334l9 10-1 0z" class="c32 a16"/><path d="M1163 327l3 0 9 12-3 1z" class="c34 a16"/><path d="M1149 313l4 0 9 14-4 0z" class="c38 a17"/><path d="M904 329l12 3 9 10-12-7z" class="c33 a16"/><path d="M1039 370l12-3 8 4-11-1z" class="c22 a15"/><path d="M1108 333l1 0 8 13-1 1z" class="c32 a16"/><path d="M1100 359l6-5 8 12-6 3z" class="c24 a15"/><path d="M1190 335l5-1 8 10-4 1z" class="c32 a16"/><path d="M1162 327l1 0 9 13-2 1z" class="c34 a16"/><path d="M1109 333l4-3 8 13-4 3z" class="c33 a16"/><path d="M988 348l6 2 8 11-6-1z" class="c27 a16"/><path d="M1148 312l1 1 9 14-1 1z" class="c39 a17"/><path d="M1158 327l4 0 8 14-4 1z" class="c34 a16"/><path d="M1106 354l5-4 9 13-6 3z" class="c26 a16"/><path d="M1185 336l5-1 9 10-5 1z" class="c32 a16"/><path d="M1148 312l9 16-1 0z" class="c39 a17"/><path d="M925 342l11 1 9 0-12 1z" class="c31 a16"/><path d="M1002 361l6 1 8 10-5 0z" class="c23 a15"/><path d="M1157 328l1-1 8 15-1 1z" class="c34 a16"/><path d="M1156 328l1 0 8 15z" class="c34 a16"/><path d="M1146 312l2 0 8 16-1 0z" class="c39 a17"/><path d="M1113 330l5-4 8 14-5 3z" class="c34 a16"/><path d="M1111 350l5-3 9 13-5 3z" class="c27 a16"/><path d="M1183 337l2-1 9 10-2 1z" class="c32 a16"/><path d="M1155 328l1 0 9 15-2 0z" class="c34 a16"/><path d="M968 338l11-1 9 11-12-3z" class="c31 a16"/><path d="M1180 338l3-1 9 10-3 1z" class="c32 a16"/><path d="M1116 347l1-1 9 14-1 0z" class="c28 a16"/><path d="M1153 328l2 0 8 15-1 1z" class="c34 a16"/><path d="M1071 371l6 0 8 5-5 0z" class="c21 a15"/><path d="M1145 312l1 0 9 16-2 0z" class="c39 a17"/><path d="M1180 338l9 10z" class="c32 a16"/><path d="M1152 328l1 0 9 16-2 1z" class="c34 a16"/><path d="M1117 346l4-3 9 14-4 3z" class="c28 a16"/><path d="M1118 326l2-2 9 15-3 1z" class="c35 a16"/><path d="M1178 339l2-1 9 10-3 1z" class="c31 a16"/><path d="M1152 328l8 17z" class="c34 a16"/><path d="M1149 328l3 0 8 17-3 1z" class="c34 a16"/><path d="M1175 339l3 0 8 10-2 1z" class="c31 a16"/><path d="M1143 312l2 0 8 16-1 0z" class="c39 a17"/><path d="M1121 343l5-3 9 15-5 2z" class="c30 a16"/><path d="M1120 324l3-3 8 16-2 2z" class="c36 a16"/><path d="M1175 339l9 11-1 0z" class="c31 a16"/><path d="M1143 312l9 16z" class="c39 a17"/><path d="M1172 340l3-1 8 11-3 1z" class="c31 a16"/><path d="M1146 329l3-1 8 18-2 1z" class="c34 a16"/><path d="M1126 340l3-1 8 15-2 1z" class="c30 a16"/><path d="M1129 339l2-2 9 15-3 2z" class="c31 a16"/><path d="M1170 341l2-1 8 11-1 0z" class="c31 a16"/><path d="M1131 337l3-2 9 16-3 1z" class="c31 a16"/><path d="M1146 329l9 18z" class="c34 a16"/><path d="M1134 335l2-1 9 16-2 1z" class="c32 a16"/><path d="M1123 321l3-2 8 16-3 2z" class="c37 a16"/><path d="M1136 334l4-2 9 17-4 1z" class="c32 a16"/><path d="M1143 330l3-1 9 18-3 1z" class="c33 a16"/><path d="M1028 371l11-1 9 0-12 1z" class="c22 a15"/><path d="M1140 332l1-1 9 17-1 1z" class="c33 a16"/><path d="M1166 342l4-1 9 10-4 2z" class="c31 a16"/><path d="M1141 331l2-1 9 18-2 0z" class="c33 a16"/><path d="M1140 311l3 1 9 16-3 0z" class="c40 a17"/><path d="M1165 343l1-1 9 11-1 0z" class="c30 a16"/><path d="M1165 343l9 10-1 0z" class="c30 a16"/><path d="M996 360l6 1 9 11-6 1z" class="c24 a15"/><path d="M1163 343l2 0 8 10-1 1z" class="c30 a16"/><path d="M1126 319l2-2 8 17-2 1z" class="c37 a17"/><path d="M1162 344l1-1 9 11-2 0z" class="c30 a16"/><path d="M1160 345l2-1 8 10-1 1z" class="c30 a16"/><path d="M1160 345l9 10z" class="c30 a16"/><path d="M1157 346l3-1 9 10-3 1z" class="c30 a16"/><path d="M1155 347l2-1 9 10-2 1z" class="c29 a16"/><path d="M1128 317l4-3 8 18-4 2z" class="c38 a17"/><path d="M1155 347l9 10-1 0z" class="c29 a16"/><path d="M1138 311l2 0 9 17-3 1z" class="c40 a17"/><path d="M1152 348l3-1 8 10-3 1z" class="c29 a16"/><path d="M1132 314l1-1 8 18-1 1z" class="c39 a17"/><path d="M1150 348l2 0 8 10-1 0z" class="c29 a16"/><path d="M1199 345l4-1 9 9-5 2z" class="c30 a16"/><path d="M1137 311l1 0 8 18z" class="c40 a17"/><path d="M1065 398l12 0 8 23-11 3z" class="c10 a14"/><path d="M1133 313l2-1 8 18-2 1z" class="c39 a17"/><path d="M1135 312l2-1 9 18-3 1z" class="c40 a17"/><path d="M962 340l6-2 8 7-6-2z" class="c32 a16"/><path d="M976 345l12 3 8 12-11-1z" class="c29 a16"/><path d="M1077 398l11-6 9 15-12 14z" class="c12 a14"/><path d="M1059 371l12 0 9 5-12-2z" class="c22 a15"/><path d="M1194 346l5-1 8 10-5 1z" class="c30 a16"/><path d="M1140 352l3-1 2-1 4-1 1-1 9 10-2 0-3 1-2 0-3 0z" class="c29 a16"/><path d="M1192 347l2-1 8 10-2 1z" class="c30 a16"/><path d="M1189 348l3-1 8 10-2 1z" class="c30 a16"/><path d="M1189 348l9 10-1 0z" class="c29 a16"/><path d="M1186 349l3-1 8 10-2 1z" class="c29 a16"/><path d="M1184 350l2-1 9 10-3 1z" class="c29 a16"/><path d="M1085 376l6 1 9 4-6 5z" class="c20 a15"/><path d="M1183 350l1 0 8 10z" class="c29 a16"/><path d="M1016 372l12-1 8 0-11 0z" class="c23 a15"/><path d="M1180 351l3-1 9 10-3 1z" class="c29 a16"/><path d="M1080 376l5 0 9 10-6 6z" class="c20 a15"/><path d="M1135 355l2-1 3-2 9 7-3 1-2 0z" class="c28 a16"/><path d="M1091 377l6-2 8-1-5 7z" class="c21 a15"/><path d="M956 341l6-1 8 3-5-1z" class="c33 a16"/><path d="M985 359l11 1 9 13-12 0z" class="c25 a15"/><path d="M1179 351l1 0 9 10-2 1z" class="c29 a16"/><path d="M913 335l12 7 8 2-11-2z" class="c33 a16"/><path d="M1175 353l4-2 8 11-4 1z" class="c28 a16"/><path d="M1174 353l1 0 8 10-1 1z" class="c28 a16"/><path d="M1173 353l1 0 8 11z" class="c28 a16"/><path d="M1172 354l1-1 9 11-2 0z" class="c28 a16"/><path d="M1170 354l2 0 8 10-1 1z" class="c28 a16"/><path d="M1130 357l5-2 9 5-6-1z" class="c28 a16"/><path d="M1169 355l1-1 9 11-2 0z" class="c28 a16"/><path d="M1169 355l8 10z" class="c28 a16"/><path d="M1166 356l3-1 8 10-3 1z" class="c27 a16"/><path d="M1164 357l2-1 8 10-2 1z" class="c27 a16"/><path d="M1068 374l12 2 8 16-11 6z" class="c19 a15"/><path d="M1163 357l1 0 8 10 0 1z" class="c27 a16"/><path d="M893 325l11 4 9 6-12-9z" class="c38 a17"/><path d="M1097 375l6-3 8-5-6 7z" class="c24 a15"/><path d="M1160 358l3-1 9 11-3 0z" class="c27 a16"/><path d="M1088 392l6-6 8 11-5 10z" class="c16 a15"/><path d="M1126 360l4-3 8 2-4-2z" class="c28 a16"/><path d="M1159 358l1 0 9 10-2-1z" class="c27 a16"/><path d="M970 343l6 2 9 14-6 0z" class="c30 a16"/><path d="M945 343l11-2 9 1-12 1z" class="c33 a16"/><path d="M1125 360l1 0 8-3-1 0z" class="c28 a16"/><path d="M1011 372l5 0 9-1-6 0z" class="c24 a15"/><path d="M1054 395l11 3 9 26-12-4z" class="c11 a14"/><path d="M1157 358l2 0 8 9-1 0z" class="c27 a16"/><path d="M979 359l6 0 8 14-5 1z" class="c26 a16"/><path d="M1048 370l11 1 9 3-12-3z" class="c24 a15"/><path d="M1103 372l5-3 9-10-6 8z" class="c26 a16"/><path d="M1120 363l5-3 8-3-5-2z" class="c29 a16"/><path d="M1005 373l6-1 8-1-6-1z" class="c25 a15"/><path d="M1114 366l6-3 8-8-5-2z" class="c29 a16"/><path d="M1056 371l12 3 9 24-12 0z" class="c20 a15"/><path d="M965 342l5 1 9 16-6-1z" class="c31 a16"/><path d="M1108 369l6-3 9-13-6 6z" class="c28 a16"/><path d="M973 358l6 1 9 15-6 0z" class="c26 a16"/><path d="M1146 360l3-1 3 0 2 0 3-1 9 9-4 0-2-1-3 0-3 0z" class="c28 a16"/><path d="M933 344l12-1 8 0-11 3z" class="c34 a16"/><path d="M1094 386l6-5 8 5-6 11z" class="c20 a15"/><path d="M962 360l11-2 9 16-12 3z" class="c27 a16"/><path d="M1144 360l2 0 8 6-2-1z" class="c29 a16"/><path d="M993 373l12 0 8-3-11 0z" class="c25 a16"/><path d="M953 343l12-1 8 16-11 2z" class="c32 a16"/><path d="M1036 371l12-1 8 1-11-1z" class="c26 a16"/><path d="M901 326l12 9 9 7-12-3z" class="c37 a17"/><path d="M922 342l11 2 9 2-12 3z" class="c34 a16"/><path d="M950 363l12-3 8 17-11 4z" class="c26 a16"/><path d="M927 373l12-5 8 19-11 7z" class="c23 a15"/><path d="M1138 359l6 1 8 5-5-4z" class="c30 a16"/><path d="M939 368l11-5 9 18-12 6z" class="c25 a15"/><path d="M1045 370l11 1 9 27-11-3z" class="c22 a15"/><path d="M1042 391l12 4 8 25-11-8z" class="c15 a15"/><path d="M1100 381l5-7 9 0-6 12z" class="c24 a15"/><path d="M988 374l5-1 9-3-6 2z" class="c26 a16"/><path d="M942 346l11-3 9 17-12 3z" class="c32 a16"/><path d="M982 374l6 0 8-2-6 2z" class="c26 a16"/><path d="M930 349l12-3 8 17-11 5z" class="c31 a16"/><path d="M1025 371l11 0 9-1-12 0z" class="c27 a16"/><path d="M910 339l12 3 8 7-11 3z" class="c35 a16"/><path d="M970 377l12-3 8 0-11 4z" class="c25 a16"/><path d="M919 352l11-3 9 19-12 5z" class="c30 a16"/><path d="M1134 357l4 2 9 2-4-6z" class="c32 a16"/><path d="M959 381l11-4 9 1-12 5z" class="c24 a15"/><path d="M947 387l12-6 8 2-11-1z" class="c24 a15"/><path d="M1019 371l6 0 8-1-5-1z" class="c28 a16"/><path d="M1105 374l6-7 9-6-6 13z" class="c29 a16"/><path d="M1033 370l12 0 9 25-12-4z" class="c25 a15"/><path d="M1133 357l1 0 9-2-1-1z" class="c34 a16"/><path d="M936 394l11-7 9-5-12-2z" class="c23 a15"/><path d="M1036 386l6 5 9 21-6-8z" class="c20 a15"/><path d="M1013 370l6 1 9-2-6-1z" class="c29 a16"/><path d="M1128 355l5 2 9-3-5-7z" class="c35 a16"/><path d="M1028 369l5 1 9 21-6-5z" class="c27 a16"/><path d="M1111 367l6-8 8-10-5 12z" class="c34 a16"/><path d="M1002 370l11 0 9-2-12-1z" class="c31 a16"/><path d="M984 407l12-5 8 23-11 4z" class="c15 a15"/><path d="M996 372l6-2 8-3-5 3z" class="c31 a16"/><path d="M990 374l6-2 9-2-6 3z" class="c30 a16"/><path d="M996 402l11-10 9 19-12 14z" class="c18 a15"/><path d="M979 378l11-4 9-1-12 6z" class="c29 a16"/><path d="M1123 353l5 2 9-8-6-7z" class="c38 a17"/><path d="M1030 382l6 4 9 18-6-8z" class="c24 a15"/><path d="M967 383l12-5 8 1-11 5z" class="c27 a16"/><path d="M1022 368l6 1 8 17-6-4z" class="c29 a16"/><path d="M973 403l11 4 9 22-12-1z" class="c16 a15"/><path d="M1117 359l6-6 8-13-6 9z" class="c38 a17"/><path d="M976 384l11-5 9 23-12 5z" class="c24 a15"/><path d="M956 382l11 1 9 1-12-6z" class="c28 a16"/><path d="M987 379l12-6 8 19-11 10z" class="c27 a16"/><path d="M1007 392l6-7 9 14-6 12z" class="c24 a15"/><path d="M1010 367l12 1 8 14-11-5z" class="c32 a16"/><path d="M999 373l6-3 8 15-6 7z" class="c29 a16"/><path d="M964 378l12 6 8 23-11-4z" class="c25 a16"/><path d="M1005 370l5-3 9 10-6 8z" class="c32 a16"/><path d="M961 396l12 7 8 25-11-3z" class="c19 a15"/><path d="M1019 377l11 5 9 14-12-8z" class="c28 a16"/><path d="M1013 385l6-8 8 11-5 11z" class="c28 a16"/><path d="M944 380l12 2 8-4-11-11z" class="c32 a16"/><path d="M953 367l11 11 9 25-12-7z" class="c31 a16"/></g>
<polyline points="479.8,121.4 488.3,131.3 496.8,118.7 505.4,135.5 513.9,148.8 522.5,131.9 531.0,159.9 539.5,183.5 548.1,171.0 556.6,183.4 565.2,169.1" fill="none" stroke="#111" stroke-width="1.3" stroke-linejoin="round"/>
<line x1="399.5" y1="407.6" x2="399.5" y2="300.2" stroke="#9a9a9a" stroke-width="1.3"/>
<line x1="396.6" y1="406.1" x2="399.5" y2="407.6" stroke="#555" stroke-width="0.9"/>
<line x1="396.6" y1="380.1" x2="399.5" y2="381.6" stroke="#555" stroke-width="0.9"/>
<line x1="396.6" y1="354.1" x2="399.5" y2="355.6" stroke="#555" stroke-width="0.9"/>
<line x1="396.6" y1="328.1" x2="399.5" y2="329.6" stroke="#555" stroke-width="0.9"/>
<line x1="396.6" y1="302.1" x2="399.5" y2="303.6" stroke="#555" stroke-width="0.9"/>
<line x1="399.5" y1="407.6" x2="484.9" y2="471.7" stroke="#3a3a3a" stroke-width="1"/>
<line x1="484.9" y1="471.7" x2="652.1" y2="440.7" stroke="#3a3a3a" stroke-width="1"/>
<line x1="399.5" y1="407.6" x2="395.6" y2="408.3" stroke="#555" stroke-width="0.9"/>
<line x1="442.2" y1="439.7" x2="438.3" y2="440.4" stroke="#555" stroke-width="0.9"/>
<line x1="484.9" y1="471.7" x2="481.0" y2="472.4" stroke="#555" stroke-width="0.9"/>
<line x1="484.9" y1="471.7" x2="481.7" y2="469.3" stroke="#555" stroke-width="0.9"/>
<line x1="568.5" y1="456.2" x2="565.3" y2="453.8" stroke="#555" stroke-width="0.9"/>
<line x1="652.1" y1="440.7" x2="648.9" y2="438.3" stroke="#555" stroke-width="0.9"/>
<g shape-rendering="crispEdges" transform="matrix(.5 0 0 .5 .13 .13)"><path d="M1128 856l6 6 9 14-7-8z" class="c6 a15"/><path d="M1134 862l1-7 8 8 0 13z" class="c6 a15"/><path d="M1193 839l2-2 8 25-2 3z" class="c7 a14"/><path d="M1201 865l2-3 9-14-2 1z" class="c7 a14"/><path d="M1126 847l0 1 9 7-1 7z" class="c8 a14"/><path d="M1119 843l7 4 8 15-6-6z" class="c9 a14"/><path d="M1193 831l0 8 8 26 0-14z" class="c9 a14"/><path d="M1195 837l6-8 9 22-7 11z" class="c10 a14"/><path d="M1201 851l0 14 9-16 0-7z" class="c10 a14"/><path d="M1126 848l1 0 8 0 0 7z" class="c10 a14"/><path d="M1124 827l7 2 8 27-6-4z" class="c10 a14"/><path d="M1203 862l7-11 8-11-6 8z" class="c10 a14"/><path d="M1121 847l7 9 8 12-6-8z" class="c10 a15"/><path d="M1131 829l6-5 9 21-7 11z" class="c11 a14"/><path d="M1136 868l7 8 9-20-7-6z" class="c10 a15"/><path d="M1143 876l0-13 9-14 0 7z" class="c11 a15"/><path d="M1135 855l0-7 9 1-1 14z" class="c11 a15"/><path d="M1122 826l2 1 9 25-2-1z" class="c11 a14"/><path d="M1127 848l8-6 0 6z" class="c11 a14"/><path d="M971 853l1 5 9-27-1-2z" class="c12 a14"/><path d="M1122 826l9 25 0-1z" class="c12 a14"/><path d="M1122 826l9 24-1 0z" class="c12 a14"/><path d="M1121 826l1 0 8 24z" class="c12 a14"/><path d="M1121 826l9 24z" class="c12 a14"/><path d="M1121 826l9 24-1 0z" class="c12 a14"/><path d="M1120 826l1 0 8 24 0-1z" class="c12 a14"/><path d="M1120 825l0 1 9 23z" class="c12 a14"/><path d="M1120 825l9 24-1 0z" class="c13 a14"/><path d="M1119 825l1 0 8 24z" class="c13 a14"/><path d="M1119 825l9 24z" class="c13 a14"/><path d="M1127 848l9-13-1 7z" class="c13 a14"/><path d="M1119 824l0 1 9 24-1-1z" class="c13 a14"/><path d="M1113 835l6 8 9 13-7-9z" class="c13 a14"/><path d="M1118 824l1 0 8 24z" class="c13 a14"/><path d="M1118 824l9 24z" class="c13 a14"/><path d="M972 858l1-13 9-22-1 8z" class="c13 a14"/><path d="M1118 824l9 24-1 0z" class="c13 a14"/><path d="M1117 823l1 1 8 24 0-1z" class="c14 a14"/><path d="M1201 829l7-7 9 17-7 12z" class="c14 a14"/><path d="M1137 824l7-6 9 16-7 11z" class="c14 a14"/><path d="M1210 851l7-12 8-7-7 8z" class="c14 a14"/><path d="M1192 824l1 7 8 20 0-14z" class="c14 a14"/><path d="M1127 848l1 1 8-21 0 7z" class="c14 a14"/><path d="M1130 860l6 8 9-18-7-6z" class="c14 a15"/><path d="M1114 839l7 8 9 13-7-8z" class="c15 a15"/><path d="M1111 819l6 4 9 24-7-4z" class="c15 a14"/><path d="M1201 837l0 14 9-9-1-7z" class="c15 a14"/><path d="M970 838l1 15 9-24-2-10z" class="c16 a14"/><path d="M1143 863l1-14 8-7 0 7z" class="c16 a15"/><path d="M1128 849l8-27 0 6z" class="c16 a14"/><path d="M1135 848l0-6 9-7 0 14z" class="c16 a15"/><path d="M1184 812l2-1 9 26-2 2z" class="c17 a14"/><path d="M1208 822l3-4 9 15-3 6z" class="c17 a14"/><path d="M1009 870l0 1 9 60 0-2z" class="c15 a14"/><path d="M963 793l0 2 9 63-1-5z" class="c17 a14"/><path d="M1009 871l1-2 8 59 0 3z" class="c15 a14"/><path d="M1184 812l9 27 0-8z" class="c17 a14"/><path d="M1144 818l7-5 8 10-6 11z" class="c18 a14"/><path d="M1217 839l3-6 8-4-3 3z" class="c17 a14"/><path d="M1128 849l9-34-1 7z" class="c18 a14"/><path d="M1106 827l7 8 8 12-7-8z" class="c18 a14"/><path d="M1009 869l0 1 9 59-1-2z" class="c16 a14"/><path d="M1186 811l7-3 8 21-6 8z" class="c18 a14"/><path d="M1111 836l3 3 9 13-3-3z" class="c18 a15"/><path d="M1210 849l2-1 8-15-1 0z" class="c18 a14"/><path d="M973 845l1-14 9-16-1 8z" class="c18 a14"/><path d="M1010 869l0-2 9 57-1 4z" class="c17 a14"/><path d="M1008 868l1 1 8 58 0-2z" class="c17 a14"/><path d="M963 795l2-7 8 57-1 13z" class="c19 a14"/><path d="M1104 812l7 7 8 24-6-8z" class="c19 a14"/><path d="M1123 852l7 8 8-16-7-6z" class="c18 a15"/><path d="M1211 818l4-4 8 13-3 6z" class="c19 a14"/><path d="M1122 802l7 1 8 21-6 5z" class="c19 a15"/><path d="M1184 812l9 19-1-7z" class="c19 a14"/><path d="M1128 849l1 0 8-41 0 7z" class="c19 a14"/><path d="M1210 842l0 7 9-16-1 0z" class="c19 a14"/><path d="M1115 802l7 0 9 27-7-2z" class="c20 a15"/><path d="M1151 813l4-2 9 10-5 2z" class="c20 a14"/><path d="M1008 866l0 2 9 57 0-2z" class="c18 a14"/><path d="M1220 833l3-6 9-2-4 4z" class="c20 a14"/><path d="M1212 848l6-8 9-10-7 3z" class="c19 a14"/><path d="M1129 803l7 0 8 15-7 6z" class="c20 a15"/><path d="M1193 808l6-3 9 17-7 7z" class="c20 a14"/><path d="M1192 817l0 7 9 13-1-15z" class="c20 a14"/><path d="M1079 846l7-13 8 1-6 4z" class="c20 a13"/><path d="M1155 811l5-2 8 10-4 2z" class="c20 a14"/><path d="M1108 832l3 4 9 13-4-3z" class="c20 a14"/><path d="M1114 802l1 0 9 25-2-1z" class="c20 a15"/><path d="M1010 867l1-2 8 54 0 5z" class="c18 a14"/><path d="M1113 802l1 0 8 24z" class="c21 a15"/><path d="M1136 803l6 0 9 10-7 5z" class="c21 a15"/><path d="M1113 802l9 24z" class="c21 a15"/><path d="M1113 802l9 24-1 0z" class="c21 a15"/><path d="M1160 809l4-2 9 10-5 2z" class="c21 a14"/><path d="M1200 822l1 15 8-2 0-7z" class="c20 a14"/><path d="M1112 802l1 0 8 24z" class="c21 a15"/><path d="M1112 802l9 24z" class="c21 a15"/><path d="M1215 814l6-3 9 11-7 5z" class="c21 a14"/><path d="M909 822l1-11 9-58-1 5z" class="c21 a14"/><path d="M1112 802l9 24-1 0z" class="c21 a15"/><path d="M1183 812l1 0 8 12 0-7z" class="c21 a14"/><path d="M1075 835l4 11 9-8-5-7z" class="c20 a13"/><path d="M1129 849l8-48 0 7z" class="c21 a14"/><path d="M1111 801l1 1 8 24 0-1z" class="c21 a15"/><path d="M1142 803l5-2 8 10-4 2z" class="c21 a15"/><path d="M844 804l2 1 8-81-2 2z" class="c22 a14"/><path d="M1164 807l4-1 8 9-3 2z" class="c21 a14"/><path d="M1111 801l9 24z" class="c21 a15"/><path d="M1144 849l0-14 9 1-1 6z" class="c21 a15"/><path d="M961 785l2 8 8 60-1-15z" class="c21 a14"/><path d="M1209 835l1 7 8-9z" class="c21 a14"/><path d="M841 802l3 2 8-78-2 1z" class="c22 a14"/><path d="M1111 801l9 24-1 0z" class="c21 a15"/><path d="M1135 842l1-7 8-13 0 13z" class="c21 a15"/><path d="M1199 805l4-1 8 14-3 4z" class="c21 a14"/><path d="M1102 823l4 4 8 12-3-3z" class="c21 a14"/><path d="M839 801l2 1 9-75-2 2z" class="c23 a14"/><path d="M908 808l1 14 9-64-1-7z" class="c22 a14"/><path d="M1110 801l1 0 8 24z" class="c22 a15"/><path d="M1223 827l7-5 8-1-6 4z" class="c21 a14"/><path d="M1168 806l3-2 8 10-3 1z" class="c22 a14"/><path d="M837 800l2 1 9-72-2 1z" class="c23 a14"/><path d="M836 798l1 2 9-70-2 2z" class="c23 a14"/><path d="M1147 801l4-2 9 10-5 2z" class="c22 a14"/><path d="M1110 800l0 1 9 24 0-1z" class="c22 a15"/><path d="M1120 849l3 3 8-14-3-1z" class="c21 a15"/><path d="M831 795l5 3 8-66-5 5z" class="c23 a14"/><path d="M1110 800l9 24-1 0z" class="c22 a15"/><path d="M826 792l5 3 8-58-5 5z" class="c23 a14"/><path d="M968 824l2 14 8-19-1-9z" class="c22 a14"/><path d="M1011 865l0-2 8 52 0 4z" class="c20 a14"/><path d="M822 790l4 2 8-50-3 3z" class="c23 a14"/><path d="M1218 840l7-8 9-6-7 4z" class="c21 a14"/><path d="M1109 800l1 0 8 24z" class="c22 a15"/><path d="M1171 804l1 0 0-1 1 0 1 0 1-1 1 0 8 10-1 0-1 1-1 0-1 0 0 1-1 0z" class="c22 a14"/><path d="M1104 829l4 3 8 14-3-2z" class="c21 a14"/><path d="M817 787l5 3 9-45-5 3z" class="c23 a14"/><path d="M1109 800l9 24z" class="c22 a15"/><path d="M1151 799l5-2 8 10-4 2z" class="c22 a14"/><path d="M1109 799l0 1 9 24-1-1z" class="c22 a15"/><path d="M1203 804l3-2 9 12-4 4z" class="c22 a14"/><path d="M1176 802l2-1 8 10-2 1z" class="c23 a14"/><path d="M812 784l5 3 9-39-5 4z" class="c23 a13"/><path d="M1129 849l0 1 9-55-1 6z" class="c22 a14"/><path d="M1156 797l3-1 9 10-4 1z" class="c23 a14"/><path d="M1183 812l9 5 0-7z" class="c23 a14"/><path d="M806 781l6 3 9-32-7 4z" class="c24 a13"/><path d="M1178 801l6-2 9 9-7 3z" class="c23 a14"/><path d="M1221 811l14-8 8 10-13 9z" class="c23 a14"/><path d="M1152 856l0-7 8-13 0-1z" class="c22 a15"/><path d="M1006 859l2 7 9 57-3-14z" class="c21 a14"/><path d="M1159 796l3-2 9 10-3 2z" class="c23 a14"/><path d="M1209 828l0 7 9-2-1 0z" class="c23 a14"/><path d="M1116 846l4 3 8-12-3-2z" class="c22 a15"/><path d="M799 777l7 4 8-25-6 5z" class="c24 a13"/><path d="M1162 794l1 0 8 10z" class="c23 a14"/><path d="M1101 831l3-2 9 15-3-3z" class="c23 a14"/><path d="M846 805l0-12 9-75-1 6z" class="c24 a14"/><path d="M1097 805l7 7 9 23-7-8z" class="c23 a14"/><path d="M1206 802l7-3 8 12-6 3z" class="c23 a14"/><path d="M901 735l1-5 8 81-1 11z" class="c24 a14"/><path d="M1011 863l0-2 9 50-1 4z" class="c21 a14"/><path d="M1086 833l6-12 9 10-7 3z" class="c23 a13"/><path d="M1230 822l13-9 9 2-14 6z" class="c23 a14"/><path d="M1163 794l1 0 0-1 1 0 1 0 1 0 0-1 2-1 9 10-2 1-1 0-1 1-1 0-1 0 0 1-1 0z" class="c24 a14"/><path d="M1225 832l3-3 9-4-3 1z" class="c23 a14"/><path d="M1184 799l7-3 8 9-6 3z" class="c24 a14"/><path d="M1099 819l3 4 9 13-3-4z" class="c23 a14"/><path d="M1145 850l7 6 8-21-7-3z" class="c23 a15"/><path d="M1134 788l4 0 9 13-5 2z" class="c24 a15"/><path d="M1138 788l5-1 8 12-4 2z" class="c24 a15"/><path d="M965 788l1-8 8 51-1 14z" class="c24 a14"/><path d="M900 728l1 7 8 87-1-14z" class="c25 a15"/><path d="M974 831l2-13 8-12-1 9z" class="c24 a14"/><path d="M1102 794l7 5 8 24-6-4z" class="c24 a15"/><path d="M1094 834l7-3 9 10-7-6z" class="c23 a14"/><path d="M1191 796l3-1 9 9-4 1z" class="c24 a14"/><path d="M1127 786l7 2 8 15-6 0z" class="c24 a15"/><path d="M1143 787l4-1 9 11-5 2z" class="c25 a15"/><path d="M1129 850l1 0 8-62 0 7z" class="c24 a14"/><path d="M1169 791l7-2 8 10-6 2z" class="c25 a14"/><path d="M1147 786l3-1 9 11-3 1z" class="c25 a15"/><path d="M1183 812l9-2-1-7z" class="c24 a14"/><path d="M1152 849l0-7 9-6-1 0z" class="c24 a15"/><path d="M1113 844l3 2 9-11-4-2z" class="c24 a15"/><path d="M1150 785l4 0 8 9-3 2z" class="c25 a14"/><path d="M1228 829l4-4 8-2-3 2z" class="c24 a14"/><path d="M1194 795l4-1 6-3 9 8-7 3-3 2z" class="c25 a14"/><path d="M1213 799l13-5 9 9-14 8z" class="c25 a14"/><path d="M1176 789l6-2 9 9-7 3z" class="c25 a14"/><path d="M1154 785l1-1 1 0 1 0 1 0 1 0 1-1 9 8-2 1 0 1-1 0-1 0-1 0 0 1-1 0-1 0z" class="c25 a14"/><path d="M910 811l1-12 9-51-1 5z" class="c25 a14"/><path d="M1209 821l0 7 8 5z" class="c24 a14"/><path d="M1011 861l1-2 8 47 0 5z" class="c23 a14"/><path d="M1088 838l6-4 9 1-7-5z" class="c24 a14"/><path d="M1192 810l0 7 8 5 0-14z" class="c25 a14"/><path d="M1120 784l7 2 9 17-7 0z" class="c26 a15"/><path d="M1071 803l6-4 9 34-7 13z" class="c25 a13"/><path d="M1232 825l6-4 9 0-7 2z" class="c25 a14"/><path d="M1182 787l4-1 3-1 7-2 8 8-6 3-4 1-3 1z" class="c26 a14"/><path d="M1160 783l7-2 7-2 3-1 9 8-4 1-6 2-7 2z" class="c26 a14"/><path d="M1235 803l13-7 9 8-14 9z" class="c26 a14"/><path d="M1130 850l8-69 0 7z" class="c25 a14"/><path d="M1096 814l3 5 9 13-4-3z" class="c25 a14"/><path d="M1087 704l6-1 14-2 13-3 13-2 9 6-13 2-14 3-13 2-7 2z" class="c28 a13"/><path d="M1148 775l1 0 1 0 2 0 7-2 8 8-7 2-1 1-1 0-1 0z" class="c26 a14"/><path d="M1110 841l3 3 8-11-3-1z" class="c25 a14"/><path d="M1115 707l14-3 13-2 8 6-13 3-13 2z" class="c28 a13"/><path d="M1080 706l3-1 4-1 8 7-3 0-4 1z" class="c28 a14"/><path d="M1073 707l7-1 8 6-6 1z" class="c28 a15"/><path d="M1067 708l6-1 9 6-7 1z" class="c28 a16"/><path d="M1064 709l1-1 2 0 8 6-2 1-1 0z" class="c28 a17"/><path d="M1056 710l4-1 1 0 1 0 1 0 1 0 8 6-1 0-1 0-1 1-1 0-3 0z" class="c28 a16"/><path d="M1146 775l1 0 1 0 9 9-1 0-1 0-1 1z" class="c27 a14"/><path d="M1092 821l4-7 8 15-3 2z" class="c25 a14"/><path d="M1204 791l14-5 8 8-13 5z" class="c26 a14"/><path d="M1200 808l0 14 9 6 0-7z" class="c26 a14"/><path d="M1092 711l3 0 7-2 13-2 9 6-14 3-6 1-4 1z" class="c28 a14"/><path d="M1070 823l5 12 8-4-4-8z" class="c25 a13"/><path d="M1152 842l1-6 8 0z" class="c25 a15"/><path d="M1145 775l1 0 8 10z" class="c27 a15"/><path d="M1243 813l14-9 8 4-13 7z" class="c26 a14"/><path d="M1088 712l4-1 8 7-3 0z" class="c28 a15"/><path d="M1082 713l6-1 9 6-7 2z" class="c28 a16"/><path d="M1075 714l7-1 8 7-6 1z" class="c28 a18"/><path d="M1070 715l1 0 1 0 1 0 2-1 9 7-2 0-1 0-1 0-1 1-1 0z" class="c28 a19"/><path d="M1144 835l0-13 9 7 0 7z" class="c25 a15"/><path d="M1065 716l3 0 1 0 1-1 8 7-1 0-3 1z" class="c28 a18"/><path d="M1182 813l1-1 8-9 0-7z" class="c26 a14"/><path d="M1142 775l3 0 9 10-4 0z" class="c27 a15"/><path d="M1137 711l13-3 9 6-13 3z" class="c29 a13"/><path d="M1110 716l14-3 13-2 9 6-14 2-13 3z" class="c28 a14"/><path d="M1177 778l4-1 6-2 9 8-7 2-3 1z" class="c27 a14"/><path d="M1136 835l0-7 9-20-1 14z" class="c26 a15"/><path d="M1097 718l3 0 4-1 6-1 9 6-7 1-3 1-3 0z" class="c28 a15"/><path d="M1090 720l7-2 9 6-7 2z" class="c28 a17"/><path d="M1084 721l6-1 9 6-7 1z" class="c28 a19"/><path d="M1143 768l7-2 7-2 8 8-6 1-7 2z" class="c27 a14"/><path d="M1159 773l6-1 4-1 3-1 9 7-4 1-3 1-7 2z" class="c27 a14"/><path d="M1079 722l1-1 1 0 1 0 2 0 8 6-2 0 0 1-1 0-1 0z" class="c28 a20"/><path d="M967 817l1 7 9-14-1-5z" class="c26 a14"/><path d="M1077 722l1 0 1 0 9 6-1 0-1 0-1 0z" class="c28 a19"/><path d="M1074 723l3-1 8 6-3 1z" class="c28 a18"/><path d="M1139 775l3 0 8 10-3 1z" class="c27 a15"/><path d="M1135 761l7-2 8 7-7 2z" class="c27 a15"/><path d="M1066 794l5 9 8 43-4-11z" class="c26 a13"/><path d="M1140 767l1 1 1 0 1 0 9 7-2 0-1 0-1 0z" class="c27 a15"/><path d="M1094 801l3 4 9 22-4-4z" class="c26 a14"/><path d="M1138 844l7 6 8-18-6-4z" class="c26 a14"/><path d="M1012 859l0-2 9 45-1 4z" class="c25 a14"/><path d="M1114 782l6 2 9 19-7-1z" class="c27 a15"/><path d="M1238 821l14-6 8 1-13 5z" class="c26 a14"/><path d="M1082 729l3-1 1 0 1 0 9 6-1 0 0 1-1 0-3 0z" class="c28 a18"/><path d="M1087 728l1 0 1 0 1 0 0-1 2 0 9 6-2 1-1 0-1 0-1 0z" class="c28 a19"/><path d="M1092 727l7-1 8 6-6 1z" class="c28 a18"/><path d="M1099 726l7-2 8 7-7 1z" class="c28 a16"/><path d="M1196 783l13-5 9 8-14 5z" class="c27 a14"/><path d="M1208 814l1 7 8 12z" class="c26 a14"/><path d="M1106 724l3 0 3-1 7-1 8 6-6 1-4 1-3 1z" class="c29 a15"/><path d="M1134 774l5 1 8 11-4 1z" class="c27 a15"/><path d="M1226 794l14-6 8 8-13 7z" class="c27 a13"/><path d="M1119 722l13-3 14-2 13-3 9 6-14 2-13 3-14 3z" class="c29 a14"/><path d="M907 795l1 13 9-57-2-8z" class="c27 a14"/><path d="M1157 764l3 0 3-1 9 7-3 1-4 1z" class="c28 a14"/><path d="M959 777l2 8 9 53-2-14z" class="c27 a14"/><path d="M1099 734l2-1 6-1 9 7-7 1-1 0z" class="c28 a17"/><path d="M1172 770l7-2 8 7-6 2z" class="c28 a14"/><path d="M1107 732l7-1 9 6-7 2z" class="c29 a16"/><path d="M1114 731l3-1 4-1 6-1 14-3 8 7-13 2-7 2-3 0-3 1z" class="c29 a15"/><path d="M1142 759l6-2 4 0 3-1 7-2 8 7-7 2-3 1-3 0-7 2z" class="c28 a15"/><path d="M1109 740l7-1 7-2 8 7-7 1-6 1z" class="c28 a15"/><path d="M1116 746l2 0 6-1 9 7-7 2-1-1z" class="c28 a15"/><path d="M1123 737l3-1 8 7-3 1z" class="c29 a15"/><path d="M1130 774l4 0 9 13-5 1z" class="c28 a15"/><path d="M1126 736l3 0 9 6-4 1z" class="c29 a14"/><path d="M1124 745l7-1 3-1 4-1 8 7-3 1-3 1-7 1z" class="c28 a14"/><path d="M1124 753l1 0 1 1 7-2 7-1 3-1 3-1 7-2 9 7-7 2-3 1-4 0-6 2-7 2-2-1-1 0z" class="c28 a15"/><path d="M1133 766l4 1 1 0 1 0 1 0 8 8-1 0-1 0-1 0-3 0z" class="c28 a15"/><path d="M1130 759l1 0 0 1 1 0 1 0 2 1 8 7-1 0-1 0-1-1-1 0-1 0z" class="c28 a15"/><path d="M1141 725l13-3 14-2 8 6-13 3-14 3z" class="c29 a14"/><path d="M1187 775l14-4 8 7-13 5z" class="c28 a14"/><path d="M1091 735l3 0 1 0 0-1 1 0 1 0 1 0 1 0 9 6-1 0-1 0-1-1-1 0-1 0-4 0z" class="c29 a17"/><path d="M1129 736l7-2 13-2 14-3 8 6-13 3-13 3-7 1z" class="c29 a15"/><path d="M1163 763l7-2 14-4 8 7-13 4-7 2z" class="c28 a15"/><path d="M1138 742l7-1 13-3 13-3 9 6-14 3-13 3-7 2z" class="c29 a15"/><path d="M1083 831l5 7 8-8-4-3z" class="c26 a14"/><path d="M1163 729l13-3 9 6-14 3z" class="c29 a14"/><path d="M1125 774l5 0 8 14-4 0z" class="c28 a15"/><path d="M1130 850l9-75-1 6z" class="c27 a14"/><path d="M902 730l1-6 8 75-1 12z" class="c28 a14"/><path d="M1179 768l13-4 9 7-14 4z" class="c28 a15"/><path d="M1095 789l7 5 9 25-7-7z" class="c27 a14"/><path d="M1218 786l13-5 9 7-14 6z" class="c28 a13"/><path d="M1153 747l13-3 14-3 8 6-13 3-13 4z" class="c29 a16"/><path d="M1171 735l14-3 8 6-13 3z" class="c29 a14"/><path d="M1104 739l1 0 1 1 1 0 1 0 1 0 9 6-2 0-1-1-1 0-1-1z" class="c29 a16"/><path d="M846 793l0-11 9-71 0 7z" class="c29 a14"/><path d="M1153 836l0-7 8 7z" class="c27 a15"/><path d="M1079 725l3 4 9 6-4-3z" class="c29 a17"/><path d="M1209 778l14-4 8 7-13 5z" class="c28 a14"/><path d="M1162 754l13-4 13-3 9 7-13 3-14 4z" class="c29 a16"/><path d="M1070 717l4 6 8 6-3-4z" class="c30 a18"/><path d="M1113 744l1 1 1 0 1 1 9 7-1 0-1-1-1 0z" class="c29 a15"/><path d="M1107 780l7 2 8 20-7 0z" class="c28 a15"/><path d="M980 829l1 2 8-28-1 2z" class="c27 a15"/><path d="M1125 757l3 1 1 1 1 0 8 8-1 0-4-1z" class="c29 a15"/><path d="M1120 751l1 0 0 1 1 0 1 0 1 1 8 7-1 0 0-1-1 0-1 0z" class="c29 a15"/><path d="M1201 771l13-4 9 7-14 4z" class="c29 a14"/><path d="M1182 813l9-17-1-7z" class="c28 a14"/><path d="M1062 709l3 7 9 7-4-6z" class="c30 a17"/><path d="M1192 764l13-4 9 7-13 4z" class="c29 a14"/><path d="M1252 815l13-7 9 4-14 4z" class="c28 a14"/><path d="M1184 757l13-3 8 6-13 4z" class="c29 a15"/><path d="M1103 835l7 6 8-9-7-4z" class="c27 a14"/><path d="M1130 765l3 1 9 9-3 0z" class="c29 a15"/><path d="M1012 857l1-3 8 44 0 4z" class="c26 a14"/><path d="M1180 741l13-3 9 6-14 3z" class="c30 a14"/><path d="M1103 739l1 0 9 5-1 0-1 0z" class="c30 a16"/><path d="M1053 700l3 10 9 6-3-7z" class="c31 a15"/><path d="M1087 732l4 3 8 4-3-3z" class="c30 a17"/><path d="M1188 747l14-3 8 6-13 4z" class="c30 a14"/><path d="M1248 796l14-8 8 7-13 9z" class="c29 a13"/><path d="M1208 806l0 8 9 19-1 0z" class="c28 a14"/><path d="M1118 770l7 4 9 14-7-2z" class="c29 a15"/><path d="M1111 744l1 0 1 0 9 8-1 0 0-1-1 0z" class="c30 a15"/><path d="M1105 780l2 0 8 22-1 0z" class="c29 a15"/><path d="M1004 851l2 8 8 50-2-14z" class="c26 a13"/><path d="M1197 754l13-4 9 6-14 4z" class="c30 a14"/><path d="M1205 760l14-4 8 7-13 4z" class="c30 a14"/><path d="M1240 788l13-6 9 6-14 8z" class="c29 a13"/><path d="M1126 764l4 1 9 10-5-1z" class="c29 a15"/><path d="M1219 833l1 0 9-11-2-1z" class="c28 a14"/><path d="M1257 804l13-9 9 6-14 7z" class="c29 a14"/><path d="M1105 779l0 1 9 22-1 0z" class="c29 a15"/><path d="M1116 750l4 1 9 8-1-1-3-1z" class="c30 a15"/><path d="M1091 798l3 3 8 22-3-4z" class="c28 a14"/><path d="M1077 799l7-3 8 25-6 12z" class="c28 a13"/><path d="M1214 767l13-4 9 6-13 5z" class="c30 a14"/><path d="M1105 779l8 23z" class="c29 a15"/><path d="M1223 774l13-5 8 7-13 5z" class="c29 a14"/><path d="M1218 833l1 0 8-12z" class="c28 a14"/><path d="M1231 781l13-5 9 6-13 6z" class="c29 a13"/><path d="M1099 739l4 0 8 5-3-2z" class="c30 a16"/><path d="M911 799l1-11 9-45-1 5z" class="c29 a14"/><path d="M1104 779l1 0 8 23z" class="c29 a15"/><path d="M1218 833l9-12-1 0z" class="c28 a14"/><path d="M1220 833l7-3 8-9-6 1z" class="c28 a14"/><path d="M1130 850l1 0 8-82 0 7z" class="c29 a14"/><path d="M1217 833l1 0 8-12z" class="c28 a14"/><path d="M1104 779l9 23-1 0z" class="c29 a15"/><path d="M1217 833l9-12z" class="c28 a14"/><path d="M1217 833l9-12-1 0z" class="c28 a14"/><path d="M1104 779l8 23z" class="c29 a15"/><path d="M966 780l1-7 9 45-2 13z" class="c29 a14"/><path d="M1216 833l1 0 8-12z" class="c28 a14"/><path d="M1216 834l0-1 9-12z" class="c28 a14"/><path d="M1216 834l9-13-1 0z" class="c28 a14"/><path d="M981 831l1-8 8-22-1 2z" class="c29 a15"/><path d="M1103 779l1 0 8 23z" class="c29 a15"/><path d="M1215 834l1 0 8-13z" class="c28 a14"/><path d="M1215 834l9-13z" class="c28 a14"/><path d="M1215 834l9-13-1 0z" class="c28 a14"/><path d="M976 818l1-13 8-7-1 8z" class="c29 a14"/><path d="M1121 756l4 1 8 9-3-1z" class="c30 a15"/><path d="M1214 834l1 0 8-13z" class="c28 a14"/><path d="M898 720l2 8 8 80-1-13z" class="c30 a15"/><path d="M1214 834l9-13-1 0z" class="c28 a14"/><path d="M1153 829l0-7 9 14-1 0z" class="c28 a15"/><path d="M1103 778l0 1 9 23-1-1z" class="c29 a15"/><path d="M1214 834l8-13z" class="c28 a14"/><path d="M1133 852l6 4 9-90-7-4z" class="c29 a14"/><path d="M1227 830l7-4 8-7-7 2z" class="c29 a14"/><path d="M1108 742l3 2 9 7-4-1z" class="c31 a15"/><path d="M966 810l1 7 9-12-1-5z" class="c29 a14"/><path d="M1121 763l5 1 8 10-4 0z" class="c30 a15"/><path d="M1103 778l8 23z" class="c30 a15"/><path d="M1210 834l4 0 8-13-3 0z" class="c29 a14"/><path d="M1265 808l14-7 8 7-13 4z" class="c29 a14"/><path d="M1131 838l7 6 9-16-7-3z" class="c29 a14"/><path d="M1139 856l7-11 8-83-6 4z" class="c29 a14"/><path d="M1102 778l1 0 8 23z" class="c30 a15"/><path d="M1013 854l0-2 8 41 0 5z" class="c28 a14"/><path d="M1234 826l3-1 9-6-4 0z" class="c29 a14"/><path d="M1182 813l8-24 0-7z" class="c30 a14"/><path d="M978 819l2 10 8-24-1-5z" class="c29 a15"/><path d="M1207 834l3 0 9-13-4 0z" class="c29 a14"/><path d="M1102 777l0 1 9 23-1 0z" class="c30 a15"/><path d="M1096 736l3 3 9 3-4-1z" class="c31 a15"/><path d="M1237 825l3-2 9-5-3 1z" class="c29 a14"/><path d="M1113 748l3 2 9 7-4-1z" class="c31 a15"/><path d="M1102 777l8 24 0-1z" class="c30 a15"/><path d="M1240 823l7-2 9-3-7 0z" class="c29 a14"/><path d="M1117 754l4 2 9 9-4-1z" class="c31 a15"/><path d="M1101 777l1 0 8 23z" class="c30 a15"/><path d="M1247 821l13-5 9 0-13 2z" class="c30 a14"/><path d="M1202 834l5 0 8-13-4-1z" class="c29 a14"/><path d="M1117 762l4 1 9 11-5 0z" class="c31 a15"/><path d="M1260 816l14-4 8 3-13 1z" class="c30 a14"/><path d="M1208 799l0 7 8 27 0 1z" class="c30 a14"/><path d="M1074 719l5 6 8 7-4-4z" class="c32 a17"/><path d="M1101 777l9 23-1 0z" class="c30 a15"/><path d="M1274 812l13-4 9 6-14 1z" class="c30 a14"/><path d="M1104 741l4 1 8 8-3-2z" class="c32 a15"/><path d="M1083 728l4 4 9 4-5-3z" class="c32 a17"/><path d="M1079 823l4 8 9-4-5-4z" class="c30 a14"/><path d="M1131 850l0 1 8-90 0 7z" class="c30 a14"/><path d="M1101 776l0 1 8 23z" class="c31 a15"/><path d="M1198 835l4-1 9-14-5 0z" class="c30 a14"/><path d="M1112 766l6 4 9 16-7-2z" class="c31 a15"/><path d="M1191 803l1 7 8-2 0-14z" class="c30 a14"/><path d="M1100 776l1 0 8 24 0-1z" class="c31 a15"/><path d="M1153 822l1-7 8 21z" class="c30 a15"/><path d="M1096 830l7 5 8-7-6-3z" class="c30 a14"/><path d="M1131 851l2 1 8-90-2-1z" class="c31 a14"/><path d="M1066 710l4 7 9 8-5-6z" class="c33 a17"/><path d="M1087 794l4 4 8 21-3-5z" class="c31 a13"/><path d="M1089 783l6 6 9 23-7-7z" class="c31 a14"/><path d="M959 773l0 4 9 47-1-7z" class="c31 a14"/><path d="M1193 835l5 0 8-15-4 0z" class="c30 a14"/><path d="M1108 746l5 2 8 8-4-2z" class="c32 a15"/><path d="M1066 812l4 11 9 0-5-7z" class="c30 a13"/><path d="M1144 822l1-14 8 14 0 7z" class="c30 a15"/><path d="M1113 753l4 1 9 10-5-1z" class="c32 a15"/><path d="M1013 852l0-2 9 39-1 4z" class="c29 a14"/><path d="M1084 796l3-2 9 20-4 7z" class="c31 a13"/><path d="M1187 835l6 0 9-15-7 1z" class="c30 a14"/><path d="M1136 828l0-6 9-28 0 14z" class="c31 a15"/><path d="M1091 733l5 3 8 5-4-2z" class="c33 a15"/><path d="M903 724l1-5 8 69-1 11z" class="c32 a14"/><path d="M1282 815l14-1 8 6-13-2z" class="c31 a14"/><path d="M1200 794l0 14 9 13-1-7z" class="c31 a14"/><path d="M1128 837l3 1 9-13-3-1z" class="c30 a14"/><path d="M1180 836l7-1 8-14-6 2z" class="c30 a14"/><path d="M1181 813l1 0 8-31 0-7z" class="c31 a14"/><path d="M1100 739l4 2 9 7-5-2z" class="c33 a15"/><path d="M1173 836l7 0 9-13-7 2z" class="c31 a14"/><path d="M965 807l1 3 9-10-1-2z" class="c31 a14"/><path d="M1167 837l6-1 9-11-7 1z" class="c31 a14"/><path d="M982 823l1-8 9-17-2 3z" class="c31 a15"/><path d="M1165 837l2 0 8-11-1 1z" class="c31 a14"/><path d="M1165 837l9-10-1 0z" class="c31 a14"/><path d="M1164 837l1 0 8-10z" class="c31 a14"/><path d="M1164 837l9-10z" class="c31 a14"/><path d="M1164 837l9-10-1 0z" class="c31 a14"/><path d="M1163 837l1 0 8-10z" class="c31 a14"/><path d="M1163 837l9-10z" class="c31 a14"/><path d="M1062 785l4 9 9 41-5-12z" class="c31 a13"/><path d="M1110 757l7 5 8 12-7-4z" class="c33 a15"/><path d="M1163 837l9-10-1 0z" class="c31 a14"/><path d="M1207 792l1 7 8 35z" class="c31 a14"/><path d="M846 782l1-12 8-65 0 6z" class="c33 a14"/><path d="M1057 698l5 11 8 8-4-7z" class="c34 a17"/><path d="M906 781l1 14 8-52-1-7z" class="c33 a14"/><path d="M1162 837l1 0 8-10 0-1z" class="c31 a14"/><path d="M1125 835l3 2 9-13-4 0z" class="c31 a14"/><path d="M1108 751l5 2 8 10-4-1z" class="c33 a15"/><path d="M1162 836l0 1 9-11z" class="c31 a14"/><path d="M1104 745l4 1 9 8-4-1z" class="c33 a15"/><path d="M1162 836l9-10-1 0z" class="c31 a14"/><path d="M1154 815l0-6 8 28 0-1z" class="c32 a15"/><path d="M1094 770l6 6 9 23-7-5z" class="c33 a15"/><path d="M1161 836l1 0 8-10z" class="c31 a14"/><path d="M1161 836l9-10 0-1z" class="c32 a14"/><path d="M1146 845l7-11 8-77-7 5z" class="c32 a14"/><path d="M1078 723l5 5 8 5-4-3z" class="c34 a17"/><path d="M1105 762l7 4 8 18-6-2z" class="c33 a15"/><path d="M1013 850l1-2 8 37 0 4z" class="c31 a14"/><path d="M1269 816l13-1 9 3-14-2z" class="c32 a14"/><path d="M1161 836l9-11-1 0z" class="c32 a14"/><path d="M912 788l1-12 9-38-1 5z" class="c33 a14"/><path d="M1095 737l5 2 8 7-4-1z" class="c34 a15"/><path d="M1160 836l1 0 8-11z" class="c32 a14"/><path d="M1087 730l4 3 9 6-5-2z" class="c34 a15"/><path d="M1160 835l0 1 9-11z" class="c32 a14"/><path d="M965 804l0 3 9-9-1-3z" class="c33 a14"/><path d="M1121 833l4 2 8-11-3-1z" class="c32 a14"/><path d="M1181 813l9-38-1-7z" class="c33 a14"/><path d="M1070 713l4 6 9 9-5-5z" class="c35 a17"/><path d="M977 810l1 9 9-19-2-4z" class="c33 a15"/><path d="M1092 827l4 3 9-5-5-5z" class="c32 a14"/><path d="M1074 816l5 7 8 0-4-4z" class="c33 a14"/><path d="M1100 743l4 2 9 8-5-2z" class="c35 a15"/><path d="M1049 687l4 13 9 9-5-11z" class="c36 a15"/><path d="M1085 780l4 3 8 22-3-4z" class="c34 a14"/><path d="M958 769l1 4 8 44-1-7z" class="c34 a14"/><path d="M1207 785l0 7 9 42-1 0z" class="c33 a14"/><path d="M1154 809l0-7 9 35-1 0z" class="c33 a15"/><path d="M967 773l1-8 9 40-1 13z" class="c34 a14"/><path d="M1118 832l3 1 9-10-3-1z" class="c33 a14"/><path d="M1001 843l3 8 8 44-2-15z" class="c32 a13"/><path d="M1256 818l13-2 8 0-13-1z" class="c33 a14"/><path d="M1091 735l4 2 9 8-4-2z" class="c35 a15"/><path d="M983 815l1-9 9-11-1 3z" class="c34 a15"/><path d="M977 805l1-14 9-1-2 8z" class="c34 a14"/><path d="M1153 832l7 3 9-10-7-5z" class="c33 a14"/><path d="M897 713l1 7 9 75-1-14z" class="c35 a15"/><path d="M1101 745l7 6 9 11-7-5z" class="c35 a15"/><path d="M1061 703l5 7 8 9-4-6z" class="c36 a17"/><path d="M1082 727l5 3 8 7-4-2z" class="c36 a15"/><path d="M964 800l1 4 8-9-1-3z" class="c34 a14"/><path d="M1103 752l7 5 8 13-6-4z" class="c35 a15"/><path d="M1098 758l7 4 9 20-7-2z" class="c35 a15"/><path d="M1180 813l1 0 8-45 0-8z" class="c35 a14"/><path d="M1074 719l4 4 9 7-5-3z" class="c37 a17"/><path d="M1249 818l7 0 8-3-7-1z" class="c34 a14"/><path d="M904 719l1-5 8 62-1 12z" class="c36 a14"/><path d="M1111 828l7 4 9-10-7-1z" class="c34 a14"/><path d="M1014 848l1-5 8 31-1 11z" class="c33 a14"/><path d="M1062 803l4 9 8 4-3-6z" class="c35 a14"/><path d="M1154 802l1-7 8 42z" class="c35 a15"/><path d="M1206 778l1 7 8 49z" class="c35 a14"/><path d="M1082 777l3 3 9 21-3-3z" class="c36 a14"/><path d="M1246 819l3-1 8-4-3-1z" class="c35 a14"/><path d="M957 768l1 1 8 41-1-3z" class="c36 a14"/><path d="M1087 823l5 4 8-7-4-4z" class="c35 a14"/><path d="M1191 796l0 7 9-9-1-15z" class="c36 a14"/><path d="M1087 763l7 7 8 24-7-5z" class="c36 a15"/><path d="M976 805l1 5 8-14-1-3z" class="c36 a15"/><path d="M1242 819l4 0 8-6-3 0z" class="c35 a14"/><path d="M1145 808l0-14 9 21-1 7z" class="c35 a15"/><path d="M1097 757l1 1 9 22-2 0z" class="c36 a15"/><path d="M1065 707l5 6 8 10-4-4z" class="c38 a17"/><path d="M1153 834l6-11 9-73-7 7z" class="c36 a14"/><path d="M1093 735l7 8 8 8-7-6z" class="c37 a15"/><path d="M1071 810l3 6 9 3-4-2z" class="c35 a14"/><path d="M1136 822l1-7 8-34 0 13z" class="c36 a15"/><path d="M963 797l1 3 8-8-1-3z" class="c36 a14"/><path d="M847 770l0-12 9-59-1 6z" class="c38 a14"/><path d="M913 776l1-9 9-33-1 4z" class="c37 a14"/><path d="M1096 757l1 0 8 23 0-1z" class="c37 a15"/><path d="M1096 757l9 22z" class="c37 a15"/><path d="M1235 821l7-2 9-6-7-2z" class="c36 a14"/><path d="M1180 814l0-1 9-53 0-7z" class="c37 a14"/><path d="M808 761l6-5 9-25-7 13z" class="c37 a14"/><path d="M1199 779l1 15 8 20 0-8z" class="c36 a14"/><path d="M1096 757l9 22-1 0z" class="c37 a15"/><path d="M1053 688l4 10 9 12-5-7z" class="c39 a17"/><path d="M1095 756l1 1 8 22z" class="c37 a15"/><path d="M1095 756l9 23z" class="c37 a15"/><path d="M984 806l1-8 9-6-1 3z" class="c36 a14"/><path d="M1095 756l9 23-1 0z" class="c37 a15"/><path d="M956 766l1 2 8 39 0-3z" class="c37 a14"/><path d="M1105 825l6 3 9-7-7-1z" class="c36 a14"/><path d="M1155 795l0-6 8 48z" class="c36 a15"/><path d="M1147 828l6 4 9-12-7-5z" class="c36 a14"/><path d="M1057 777l5 8 8 38-4-11z" class="c37 a13"/><path d="M1094 755l1 1 8 23 0-1z" class="c38 a15"/><path d="M1084 726l7 9 9 8-7-8z" class="c38 a15"/><path d="M1229 822l6-1 9-10-7-1z" class="c36 a14"/><path d="M904 768l2 13 8-45-1-8z" class="c38 a14"/><path d="M1206 771l0 7 9 56z" class="c37 a14"/><path d="M1094 755l9 23z" class="c38 a15"/><path d="M1079 774l3 3 9 21-4-4z" class="c37 a14"/><path d="M1097 747l6 5 9 14-7-4z" class="c38 a15"/><path d="M1094 755l9 23-1 0z" class="c38 a15"/><path d="M1227 821l2 1 8-12-1 0z" class="c37 a14"/><path d="M1093 754l1 1 8 23 0-1z" class="c38 a15"/><path d="M1095 739l6 6 9 12-7-5z" class="c39 a15"/><path d="M975 800l1 5 8-12-1-2z" class="c37 a15"/><path d="M1227 821l9-11-1 0z" class="c37 a14"/><path d="M1226 821l1 0 8-11 0-1z" class="c37 a14"/><path d="M1093 754l9 23z" class="c38 a15"/><path d="M1226 821l9-12z" class="c37 a14"/><path d="M1057 696l4 7 9 10-5-6z" class="c40 a17"/><path d="M1226 821l9-12-1 0z" class="c37 a14"/><path d="M1225 821l1 0 8-12z" class="c37 a14"/><path d="M962 793l1 4 8-8-1-3z" class="c38 a14"/><path d="M1076 717l6 10 9 8-7-9z" class="c40 a16"/><path d="M1093 754l9 23-1 0z" class="c39 a15"/><path d="M1225 821l9-12-1 0z" class="c37 a14"/><path d="M1225 821l8-12z" class="c37 a14"/><path d="M1083 819l4 4 9-7-5-5z" class="c37 a14"/><path d="M1224 821l1 0 8-12z" class="c37 a14"/><path d="M1180 814l9-61-1-7z" class="c38 a14"/><path d="M1224 821l9-12-1 0z" class="c38 a14"/><path d="M1092 753l1 1 8 23z" class="c39 a15"/><path d="M955 764l1 2 9 38-1-4z" class="c38 a14"/><path d="M1224 821l8-12z" class="c38 a14"/><path d="M1159 823l5-2 8-74-4 3z" class="c38 a14"/><path d="M1223 821l1 0 8-12z" class="c38 a14"/><path d="M1223 821l9-12-1 0z" class="c38 a14"/><path d="M1068 804l3 6 8 7-3-3z" class="c38 a14"/><path d="M1092 753l9 24 0-1z" class="c39 a15"/><path d="M1222 821l1 0 8-12z" class="c38 a14"/><path d="M1222 821l9-12z" class="c38 a14"/><path d="M1155 789l0-7 9 55-1 0z" class="c38 a15"/><path d="M1092 752l0 1 9 23-1 0z" class="c39 a15"/><path d="M1075 771l4 3 8 20-3 2z" class="c39 a14"/><path d="M1015 843l1-5 8 27-1 9z" class="c37 a14"/><path d="M1219 821l3 0 9-12-4-1z" class="c38 a14"/><path d="M905 714l1-4 8 57-1 9z" class="c40 a14"/><path d="M988 805l1-2 9-6-1 1z" class="c38 a14"/><path d="M968 765l1-7 9 33-1 14z" class="c39 a14"/><path d="M1000 837l1 6 9 37-2-10z" class="c37 a13"/><path d="M1067 707l7 12 8 8-6-10z" class="c41 a17"/><path d="M1164 821l4-2 9-74-5 2z" class="c39 a14"/><path d="M1206 763l0 8 9 63-1 0z" class="c39 a14"/><path d="M1059 795l3 8 9 7-3-6z" class="c39 a14"/><path d="M974 798l1 2 8-9 0-2z" class="c39 a15"/><path d="M1100 820l5 5 8-5-4-6z" class="c38 a14"/><path d="M1080 757l7 6 8 26-6-6z" class="c40 a14"/><path d="M985 798l2-8 8-1-1 3z" class="c39 a14"/><path d="M1215 821l4 0 8-13-3-1z" class="c39 a14"/><path d="M978 791l3-12 9 1-3 10z" class="c39 a14"/><path d="M896 705l1 8 9 68-2-13z" class="c41 a15"/><path d="M1168 819l5-2 8-74-4 2z" class="c40 a14"/><path d="M987 800l1 5 9-7-2-3z" class="c39 a15"/><path d="M914 767l1-10 9-28-1 5z" class="c40 a14"/><path d="M1069 766l6 5 9 25-7 3z" class="c40 a14"/><path d="M1140 825l7 3 8-13-6-5z" class="c39 a14"/><path d="M989 803l1-2 9-6-1 2z" class="c39 a14"/><path d="M961 790l1 3 8-7-1-4z" class="c40 a14"/><path d="M954 761l1 3 9 36-1-3z" class="c40 a14"/><path d="M1044 673l5 14 8 11-4-10z" class="c42 a15"/><path d="M1172 827l9-10-1 0z" class="c39 a14"/><path d="M1172 827l1 0 8-10z" class="c39 a14"/><path d="M1173 827l8-11 0 1z" class="c39 a14"/><path d="M1179 814l1 0 8-68 0-7z" class="c40 a14"/><path d="M1173 827l9-11-1 0z" class="c39 a14"/><path d="M1172 827l8-10z" class="c39 a14"/><path d="M1211 820l4 1 9-14-5-1z" class="c39 a14"/><path d="M1173 827l1 0 8-11z" class="c39 a14"/><path d="M814 756l7-4 8-33-6 12z" class="c41 a14"/><path d="M1174 827l1-1 9-10-2 0z" class="c39 a14"/><path d="M1086 728l7 7 8 10-6-6z" class="c41 a15"/><path d="M1173 817l3-2 9-74-4 2z" class="c40 a14"/><path d="M1171 827l1 0 8-10 0-1z" class="c39 a14"/><path d="M1155 782l1-7 8 62z" class="c40 a15"/><path d="M1090 742l7 5 8 15-7-4z" class="c41 a15"/><path d="M1079 817l4 2 8-8-3-3z" class="c39 a14"/><path d="M1175 826l7-1 9-12-7 3z" class="c39 a14"/><path d="M1171 826l0 1 9-11-1 0z" class="c39 a14"/><path d="M1059 698l6 9 9 12-7-12z" class="c42 a18"/><path d="M1171 826l8-10z" class="c39 a14"/><path d="M973 795l1 3 9-9-1-3z" class="c40 a15"/><path d="M1176 815l3-1 9-75-3 2z" class="c41 a14"/><path d="M1170 826l1 0 8-10 0-1z" class="c40 a14"/><path d="M847 758l0-12 9-53 0 6z" class="c42 a14"/><path d="M1206 820l5 0 8-14-4 0z" class="c40 a14"/><path d="M1182 825l7-2 8-13-6 3z" class="c40 a14"/><path d="M1085 745l7 7 8 24-6-6z" class="c41 a15"/><path d="M1205 756l1 7 8 71z" class="c40 a14"/><path d="M990 801l2-3 8-5-1 2z" class="c40 a14"/><path d="M1170 826l9-11-1 0z" class="c40 a14"/><path d="M1061 800l7 4 8 10-7-3z" class="c40 a14"/><path d="M1062 760l7 6 8 33-6 4z" class="c41 a14"/><path d="M1145 794l0-13 9 28 0 6z" class="c40 a15"/><path d="M1170 825l0 1 8-11z" class="c40 a14"/><path d="M1137 815l0-7 9-41-1 14z" class="c41 a15"/><path d="M1088 733l7 6 8 13-6-5z" class="c42 a15"/><path d="M1190 789l1 7 8-17 0-14z" class="c41 a14"/><path d="M1189 823l6-2 9-14-7 3z" class="c40 a14"/><path d="M1169 825l1 0 8-10 0-1z" class="c40 a14"/><path d="M1048 678l5 10 8 15-4-7z" class="c43 a17"/><path d="M953 759l1 2 9 36-1-4z" class="c41 a14"/><path d="M1169 825l9-11-1 0z" class="c40 a14"/><path d="M1202 820l4 0 9-14-4-1z" class="c41 a14"/><path d="M1137 824l3 1 9-15-4-2z" class="c41 a14"/><path d="M1169 825l8-11z" class="c40 a14"/><path d="M1195 821l7-1 9-15-7 2z" class="c41 a14"/><path d="M985 796l2 4 8-5-1-3z" class="c41 a15"/><path d="M1054 770l3 7 9 35-4-9z" class="c41 a14"/><path d="M959 785l2 5 8-8-1-4z" class="c42 a14"/><path d="M1078 717l6 9 9 9-7-7z" class="c43 a15"/><path d="M1199 765l0 14 9 27 0-7z" class="c42 a14"/><path d="M1156 775l0-7 8 69z" class="c41 a15"/><path d="M992 798l1-3 8-4-1 2z" class="c41 a14"/><path d="M1077 754l3 3 9 26-4-3z" class="c42 a14"/><path d="M972 792l1 3 9-9-1-2z" class="c42 a15"/><path d="M1088 741l2 1 8 16-1-1z" class="c43 a15"/><path d="M1016 838l0-4 9 22-1 9z" class="c40 a14"/><path d="M1076 814l3 3 9-9-3-4z" class="c41 a13"/><path d="M906 710l1-5 8 52-1 10z" class="c43 a14"/><path d="M1050 688l7 8 8 11-6-9z" class="c44 a17"/><path d="M1096 816l4 4 9-6-5-6z" class="c41 a14"/><path d="M1088 741l9 16-1 0z" class="c43 a15"/><path d="M1133 824l4 0 8-16-3-2z" class="c41 a14"/><path d="M903 754l1 14 9-40-1-7z" class="c43 a14"/><path d="M1052 789l7 6 9 9-7-4z" class="c42 a14"/><path d="M1205 749l0 7 9 78z" class="c42 a14"/><path d="M1088 741l8 16z" class="c43 a15"/><path d="M1087 740l1 1 8 16z" class="c43 a15"/><path d="M987 790l3-10 8 1-3 8z" class="c43 a14"/><path d="M952 757l1 2 9 34-1-3z" class="c43 a14"/><path d="M1087 740l9 17-1-1z" class="c44 a15"/><path d="M915 757l1-10 8-22 0 4z" class="c44 a14"/><path d="M993 795l1-3 8-3-1 2z" class="c43 a14"/><path d="M1087 740l8 16z" class="c44 a15"/><path d="M1001 811l9 58-1 2z" class="c41 a14"/><path d="M998 831l2 6 8 33-1-11z" class="c41 a13"/><path d="M1001 811l8 60 0-1z" class="c41 a14"/><path d="M821 752l5-4 8-39-5 10z" class="c44 a14"/><path d="M1086 739l1 1 8 16z" class="c44 a15"/><path d="M1162 820l7 5 8-11-7-6z" class="c42 a14"/><path d="M984 793l1 3 9-4-1-2z" class="c43 a15"/><path d="M1054 796l7 4 8 11-6-3z" class="c43 a14"/><path d="M1086 739l9 17-1-1z" class="c44 a15"/><path d="M1178 758l7-2 8 79-6 0z" class="c43 a14"/><path d="M1069 706l7 11 8 9-6-9z" class="c45 a16"/><path d="M1185 756l4-2 9 81-5 0z" class="c43 a14"/><path d="M1189 754l5-1 8 81-4 1z" class="c43 a14"/><path d="M1194 753l4-2 9 83-5 0z" class="c43 a14"/><path d="M1000 810l1 1 8 59 0-1z" class="c42 a14"/><path d="M1198 751l4-1 8 84-3 0z" class="c43 a14"/><path d="M1202 750l3-1 9 85-4 0z" class="c43 a14"/><path d="M1001 811l1 0 8 56 0 2z" class="c42 a14"/><path d="M1156 768l0-7 9 76-1 0z" class="c43 a15"/><path d="M1130 823l3 1 9-18-4-2z" class="c43 a14"/><path d="M1058 754l4 6 9 43-5-9z" class="c43 a14"/><path d="M971 789l1 3 9-8-1-3z" class="c43 a15"/><path d="M1086 739l8 16z" class="c44 a15"/><path d="M1074 752l3 2 8 26-3-3z" class="c44 a14"/><path d="M1085 739l1 0 8 16z" class="c44 a15"/><path d="M1172 757l6 1 9 77-7 1z" class="c43 a15"/><path d="M969 758l4-9 8 30-3 12z" class="c44 a14"/><path d="M1000 810l9 59-1-1z" class="c42 a14"/><path d="M1069 811l7 3 9-10-7-1z" class="c43 a13"/><path d="M1002 811l9 54-1 2z" class="c42 a14"/><path d="M1085 738l0 1 9 16-1-1z" class="c45 a15"/><path d="M958 780l1 5 9-7-1-4z" class="c44 a14"/><path d="M954 733l1-1 8 63 0-2z" class="c44 a14"/><path d="M1079 720l7 8 9 11-7-6z" class="c45 a15"/><path d="M994 792l1-3 9-2-2 2z" class="c44 a14"/><path d="M1085 738l8 16z" class="c45 a15"/><path d="M1000 810l8 58 0-2z" class="c43 a14"/><path d="M876 779l7-8 8 22-7 9z" class="c44 a15"/><path d="M983 791l1 2 9-3-1-2z" class="c44 a15"/><path d="M1084 738l1 0 8 16z" class="c45 a15"/><path d="M1002 811l9 52 0 2z" class="c43 a14"/><path d="M1081 726l7 7 9 14-7-5z" class="c45 a15"/><path d="M951 754l1 3 9 33-2-5z" class="c45 a14"/><path d="M1084 737l0 1 9 16-1-1z" class="c45 a15"/><path d="M1127 822l3 1 8-19-3-3z" class="c44 a14"/><path d="M1165 756l7 1 8 79-7 0z" class="c44 a15"/><path d="M1078 738l7 7 9 25-7-7z" class="c45 a15"/><path d="M981 779l4-13 8 3-3 11z" class="c45 a14"/><path d="M1084 737l8 16z" class="c45 a15"/><path d="M894 698l2 7 8 63-1-14z" class="c46 a15"/><path d="M1061 696l6 11 9 10-7-11z" class="c46 a18"/><path d="M1002 811l1 0 8 50 0 2z" class="c43 a14"/><path d="M955 732l1-1 9 57-2 7z" class="c45 a14"/><path d="M1083 737l1 0 8 16 0-1z" class="c46 a15"/><path d="M1023 814l9 3-1 0z" class="c44 a14"/><path d="M970 786l1 3 9-8-1-3z" class="c45 a15"/><path d="M884 802l7-9 9-12-7 7z" class="c45 a15"/><path d="M1156 761l1-7 8 83z" class="c45 a15"/><path d="M1014 803l1-1 8 12z" class="c44 a14"/><path d="M1023 814l1-1 9 3-1 1z" class="c44 a14"/><path d="M1070 749l4 3 8 25-3-3z" class="c45 a14"/><path d="M1091 811l5 5 8-8-4-5z" class="c44 a14"/><path d="M1021 813l2 1 8 3-2-1z" class="c44 a14"/><path d="M1003 811l9 48-1 2z" class="c44 a14"/><path d="M1158 755l7 1 8 80-6 1z" class="c45 a15"/><path d="M997 798l1-1 8-6z" class="c45 a14"/><path d="M983 789l0 2 9-3-1-1z" class="c45 a15"/><path d="M1015 802l1-1 8 12-1 1z" class="c44 a14"/><path d="M953 732l1 1 9 60-2-8z" class="c46 a14"/><path d="M847 746l1-14 8-47 0 8z" class="c47 a14"/><path d="M907 705l0-4 9 46-1 10z" class="c47 a14"/><path d="M1024 813l2-1 8 3-1 1z" class="c44 a14"/><path d="M1046 784l6 5 9 11-7-4z" class="c45 a14"/><path d="M997 809l3 1 8 56-2-7z" class="c44 a14"/><path d="M1063 808l6 3 9-8-7-2z" class="c45 a13"/><path d="M1012 801l2 2 9 11-2-1z" class="c45 a14"/><path d="M1016 801l1 0 9 11-2 1z" class="c45 a14"/><path d="M1047 792l7 4 9 12-7-3z" class="c45 a14"/><path d="M1050 764l4 6 8 33-3-8z" class="c45 a14"/><path d="M1016 834l4-6 9 15-4 13z" class="c44 a14"/><path d="M1003 811l1 0 8 46 0 2z" class="c44 a14"/><path d="M1042 671l6 7 9 18-7-8z" class="c48 a17"/><path d="M826 748l5-3 8-45-5 9z" class="c47 a14"/><path d="M1026 812l1 0 8 2-1 1z" class="c45 a14"/><path d="M1145 781l1-14 8 35 0 7z" class="c45 a15"/><path d="M1157 754l1 1 9 82-2 0z" class="c45 a15"/><path d="M998 797l1-2 8-5-1 1z" class="c45 a14"/><path d="M995 795l2 3 9-7-2-1z" class="c45 a14"/><path d="M1137 808l0-7 9-47 0 13z" class="c46 a15"/><path d="M1017 801l1-1 9 12-1 0z" class="c45 a14"/><path d="M1040 660l4 13 9 15-5-10z" class="c48 a15"/><path d="M1120 821l7 1 8-21-7-4z" class="c45 a14"/><path d="M1019 811l2 2 8 3-1-1z" class="c45 a14"/><path d="M1027 812l1-1 9 2-2 1z" class="c45 a14"/><path d="M1052 688l7 10 8 9-6-11z" class="c48 a18"/><path d="M995 789l3-8 9 1-3 5z" class="c46 a14"/><path d="M957 776l1 4 9-6-2-4z" class="c46 a14"/><path d="M916 747l1-9 8-17-1 4z" class="c47 a14"/><path d="M1004 811l9 43-1 3z" class="c45 a14"/><path d="M1018 800l2-1 8 12-1 1z" class="c45 a14"/><path d="M1190 782l0 7 9-24 0-14z" class="c46 a14"/><path d="M982 786l1 3 8-2-1-2z" class="c46 a15"/><path d="M950 751l1 3 8 31-1-5z" class="c46 a14"/><path d="M1028 811l1-1 9 2-1 1z" class="c45 a14"/><path d="M999 795l1-2 9-4-2 1z" class="c46 a14"/><path d="M1080 725l1 1 9 16-2-1z" class="c47 a15"/><path d="M1071 708l7 9 8 11-7-8z" class="c48 a15"/><path d="M1020 799l1-1 8 12-1 1z" class="c46 a14"/><path d="M1155 815l7 5 8-12-6-7z" class="c46 a14"/><path d="M1011 799l1 2 9 12-2-2z" class="c46 a14"/><path d="M816 744l7-13 8-5-6 9z" class="c47 a14"/><path d="M969 782l1 4 9-8-1-3z" class="c46 a15"/><path d="M1004 811l0 1 9 40 0 2z" class="c45 a14"/><path d="M1031 817l1 0 8 3z" class="c46 a14"/><path d="M1067 747l3 2 9 25-4-3z" class="c47 a14"/><path d="M1076 731l7 6 9 15-7-7z" class="c48 a15"/><path d="M1029 816l2 1 9 3-2 0z" class="c46 a14"/><path d="M990 780l3-11 9 3-4 9z" class="c47 a14"/><path d="M956 731l1-2 9 51-1 8z" class="c47 a14"/><path d="M1029 810l4-2 8 1-3 3z" class="c46 a14"/><path d="M1079 725l1 0 8 16z" class="c48 a15"/><path d="M1199 751l0 14 9 34-1-7z" class="c47 a15"/><path d="M1021 798l3-3 9 13-4 2z" class="c46 a14"/><path d="M1032 817l1-1 9 2-2 2z" class="c46 a14"/><path d="M1017 809l1 0 0 1 1 1 9 4-1 0-1-1-1 0z" class="c46 a14"/><path d="M1000 793l1-2 9-3-1 1z" class="c47 a14"/><path d="M1004 812l1 0 8 38 0 2z" class="c46 a14"/><path d="M1079 724l0 1 9 16z" class="c48 a15"/><path d="M994 792l1 3 9-5-2-2z" class="c47 a14"/><path d="M1043 679l7 9 9 10-7-10z" class="c49 a18"/><path d="M1010 798l1 1 8 12-1-1z" class="c46 a14"/><path d="M1079 724l9 17-1-1z" class="c48 a15"/><path d="M1056 805l7 3 8-7-6-1z" class="c46 a13"/><path d="M1006 791l9 11-1 1z" class="c47 a14"/><path d="M1028 815l1 1 9 4-2-1z" class="c46 a14"/><path d="M1078 724l1 0 8 16z" class="c48 a15"/><path d="M1033 816l1-1 9 2-1 1z" class="c46 a14"/><path d="M1053 748l5 6 8 40-4-9z" class="c47 a14"/><path d="M981 784l1 2 8-1-1-2z" class="c47 a15"/><path d="M1005 812l9 36-1 2z" class="c46 a14"/><path d="M1078 723l0 1 9 16z" class="c49 a15"/><path d="M883 771l6-8 9 21-7 9z" class="c47 a15"/><path d="M902 741l1 13 9-33-2-8z" class="c49 a14"/><path d="M1006 791l1-1 9 11-1 1z" class="c47 a14"/><path d="M1001 791l1-2 9-2-1 1z" class="c47 a14"/><path d="M1009 798l1 0 8 12 0-1z" class="c47 a14"/><path d="M1078 723l9 17-1-1z" class="c49 a15"/><path d="M951 730l2 2 8 53-2-8z" class="c48 a14"/><path d="M1033 808l3-2 8 0-3 3z" class="c47 a14"/><path d="M1024 795l3-2 9 13-3 2z" class="c47 a14"/><path d="M1042 788l5 4 9 13-5-3z" class="c47 a14"/><path d="M1088 808l3 3 9-8-3-5z" class="c47 a14"/><path d="M1004 790l2 1 8 12-2-2z" class="c47 a14"/><path d="M993 824l5 7 9 28-5-13z" class="c46 a13"/><path d="M1034 815l1-1 9 2-1 1z" class="c47 a14"/><path d="M1077 723l1 0 8 16z" class="c49 a15"/><path d="M995 807l2 2 9 50-2-8z" class="c46 a14"/><path d="M1073 713l6 7 9 13-7-7z" class="c49 a15"/><path d="M1007 790l2-1 8 12-1 0z" class="c47 a14"/><path d="M1077 723l9 16z" class="c49 a15"/><path d="M1113 820l7 1 8-24-6-5z" class="c47 a14"/><path d="M1015 807l1 1 1 1 8 5-1-1-1-1z" class="c47 a14"/><path d="M1024 813l1 1 1 0 1 1 1 0 8 4-1 0-1 0-1-1z" class="c47 a14"/><path d="M1077 723l9 16-1 0z" class="c49 a15"/><path d="M891 793l7-9 8-9-6 6z" class="c48 a15"/><path d="M1008 797l1 1 9 11-1 0z" class="c47 a14"/><path d="M948 749l2 2 8 29-1-4z" class="c48 a14"/><path d="M993 790l1 2 8-4-1-1z" class="c48 a14"/><path d="M1035 814l2-1 8 2-1 1z" class="c47 a14"/><path d="M1002 789l2-2 8-2-1 2z" class="c48 a14"/><path d="M831 745l3-3 9-51-4 9z" class="c50 a14"/><path d="M968 778l1 4 9-7-2-3z" class="c48 a15"/><path d="M956 771l1 5 8-6-1-4z" class="c48 a14"/><path d="M1005 812l1 0 9 31-1 5z" class="c47 a14"/><path d="M1076 722l1 1 8 16 0-1z" class="c49 a15"/><path d="M1009 789l1-1 8 12-1 1z" class="c48 a14"/><path d="M1039 779l7 5 8 12-7-4z" class="c48 a14"/><path d="M973 749l3-8 9 25-4 13z" class="c49 a14"/><path d="M1076 722l9 16z" class="c50 a15"/><path d="M1072 731l6 7 9 25-7-6z" class="c49 a14"/><path d="M1027 793l4-3 8 14-3 2z" class="c48 a14"/><path d="M1036 806l3-2 9 0-4 2z" class="c48 a14"/><path d="M1062 696l7 10 9 11-7-9z" class="c50 a16"/><path d="M1076 722l9 16-1 0z" class="c50 a15"/><path d="M907 701l1-5 9 42-1 9z" class="c50 a14"/><path d="M1007 796l1 1 9 12-1-1z" class="c48 a14"/><path d="M980 781l1 3 8-1-1-2z" class="c48 a15"/><path d="M1044 763l6 1 9 31-7-6z" class="c49 a14"/><path d="M1037 813l1-1 8 1-1 2z" class="c48 a14"/><path d="M1051 802l5 3 9-5-5-1z" class="c48 a14"/><path d="M1010 788l1-1 9 12-2 1z" class="c48 a14"/><path d="M1075 722l1 0 8 16 0-1z" class="c50 a15"/><path d="M1002 788l2 2 8 11-1-2z" class="c48 a14"/><path d="M917 738l1-7 9-13-2 3z" class="c50 a14"/><path d="M957 729l2-2 8 46-1 7z" class="c49 a14"/><path d="M1075 721l0 1 9 15z" class="c50 a15"/><path d="M992 788l1 2 8-3-1-1z" class="c48 a14"/><path d="M1013 805l1 1 1 1 8 5-1 0-1-1z" class="c48 a14"/><path d="M998 781l4-9 8 4-3 6z" class="c49 a14"/><path d="M1011 787l1-2 9 13-1 1z" class="c49 a14"/><path d="M1075 721l9 16-1 0z" class="c50 a15"/><path d="M1021 811l1 1 1 0 1 1 9 5-1 0-1 0-1-1z" class="c48 a14"/><path d="M1006 795l1 1 9 12-1-1z" class="c48 a14"/><path d="M1060 742l7 5 8 24-6-5z" class="c50 a14"/><path d="M1031 790l3-2 9 14-4 2z" class="c49 a14"/><path d="M1006 812l1 0 9 26-1 5z" class="c48 a14"/><path d="M1039 804l4-2 8-1-3 3z" class="c49 a14"/><path d="M1004 787l3-5 9 1-4 2z" class="c49 a14"/><path d="M950 730l1 0 8 47 0-4z" class="c50 a14"/><path d="M1038 812l3-3 9 1-4 3z" class="c48 a14"/><path d="M1037 785l5 3 9 14-5-2z" class="c49 a14"/><path d="M1001 787l1 1 9 11-1-1z" class="c49 a14"/><path d="M991 787l1 1 8-2 0-1z" class="c49 a14"/><path d="M1149 810l6 5 9-14-7-6z" class="c49 a14"/><path d="M1012 785l4-2 8 12-3 3z" class="c49 a14"/><path d="M1005 794l1 1 9 12-1-1z" class="c49 a14"/><path d="M985 766l3-13 9 6-4 10z" class="c50 a15"/><path d="M1020 828l4-6 9 8-4 13z" class="c48 a14"/><path d="M893 691l1 7 9 56-1-13z" class="c51 a15"/><path d="M979 778l1 3 8 0-1-2z" class="c50 a15"/><path d="M1035 664l7 7 8 17-7-9z" class="c52 a18"/><path d="M1085 804l3 4 9-10-4-4z" class="c49 a13"/><path d="M1011 803l1 1 1 1 8 6-1-1-1 0z" class="c49 a14"/><path d="M1046 800l5 2 9-3-5-1z" class="c49 a14"/><path d="M1109 814l4 6 9-28-5-1z" class="c49 a14"/><path d="M947 746l1 3 9 27-1-5z" class="c50 a14"/><path d="M1034 788l3-3 9 15-3 2z" class="c49 a14"/><path d="M1000 786l1 1 9 11-1 0z" class="c50 a14"/><path d="M1018 809l1 1 1 0 1 1 9 6-1 0-1 0-2-1z" class="c49 a14"/><path d="M1043 802l3-2 9-2-4 3z" class="c49 a14"/><path d="M967 774l1 4 8-6-1-4z" class="c50 a15"/><path d="M993 806l2 1 9 44-3-8z" class="c49 a14"/><path d="M1007 812l1 0 8 22 0 4z" class="c49 a14"/><path d="M990 785l1 2 9-2-1-1z" class="c50 a14"/><path d="M1004 793l1 1 9 12-1-1z" class="c50 a14"/><path d="M1071 711l2 2 8 13-1-1z" class="c52 a15"/><path d="M954 767l2 4 8-5-1-4z" class="c51 a14"/><path d="M889 763l5-6 9 21-5 6z" class="c50 a15"/><path d="M1054 685l7 11 8 10-7-10z" class="c52 a19"/><path d="M848 732l0-14 9-40-1 7z" class="c52 a14"/><path d="M1070 725l6 6 9 14-7-7z" class="c51 a15"/><path d="M1146 767l0-13 9 41-1 7z" class="c50 a15"/><path d="M1000 785l0 1 9 12-1-1z" class="c50 a14"/><path d="M1041 809l3-3 9 1-3 3z" class="c50 a14"/><path d="M949 729l1 1 9 43-1-4z" class="c51 a14"/><path d="M1137 801l1-6 8-55 0 14z" class="c51 a15"/><path d="M1033 655l7 5 8 18-6-7z" class="c53 a16"/><path d="M1068 717l7 4 8 16-7-6z" class="c52 a15"/><path d="M1016 783l3-3 8 13-3 2z" class="c50 a14"/><path d="M1040 820l9-7-1 1z" class="c50 a14"/><path d="M1038 820l2 0 8-6-1 0z" class="c50 a14"/><path d="M1037 762l7 1 8 26-6-5z" class="c51 a14"/><path d="M1009 801l2 2 8 7-1-1z" class="c50 a14"/><path d="M898 784l5-6 8-9-5 6z" class="c51 a15"/><path d="M1003 792l1 1 9 12-1-1z" class="c50 a14"/><path d="M1071 710l0 1 9 14-1 0z" class="c52 a15"/><path d="M1034 775l5 4 8 13-5-4z" class="c51 a14"/><path d="M993 769l4-10 8 5-3 8z" class="c51 a14"/><path d="M959 727l1-1 8 39-1 8z" class="c51 a14"/><path d="M1064 699l7 9 8 12-6-7z" class="c52 a15"/><path d="M1036 819l2 1 9-6-2 0z" class="c50 a14"/><path d="M918 731l2-8 9-8-2 3z" class="c52 a14"/><path d="M1040 820l2-2 8-6-1 1z" class="c50 a14"/><path d="M989 783l1 2 9-1-1-1z" class="c51 a14"/><path d="M999 784l1 1 8 12-1-1z" class="c51 a14"/><path d="M1070 710l1 0 8 15 0-1z" class="c52 a15"/><path d="M978 775l1 3 8 1-1-2z" class="c51 a15"/><path d="M1068 729l4 2 8 26-3-3z" class="c52 a14"/><path d="M1007 782l3-6 9 4-3 3z" class="c51 a14"/><path d="M900 736l2 5 8-28-1-3z" class="c52 a14"/><path d="M823 731l6-12 9-3-7 10z" class="c52 a14"/><path d="M1035 819l1 0 9-5-1 0z" class="c50 a14"/><path d="M1015 807l2 1 1 1 8 7-1 0-1 0z" class="c50 a14"/><path d="M1008 812l4 1 8 15-4 6z" class="c50 a14"/><path d="M1070 710l9 14z" class="c53 a15"/><path d="M1035 819l9-5-1 0z" class="c50 a14"/><path d="M1190 775l0 7 9-31-1-15z" class="c52 a14"/><path d="M834 742l5-5 9-59-5 13z" class="c53 a14"/><path d="M1049 741l4 7 9 37-5-8z" class="c52 a14"/><path d="M908 696l2-2 8 37-1 7z" class="c53 a15"/><path d="M1078 803l7 1 8-10-7 0z" class="c51 a13"/><path d="M1034 819l1 0 8-5-1 0z" class="c50 a14"/><path d="M1042 818l1-1 8-6-1 1z" class="c50 a14"/><path d="M1070 709l0 1 9 14-1 0z" class="c53 a15"/><path d="M1033 818l1 1 8-5z" class="c50 a14"/><path d="M948 728l1 1 9 40-1-1z" class="c52 a14"/><path d="M1002 790l1 2 9 12-1-1z" class="c51 a14"/><path d="M998 783l1 1 8 12-1-1z" class="c51 a14"/><path d="M1032 818l1 0 9-4-1 0z" class="c50 a14"/><path d="M1045 678l7 10 9 8-7-11z" class="c54 a20"/><path d="M867 756l7-7 9 22-7 8z" class="c52 a15"/><path d="M1069 709l1 0 8 15 0-1z" class="c53 a15"/><path d="M1019 780l3-3 9 13-4 3z" class="c51 a14"/><path d="M1007 799l1 1 1 1 9 8-1-1-2-1z" class="c51 a14"/><path d="M1044 806l4-2 8-1-3 4z" class="c51 a14"/><path d="M1043 817l1-1 8-5-1 0z" class="c51 a14"/><path d="M1031 818l1 0 9-4-1 0z" class="c51 a14"/><path d="M1069 709l9 14z" class="c53 a15"/><path d="M988 781l1 2 9 0-1-1z" class="c52 a14"/><path d="M946 743l1 3 9 25-2-4z" class="c52 a14"/><path d="M1030 817l1 1 9-4-1 1z" class="c51 a14"/><path d="M1002 772l3-8 9 6-4 6z" class="c52 a14"/><path d="M1069 708l0 1 9 14-1 0z" class="c53 a16"/><path d="M1013 806l1 0 1 1 9 9-1-1-2 0z" class="c51 a14"/><path d="M1145 808l4 2 8-15-3-3z" class="c51 a14"/><path d="M1104 808l5 6 8-23-4-1z" class="c51 a14"/><path d="M1029 817l1 0 9-2-1 0z" class="c51 a14"/><path d="M1198 736l1 15 8 41 0-7z" class="c52 a15"/><path d="M1012 813l4 1 8 8-4 6z" class="c51 a14"/><path d="M965 770l2 4 8-6-1-3z" class="c52 a15"/><path d="M1037 671l6 8 9 9-7-10z" class="c54 a20"/><path d="M1068 708l1 0 8 15z" class="c53 a16"/><path d="M1044 816l1-1 9-5-2 1z" class="c51 a14"/><path d="M948 728l9 40-1-2z" class="c53 a14"/><path d="M1071 801l7 2 8-9-6 1z" class="c51 a14"/><path d="M1028 817l1 0 9-2-2 0z" class="c51 a14"/><path d="M997 782l1 1 8 12-1-1z" class="c52 a14"/><path d="M1068 708l9 15z" class="c54 a16"/><path d="M1001 789l1 1 9 13-2-2z" class="c52 a14"/><path d="M991 805l2 1 8 37-1-6z" class="c51 a14"/><path d="M1053 737l7 5 9 24-7-6z" class="c53 a15"/><path d="M1068 708l9 15-1-1z" class="c54 a16"/><path d="M1026 816l2 1 8-2-1 0z" class="c51 a14"/><path d="M976 772l2 3 8 2-1-2z" class="c52 a15"/><path d="M1065 726l3 3 9 25-3-2z" class="c53 a14"/><path d="M1045 815l1-2 9-4-1 1z" class="c51 a14"/><path d="M1067 707l1 1 8 14z" class="c54 a16"/><path d="M953 762l1 5 9-5-2-4z" class="c53 a14"/><path d="M1025 816l1 0 9-1-1 0z" class="c51 a14"/><path d="M920 723l1-3 8-7 0 2z" class="c54 a14"/><path d="M1011 804l2 2 8 9-1-1z" class="c52 a14"/><path d="M1067 707l9 15z" class="c54 a16"/><path d="M1022 777l4-3 8 14-3 2z" class="c52 a14"/><path d="M987 779l1 2 9 1-1-2z" class="c52 a14"/><path d="M1024 816l1 0 9-1-2 0z" class="c52 a14"/><path d="M1067 707l9 15-1 0z" class="c54 a16"/><path d="M1010 776l4-6 8 7-3 3z" class="c53 a14"/><path d="M996 780l1 2 8 12-1-1z" class="c52 a14"/><path d="M1030 761l7 1 9 22-7-5z" class="c53 a14"/><path d="M1048 804l3-3 9-1-4 3z" class="c52 a14"/><path d="M1004 796l1 2 2 1 8 8-1-1-1 0z" class="c52 a14"/><path d="M947 727l1 1 8 38-1-2z" class="c53 a14"/><path d="M894 757l5-6 9 20-5 7z" class="c53 a15"/><path d="M1066 707l1 0 8 15 0-1z" class="c54 a16"/><path d="M1023 815l1 1 8-1-1 0z" class="c52 a14"/><path d="M960 726l1-2 8 34-1 7z" class="c54 a14"/><path d="M999 788l2 1 8 12-1-1z" class="c52 a14"/><path d="M1016 814l4 0 8 2-4 6z" class="c52 a14"/><path d="M1065 800l6 1 9-6-7 0z" class="c52 a14"/><path d="M825 735l6-9 9-6-7 7z" class="c54 a14"/><path d="M976 741l4-9 8 21-3 13z" class="c54 a15"/><path d="M1029 771l5 4 8 13-5-3z" class="c53 a14"/><path d="M988 816l5 8 9 22-5-12z" class="c52 a13"/><path d="M1066 706l0 1 9 14z" class="c55 a16"/><path d="M1021 815l2 0 8 0-1 0z" class="c52 a14"/><path d="M903 778l5-7 8-7-5 5z" class="c53 a14"/><path d="M918 758l1-5 8-57-1-1z" class="c54 a14"/><path d="M1046 813l4-3 8-3-3 2z" class="c52 a14"/><path d="M1007 803l4 1 9 10-4 0z" class="c52 a14"/><path d="M892 687l1 4 9 50-2-5z" class="c55 a15"/><path d="M1020 814l1 1 9 0-2 1z" class="c52 a14"/><path d="M995 779l1 1 8 13-1-1z" class="c53 a14"/><path d="M986 777l1 2 9 1-1-1z" class="c53 a14"/><path d="M910 694l2-3 8 32-2 8z" class="c55 a15"/><path d="M1026 774l3-3 8 14-3 3z" class="c53 a14"/><path d="M1056 686l6 10 9 12-7-9z" class="c56 a17"/><path d="M1142 806l3 2 9-16-4-4z" class="c53 a14"/><path d="M1061 712l7 5 8 14-6-6z" class="c55 a15"/><path d="M998 786l1 2 9 12-1-1z" class="c53 a14"/><path d="M946 726l1 1 8 37-1-3z" class="c54 a14"/><path d="M1060 799l5 1 8-5-5 1z" class="c53 a14"/><path d="M944 740l2 3 8 24-1-5z" class="c54 a14"/><path d="M1063 696l1 3 9 14-2-2z" class="c55 a16"/><path d="M1062 724l3 2 9 26-4-3z" class="c55 a14"/><path d="M1024 822l4-6 9 1-4 13z" class="c53 a14"/><path d="M917 751l1 7 8-63-1-2z" class="c55 a14"/><path d="M1003 795l1 1 9 10-2-2z" class="c53 a14"/><path d="M964 766l1 4 9-5-1-4z" class="c54 a14"/><path d="M975 768l1 4 9 3-1-3z" class="c54 a15"/><path d="M990 804l1 1 9 32-2-6z" class="c53 a14"/><path d="M1051 801l4-3 8-2-3 4z" class="c53 a14"/><path d="M919 753l1-5 8-51-1-1z" class="c55 a14"/><path d="M1028 657l7 7 8 15-6-8z" class="c57 a20"/><path d="M1100 803l4 5 9-18-5-1z" class="c53 a14"/><path d="M921 720l1-5 9-5-2 3z" class="c55 a14"/><path d="M994 778l1 1 8 13-1-2z" class="c54 a14"/><path d="M893 788l7-7 8-11-7 5z" class="c54 a15"/><path d="M1026 649l7 6 9 16-7-7z" class="c57 a16"/><path d="M1003 802l4 1 9 11-4-1z" class="c53 a14"/><path d="M1063 719l7 6 8 13-6-7z" class="c55 a15"/><path d="M1050 810l3-3 9-3-4 3z" class="c53 a14"/><path d="M896 726l4 10 9-26-4-6z" class="c56 a14"/><path d="M1055 798l5 1 8-3-5 0z" class="c54 a14"/><path d="M997 785l1 1 9 13-2-1z" class="c54 a14"/><path d="M985 775l1 2 9 2-1-1z" class="c54 a14"/><path d="M1062 696l1 0 8 15 0-1z" class="c56 a16"/><path d="M945 725l1 1 8 35-1-2z" class="c55 a14"/><path d="M874 749l7-7 8 21-6 8z" class="c55 a15"/><path d="M1014 770l3-5 9 9-4 3z" class="c54 a14"/><path d="M1059 701l7 5 9 15-7-4z" class="c56 a16"/><path d="M1062 695l0 1 9 14-1 0z" class="c56 a16"/><path d="M1025 760l5 1 9 18-5-4z" class="c55 a14"/><path d="M1045 737l4 4 8 36-3-7z" class="c55 a14"/><path d="M988 753l3-12 9 7-3 11z" class="c55 a15"/><path d="M1005 764l3-8 9 9-3 5z" class="c55 a14"/><path d="M999 793l4 2 8 9-4-1z" class="c54 a14"/><path d="M992 776l2 2 8 12-1-1z" class="c55 a14"/><path d="M1062 695l8 15z" class="c57 a16"/><path d="M920 748l1-5 8-45-1-1z" class="c56 a14"/><path d="M899 751l4-3 8 19-3 4z" class="c55 a15"/><path d="M997 759l3-11 8 8-3 8z" class="c55 a14"/><path d="M839 737l5-5 9-66-5 12z" class="c57 a14"/><path d="M999 800l4 2 9 11-4-1z" class="c54 a14"/><path d="M908 771l3-4 9-6-4 3z" class="c55 a14"/><path d="M951 756l2 6 8-4-1-5z" class="c55 a14"/><path d="M1061 695l1 0 8 15 0-1z" class="c57 a16"/><path d="M996 783l1 2 8 13-1-2z" class="c55 a14"/><path d="M912 691l0-2 9 31-1 3z" class="c57 a15"/><path d="M829 719l5-10 9 0-5 7z" class="c57 a14"/><path d="M1058 722l4 2 8 25-3-2z" class="c56 a14"/><path d="M944 725l1 0 8 34-1-2z" class="c56 a14"/><path d="M1146 754l0-14 9 49 0 6z" class="c55 a15"/><path d="M1053 807l3-4 9-1-3 2z" class="c54 a14"/><path d="M961 724l3-4 9 29-4 9z" class="c56 a14"/><path d="M1061 694l0 1 9 14-1 0z" class="c57 a16"/><path d="M1049 732l4 5 9 23-4-6z" class="c56 a15"/><path d="M1138 795l0-7 9-62-1 14z" class="c56 a15"/><path d="M1138 804l4 2 8-18-3-4z" class="c55 a14"/><path d="M984 772l1 3 9 3-2-2z" class="c55 a14"/><path d="M999 800l9 12-1 0z" class="c55 a14"/><path d="M848 718l1-14 8-34 0 8z" class="c57 a14"/><path d="M1061 694l8 15z" class="c57 a16"/><path d="M974 765l1 3 9 4-2-2z" class="c56 a15"/><path d="M991 775l1 1 9 13-2-1z" class="c55 a14"/><path d="M998 800l1 0 8 12-1 0z" class="c55 a14"/><path d="M1060 694l1 0 8 15 0-1z" class="c57 a16"/><path d="M921 743l1-5 8-39-1-1z" class="c57 a14"/><path d="M943 737l1 3 9 22-2-6z" class="c56 a14"/><path d="M1060 693l0 1 9 14-1 0z" class="c58 a16"/><path d="M1097 798l3 5 8-14-3-1z" class="c55 a14"/><path d="M997 799l1 1 8 12-1 0z" class="c55 a14"/><path d="M963 762l1 4 9-5-2-4z" class="c56 a14"/><path d="M922 715l1-5 9-3-1 3z" class="c57 a14"/><path d="M1028 816l2-1 8 1-1 1z" class="c55 a14"/><path d="M994 782l2 1 8 13-1-1z" class="c55 a14"/><path d="M1060 693l8 15z" class="c58 a16"/><path d="M996 799l1 0 8 13z" class="c55 a14"/><path d="M995 791l4 2 8 10-4-1z" class="c55 a14"/><path d="M1030 815l1 0 9 1-2 0z" class="c55 a14"/><path d="M1047 674l7 11 8 11-6-10z" class="c58 a19"/><path d="M915 743l2 8 8-58-1-1z" class="c57 a14"/><path d="M1031 815l1 0 9 0-1 1z" class="c55 a14"/><path d="M996 799l9 13-1 0z" class="c55 a14"/><path d="M1059 693l1 0 8 15z" class="c58 a16"/><path d="M942 723l2 2 8 32-1-3z" class="c57 a14"/><path d="M1032 815l2 0 8-1-1 1z" class="c55 a14"/><path d="M995 799l1 0 8 13 0-1z" class="c55 a14"/><path d="M1017 765l3-6 9 12-3 3z" class="c56 a14"/><path d="M1034 815l1 0 8-1-1 0z" class="c55 a14"/><path d="M1020 759l5 1 9 15-5-4z" class="c56 a14"/><path d="M1059 692l0 1 9 15-1-1z" class="c58 a16"/><path d="M831 726l7-10 9-3-7 7z" class="c58 a14"/><path d="M995 799l9 12z" class="c55 a14"/><path d="M900 781l6-6 9-10-7 5z" class="c56 a15"/><path d="M1035 815l1 0 9-2-2 1z" class="c55 a14"/><path d="M1056 803l4-3 8 0-3 2z" class="c56 a14"/><path d="M1189 768l1 7 8-39 0-14z" class="c57 a14"/><path d="M910 785l7-5 8 10-6 4z" class="c56 a15"/><path d="M995 799l9 12-1 0z" class="c55 a14"/><path d="M1036 815l2 0 8-3-1 1z" class="c55 a14"/><path d="M984 801l6 3 8 27-5-7z" class="c55 a14"/><path d="M1059 692l8 15z" class="c58 a16"/><path d="M990 773l1 2 8 13-1-2z" class="c56 a14"/><path d="M1038 815l1 0 8-3-1 0z" class="c55 a13"/><path d="M994 799l1 0 8 12z" class="c56 a14"/><path d="M888 681l4 6 8 49-4-10z" class="c58 a15"/><path d="M1039 815l1-1 8-3-1 1z" class="c55 a13"/><path d="M982 770l2 2 8 4-1-1z" class="c56 a14"/><path d="M922 738l1-4 8-34-1-1z" class="c58 a15"/><path d="M994 798l0 1 9 12-1 0z" class="c56 a14"/><path d="M1040 814l1 0 8-3-1 0z" class="c55 a13"/><path d="M912 689l1-3 9 29-1 5z" class="c58 a15"/><path d="M1058 692l1 0 8 15z" class="c58 a16"/><path d="M1041 814l1 0 8-4-1 1z" class="c56 a13"/><path d="M1060 718l3 1 9 12-4-2z" class="c58 a15"/><path d="M993 798l1 0 8 13z" class="c56 a14"/><path d="M1042 814l9-4-1 0z" class="c56 a13"/><path d="M1042 814l1 0 9-5-1 1z" class="c56 a13"/><path d="M1055 708l6 4 9 13-7-6z" class="c58 a15"/><path d="M993 798l9 13z" class="c56 a14"/><path d="M1058 692l9 15-1 0z" class="c59 a16"/><path d="M1043 814l1 0 9-5-1 0z" class="c56 a13"/><path d="M1044 814l1 0 8-6 0 1z" class="c56 a13"/><path d="M911 767l5-6 9-5-5 5z" class="c57 a14"/><path d="M993 798l9 13-1 0z" class="c56 a14"/><path d="M903 748l5-6 8 19-5 6z" class="c57 a15"/><path d="M1045 814l2 0 8-6-2 0z" class="c56 a13"/><path d="M1054 684l2 2 8 13-1-3z" class="c59 a17"/><path d="M1058 691l0 1 8 15 0-1z" class="c59 a16"/><path d="M992 798l1 0 8 13z" class="c56 a14"/><path d="M1030 663l7 8 8 7-6-10z" class="c59 a22"/><path d="M1047 814l1 0 9-7-2 1z" class="c56 a13"/><path d="M881 742l5-5 8 20-5 6z" class="c57 a15"/><path d="M992 798l9 13z" class="c56 a14"/><path d="M1048 814l1-1 8-6z" class="c56 a13"/><path d="M990 780l4 2 9 13-4-2z" class="c57 a14"/><path d="M973 761l1 4 8 5-1-3z" class="c57 a15"/><path d="M992 798l9 13-1-1z" class="c56 a14"/><path d="M1198 722l0 14 9 49-1-7z" class="c58 a15"/><path d="M991 798l1 0 8 12z" class="c56 a14"/><path d="M1049 813l1-1 9-6-2 1z" class="c56 a13"/><path d="M1039 668l6 10 9 7-7-11z" class="c60 a21"/><path d="M941 722l1 1 9 31-1-3z" class="c58 a14"/><path d="M991 788l4 3 8 11-4-2z" class="c57 a14"/><path d="M988 772l2 1 8 13-1-1z" class="c57 a14"/><path d="M923 734l1-5 8-28-1-1z" class="c59 a15"/><path d="M1135 801l3 3 9-20-3-4z" class="c57 a14"/><path d="M991 798l9 12z" class="c56 a14"/><path d="M947 753l4 3 9-3-4-3z" class="c58 a14"/><path d="M1050 812l1-1 9-5-1 0z" class="c56 a13"/><path d="M1053 696l6 5 9 16-7-5z" class="c59 a16"/><path d="M1060 800l3-4 9 2-4 2z" class="c57 a14"/><path d="M1093 794l4 4 8-10-3-1z" class="c57 a14"/><path d="M1052 718l6 4 9 25-7-5z" class="c58 a15"/><path d="M844 732l2-2 9-69-2 5z" class="c59 a14"/><path d="M985 810l3 6 9 18-4-9z" class="c56 a13"/><path d="M1051 811l1 0 9-6-1 1z" class="c57 a13"/><path d="M981 767l1 3 9 5-1-2z" class="c58 a14"/><path d="M989 797l2 1 9 12-3-1z" class="c57 a14"/><path d="M1020 644l6 5 9 15-7-7z" class="c61 a18"/><path d="M1054 683l0 1 9 12-1 0z" class="c60 a17"/><path d="M1042 732l3 5 9 33-4-6z" class="c58 a14"/><path d="M980 732l3-8 8 17-3 12z" class="c58 a15"/><path d="M1052 811l2-1 8-5-1 0z" class="c57 a13"/><path d="M919 794l6-4 9 0-7 1z" class="c57 a14"/><path d="M1008 756l4-8 8 11-3 6z" class="c58 a14"/><path d="M917 780l6-4 9 10-7 4z" class="c57 a15"/><path d="M961 758l2 4 8-5-1-3z" class="c58 a14"/><path d="M1056 716l4 2 8 11-3-3z" class="c59 a15"/><path d="M923 710l1-5 9-1-1 3z" class="c59 a14"/><path d="M1054 810l1-1 8-4-1 0z" class="c57 a13"/><path d="M901 775l7-5 9 10-7 5z" class="c58 a15"/><path d="M1053 683l1 0 8 13 0-1z" class="c60 a17"/><path d="M1063 796l5 0 9 0-5 2z" class="c57 a13"/><path d="M859 738l6-7 9 18-7 7z" class="c59 a14"/><path d="M990 788l1 0 8 12z" class="c57 a14"/><path d="M1068 796l5-1 9-1-5 2z" class="c57 a13"/><path d="M939 734l4 3 8 19-4-3z" class="c59 a14"/><path d="M924 729l0-4 9-23-1-1z" class="c59 a15"/><path d="M1073 795l7 0 8-3-6 2z" class="c57 a13"/><path d="M987 771l1 1 9 13-1-2z" class="c58 a14"/><path d="M964 720l4-4 8 25-3 8z" class="c59 a15"/><path d="M1080 795l6-1 9-5-7 3z" class="c57 a13"/><path d="M1086 794l7 0 9-7-7 2z" class="c58 a13"/><path d="M1053 682l0 1 9 12z" class="c60 a17"/><path d="M989 788l1 0 9 12-1 0z" class="c58 a14"/><path d="M1045 728l4 4 9 22-5-6z" class="c59 a15"/><path d="M1055 809l3-2 9-4-4 2z" class="c57 a13"/><path d="M987 797l2 0 8 12-2-2z" class="c57 a14"/><path d="M940 721l1 1 9 29-2-2z" class="c59 a14"/><path d="M906 775l5-6 9-8-5 4z" class="c58 a15"/><path d="M1022 651l6 6 9 14-7-8z" class="c61 a21"/><path d="M914 736l1 7 9-51-1-1z" class="c60 a14"/><path d="M986 778l4 2 9 13-4-2z" class="c58 a14"/><path d="M946 720l0-1 9 13-1 1z" class="c59 a15"/><path d="M925 790l7-4 8 2-6 2z" class="c58 a14"/><path d="M1053 682l9 13-1 0z" class="c60 a17"/><path d="M913 686l2-3 8 27-1 5z" class="c60 a15"/><path d="M988 787l1 1 9 12-1-1z" class="c58 a14"/><path d="M1051 686l7 5 8 15-7-5z" class="c60 a16"/><path d="M892 715l4 11 9-22-4-6z" class="c60 a15"/><path d="M944 718l2 2 8 13-1-1z" class="c60 a14"/><path d="M833 727l7-7 8-3-6 6z" class="c60 a14"/><path d="M980 765l1 2 9 6-2-1z" class="c59 a14"/><path d="M971 757l2 4 8 6-1-2z" class="c59 a15"/><path d="M846 730l2-1 8-72-1 4z" class="c60 a14"/><path d="M988 787l9 12-1 0z" class="c58 a14"/><path d="M834 709l5-9 9 1-5 8z" class="c60 a14"/><path d="M1052 681l1 1 8 13 0-1z" class="c61 a17"/><path d="M924 725l1-4 9-18-1-1z" class="c60 a15"/><path d="M1051 707l4 1 8 11-3-1z" class="c60 a15"/><path d="M1058 807l4-3 8-2-3 1z" class="c58 a13"/><path d="M987 787l1 0 8 12z" class="c58 a14"/><path d="M946 719l2-1 8 13-1 1z" class="c60 a15"/><path d="M984 797l3 0 8 10-2-1z" class="c58 a14"/><path d="M1052 681l9 13z" class="c61 a17"/><path d="M985 769l2 2 9 12-2-1z" class="c59 a14"/><path d="M932 786l5-3 8 4-5 1z" class="c58 a14"/><path d="M987 786l0 1 9 12-1 0z" class="c58 a14"/><path d="M916 761l5-7 9-3-5 5z" class="c59 a14"/><path d="M1053 715l3 1 9 10-3-2z" class="c60 a15"/><path d="M1000 748l3-10 9 10-4 8z" class="c60 a14"/><path d="M987 786l8 13z" class="c58 a14"/><path d="M923 776l5-4 9 11-5 3z" class="c59 a15"/><path d="M1052 680l0 1 9 13-1 0z" class="c61 a17"/><path d="M925 721l2-3 9-13-2-2z" class="c60 a15"/><path d="M927 718l2-3 8-8-1-2z" class="c61 a15"/><path d="M1035 736l7-4 8 32-6-1z" class="c60 a14"/><path d="M886 737l5-5 8 19-5 6z" class="c60 a15"/><path d="M908 742l5-6 8 18-5 7z" class="c60 a15"/><path d="M986 786l1 0 8 13z" class="c59 a14"/><path d="M1029 739l6-3 9 27-7-1z" class="c60 a14"/><path d="M1062 804l3-2 8-1-3 1z" class="c58 a13"/><path d="M943 749l4 4 9-3-4-3z" class="c60 a14"/><path d="M838 716l5-7 9-1-5 5z" class="c61 a14"/><path d="M1022 743l7-4 8 23-7-1z" class="c60 a14"/><path d="M1051 680l1 0 8 14 0-1z" class="c61 a17"/><path d="M1017 745l5-2 8 18-5-1z" class="c60 a14"/><path d="M938 720l2 1 8 28-1-3z" class="c60 a14"/><path d="M1012 748l5-3 8 15-5-1z" class="c60 a14"/><path d="M986 786l9 13-1 0z" class="c59 a14"/><path d="M1051 680l9 13z" class="c61 a16"/><path d="M929 715l0-2 9-7-1 1z" class="c61 a15"/><path d="M937 783l5-3 9 6-6 1z" class="c59 a14"/><path d="M985 786l1 0 8 13 0-1z" class="c59 a14"/><path d="M948 718l1-2 8 13-1 2z" class="c61 a15"/><path d="M979 798l5 3 9 23-5-8z" class="c58 a14"/><path d="M942 717l2 1 9 14-2-2z" class="c61 a14"/><path d="M1051 680l9 13-1 0z" class="c62 a16"/><path d="M985 785l0 1 9 12-1 0z" class="c59 a14"/><path d="M908 770l7-5 8 11-6 4z" class="c59 a15"/><path d="M981 796l2 1 1 0 9 9-2-1-1-1z" class="c59 a14"/><path d="M1048 706l3 1 9 11-4-2z" class="c61 a15"/><path d="M982 777l4 1 9 13-4-3z" class="c59 a14"/><path d="M1046 671l1 3 9 12-2-2z" class="c62 a19"/><path d="M985 785l8 13z" class="c59 a14"/><path d="M1065 802l3-2 9 0-4 1z" class="c59 a13"/><path d="M1050 679l1 1 8 13 0-1z" class="c62 a16"/><path d="M979 762l1 3 8 7-1-1z" class="c60 a14"/><path d="M980 809l5 1 8 15-5 0z" class="c58 a13"/><path d="M924 705l2-5 8 0-1 4z" class="c61 a14"/><path d="M984 785l1 0 8 13z" class="c59 a14"/><path d="M935 731l4 3 8 19-4-4z" class="c60 a14"/><path d="M1050 679l9 13z" class="c62 a16"/><path d="M984 785l9 13-1 0z" class="c59 a14"/><path d="M983 785l1 0 8 13z" class="c59 a14"/><path d="M983 785l9 13z" class="c59 a14"/><path d="M911 769l5-5 9-7-5 4z" class="c60 a14"/><path d="M983 785l9 13-1 0z" class="c59 a14"/><path d="M982 785l1 0 8 13z" class="c59 a14"/><path d="M991 741l4-13 8 10-3 10z" class="c61 a15"/><path d="M848 729l2-2 8-75-2 5z" class="c62 a14"/><path d="M982 767l3 2 9 13-4-2z" class="c60 a14"/><path d="M980 786l2-1 9 13-2-1z" class="c59 a14"/><path d="M1128 797l7 4 9-21-7-8z" class="c59 a15"/><path d="M1050 679l9 13-1 0z" class="c62 a16"/><path d="M1028 661l2 2 9 5-2-2z" class="c63 a22"/><path d="M949 716l1-1 9 12-2 2z" class="c61 a15"/><path d="M945 787l6-1 3-1 8 7-3 1-5-1z" class="c59 a14"/><path d="M960 753l1 5 9-4-2-5z" class="c60 a14"/><path d="M1146 740l1-14 8 56 0 7z" class="c60 a15"/><path d="M978 787l2-1 9 11-2 0z" class="c59 a14"/><path d="M942 716l0 1 9 13-1 0z" class="c61 a14"/><path d="M928 772l5-3 9 11-5 3z" class="c60 a15"/><path d="M929 713l2-3 8-5-1 1z" class="c62 a15"/><path d="M1049 679l1 0 8 13z" class="c62 a16"/><path d="M1068 800l4-2 8 1-3 1z" class="c59 a13"/><path d="M1138 788l0-7 9-68 0 13z" class="c61 a15"/><path d="M1050 713l3 2 9 9-4-2z" class="c61 a15"/><path d="M1046 692l7 4 8 16-6-4z" class="c62 a16"/><path d="M1045 714l7 4 8 24-7-5z" class="c61 a16"/><path d="M970 754l1 3 9 8-1-3z" class="c60 a15"/><path d="M937 719l1 1 9 26-1-3z" class="c61 a14"/><path d="M915 683l1-3 8 25-1 5z" class="c62 a15"/><path d="M892 648l1 1 9 81-1 5z" class="c62 a15"/><path d="M1049 678l0 1 9 13 0-1z" class="c62 a16"/><path d="M942 780l3-2 5-4 9 8-5 3-3 1z" class="c60 a14"/><path d="M981 776l1 1 9 11-1 0z" class="c60 a14"/><path d="M921 754l2-2 8-3-1 2z" class="c61 a14"/><path d="M962 792l5-2 5-1 2-1 2 0 2-1 9 10-3 0-1 0-2-1-5 0-5-1z" class="c60 a14"/><path d="M865 731l7-6 9 17-7 7z" class="c61 a15"/><path d="M1045 670l1 1 8 13 0-1z" class="c63 a19"/><path d="M1045 705l3 1 8 10-3-1z" class="c62 a15"/><path d="M941 715l1 1 8 14-1-1z" class="c62 a14"/><path d="M975 808l5 1 8 16-5-1z" class="c59 a13"/><path d="M913 728l1 8 9-45-2-2z" class="c62 a14"/><path d="M940 788l5-1 9 5-5-2z" class="c60 a14"/><path d="M849 704l0-14 9-27-1 7z" class="c63 a14"/><path d="M950 715l1-1 9 12-1 1z" class="c62 a15"/><path d="M981 776l9 12-1 0z" class="c60 a14"/><path d="M954 785l5-3 5-2 8 9-5 1-5 2z" class="c60 a14"/><path d="M1037 666l2 2 8 6-1-3z" class="c63 a21"/><path d="M976 796l5 0 9 8-6-3z" class="c60 a14"/><path d="M913 736l1-1 9 17-2 2z" class="c61 a15"/><path d="M1028 660l0 1 9 5 0-1z" class="c63 a21"/><path d="M1072 798l5-2 8 0-5 3z" class="c60 a13"/><path d="M1045 670l9 13-1 0z" class="c63 a19"/><path d="M968 716l3-5 9 21-4 9z" class="c62 a15"/><path d="M1020 649l2 2 8 12-2-2z" class="c64 a21"/><path d="M891 732l3-4 9 20-4 3z" class="c62 a15"/><path d="M977 759l2 3 8 9-2-2z" class="c61 a14"/><path d="M891 647l1 1 9 87-1-7z" class="c63 a15"/><path d="M980 775l1 1 8 12-1-1z" class="c61 a14"/><path d="M940 714l1 1 8 14-1-1z" class="c62 a14"/><path d="M915 765l5-4 8 11-5 4z" class="c61 a15"/><path d="M884 674l4 7 8 45-4-11z" class="c63 a15"/><path d="M977 676l6-7 9-1-7 6z" class="c63 a14"/><path d="M972 672l5 4 8-2-4-5z" class="c63 a14"/><path d="M940 746l3 3 9-2-4-3z" class="c62 a14"/><path d="M959 793l3-1 9 3-3-1z" class="c60 a14"/><path d="M933 769l4-3 8 12-3 2z" class="c61 a15"/><path d="M931 710l1-3 8-3-1 1z" class="c63 a15"/><path d="M978 766l4 1 8 13-4-2z" class="c61 a14"/><path d="M1045 669l0 1 8 13 0-1z" class="c63 a19"/><path d="M1040 724l5 4 8 20-4-7z" class="c62 a14"/><path d="M1013 638l7 6 8 13-6-6z" class="c64 a19"/><path d="M923 752l2-2 8-2-2 1z" class="c62 a14"/><path d="M840 720l7-7 8-2-7 6z" class="c62 a14"/><path d="M979 775l1 0 8 12z" class="c61 a14"/><path d="M934 790l6-2 9 2-7-1z" class="c61 a14"/><path d="M951 714l1-2 9 12-1 2z" class="c62 a15"/><path d="M916 764l4-3 8-6-3 2z" class="c61 a14"/><path d="M893 649l1 1 9 74-1 6z" class="c63 a15"/><path d="M1027 659l1 1 9 5-1 0 0-1z" class="c64 a21"/><path d="M850 727l2-1 9-79-3 5z" class="c63 a14"/><path d="M936 718l1 1 9 24-2-3z" class="c62 a14"/><path d="M937 707l1-1 8 13 0 1z" class="c63 a15"/><path d="M979 775l9 12-1 0z" class="c61 a14"/><path d="M1044 669l1 0 8 13z" class="c64 a19"/><path d="M964 780l2-1 1-1 9 10-2 0-2 1z" class="c61 a14"/><path d="M939 714l1 0 8 14z" class="c63 a14"/><path d="M1041 704l4 1 8 10-3-2z" class="c63 a15"/><path d="M978 775l1 0 8 12 0-1z" class="c61 a14"/><path d="M1077 796l5-2 8-1-5 3z" class="c61 a13"/><path d="M914 735l2-2 9 17-2 2z" class="c62 a15"/><path d="M1189 760l0 8 9-46 0-14z" class="c62 a14"/><path d="M1020 648l0 1 8 12 0-1z" class="c64 a21"/><path d="M1044 681l7 5 8 15-6-5z" class="c63 a16"/><path d="M978 775l9 11z" class="c61 a14"/><path d="M968 806l7 2 8 16-7 0z" class="c60 a13"/><path d="M926 700l1-6 8 3-1 3z" class="c63 a15"/><path d="M1044 668l0 1 9 13-1-1z" class="c64 a19"/><path d="M936 705l1 2 9 13-2-2z" class="c63 a15"/><path d="M967 778l2-1 9 10-2 1z" class="c61 a14"/><path d="M931 728l4 3 8 18-3-3z" class="c62 a14"/><path d="M1036 665l1 0 0 1 9 5-1-1z" class="c64 a20"/><path d="M954 792l5 1 9 1-5-1z" class="c61 a14"/><path d="M843 709l5-8 9 2-5 5z" class="c63 a15"/><path d="M978 774l0 1 9 11-1 0z" class="c61 a14"/><path d="M938 706l1-1 9 13-2 1z" class="c63 a15"/><path d="M1027 658l0 1 9 5-1-1z" class="c64 a20"/><path d="M1019 648l1 0 8 12z" class="c65 a20"/><path d="M950 774l5-3 9 9-5 2z" class="c62 a14"/><path d="M977 774l1 0 8 12z" class="c61 a14"/><path d="M1043 668l1 0 8 13z" class="c64 a18"/><path d="M938 713l1 1 9 14-1-1z" class="c63 a14"/><path d="M969 777l3-1 8 10-2 1z" class="c61 a14"/><path d="M927 791l7-1 8-1-6-2z" class="c61 a14"/><path d="M1003 738l5-7 9 14-5 3z" class="c63 a14"/><path d="M1043 710l7 3 8 9-6-4z" class="c63 a15"/><path d="M1019 648l9 12-1-1z" class="c65 a20"/><path d="M977 774l9 12-1 0z" class="c62 a14"/><path d="M1043 691l3 1 9 16-4-1z" class="c64 a16"/><path d="M839 700l4-9 8 5-3 5z" class="c64 a14"/><path d="M1042 673l7 5 9 13-7-5z" class="c64 a16"/><path d="M968 749l2 5 9 8-2-3z" class="c62 a15"/><path d="M925 750l2-3 8-1-2 2z" class="c62 a14"/><path d="M976 796l3 2 9 18-3-6z" class="c61 a14"/><path d="M932 707l1-3 8-1-1 1z" class="c64 a15"/><path d="M1043 667l0 1 9 13 0-1z" class="c64 a18"/><path d="M956 750l4 3 8-4-4-2z" class="c62 a14"/><path d="M971 795l5 1 8 5-5-3z" class="c61 a14"/><path d="M937 766l5-3 8 11-5 4z" class="c62 a15"/><path d="M976 774l1 0 8 12 0-1z" class="c62 a14"/><path d="M972 776l2-2 8 11-2 1z" class="c62 a14"/><path d="M916 680l1-3 9 23-2 5z" class="c64 a15"/><path d="M894 650l1 1 9 68-1 5z" class="c64 a15"/><path d="M973 757l4 2 8 10-3-2z" class="c62 a14"/><path d="M1019 647l0 1 8 11z" class="c65 a20"/><path d="M939 745l1 1 8-2-1 0z" class="c63 a14"/><path d="M974 765l4 1 8 12-4-1z" class="c62 a14"/><path d="M1025 658l1 0 1 0 8 5-1 0 0-1-1 0z" class="c65 a20"/><path d="M1043 667l9 13-1 0z" class="c65 a18"/><path d="M920 761l5-4 8 12-5 3z" class="c62 a14"/><path d="M976 774l9 11z" class="c62 a14"/><path d="M939 705l1-1 9 12-1 2z" class="c64 a15"/><path d="M1082 794l6-2 9-3-7 4z" class="c62 a13"/><path d="M974 774l9 11-1 0z" class="c62 a14"/><path d="M1198 708l0 14 8 56 0-7z" class="c63 a15"/><path d="M974 774l1 0 8 11z" class="c62 a14"/><path d="M975 774l8 11z" class="c62 a14"/><path d="M983 724l3-9 9 13-4 13z" class="c63 a15"/><path d="M1042 667l1 0 8 13z" class="c65 a18"/><path d="M952 712l4-4 8 12-3 4z" class="c64 a15"/><path d="M976 774l9 11-1 0z" class="c62 a14"/><path d="M975 774l9 11-1 0z" class="c62 a14"/><path d="M1018 647l1 0 8 12 0-1z" class="c65 a20"/><path d="M937 712l1 1 9 14-1-1z" class="c64 a14"/><path d="M916 733l2-3 9 17-2 3z" class="c63 a14"/><path d="M975 774l1 0 8 11z" class="c62 a14"/><path d="M955 771l2-2 9 10-2 1z" class="c62 a14"/><path d="M934 717l2 1 8 22-1-3z" class="c63 a14"/><path d="M1042 667l9 13z" class="c65 a18"/><path d="M1035 663l1 1 0 1 9 5 0-1-1 0 0-1-1 0z" class="c65 a20"/><path d="M920 761l5-5 8-5-5 4z" class="c63 a14"/><path d="M1018 647l9 11-1 0z" class="c65 a20"/><path d="M938 744l1 1 8-1-1-1z" class="c63 a14"/><path d="M894 728l5-4 9 18-5 6z" class="c63 a15"/><path d="M1040 711l5 3 8 23-4-5z" class="c64 a16"/><path d="M1018 647l8 11z" class="c65 a20"/><path d="M852 726l2-2 9-81-2 4z" class="c65 a14"/><path d="M934 703l2 2 8 13-2-1z" class="c64 a15"/><path d="M1042 666l0 1 9 13-1-1z" class="c65 a18"/><path d="M1024 657l0 1 1 0 8 4-1-1z" class="c65 a19"/><path d="M1039 690l4 1 8 16-3-1z" class="c64 a16"/><path d="M872 725l5-5 9 17-5 5z" class="c64 a15"/><path d="M1017 647l1 0 8 11z" class="c66 a19"/><path d="M961 805l7 1 8 18-6-1z" class="c61 a14"/><path d="M940 704l1-1 9 12-1 1z" class="c64 a15"/><path d="M964 650l4 2 9 24-5-4z" class="c65 a14"/><path d="M957 769l2-1 8 10-1 1z" class="c63 a14"/><path d="M930 728l1 0 9 18-1-1z" class="c63 a14"/><path d="M1035 702l6 2 9 9-7-3z" class="c64 a15"/><path d="M949 790l5 2 9 1-5-2z" class="c62 a14"/><path d="M968 652l7-5 8 22-6 7z" class="c65 a14"/><path d="M1017 647l9 11-1 0z" class="c66 a19"/><path d="M1041 666l1 0 8 13z" class="c65 a18"/><path d="M912 721l1 7 8-39-1-1z" class="c64 a14"/><path d="M973 764l1 1 8 12-1-1z" class="c63 a14"/><path d="M1023 657l1 0 8 4z" class="c66 a19"/><path d="M936 711l1 1 9 14-1-1z" class="c64 a14"/><path d="M1017 646l0 1 8 11z" class="c66 a19"/><path d="M927 747l2-2 9-2-3 3z" class="c63 a14"/><path d="M933 704l1-4 9 1-2 2z" class="c65 a15"/><path d="M888 704l4 11 9-17-4-7z" class="c65 a15"/><path d="M1041 666l9 13z" class="c65 a18"/><path d="M937 743l1 1 8-1-1 0z" class="c64 a14"/><path d="M1016 646l1 0 8 12z" class="c66 a19"/><path d="M1035 663l8 5 0-1z" class="c66 a20"/><path d="M972 764l1 0 8 12z" class="c63 a14"/><path d="M895 651l1 1 9 62-1 5z" class="c65 a15"/><path d="M890 645l1 2 9 81-2-8z" class="c65 a15"/><path d="M1016 646l9 12-1 0z" class="c66 a19"/><path d="M1041 666l9 13-1 0z" class="c65 a18"/><path d="M850 720l7-6 8 17-6 7z" class="c64 a14"/><path d="M959 768l2-1 8 10-2 1z" class="c63 a14"/><path d="M929 727l1 1 9 17-1-1z" class="c64 a14"/><path d="M1088 792l7-3 9-5-7 5z" class="c63 a13"/><path d="M968 794l3 1 8 3-3-2z" class="c62 a14"/><path d="M1016 646l8 12 0-1z" class="c66 a19"/><path d="M925 757l3-2 9 11-4 3z" class="c63 a14"/><path d="M941 703l2-2 8 13-1 1z" class="c65 a15"/><path d="M969 756l4 1 9 10-4-1z" class="c63 a14"/><path d="M1040 665l1 1 8 13 0-1z" class="c66 a18"/><path d="M1015 646l1 0 8 11z" class="c66 a19"/><path d="M942 763l5-4 8 12-5 3z" class="c63 a15"/><path d="M936 743l1 0 8 0 0-1z" class="c64 a14"/><path d="M971 764l1 0 9 12-1-1z" class="c63 a14"/><path d="M1011 637l2 1 9 13-2-2z" class="c66 a19"/><path d="M842 723l6-6 9-3-7 6z" class="c65 a14"/><path d="M933 702l1 1 8 14 0-1z" class="c65 a15"/><path d="M847 713l5-5 8-2-5 5z" class="c65 a14"/><path d="M1036 689l3 1 9 16-3-1z" class="c65 a15"/><path d="M1015 646l9 11-1 0z" class="c66 a19"/><path d="M983 669l7-6 9-1-7 6z" class="c66 a14"/><path d="M935 710l1 1 9 14-1 0z" class="c65 a14"/><path d="M918 730l2-2 9 17-2 2z" class="c64 a14"/><path d="M968 668l4 4 9-3-5-4z" class="c66 a14"/><path d="M1033 662l1 0 0 1 1 0 8 4-1 0 0-1-1 0z" class="c66 a19"/><path d="M936 743l9-1z" class="c64 a14"/><path d="M971 711l3-4 9 17-3 8z" class="c65 a15"/><path d="M971 763l0 1 9 11-1 0z" class="c63 a14"/><path d="M952 747l4 3 8-3-3-2z" class="c64 a14"/><path d="M1037 721l3 3 9 17-4-4z" class="c64 a14"/><path d="M1122 792l6 5 9-25-7-8z" class="c63 a15"/><path d="M961 767l2-2 9 11-3 1z" class="c63 a14"/><path d="M928 726l1 1 9 17-1-1z" class="c64 a14"/><path d="M971 794l5 2 9 14-5-1z" class="c63 a14"/><path d="M970 763l1 0 8 12z" class="c64 a14"/><path d="M964 747l4 2 9 10-4-2z" class="c64 a14"/><path d="M1008 731l5-6 9 18-5 2z" class="c64 a14"/><path d="M936 742l0 1 9-1-1 0z" class="c64 a14"/><path d="M970 763l9 12-1 0z" class="c64 a14"/><path d="M943 701l1-1 8 12-1 2z" class="c65 a15"/><path d="M848 701l3-5 9 4-3 3z" class="c65 a15"/><path d="M969 763l1 0 8 12z" class="c64 a14"/><path d="M1011 637l9 12 0-1z" class="c67 a18"/><path d="M932 701l1 1 9 14-1-1z" class="c65 a15"/><path d="M935 742l1 0 8 0 0-1z" class="c64 a14"/><path d="M930 715l4 2 9 20-4-3z" class="c65 a14"/><path d="M934 700l1-3 9 3-1 1z" class="c66 a15"/><path d="M896 652l1 1 9 57-1 4z" class="c66 a15"/><path d="M929 745l2-3 9-1-2 2z" class="c64 a14"/><path d="M928 726l9 17-1 0z" class="c65 a14"/><path d="M969 763l9 12 0-1z" class="c64 a14"/><path d="M917 677l1-3 9 20-1 6z" class="c66 a15"/><path d="M934 708l1 2 9 15-2-2z" class="c65 a14"/><path d="M956 708l3-4 9 12-4 4z" class="c65 a15"/><path d="M1017 655l6 2 9 4-7-4z" class="c67 a18"/><path d="M1011 637l9 11-1 0z" class="c67 a18"/><path d="M963 765l2-2 9 11-2 2z" class="c64 a14"/><path d="M925 756l5-5 8-3-5 3z" class="c64 a14"/><path d="M1032 661l1 1 8 4-1-1z" class="c67 a19"/><path d="M935 742l9-1-1 0z" class="c65 a14"/><path d="M969 763l9 11-1 0z" class="c64 a14"/><path d="M854 724l1-6 8-76 0 1z" class="c66 a14"/><path d="M1033 689l3 0 9 16-4-1z" class="c66 a15"/><path d="M1095 789l7-2 8-7-6 4z" class="c64 a14"/><path d="M942 789l7 1 9 1-7-2z" class="c63 a14"/><path d="M947 759l1-1 9 11-2 2z" class="c64 a15"/><path d="M928 726l8 17z" class="c65 a14"/><path d="M968 763l1 0 8 11z" class="c64 a14"/><path d="M1010 636l1 1 8 11z" class="c67 a18"/><path d="M928 755l5-4 9 12-5 3z" class="c64 a14"/><path d="M934 741l1 1 8-1z" class="c65 a14"/><path d="M963 793l5 1 8 2-5-2z" class="c64 a14"/><path d="M1036 707l7 3 9 8-7-4z" class="c66 a16"/><path d="M965 763l1 0 8 11z" class="c64 a14"/><path d="M968 762l0 1 9 11-1 0z" class="c64 a14"/><path d="M995 728l5-10 8 13-5 7z" class="c65 a15"/><path d="M927 726l1 0 8 17 0-1z" class="c65 a14"/><path d="M965 754l4 2 9 10-4-1z" class="c64 a14"/><path d="M931 700l1 1 9 14-1-1z" class="c66 a15"/><path d="M966 763l9 11-1 0z" class="c64 a14"/><path d="M1010 636l9 12 0-1z" class="c67 a18"/><path d="M1008 643l7 3 8 11-6-2z" class="c67 a18"/><path d="M967 762l1 0 8 12z" class="c64 a14"/><path d="M966 763l9 11z" class="c64 a14"/><path d="M920 728l3-3 8 17-2 3z" class="c65 a14"/><path d="M934 741l9 0 0-1z" class="c65 a14"/><path d="M931 742l1 0 8-1z" class="c65 a14"/><path d="M966 763l1-1 8 12z" class="c64 a14"/><path d="M927 725l0 1 9 16-1 0z" class="c65 a14"/><path d="M948 758l2-1 9 11-2 1z" class="c65 a15"/><path d="M967 762l9 12z" class="c64 a14"/><path d="M967 762l9 12-1 0z" class="c64 a14"/><path d="M1010 636l9 11-1 0z" class="c68 a18"/><path d="M1036 709l4 2 9 21-4-4z" class="c66 a15"/><path d="M899 724l5-5 9 17-5 6z" class="c65 a15"/><path d="M877 720l5-5 9 17-5 5z" class="c66 a15"/><path d="M1038 675l6 6 9 15-7-4z" class="c67 a16"/><path d="M932 742l0-1 8 0z" class="c65 a14"/><path d="M1028 700l7 2 8 8-7-3z" class="c66 a15"/><path d="M1102 787l3 1 9-10-4 2z" class="c64 a14"/><path d="M934 741l9-1-1 0z" class="c65 a14"/><path d="M932 707l2 1 8 15-1-1z" class="c66 a14"/><path d="M959 647l5 3 8 22-4-4z" class="c67 a14"/><path d="M897 653l1 0 9 52-1 5z" class="c67 a15"/><path d="M926 725l1 0 8 17z" class="c65 a14"/><path d="M1009 636l1 0 8 11z" class="c68 a18"/><path d="M944 700l3-3 9 11-4 4z" class="c66 a15"/><path d="M932 741l9-1-1 1z" class="c65 a14"/><path d="M1105 788l3 1 9-14-3 3z" class="c64 a14"/><path d="M1009 635l0 1 9 11z" class="c68 a18"/><path d="M966 792l5 2 9 15-5-1z" class="c64 a14"/><path d="M933 740l1 1 8-1z" class="c65 a14"/><path d="M930 699l1 1 9 14-1 0z" class="c66 a15"/><path d="M975 647l6-4 9 20-7 6z" class="c68 a14"/><path d="M1147 726l0-13 9 62-1 7z" class="c65 a15"/><path d="M926 725l9 17-1-1z" class="c66 a14"/><path d="M961 745l3 2 9 10-4-1z" class="c65 a14"/><path d="M932 741l1-1 8 0z" class="c65 a14"/><path d="M1009 635l9 12-1 0z" class="c68 a18"/><path d="M1108 789l5 1 8-19-4 4z" class="c65 a14"/><path d="M1034 660l6 5 9 13-7-5z" class="c67 a17"/><path d="M1138 781l1-6 8-76 0 14z" class="c66 a15"/><path d="M950 757l2-2 9 12-2 1z" class="c65 a15"/><path d="M964 753l1 1 9 11-1-1z" class="c65 a14"/><path d="M933 740l9 0-1 0z" class="c66 a14"/><path d="M985 674l7-6 8-2-6 6z" class="c67 a15"/><path d="M1008 635l1 0 8 12z" class="c68 a18"/><path d="M923 725l9 17-1 0z" class="c66 a14"/><path d="M933 740l8 0z" class="c66 a14"/><path d="M910 713l2 8 8-33-1-2z" class="c67 a14"/><path d="M948 744l4 3 9-2-4-2z" class="c66 a14"/><path d="M930 751l1-2 9-2-2 1z" class="c65 a14"/><path d="M926 724l0 1 8 16z" class="c66 a14"/><path d="M1113 790l4 1 9-23-5 3z" class="c65 a15"/><path d="M1036 668l6 5 9 13-7-5z" class="c67 a16"/><path d="M1008 635l9 12 0-1z" class="c68 a18"/><path d="M1026 687l7 2 8 15-6-2z" class="c67 a15"/><path d="M927 694l3-14 9 8-4 9z" class="c67 a15"/><path d="M990 663l3-3 9-1-3 3z" class="c68 a14"/><path d="M923 725l9 16 0 1z" class="c66 a14"/><path d="M964 753l9 11-1 0z" class="c65 a14"/><path d="M1008 635l9 11-1 0z" class="c68 a18"/><path d="M888 644l2 1 8 75-1-7z" class="c67 a15"/><path d="M925 724l1 0 8 17z" class="c66 a14"/><path d="M852 708l5-5 8-2-5 5z" class="c67 a15"/><path d="M931 706l1 1 9 15-1-1z" class="c67 a14"/><path d="M1117 791l5 1 8-28-4 4z" class="c65 a15"/><path d="M981 669l4 5 9-2-5-5z" class="c68 a15"/><path d="M923 725l1-1 8 17z" class="c66 a14"/><path d="M1007 635l1 0 8 11z" class="c68 a17"/><path d="M929 698l1 1 9 15-1-1z" class="c67 a14"/><path d="M926 713l4 2 9 19-4-3z" class="c66 a14"/><path d="M898 653l1 1 8 47 0 4z" class="c68 a15"/><path d="M857 714l7-6 8 17-7 6z" class="c67 a14"/><path d="M925 724l9 17-1-1z" class="c66 a14"/><path d="M880 667l4 7 8 41-4-11z" class="c67 a15"/><path d="M1007 634l0 1 9 11z" class="c69 a17"/><path d="M933 751l5-3 9 11-5 4z" class="c66 a14"/><path d="M924 724l9 16-1 1z" class="c66 a14"/><path d="M963 753l1 0 8 11-1 0z" class="c66 a14"/><path d="M952 755l3-1 8 11-2 2z" class="c66 a15"/><path d="M958 791l5 2 8 1-5-2z" class="c65 a14"/><path d="M1007 634l9 12-1 0z" class="c69 a17"/><path d="M931 749l2-1 9-3-2 2z" class="c66 a14"/><path d="M936 787l6 2 9 0-7-2z" class="c65 a14"/><path d="M888 702l0 2 9-13-1-1z" class="c67 a15"/><path d="M1025 657l7 4 8 4-6-5z" class="c68 a18"/><path d="M924 724l1 0 8 16z" class="c66 a14"/><path d="M959 704l3-4 9 11-3 5z" class="c67 a15"/><path d="M924 724l9 16z" class="c66 a14"/><path d="M849 690l0-14 9-21 0 8z" class="c68 a14"/><path d="M848 717l7-6 9-3-7 6z" class="c67 a14"/><path d="M1006 634l1 0 8 12z" class="c69 a17"/><path d="M1013 725l7-9 9 23-7 4z" class="c67 a14"/><path d="M935 697l4-9 8 9-3 3z" class="c67 a15"/><path d="M962 752l1 1 8 11 0-1z" class="c66 a14"/><path d="M855 718l0-7 9-70-1 1z" class="c68 a14"/><path d="M1033 718l4 3 8 16-3-5z" class="c67 a14"/><path d="M843 691l5-13 8 9-5 9z" class="c68 a14"/><path d="M962 752l9 11-1 0z" class="c66 a14"/><path d="M963 664l5 4 8-3-4-5z" class="c68 a14"/><path d="M904 719l2-2 8 18-1 1z" class="c67 a15"/><path d="M961 752l1 0 8 11z" class="c66 a14"/><path d="M930 705l1 1 9 15-2-1z" class="c67 a14"/><path d="M947 744l1 0 9-1-1 0z" class="c66 a14"/><path d="M928 697l1 1 9 15-1-1z" class="c67 a14"/><path d="M851 696l5-9 9 8-5 5z" class="c68 a15"/><path d="M961 752l9 11-1 0z" class="c66 a14"/><path d="M955 754l2-2 8 11-2 2z" class="c66 a15"/><path d="M882 715l4-3 8 16-3 4z" class="c67 a15"/><path d="M961 752l8 11z" class="c66 a14"/><path d="M1010 652l7 3 8 2-6-4z" class="c69 a17"/><path d="M957 743l4 2 8 11-4-2z" class="c67 a14"/><path d="M947 697l4-4 8 11-3 4z" class="c68 a15"/><path d="M933 748l2-2 9-2-2 1z" class="c67 a14"/><path d="M899 654l1 1 8 41-1 5z" class="c68 a15"/><path d="M959 789l7 3 9 16-7-2z" class="c65 a14"/><path d="M974 707l4-5 8 13-3 9z" class="c68 a14"/><path d="M960 752l1 0 8 11z" class="c66 a14"/><path d="M946 743l1 1 9-1-1-1z" class="c67 a14"/><path d="M938 748l2-1 8 11-1 1z" class="c67 a14"/><path d="M1001 640l7 3 9 12-7-3z" class="c69 a16"/><path d="M1032 703l4 4 9 7-5-3z" class="c68 a16"/><path d="M960 751l0 1 9 11-1 0z" class="c67 a14"/><path d="M993 660l4-4 8 0-3 3z" class="c69 a14"/><path d="M981 643l4-3 8 20-3 3z" class="c69 a14"/><path d="M957 752l9 11-1 0z" class="c67 a14"/><path d="M1034 675l4 0 8 17-3-1z" class="c68 a16"/><path d="M957 752l1 0 8 11z" class="c67 a14"/><path d="M959 751l1 0 8 12 0-1z" class="c67 a14"/><path d="M887 700l1 2 8-12-1-1z" class="c68 a15"/><path d="M1032 707l4 2 9 19-5-4z" class="c68 a15"/><path d="M986 715l5-7 9 10-5 10z" class="c68 a15"/><path d="M958 752l0-1 8 12z" class="c67 a14"/><path d="M1019 686l7 1 9 15-7-2z" class="c68 a14"/><path d="M927 696l1 1 9 15-1-1z" class="c68 a14"/><path d="M906 717l1-2 9 18-2 2z" class="c68 a15"/><path d="M1189 753l0 7 9-52-1-15z" class="c68 a14"/><path d="M955 645l4 2 9 21-5-4z" class="c69 a14"/><path d="M959 751l9 11-1 0z" class="c67 a14"/><path d="M929 704l1 1 8 15-1-1z" class="c68 a14"/><path d="M900 655l1 2 9 37-2 2z" class="c69 a15"/><path d="M958 751l9 11-1 1z" class="c67 a14"/><path d="M1023 696l5 4 8 7-4-4z" class="c68 a14"/><path d="M945 743l1 0 9-1-1 0z" class="c67 a14"/><path d="M940 747l2-2 8 12-2 1z" class="c67 a14"/><path d="M959 751l8 11z" class="c67 a14"/><path d="M958 751l1 0 8 11z" class="c67 a14"/><path d="M901 657l2 1 9 33-2 3z" class="c69 a15"/><path d="M857 703l3-3 8-2-3 3z" class="c68 a15"/><path d="M1027 717l6 1 9 14-7 4z" class="c68 a14"/><path d="M1000 630l6 4 9 12-7-3z" class="c70 a17"/><path d="M1020 716l7 1 8 19-6 3z" class="c68 a14"/><path d="M909 710l1 3 9-27-2-2z" class="c68 a14"/><path d="M935 746l3-3 8-1-2 2z" class="c67 a14"/><path d="M922 711l4 2 9 18-4-3z" class="c68 a14"/><path d="M945 742l0 1 9-1 0-1z" class="c67 a14"/><path d="M956 743l1 0 8 11-1-1z" class="c67 a14"/><path d="M1031 674l3 1 9 16-4-1z" class="c69 a16"/><path d="M951 789l7 2 8 1-7-3z" class="c66 a14"/><path d="M903 658l1 0 8 31 0 2z" class="c69 a15"/><path d="M945 742l9-1-1 0z" class="c68 a14"/><path d="M926 695l1 1 9 15-1-1z" class="c69 a14"/><path d="M942 745l2-1 8 11-2 2z" class="c68 a14"/><path d="M955 742l1 1 8 10z" class="c68 a14"/><path d="M992 668l7-6 8-1-7 5z" class="c70 a15"/><path d="M944 742l1 0 8-1z" class="c68 a14"/><path d="M927 702l2 2 8 15-1-1z" class="c69 a14"/><path d="M962 700l4-3 8 10-3 4z" class="c69 a14"/><path d="M855 711l0-6 9-65 0 1z" class="c70 a14"/><path d="M907 715l3-2 8 17-2 3z" class="c68 a15"/><path d="M1197 693l1 15 8 63 0-8z" class="c68 a15"/><path d="M944 741l0 1 9-1-1 0z" class="c68 a14"/><path d="M887 643l1 1 9 69-1-8z" class="c70 a15"/><path d="M985 640l3-2 9 18-4 4z" class="c70 a14"/><path d="M864 708l5-5 8 17-5 5z" class="c69 a14"/><path d="M918 674l4-9 8 15-3 14z" class="c70 a15"/><path d="M954 742l1 0 9 11-1 0z" class="c68 a14"/><path d="M943 741l1 0 8 0 0-1z" class="c68 a14"/><path d="M938 743l2-2 8 0-2 1z" class="c68 a14"/><path d="M886 697l1 3 8-11-1-2z" class="c69 a15"/><path d="M1027 674l4 0 8 16-3-1z" class="c70 a16"/><path d="M997 656l3-3 9-1-4 4z" class="c70 a14"/><path d="M951 693l3-3 8 10-3 4z" class="c69 a15"/><path d="M855 711l5-5 9-3-5 5z" class="c69 a14"/><path d="M886 712l5-5 8 17-5 4z" class="c69 a15"/><path d="M943 741l9-1z" class="c68 a14"/><path d="M904 658l1-1 8 29-1 3z" class="c70 a15"/><path d="M954 741l0 1 9 11-1-1z" class="c68 a14"/><path d="M944 744l2-2 9 12-3 1z" class="c68 a14"/><path d="M953 787l6 2 9 17-7-1z" class="c67 a14"/><path d="M922 710l0 1 9 17-1 0z" class="c69 a15"/><path d="M925 693l1 2 9 15-1-2z" class="c69 a14"/><path d="M953 741l1 0 8 11z" class="c68 a14"/><path d="M943 740l0 1 9-1-1 0z" class="c68 a14"/><path d="M940 741l9-1-1 1z" class="c68 a14"/><path d="M953 741l9 11-1 0z" class="c68 a14"/><path d="M1000 718l5-11 8 18-5 6z" class="c69 a15"/><path d="M942 740l1 0 8 0z" class="c69 a14"/><path d="M926 701l1 1 9 16-2-1z" class="c69 a14"/><path d="M960 661l3 3 9-4-4-3z" class="c71 a14"/><path d="M940 741l9-1z" class="c69 a14"/><path d="M1027 655l7 5 8 13-6-5z" class="c71 a16"/><path d="M976 665l5 4 8-2-4-6z" class="c71 a15"/><path d="M952 741l1 0 8 11z" class="c69 a14"/><path d="M1027 700l5 3 8 8-4-2z" class="c70 a15"/><path d="M1024 674l3 0 9 15-3 0z" class="c70 a15"/><path d="M940 741l1-1 8 0z" class="c69 a14"/><path d="M921 710l1 0 8 18-1-1z" class="c69 a15"/><path d="M942 740l9 0-1 0z" class="c69 a14"/><path d="M879 665l1 2 8 37 0-2z" class="c70 a15"/><path d="M860 700l5-5 8-2-5 5z" class="c70 a15"/><path d="M952 740l0 1 9 11z" class="c69 a14"/><path d="M941 740l9 0-1 0z" class="c69 a14"/><path d="M910 713l2-2 8 17-2 2z" class="c69 a15"/><path d="M988 638l3-1 9 16-3 3z" class="c71 a14"/><path d="M994 672l6-6 9 4-7 2z" class="c71 a15"/><path d="M951 643l4 2 8 19-3-3z" class="c71 a14"/><path d="M946 742l2-1 9 11-2 2z" class="c69 a14"/><path d="M995 636l6 4 9 12-7-2z" class="c71 a15"/><path d="M1028 705l4 2 8 17-3-3z" class="c70 a15"/><path d="M1029 662l7 6 8 13-6-6z" class="c71 a16"/><path d="M1003 650l7 2 9 1-7-4z" class="c71 a15"/><path d="M939 688l3-9 9 14-4 4z" class="c70 a15"/><path d="M941 740l1 0 8 0 0-1z" class="c69 a14"/><path d="M885 696l1 1 8-10 0-1z" class="c70 a15"/><path d="M941 740l9-1 0 1z" class="c69 a14"/><path d="M952 740l9 12-1 0z" class="c69 a14"/><path d="M1019 653l6 4 9 3-7-5z" class="c71 a16"/><path d="M951 740l1 0 8 12 0-1z" class="c69 a14"/><path d="M920 709l1 1 8 17-1-1z" class="c70 a15"/><path d="M905 657l1-1 9 27-2 3z" class="c71 a15"/><path d="M1015 681l4 5 9 14-5-4z" class="c70 a14"/><path d="M948 741l1-1 8 12z" class="c69 a14"/><path d="M924 692l1 1 9 15-2-1z" class="c70 a14"/><path d="M951 740l9 11-1 0z" class="c69 a14"/><path d="M856 687l5-9 9 13-5 4z" class="c71 a15"/><path d="M949 740l9 12-1 0z" class="c69 a14"/><path d="M978 702l5-3 8 9-5 7z" class="c70 a14"/><path d="M905 704l4 6 8-26-4-2z" class="c70 a14"/><path d="M949 740l9 11 0 1z" class="c69 a14"/><path d="M944 787l7 2 8 0-6-2z" class="c68 a15"/><path d="M950 740l1 0 8 11z" class="c69 a14"/><path d="M919 709l1 0 8 17z" class="c70 a15"/><path d="M1000 653l3-3 9-1-3 3z" class="c72 a15"/><path d="M885 695l0 1 9-10-1 0z" class="c71 a15"/><path d="M949 740l1 0 8 11z" class="c69 a14"/><path d="M999 662l3-3 8-1-3 3z" class="c71 a14"/><path d="M950 739l0 1 9 11z" class="c69 a14"/><path d="M1019 691l4 5 9 7-5-3z" class="c71 a14"/><path d="M950 740l0-1 9 12-1 0z" class="c69 a14"/><path d="M991 637l4-1 8 14-3 3z" class="c72 a15"/><path d="M855 705l1-6 8-59z" class="c71 a14"/><path d="M919 709l9 17z" class="c70 a15"/><path d="M966 697l3-4 9 9-4 5z" class="c71 a14"/><path d="M1017 673l7 1 9 15-7-2z" class="c71 a15"/><path d="M993 627l7 3 8 13-7-3z" class="c72 a16"/><path d="M954 690l3-4 9 11-4 3z" class="c71 a14"/><path d="M989 667l5 5 8 0-4-5z" class="c71 a15"/><path d="M919 709l9 17-1 0z" class="c70 a15"/><path d="M922 699l4 2 8 16-4-2z" class="c70 a14"/><path d="M878 664l1 1 9 37-1-2z" class="c71 a15"/><path d="M912 711l2-2 9 16-3 3z" class="c70 a15"/><path d="M869 703l5-4 8 16-5 5z" class="c71 a14"/><path d="M884 694l1 1 8-9 0-1z" class="c71 a15"/><path d="M918 708l1 1 8 17 0-1z" class="c70 a15"/><path d="M923 691l1 1 8 15-1-1z" class="c71 a14"/><path d="M906 656l1-1 9 25-1 3z" class="c72 a15"/><path d="M918 708l9 17-1 0z" class="c71 a15"/><path d="M860 706l5-5 9-2-5 4z" class="c71 a14"/><path d="M891 707l5-5 8 17-5 5z" class="c71 a15"/><path d="M917 708l1 0 8 17z" class="c71 a15"/><path d="M886 642l1 1 9 62-2-7z" class="c72 a15"/><path d="M1000 666l7-5 9 6-7 3z" class="c72 a15"/><path d="M914 709l0-1 9 17z" class="c71 a15"/><path d="M1147 713l0-14 9 69 0 7z" class="c70 a15"/><path d="M884 693l0 1 9-9 0-1z" class="c72 a15"/><path d="M1139 775l0-7 9-83-1 14z" class="c71 a15"/><path d="M948 641l3 2 9 18-3-3z" class="c73 a14"/><path d="M917 708l9 17 0-1z" class="c71 a15"/><path d="M1025 703l3 2 9 16-4-3z" class="c71 a15"/><path d="M914 708l1 0 8 17z" class="c71 a15"/><path d="M917 708l9 16-1 0z" class="c71 a15"/><path d="M957 658l3 3 8-4-3-4z" class="c73 a14"/><path d="M865 695l5-4 8-3-5 5z" class="c72 a15"/><path d="M1023 697l4 3 9 9-4-2z" class="c71 a15"/><path d="M915 708l9 16-1 1z" class="c71 a15"/><path d="M1026 663l3-1 9 13-4 0z" class="c72 a15"/><path d="M1002 659l3-3 9-1-4 3z" class="c73 a14"/><path d="M877 664l1 0 9 36-1-3z" class="c72 a15"/><path d="M916 707l1 1 8 16z" class="c71 a15"/><path d="M1022 665l4-2 8 12-3-1z" class="c72 a15"/><path d="M915 708l0-1 9 17z" class="c71 a15"/><path d="M921 689l2 2 8 15-1-1z" class="c72 a14"/><path d="M884 692l0 1 9-9-1 0z" class="c72 a15"/><path d="M1011 672l6 1 9 14-7-1z" class="c72 a15"/><path d="M1019 666l3-1 9 9-4 0z" class="c72 a15"/><path d="M916 707l9 17-1 0z" class="c71 a15"/><path d="M907 655l2-1 8 23-1 3z" class="c73 a15"/><path d="M915 707l1 0 8 17z" class="c71 a15"/><path d="M991 708l5-7 9 6-5 11z" class="c72 a15"/><path d="M1009 670l7-3 3-1 8 8-3 0-7-1z" class="c73 a15"/><path d="M861 678l2-3 9 14-2 2z" class="c72 a15"/><path d="M930 680l3-15 9 14-3 9z" class="c73 a15"/><path d="M848 678l5-12 8 12-5 9z" class="c73 a15"/><path d="M942 679l3-5 9 16-3 3z" class="c72 a15"/><path d="M918 696l4 3 8 16-4-2z" class="c72 a14"/><path d="M960 628l6-3 9 22-7 5z" class="c74 a14"/><path d="M957 686l4-3 8 10-3 4z" class="c72 a14"/><path d="M955 627l5 1 8 24-4-2z" class="c74 a14"/><path d="M969 693l5-5 9 11-5 3z" class="c72 a14"/><path d="M856 699l0-6 9-54-1 1z" class="c73 a14"/><path d="M1007 661l3-3 9 8-3 1z" class="c73 a15"/><path d="M877 664l9 33-1-1z" class="c73 a15"/><path d="M883 691l1 1 8-8 0-1z" class="c72 a15"/><path d="M874 699l3-3 9 16-4 3z" class="c72 a14"/><path d="M1002 672l7-2 8 3-6-1z" class="c73 a15"/><path d="M849 676l1-15 8-13 0 7z" class="c73 a14"/><path d="M896 702l1-1 9 16-2 2z" class="c72 a15"/><path d="M983 699l5-4 8 6-5 7z" class="c72 a14"/><path d="M920 688l1 1 9 16-1-1z" class="c72 a14"/><path d="M972 660l4 5 9-4-5-5z" class="c73 a14"/><path d="M876 664l1 0 8 32 0-1z" class="c73 a15"/><path d="M865 701l3-3 9-2-3 3z" class="c72 a14"/><path d="M909 654l1-1 8 21-1 3z" class="c73 a15"/><path d="M883 690l0 1 9-8-1-1z" class="c73 a15"/><path d="M1005 656l4-4 8 0-3 3z" class="c74 a14"/><path d="M870 691l2-2 8-2-2 1z" class="c73 a15"/><path d="M901 698l4 6 8-22-4-2z" class="c73 a14"/><path d="M1010 677l5 4 8 15-4-5z" class="c73 a14"/><path d="M1014 687l5 4 8 9-4-3z" class="c73 a14"/><path d="M986 623l7 4 8 13-6-4z" class="c74 a15"/><path d="M1010 658l4-3 8 10-3 1z" class="c74 a14"/><path d="M876 663l0 1 9 31-1-1z" class="c73 a15"/><path d="M1020 649l7 6 9 13-7-6z" class="c74 a15"/><path d="M1012 649l7 4 8 2-7-6z" class="c74 a15"/><path d="M863 675l2-3 8 16-1 1z" class="c73 a15"/><path d="M941 640l7 1 9 17-7-4z" class="c74 a14"/><path d="M897 701l2-2 8 16-1 2z" class="c73 a15"/><path d="M882 689l1 1 8-8z" class="c73 a15"/><path d="M1020 694l3 3 9 10-4-2z" class="c73 a15"/><path d="M876 663l8 31 0-1z" class="c74 a15"/><path d="M1018 698l7 5 8 15-6-1z" class="c73 a15"/><path d="M872 689l1-1 9-3-2 2z" class="c73 a15"/><path d="M919 686l1 2 9 16-2-2z" class="c73 a14"/><path d="M966 625l7-2 8 20-6 4z" class="c75 a14"/><path d="M1188 746l1 7 8-60 0-14z" class="c73 a14"/><path d="M951 626l4 1 9 23-5-3z" class="c75 a14"/><path d="M885 640l1 2 8 56-1-7z" class="c74 a15"/><path d="M914 694l4 2 8 17-4-2z" class="c73 a14"/><path d="M875 663l1 0 8 30 0-1z" class="c74 a15"/><path d="M1014 655l3-3 9 11-4 2z" class="c74 a15"/><path d="M985 661l4 6 9 0-5-5z" class="c74 a15"/><path d="M882 687l0 2 9-7 0-1z" class="c74 a15"/><path d="M974 688l5-4 9 11-5 4z" class="c74 a14"/><path d="M1006 667l5 5 8 14-4-5z" class="c74 a14"/><path d="M945 674l4-4 8 16-3 4z" class="c74 a14"/><path d="M899 699l2-2 9 16-3 2z" class="c73 a15"/><path d="M961 683l5-5 8 10-5 5z" class="c74 a14"/><path d="M1009 652l3-3 8 0-3 3z" class="c75 a15"/><path d="M875 663l9 29-1-1z" class="c74 a15"/><path d="M950 654l7 4 8-5-7-5z" class="c75 a14"/><path d="M998 667l4 5 9 0-5-5z" class="c74 a15"/><path d="M877 696l5-5 9 16-5 5z" class="c74 a14"/><path d="M865 672l2-3 9 17-3 2z" class="c74 a15"/><path d="M873 688l3-2 8-3-2 2z" class="c74 a15"/><path d="M1005 707l6-15 9 24-7 9z" class="c74 a15"/><path d="M856 693l0-8 9-47 0 1z" class="c75 a14"/><path d="M882 686l0 1 9-6-1-1z" class="c74 a15"/><path d="M868 698l5-5 9-2-5 5z" class="c74 a14"/><path d="M917 684l2 2 8 16-1-1z" class="c74 a14"/><path d="M874 663l1 0 8 28 0-1z" class="c75 a15"/><path d="M973 623l3-2 9 19-4 3z" class="c76 a14"/><path d="M1197 679l0 14 9 70-1-7z" class="c74 a15"/><path d="M1017 652l3-3 9 13-3 1z" class="c75 a15"/><path d="M983 622l3 1 9 13-4 1z" class="c76 a15"/><path d="M910 653l3-2 9 14-4 9z" class="c75 a15"/><path d="M922 665l3-8 8 8-3 15z" class="c75 a15"/><path d="M913 694l1 0 8 17 0-1z" class="c74 a14"/><path d="M881 685l1 1 8-6z" class="c75 a15"/><path d="M874 663l9 27-1-1z" class="c75 a15"/><path d="M1016 692l4 2 8 11-3-2z" class="c74 a15"/><path d="M912 694l1 0 9 16-1 0z" class="c74 a14"/><path d="M946 625l5 1 8 21-4-2z" class="c76 a14"/><path d="M901 697l2-2 9 16-2 2z" class="c74 a15"/><path d="M876 686l2-2 8-3-2 2z" class="c75 a15"/><path d="M976 621l4-1 8 18-3 2z" class="c76 a14"/><path d="M881 685l9-5z" class="c75 a15"/><path d="M980 620l3 2 8 15-3 1z" class="c76 a15"/><path d="M874 663l8 26 0-2z" class="c75 a15"/><path d="M935 639l6 1 9 14-7-4z" class="c76 a14"/><path d="M1011 683l3 4 9 10-3-3z" class="c75 a14"/><path d="M911 693l1 1 9 16-1-1z" class="c75 a15"/><path d="M988 695l6-5 9 1-7 10z" class="c75 a14"/><path d="M968 657l4 3 8-4-3-4z" class="c76 a14"/><path d="M867 669l2-3 9 18-2 2z" class="c75 a15"/><path d="M881 684l0 1 9-5-1 0z" class="c75 a15"/><path d="M897 691l4 7 8-18-4-2z" class="c75 a14"/><path d="M883 639l2 1 8 51-1-4z" class="c76 a15"/><path d="M873 663l1 0 8 24 0-1z" class="c76 a15"/><path d="M911 693l9 16-1 0z" class="c75 a15"/><path d="M853 666l2-5 8 14-2 3z" class="c76 a15"/><path d="M1006 672l4 5 9 14-5-4z" class="c76 a14"/><path d="M910 693l1 0 8 16z" class="c75 a15"/><path d="M913 682l4 2 9 17-4-2z" class="c75 a14"/><path d="M880 683l1 1 8-4 0-1z" class="c76 a15"/><path d="M1011 692l7 6 9 19-7-1z" class="c75 a15"/><path d="M894 649l1-1 9 10-1 0z" class="c76 a14"/><path d="M979 684l7-6 8 12-6 5z" class="c76 a14"/><path d="M949 670l3-5 9 18-4 3z" class="c76 a14"/><path d="M873 663l9 23-1-1z" class="c76 a15"/><path d="M910 692l0 1 9 16z" class="c75 a15"/><path d="M1154 762l7-5 9-76-7-3z" class="c75 a14"/><path d="M903 695l3-3 8 17-2 2z" class="c75 a15"/><path d="M878 684l2-2 9-3-3 2z" class="c76 a15"/><path d="M910 692l9 17-1-1z" class="c75 a15"/><path d="M943 625l3 0 9 20-4-2z" class="c77 a14"/><path d="M966 678l5-6 8 12-5 4z" class="c76 a14"/><path d="M880 682l0 1 9-4z" class="c76 a15"/><path d="M872 662l1 1 8 22z" class="c76 a15"/><path d="M893 648l1 1 9 9-2-1z" class="c77 a14"/><path d="M909 692l1 0 8 16z" class="c76 a15"/><path d="M1148 766l6-4 9-84-7-3z" class="c75 a15"/><path d="M882 691l5-5 9 16-5 5z" class="c76 a14"/><path d="M909 692l9 16-1 0z" class="c76 a15"/><path d="M933 665l4-6 8 15-3 5z" class="c76 a15"/><path d="M873 693l5-5 9-2-5 5z" class="c76 a14"/><path d="M906 692l8 16 0 1z" class="c76 a15"/><path d="M872 662l9 23 0-1z" class="c76 a15"/><path d="M856 685l1-7 8-41 0 1z" class="c77 a14"/><path d="M895 648l1 0 2-1 1-1 1 0 9 8-2 1-1 1-1 1-1 1z" class="c77 a14"/><path d="M908 691l1 1 8 16z" class="c76 a15"/><path d="M906 692l9 16-1 0z" class="c76 a15"/><path d="M869 666l2-4 9 20-2 2z" class="c77 a15"/><path d="M908 691l9 17z" class="c76 a15"/><path d="M1010 691l6 1 9 11-7-5z" class="c76 a15"/><path d="M1147 699l1-14 8 76 0 7z" class="c75 a15"/><path d="M906 692l1-1 8 17z" class="c76 a15"/><path d="M1139 768l0-7 9-89 0 13z" class="c75 a15"/><path d="M872 662l9 22-1-1z" class="c77 a15"/><path d="M908 691l9 17-1-1z" class="c76 a15"/><path d="M1002 663l4 4 9 14-5-4z" class="c77 a14"/><path d="M907 691l8 16 0 1z" class="c76 a15"/><path d="M1161 757l7-7 8-73-6 4z" class="c76 a14"/><path d="M907 691l1 0 8 16z" class="c76 a15"/><path d="M907 691l9 16-1 0z" class="c76 a15"/><path d="M891 647l2 1 8 9-1-2z" class="c77 a14"/><path d="M980 656l5 5 8 1-4-5z" class="c77 a14"/><path d="M871 662l1 0 8 21 0-1z" class="c77 a15"/><path d="M896 690l1 1 8-13z" class="c77 a14"/><path d="M1008 680l3 3 9 11-4-2z" class="c77 a14"/><path d="M996 701l7-10 8 1-6 15z" class="c76 a15"/><path d="M913 651l3-3 9 9-3 8z" class="c77 a15"/><path d="M993 662l5 5 8 0-4-4z" class="c77 a14"/><path d="M939 624l4 1 8 18-3-2z" class="c78 a14"/><path d="M928 638l7 1 8 11-7-3z" class="c78 a14"/><path d="M994 690l7-5 9 6-7 0z" class="c77 a14"/><path d="M943 650l7 4 8-6-6-5z" class="c78 a14"/><path d="M909 680l4 2 9 17-4-3z" class="c77 a14"/><path d="M855 661l1-4 9 15-2 3z" class="c77 a15"/><path d="M900 646l1-1 4-2 8 8-3 2-1 1z" class="c78 a15"/><path d="M1141 762l7 4 8-91-6-2z" class="c76 a15"/><path d="M884 639l2 0 1 0 1-1 1 0 1 0 1-1 9 9-1 0-1 1-2 1-1 0-1 1-1-1z" class="c78 a14"/><path d="M887 686l2-2 8 17-1 1z" class="c77 a14"/><path d="M895 689l1 1 9-12-1-1z" class="c77 a14"/><path d="M965 653l3 4 9-5-3-4z" class="c78 a14"/><path d="M878 688l2-1 9-3-2 2z" class="c77 a14"/><path d="M1001 685l7-5 8 12-6-1z" class="c77 a14"/><path d="M879 636l4 3 9 48-4-6z" class="c78 a15"/><path d="M889 646l1 0 1 1 9 8-1-1-1-1z" class="c78 a14"/><path d="M933 626l6-2 9 17-7-1z" class="c79 a14"/><path d="M986 678l7-6 8 13-7 5z" class="c78 a14"/><path d="M1003 669l3 3 8 15-3-4z" class="c78 a14"/><path d="M952 665l5-7 9 20-5 5z" class="c78 a14"/><path d="M850 661l0-14 9-7-1 8z" class="c79 a14"/><path d="M894 687l1 2 9-12-1 0z" class="c78 a14"/><path d="M891 637l2 0 3-1 3-1 9 7-3 1-4 2-1 1z" class="c79 a14"/><path d="M889 684l1-1 9 16-2 2z" class="c78 a14"/><path d="M880 687l2-2 8-2-1 1z" class="c78 a14"/><path d="M926 627l7-1 8 14-6-1z" class="c79 a14"/><path d="M905 643l3-1 8 6-3 3z" class="c79 a15"/><path d="M880 638l1 0 1 0 1 0 1 1 9 9-2-1-1-1-1 0 0-1z" class="c79 a14"/><path d="M1168 750l4-3 9-73-5 3z" class="c77 a14"/><path d="M971 672l6-7 9 13-7 6z" class="c78 a14"/><path d="M857 678l0-8 9-34-1 1z" class="c79 a14"/><path d="M925 657l3-5 9 7-4 6z" class="c79 a15"/><path d="M888 645l1 0 0 1 9 7-1 0-1-1z" class="c79 a14"/><path d="M894 686l0 1 9-10-1-1z" class="c78 a14"/><path d="M905 678l4 2 9 16-4-2z" class="c78 a14"/><path d="M1003 691l7 0 8 7-7-6z" class="c78 a15"/><path d="M937 659l3-6 9 17-4 4z" class="c79 a14"/><path d="M923 637l5 1 8 9-5-3z" class="c79 a14"/><path d="M919 629l7-2 9 12-7-1z" class="c80 a14"/><path d="M893 686l1 0 8-10z" class="c78 a14"/><path d="M1139 761l2 1 9-89-2-1z" class="c78 a15"/><path d="M890 683l3-3 8 17-2 2z" class="c78 a14"/><path d="M916 648l4-2 8 6-3 5z" class="c79 a15"/><path d="M856 657l2-5 9 17-2 3z" class="c79 a15"/><path d="M882 685l2-2 9-3-3 3z" class="c79 a14"/><path d="M893 685l0 1 9-10z" class="c79 a14"/><path d="M1188 739l0 7 9-67-1-15z" class="c78 a14"/><path d="M1172 747l5-2 8-74-4 3z" class="c78 a14"/><path d="M899 635l4-1 3-1 3-1 5-1 5-2 9 9-5-1-5-1-3 2-4 2-3 2z" class="c80 a14"/><path d="M893 684l0 1 9-9-1 0z" class="c79 a14"/><path d="M876 637l1 1 1 0 1 0 1 0 9 7-1 0-1-1-1 0-1-1z" class="c80 a14"/><path d="M1170 681l6-4 9 79-7 2z" class="c78 a14"/><path d="M886 644l1 0 1 1 8 7-1-1-1-1z" class="c80 a14"/><path d="M908 642l3-2 4-2 8 5-3 3-4 2z" class="c80 a15"/><path d="M905 678l9 16-1 0z" class="c79 a14"/><path d="M997 658l5 5 8 14-4-5z" class="c79 a14"/><path d="M892 684l1 0 8-8z" class="c79 a14"/><path d="M977 652l3 4 9 1-4-4z" class="c80 a14"/><path d="M1163 678l7 3 8 77-6-1z" class="c78 a15"/><path d="M904 677l1 1 8 16-1 0z" class="c79 a14"/><path d="M893 680l2-2 8 17-2 2z" class="c79 a14"/><path d="M884 683l2-2 9-3-2 2z" class="c79 a14"/><path d="M892 683l0 1 9-8-1-1z" class="c79 a14"/><path d="M989 657l4 5 9 1-5-5z" class="c80 a14"/><path d="M1196 664l1 15 8 77 0-7z" class="c79 a15"/><path d="M993 672l6-7 9 15-7 5z" class="c80 a14"/><path d="M999 665l4 4 8 14-3-3z" class="c80 a14"/><path d="M936 647l7 3 9-7-7-5z" class="c81 a14"/><path d="M891 682l1 1 8-8z" class="c80 a14"/><path d="M1177 745l4-2 9-74-5 2z" class="c79 a14"/><path d="M903 677l1 0 8 17-1-1z" class="c80 a14"/><path d="M1176 677l5-3 8 80-4 2z" class="c79 a14"/><path d="M873 637l1 0 1 0 1 0 9 6-1 0-1-1-2-1z" class="c81 a14"/><path d="M920 646l3-3 9 5-4 4z" class="c81 a15"/><path d="M891 682l9-7z" class="c80 a14"/><path d="M902 676l1 1 8 16z" class="c80 a14"/><path d="M915 638l3-2 5 1 8 7-5-3-3 2z" class="c81 a14"/><path d="M884 643l1 0 1 1 8 6-1-1-1-1z" class="c81 a14"/><path d="M958 648l7 5 9-5-7-7z" class="c81 a14"/><path d="M902 676l9 17-1 0z" class="c80 a14"/><path d="M857 670l1-7 8-28 0 1z" class="c81 a14"/><path d="M875 633l4 3 9 45-4-7z" class="c81 a15"/><path d="M891 681l0 1 9-7-1 0z" class="c80 a14"/><path d="M902 676l8 17 0-1z" class="c80 a14"/><path d="M895 678l2-2 9 16-3 3z" class="c80 a14"/><path d="M886 681l3-2 8-3-2 2z" class="c80 a14"/><path d="M957 658l5-8 9 22-5 6z" class="c81 a14"/><path d="M1181 674l4-3 9 82-5 1z" class="c80 a14"/><path d="M928 652l4-4 8 5-3 6z" class="c81 a15"/><path d="M858 652l3-5 8 19-2 3z" class="c81 a15"/><path d="M901 676l1 0 8 16z" class="c80 a14"/><path d="M1181 743l4-2 8-74-3 2z" class="c80 a14"/><path d="M890 680l1 1 8-6 0-1z" class="c80 a14"/><path d="M901 676l9 16-1 0z" class="c80 a14"/><path d="M890 680l9-6-1 1z" class="c81 a14"/><path d="M890 680l8-5z" class="c81 a14"/><path d="M889 680l1 0 8-5z" class="c81 a14"/><path d="M977 665l7-7 9 14-7 6z" class="c81 a14"/><path d="M889 679l0 1 9-5-1 1z" class="c81 a14"/><path d="M889 679l8-3z" class="c81 a14"/><path d="M900 675l1 1 8 16z" class="c81 a14"/><path d="M940 653l4-6 8 18-3 5z" class="c81 a14"/><path d="M897 676l9 16z" class="c81 a14"/><path d="M870 637l1 0 2 0 8 4-1-1-1 0z" class="c82 a14"/><path d="M900 675l9 17-1-1z" class="c81 a14"/><path d="M897 676l1-1 8 17z" class="c81 a14"/><path d="M1156 675l7 3 9 79-7-1z" class="c80 a15"/><path d="M900 675l8 16z" class="c81 a14"/><path d="M1185 671l5-2 8 82-4 2z" class="c80 a14"/><path d="M898 675l9 16-1 1z" class="c81 a14"/><path d="M1185 741l3-2 8-75-3 3z" class="c80 a14"/><path d="M881 641l2 1 1 1 8 5-1-1-1-2z" class="c82 a14"/><path d="M899 675l1 0 8 16z" class="c81 a14"/><path d="M898 675l9 16z" class="c81 a14"/><path d="M899 674l0 1 9 16-1 0z" class="c81 a14"/><path d="M898 675l1-1 8 17z" class="c81 a14"/><path d="M1148 685l0-13 9 82-1 7z" class="c80 a15"/><path d="M923 643l3-2 9 3-3 4z" class="c82 a15"/><path d="M869 636l1 1 9 3-2-1z" class="c82 a14"/><path d="M931 644l5 3 9-9-5 3z" class="c82 a14"/><path d="M974 648l3 4 8 1-3-4z" class="c82 a14"/><path d="M994 654l3 4 9 14-3-3z" class="c82 a14"/><path d="M1190 669l3-2 9 83-4 1z" class="c81 a14"/><path d="M868 636l1 0 8 3-1-1z" class="c83 a14"/><path d="M926 641l5 3 9-3-5 3z" class="c83 a15"/><path d="M880 640l1 1 9 4-2-1z" class="c83 a14"/><path d="M1193 667l3-3 9 85-3 1z" class="c81 a15"/><path d="M985 653l4 4 8 1-3-4z" class="c83 a14"/><path d="M866 636l2 0 8 2-2-1z" class="c83 a14"/><path d="M858 663l0-8 9-20-1 0z" class="c83 a14"/><path d="M962 650l7 0 8 15-6 7z" class="c83 a14"/><path d="M861 647l2-4 8 19-2 4z" class="c83 a15"/><path d="M1150 673l6 2 9 81-7-1z" class="c82 a15"/><path d="M879 640l1 0 8 4-1-1z" class="c83 a14"/><path d="M932 648l3-4 9 3-4 6z" class="c83 a15"/><path d="M871 629l4 4 9 41-4-7z" class="c84 a15"/><path d="M850 647l1-14 8 0 0 7z" class="c84 a14"/><path d="M863 643l0-1 9 20-1 0z" class="c84 a15"/><path d="M877 639l2 1 8 3-1-1z" class="c84 a14"/><path d="M984 658l7-7 8 14-6 7z" class="c84 a13"/><path d="M863 642l1-1 8 21z" class="c84 a15"/><path d="M969 650l6 0 9 8-7 7z" class="c84 a14"/><path d="M864 641l0-1 8 22z" class="c84 a15"/><path d="M991 651l3 3 9 15-4-4z" class="c84 a13"/><path d="M864 640l9 23-1-1z" class="c84 a15"/><path d="M1148 672l2 1 8 82-1-1z" class="c83 a15"/><path d="M952 643l6 5 9-7-7-6z" class="c84 a14"/><path d="M967 641l7 7 8 1-7 1z" class="c84 a14"/><path d="M864 640l1-1 8 24z" class="c84 a15"/><path d="M944 647l5-9 8 20-5 7z" class="c84 a14"/><path d="M876 638l1 1 9 3-1-2z" class="c85 a14"/><path d="M865 639l0-1 9 25-1 0z" class="c84 a15"/><path d="M865 638l0-1 9 26z" class="c84 a15"/><path d="M865 637l1-1 8 27z" class="c85 a15"/><path d="M982 649l3 4 9 1-3-3z" class="c85 a13"/><path d="M858 655l0-7 9-14 0 1z" class="c85 a14"/><path d="M862 627l4 9 8 1-3-5z" class="c85 a14"/><path d="M866 636l0-1 9 28-1 0z" class="c85 a15"/><path d="M866 635l1 0 8 28z" class="c85 a15"/><path d="M874 637l2 1 9 2-2-1z" class="c85 a14"/><path d="M867 635l0-1 9 29-1 0z" class="c85 a15"/><path d="M975 650l7-1 9 2-7 7z" class="c85 a14"/><path d="M870 629l1 0 9 38-1-2z" class="c85 a15"/><path d="M867 634l0-1 9 30z" class="c85 a15"/><path d="M867 633l1-1 8 32 0-1z" class="c85 a15"/><path d="M868 632l0-1 9 33-1 0z" class="c86 a15"/><path d="M935 644l5-3 9-3-5 9z" class="c86 a14"/><path d="M868 631l1-1 8 34z" class="c86 a15"/><path d="M870 628l0 1 9 36-1-1z" class="c86 a15"/><path d="M869 630l1-2 8 36-1 0z" class="c86 a15"/><path d="M960 635l7 6 8 9-6 0z" class="c86 a14"/><path d="M871 632l3 5 9 2-4-3z" class="c87 a14"/><path d="M858 648l1-8 8-7 0 1z" class="c87 a14"/><path d="M945 638l7 5 8-8-6-7z" class="c88 a14"/><path d="M949 638l5-10 8 22-5 8z" class="c88 a14"/><path d="M940 641l5-3 9-10-5 10z" class="c88 a14"/><path d="M954 628l6 7 9 15-7 0z" class="c89 a14"/><path d="M858 619l4 8 9 5-4-6z" class="c89 a14"/><path d="M859 640l0-7 9-1-1 1z" class="c89 a14"/><path d="M851 633l0-14 9 6-1 8z" class="c89 a14"/><path d="M867 626l4 6 8 4-4-3z" class="c89 a14"/><path d="M859 633l1-8 8 6 0 1z" class="c91 a14"/><path d="M863 620l4 6 8 7-4-4z" class="c92 a14"/><path d="M854 611l4 8 9 7-4-6z" class="c93 a14"/><path d="M860 625l0-7 9 12-1 1z" class="c93 a14"/><path d="M862 619l1 1 8 9-1 0z" class="c94 a14"/><path d="M861 618l1 1 8 10 0-1z" class="c94 a14"/><path d="M860 618l1 0 9 10-1 2z" class="c94 a14"/><path d="M851 619l1-14 8 13 0 7z" class="c94 a14"/><path d="M853 609l1 2 9 9-1-1z" class="c95 a14"/><path d="M853 607l0 2 9 10-1-1z" class="c95 a14"/><path d="M852 605l1 2 8 11-1 0z" class="c95 a14"/></g>
<polyline points="479.8,314.1 488.3,338.0 496.8,336.0 505.4,336.0 513.9,350.0 522.5,356.9 531.0,379.8 539.5,423.0 548.1,415.0 556.6,410.0 565.2,382.0" fill="none" stroke="#111" stroke-width="1.3" stroke-linejoin="round"/>
</svg></body></html>
